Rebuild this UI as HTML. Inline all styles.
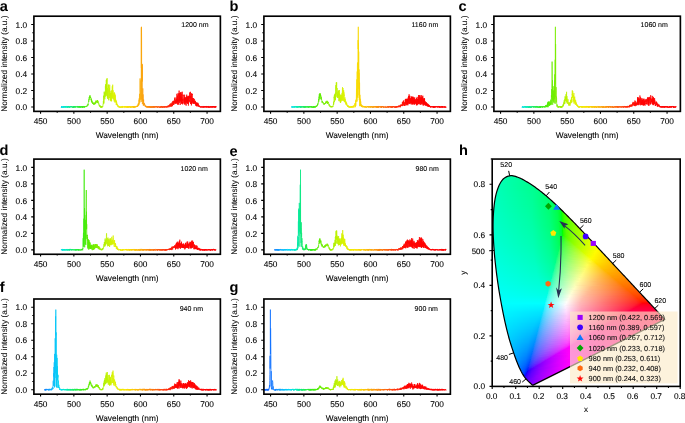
<!DOCTYPE html>
<html><head><meta charset="utf-8"><title>Figure</title>
<style>html,body{margin:0;padding:0;background:#fff;width:685px;height:423px;overflow:hidden}svg{display:block;filter:blur(0.45px)}text{font-family:"Liberation Sans",sans-serif;text-rendering:geometricPrecision}</style>
</head><body>
<svg width="685" height="423" viewBox="0 0 685 423" font-family='"Liberation Sans", sans-serif'><defs><linearGradient id="wl1" gradientUnits="userSpaceOnUse" x1="33.9" y1="0" x2="220.38" y2="0"><stop offset="0.0000" stop-color="#0a5aff"/><stop offset="0.0536" stop-color="#147dff"/><stop offset="0.1071" stop-color="#0abefa"/><stop offset="0.1429" stop-color="#00dcf0"/><stop offset="0.1714" stop-color="#00ebbe"/><stop offset="0.1929" stop-color="#0ae88c"/><stop offset="0.2143" stop-color="#19eb5a"/><stop offset="0.2500" stop-color="#2deb1e"/><stop offset="0.2857" stop-color="#50eb00"/><stop offset="0.3393" stop-color="#82ee00"/><stop offset="0.3857" stop-color="#b9f200"/><stop offset="0.4286" stop-color="#dcf200"/><stop offset="0.4821" stop-color="#f5e600"/><stop offset="0.5179" stop-color="#fad200"/><stop offset="0.5714" stop-color="#faaa0a"/><stop offset="0.6429" stop-color="#fa6e0a"/><stop offset="0.7143" stop-color="#ff280a"/><stop offset="0.7679" stop-color="#ff0000"/><stop offset="1.0000" stop-color="#ff0000"/></linearGradient><linearGradient id="wl2" gradientUnits="userSpaceOnUse" x1="263.9" y1="0" x2="450.38" y2="0"><stop offset="0.0000" stop-color="#0a5aff"/><stop offset="0.0536" stop-color="#147dff"/><stop offset="0.1071" stop-color="#0abefa"/><stop offset="0.1429" stop-color="#00dcf0"/><stop offset="0.1714" stop-color="#00ebbe"/><stop offset="0.1929" stop-color="#0ae88c"/><stop offset="0.2143" stop-color="#19eb5a"/><stop offset="0.2500" stop-color="#2deb1e"/><stop offset="0.2857" stop-color="#50eb00"/><stop offset="0.3393" stop-color="#82ee00"/><stop offset="0.3857" stop-color="#b9f200"/><stop offset="0.4286" stop-color="#dcf200"/><stop offset="0.4821" stop-color="#f5e600"/><stop offset="0.5179" stop-color="#fad200"/><stop offset="0.5714" stop-color="#faaa0a"/><stop offset="0.6429" stop-color="#fa6e0a"/><stop offset="0.7143" stop-color="#ff280a"/><stop offset="0.7679" stop-color="#ff0000"/><stop offset="1.0000" stop-color="#ff0000"/></linearGradient><linearGradient id="wl3" gradientUnits="userSpaceOnUse" x1="493.9" y1="0" x2="680.38" y2="0"><stop offset="0.0000" stop-color="#0a5aff"/><stop offset="0.0536" stop-color="#147dff"/><stop offset="0.1071" stop-color="#0abefa"/><stop offset="0.1429" stop-color="#00dcf0"/><stop offset="0.1714" stop-color="#00ebbe"/><stop offset="0.1929" stop-color="#0ae88c"/><stop offset="0.2143" stop-color="#19eb5a"/><stop offset="0.2500" stop-color="#2deb1e"/><stop offset="0.2857" stop-color="#50eb00"/><stop offset="0.3393" stop-color="#82ee00"/><stop offset="0.3857" stop-color="#b9f200"/><stop offset="0.4286" stop-color="#dcf200"/><stop offset="0.4821" stop-color="#f5e600"/><stop offset="0.5179" stop-color="#fad200"/><stop offset="0.5714" stop-color="#faaa0a"/><stop offset="0.6429" stop-color="#fa6e0a"/><stop offset="0.7143" stop-color="#ff280a"/><stop offset="0.7679" stop-color="#ff0000"/><stop offset="1.0000" stop-color="#ff0000"/></linearGradient><linearGradient id="wl4" gradientUnits="userSpaceOnUse" x1="33.9" y1="0" x2="220.38" y2="0"><stop offset="0.0000" stop-color="#0a5aff"/><stop offset="0.0536" stop-color="#147dff"/><stop offset="0.1071" stop-color="#0abefa"/><stop offset="0.1429" stop-color="#00dcf0"/><stop offset="0.1714" stop-color="#00ebbe"/><stop offset="0.1929" stop-color="#0ae88c"/><stop offset="0.2143" stop-color="#19eb5a"/><stop offset="0.2500" stop-color="#2deb1e"/><stop offset="0.2857" stop-color="#50eb00"/><stop offset="0.3393" stop-color="#82ee00"/><stop offset="0.3857" stop-color="#b9f200"/><stop offset="0.4286" stop-color="#dcf200"/><stop offset="0.4821" stop-color="#f5e600"/><stop offset="0.5179" stop-color="#fad200"/><stop offset="0.5714" stop-color="#faaa0a"/><stop offset="0.6429" stop-color="#fa6e0a"/><stop offset="0.7143" stop-color="#ff280a"/><stop offset="0.7679" stop-color="#ff0000"/><stop offset="1.0000" stop-color="#ff0000"/></linearGradient><linearGradient id="wl5" gradientUnits="userSpaceOnUse" x1="263.9" y1="0" x2="450.38" y2="0"><stop offset="0.0000" stop-color="#0a5aff"/><stop offset="0.0536" stop-color="#147dff"/><stop offset="0.1071" stop-color="#0abefa"/><stop offset="0.1429" stop-color="#00dcf0"/><stop offset="0.1714" stop-color="#00ebbe"/><stop offset="0.1929" stop-color="#0ae88c"/><stop offset="0.2143" stop-color="#19eb5a"/><stop offset="0.2500" stop-color="#2deb1e"/><stop offset="0.2857" stop-color="#50eb00"/><stop offset="0.3393" stop-color="#82ee00"/><stop offset="0.3857" stop-color="#b9f200"/><stop offset="0.4286" stop-color="#dcf200"/><stop offset="0.4821" stop-color="#f5e600"/><stop offset="0.5179" stop-color="#fad200"/><stop offset="0.5714" stop-color="#faaa0a"/><stop offset="0.6429" stop-color="#fa6e0a"/><stop offset="0.7143" stop-color="#ff280a"/><stop offset="0.7679" stop-color="#ff0000"/><stop offset="1.0000" stop-color="#ff0000"/></linearGradient><linearGradient id="wl6" gradientUnits="userSpaceOnUse" x1="33.9" y1="0" x2="220.38" y2="0"><stop offset="0.0000" stop-color="#0a5aff"/><stop offset="0.0536" stop-color="#147dff"/><stop offset="0.1071" stop-color="#0abefa"/><stop offset="0.1429" stop-color="#00dcf0"/><stop offset="0.1714" stop-color="#00ebbe"/><stop offset="0.1929" stop-color="#0ae88c"/><stop offset="0.2143" stop-color="#19eb5a"/><stop offset="0.2500" stop-color="#2deb1e"/><stop offset="0.2857" stop-color="#50eb00"/><stop offset="0.3393" stop-color="#82ee00"/><stop offset="0.3857" stop-color="#b9f200"/><stop offset="0.4286" stop-color="#dcf200"/><stop offset="0.4821" stop-color="#f5e600"/><stop offset="0.5179" stop-color="#fad200"/><stop offset="0.5714" stop-color="#faaa0a"/><stop offset="0.6429" stop-color="#fa6e0a"/><stop offset="0.7143" stop-color="#ff280a"/><stop offset="0.7679" stop-color="#ff0000"/><stop offset="1.0000" stop-color="#ff0000"/></linearGradient><linearGradient id="wl7" gradientUnits="userSpaceOnUse" x1="263.9" y1="0" x2="450.38" y2="0"><stop offset="0.0000" stop-color="#0a5aff"/><stop offset="0.0536" stop-color="#147dff"/><stop offset="0.1071" stop-color="#0abefa"/><stop offset="0.1429" stop-color="#00dcf0"/><stop offset="0.1714" stop-color="#00ebbe"/><stop offset="0.1929" stop-color="#0ae88c"/><stop offset="0.2143" stop-color="#19eb5a"/><stop offset="0.2500" stop-color="#2deb1e"/><stop offset="0.2857" stop-color="#50eb00"/><stop offset="0.3393" stop-color="#82ee00"/><stop offset="0.3857" stop-color="#b9f200"/><stop offset="0.4286" stop-color="#dcf200"/><stop offset="0.4821" stop-color="#f5e600"/><stop offset="0.5179" stop-color="#fad200"/><stop offset="0.5714" stop-color="#faaa0a"/><stop offset="0.6429" stop-color="#fa6e0a"/><stop offset="0.7143" stop-color="#ff280a"/><stop offset="0.7679" stop-color="#ff0000"/><stop offset="1.0000" stop-color="#ff0000"/></linearGradient><clipPath id="cieclip"><path d="M533.11 385.14 L533.06 385.14 L532.99 385.14 L532.91 385.14 L532.81 385.14 L532.72 385.13 L532.63 385.13 L532.54 385.12 L532.48 385.11 L532.43 385.10 L532.39 385.08 L532.36 385.06 L532.33 385.04 L532.31 385.02 L532.28 384.99 L532.25 384.96 L532.22 384.93 L532.18 384.91 L532.15 384.88 L532.11 384.84 L532.07 384.81 L532.03 384.78 L531.99 384.74 L531.94 384.70 L531.89 384.66 L531.84 384.61 L531.79 384.56 L531.73 384.51 L531.67 384.46 L531.61 384.41 L531.55 384.35 L531.49 384.29 L531.42 384.23 L531.35 384.16 L531.29 384.10 L531.22 384.03 L531.15 383.96 L531.07 383.88 L531.00 383.81 L530.92 383.73 L530.83 383.65 L530.75 383.56 L530.66 383.48 L530.57 383.39 L530.48 383.31 L530.38 383.21 L530.28 383.12 L530.17 383.02 L530.06 382.91 L529.94 382.80 L529.82 382.69 L529.69 382.58 L529.56 382.45 L529.43 382.33 L529.29 382.20 L529.15 382.07 L529.00 381.93 L528.85 381.79 L528.70 381.64 L528.54 381.50 L528.38 381.35 L528.21 381.19 L528.04 381.02 L527.87 380.85 L527.68 380.67 L527.50 380.47 L527.31 380.28 L527.11 380.08 L526.91 379.86 L526.70 379.64 L526.48 379.41 L526.26 379.16 L526.04 378.90 L525.81 378.63 L525.58 378.36 L525.35 378.08 L525.11 377.78 L524.86 377.47 L524.60 377.12 L524.33 376.74 L524.04 376.32 L523.75 375.87 L523.44 375.39 L523.12 374.89 L522.79 374.36 L522.45 373.79 L522.10 373.17 L521.74 372.51 L521.36 371.80 L520.98 371.05 L520.58 370.27 L520.18 369.45 L519.76 368.58 L519.33 367.66 L518.89 366.67 L518.43 365.61 L517.96 364.47 L517.47 363.27 L516.97 362.01 L516.45 360.68 L515.92 359.29 L515.38 357.82 L514.82 356.27 L514.25 354.63 L513.66 352.88 L513.04 351.05 L512.40 349.13 L511.75 347.14 L511.07 345.06 L510.39 342.88 L509.71 340.60 L509.02 338.21 L508.34 335.70 L507.67 333.08 L506.98 330.35 L506.29 327.52 L505.60 324.58 L504.91 321.54 L504.22 318.41 L503.54 315.19 L502.87 311.88 L502.20 308.46 L501.52 304.91 L500.85 301.26 L500.18 297.51 L499.52 293.71 L498.89 289.87 L498.29 286.01 L497.72 282.15 L497.18 278.26 L496.65 274.30 L496.15 270.29 L495.67 266.26 L495.22 262.22 L494.81 258.22 L494.44 254.27 L494.13 250.40 L493.85 246.58 L493.61 242.76 L493.41 238.97 L493.25 235.22 L493.14 231.53 L493.07 227.92 L493.06 224.40 L493.12 221.00 L493.23 217.67 L493.39 214.40 L493.60 211.20 L493.86 208.09 L494.18 205.08 L494.55 202.20 L494.98 199.47 L495.47 196.90 L496.02 194.47 L496.63 192.16 L497.30 189.98 L498.03 187.93 L498.80 186.03 L499.62 184.28 L500.47 182.70 L501.34 181.29 L502.26 180.07 L503.22 179.03 L504.24 178.16 L505.28 177.44 L506.36 176.86 L507.45 176.40 L508.55 176.05 L509.66 175.78 L510.78 175.64 L511.93 175.66 L513.09 175.82 L514.27 176.08 L515.46 176.42 L516.66 176.82 L517.85 177.26 L519.04 177.70 L520.22 178.18 L521.42 178.73 L522.62 179.35 L523.82 180.00 L525.02 180.69 L526.21 181.40 L527.39 182.12 L528.55 182.83 L529.70 183.54 L530.85 184.28 L531.98 185.02 L533.10 185.79 L534.21 186.57 L535.32 187.36 L536.43 188.16 L537.53 188.97 L538.63 189.79 L539.72 190.62 L540.80 191.47 L541.87 192.33 L542.95 193.19 L544.02 194.07 L545.09 194.96 L546.16 195.86 L547.23 196.77 L548.29 197.70 L549.36 198.63 L550.42 199.58 L551.48 200.53 L552.55 201.50 L553.60 202.47 L554.66 203.44 L555.72 204.43 L556.77 205.42 L557.83 206.42 L558.88 207.43 L559.93 208.45 L560.98 209.47 L562.03 210.49 L563.08 211.53 L564.13 212.56 L565.17 213.60 L566.22 214.65 L567.27 215.71 L568.32 216.76 L569.37 217.83 L570.42 218.89 L571.47 219.96 L572.52 221.04 L573.57 222.11 L574.62 223.20 L575.67 224.28 L576.73 225.37 L577.78 226.46 L578.83 227.56 L579.88 228.65 L580.93 229.75 L581.97 230.85 L583.02 231.95 L584.07 233.05 L585.11 234.16 L586.16 235.26 L587.20 236.36 L588.24 237.47 L589.29 238.57 L590.33 239.67 L591.37 240.78 L592.42 241.88 L593.46 242.98 L594.50 244.09 L595.53 245.19 L596.56 246.28 L597.59 247.38 L598.62 248.47 L599.64 249.57 L600.67 250.66 L601.68 251.75 L602.70 252.84 L603.71 253.92 L604.72 255.00 L605.72 256.07 L606.72 257.14 L607.72 258.21 L608.71 259.28 L609.70 260.34 L610.69 261.39 L611.66 262.44 L612.64 263.48 L613.61 264.52 L614.57 265.55 L615.53 266.58 L616.48 267.61 L617.43 268.62 L618.37 269.63 L619.30 270.63 L620.23 271.62 L621.15 272.60 L622.06 273.58 L622.97 274.54 L623.87 275.50 L624.76 276.45 L625.64 277.40 L626.51 278.33 L627.37 279.25 L628.22 280.16 L629.06 281.06 L629.90 281.96 L630.72 282.84 L631.53 283.72 L632.33 284.58 L633.11 285.42 L633.88 286.24 L634.63 287.05 L635.37 287.84 L636.10 288.62 L636.81 289.38 L637.51 290.13 L638.20 290.86 L638.88 291.59 L639.54 292.31 L640.21 293.01 L640.86 293.71 L641.50 294.40 L642.13 295.08 L642.75 295.74 L643.36 296.39 L643.95 297.02 L644.53 297.64 L645.09 298.24 L645.64 298.82 L646.17 299.39 L646.70 299.94 L647.21 300.48 L647.70 301.01 L648.19 301.53 L648.66 302.03 L649.12 302.53 L649.57 303.01 L650.01 303.48 L650.43 303.93 L650.85 304.38 L651.25 304.81 L651.64 305.23 L652.02 305.64 L652.39 306.04 L652.75 306.43 L653.10 306.80 L653.44 307.17 L653.77 307.52 L654.09 307.86 L654.40 308.20 L654.70 308.52 L655.00 308.84 L655.29 309.14 L655.56 309.44 L655.83 309.72 L656.09 310.00 L656.35 310.27 L656.60 310.54 L656.84 310.80 L657.08 311.05 L657.31 311.30 L657.53 311.53 L657.74 311.76 L657.95 311.99 L658.16 312.21 L658.36 312.43 L658.56 312.64 L658.75 312.85 L658.94 313.05 L659.13 313.25 L659.31 313.45 L659.48 313.64 L659.66 313.82 L659.83 314.00 L659.99 314.18 L660.15 314.35 L660.31 314.52 L660.46 314.69 L660.61 314.85 L660.75 315.00 L660.89 315.15 L661.03 315.30 L661.16 315.44 L661.30 315.58 L661.42 315.72 L661.55 315.84 L661.66 315.97 L661.78 316.09 L661.89 316.21 L662.00 316.32 L662.11 316.43 L662.21 316.54 L662.30 316.64 L662.39 316.74 L662.48 316.83 L662.57 316.93 L662.65 317.02 L662.73 317.10 L662.81 317.19 L662.89 317.27 L662.96 317.35 L663.03 317.43 L663.10 317.50 L663.17 317.57 L663.23 317.64 L663.29 317.70 L663.35 317.77 L663.41 317.83 L663.46 317.89 L663.52 317.95 L663.57 318.00 L663.62 318.05 L663.66 318.10 L663.71 318.15 L663.75 318.20 L663.79 318.24 L663.83 318.28 L663.86 318.32 L663.89 318.35 L663.92 318.38 L663.95 318.41 L663.98 318.44 L664.01 318.48 L664.04 318.51 L664.07 318.54 L664.09 318.57 L664.12 318.60 L664.15 318.62 L664.17 318.65 L664.20 318.68 L664.22 318.70 L664.24 318.73 L664.26 318.75 L664.29 318.77 L664.31 318.79 L664.32 318.82 L664.34 318.84 L664.36 318.86 L664.38 318.88 L664.41 318.90 L664.43 318.92 L664.45 318.95 L664.47 318.97 L664.49 318.99 L664.51 319.01 L664.53 319.04 L664.55 319.06 L664.57 319.08 L664.59 319.10 L664.61 319.12 L664.62 319.14 L664.64 319.16 L664.66 319.17 L664.67 319.19 L664.69 319.21 L664.70 319.22 L664.72 319.24 L664.73 319.25 L664.74 319.27 L664.75 319.28 L664.76 319.29 L664.77 319.30 L664.78 319.31 L664.79 319.32 L664.80 319.33 L664.81 319.33 L664.81 319.34 L664.82 319.35 L664.82 319.35 L664.83 319.36 L664.83 319.36 L664.84 319.36 L664.84 319.37 L664.84 319.37 L664.85 319.38 L664.85 319.38 L664.85 319.38 L664.85 319.38 L664.85 319.39 Z"/></clipPath><linearGradient id="r176" x1="0" x2="1" y1="0" y2="0"><stop offset="0.000" stop-color="#00ffac"/><stop offset="1.000" stop-color="#00ffa1"/></linearGradient><linearGradient id="r177" x1="0" x2="1" y1="0" y2="0"><stop offset="0.000" stop-color="#00ffae"/><stop offset="0.970" stop-color="#00ff9f"/></linearGradient><linearGradient id="r178" x1="0" x2="1" y1="0" y2="0"><stop offset="0.000" stop-color="#00ffb0"/><stop offset="0.976" stop-color="#00ff9d"/></linearGradient><linearGradient id="r179" x1="0" x2="1" y1="0" y2="0"><stop offset="0.000" stop-color="#00ffb1"/><stop offset="0.979" stop-color="#00ff9a"/></linearGradient><linearGradient id="r180" x1="0" x2="1" y1="0" y2="0"><stop offset="0.000" stop-color="#00ffb2"/><stop offset="0.981" stop-color="#00ff98"/></linearGradient><linearGradient id="r181" x1="0" x2="1" y1="0" y2="0"><stop offset="0.000" stop-color="#00ffb3"/><stop offset="0.982" stop-color="#00ff97"/></linearGradient><linearGradient id="r182" x1="0" x2="1" y1="0" y2="0"><stop offset="0.000" stop-color="#00ffb4"/><stop offset="1.000" stop-color="#00ff93"/></linearGradient><linearGradient id="r183" x1="0" x2="1" y1="0" y2="0"><stop offset="0.000" stop-color="#00ffb5"/><stop offset="1.000" stop-color="#00ff91"/></linearGradient><linearGradient id="r184" x1="0" x2="1" y1="0" y2="0"><stop offset="0.000" stop-color="#00ffb5"/><stop offset="1.000" stop-color="#00ff8f"/></linearGradient><linearGradient id="r185" x1="0" x2="1" y1="0" y2="0"><stop offset="0.000" stop-color="#00ffb6"/><stop offset="1.000" stop-color="#00ff8d"/></linearGradient><linearGradient id="r186" x1="0" x2="1" y1="0" y2="0"><stop offset="0.000" stop-color="#00ffb7"/><stop offset="0.949" stop-color="#00ff8e"/><stop offset="1.000" stop-color="#00ff8b"/></linearGradient><linearGradient id="r187" x1="0" x2="1" y1="0" y2="0"><stop offset="0.000" stop-color="#00ffb8"/><stop offset="0.902" stop-color="#00ff90"/><stop offset="1.000" stop-color="#00ff88"/></linearGradient><linearGradient id="r188" x1="0" x2="1" y1="0" y2="0"><stop offset="0.000" stop-color="#00ffb8"/><stop offset="0.894" stop-color="#00ff8f"/><stop offset="0.988" stop-color="#00ff88"/></linearGradient><linearGradient id="r189" x1="0" x2="1" y1="0" y2="0"><stop offset="0.000" stop-color="#00ffb9"/><stop offset="0.854" stop-color="#00ff91"/><stop offset="0.989" stop-color="#00ff85"/></linearGradient><linearGradient id="r190" x1="0" x2="1" y1="0" y2="0"><stop offset="0.000" stop-color="#00ffb9"/><stop offset="0.826" stop-color="#00ff91"/><stop offset="1.000" stop-color="#00ff81"/></linearGradient><linearGradient id="r191" x1="0" x2="1" y1="0" y2="0"><stop offset="0.000" stop-color="#00ffba"/><stop offset="0.800" stop-color="#00ff93"/><stop offset="0.989" stop-color="#00ff80"/></linearGradient><linearGradient id="r192" x1="0" x2="1" y1="0" y2="0"><stop offset="0.000" stop-color="#00ffbb"/><stop offset="0.776" stop-color="#00ff93"/><stop offset="1.000" stop-color="#00ff7c"/></linearGradient><linearGradient id="r193" x1="0" x2="1" y1="0" y2="0"><stop offset="0.000" stop-color="#00ffbb"/><stop offset="0.752" stop-color="#00ff95"/><stop offset="0.990" stop-color="#00ff7b"/></linearGradient><linearGradient id="r194" x1="0" x2="1" y1="0" y2="0"><stop offset="0.000" stop-color="#00ffbc"/><stop offset="0.731" stop-color="#00ff95"/><stop offset="1.000" stop-color="#00ff75"/></linearGradient><linearGradient id="r195" x1="0" x2="1" y1="0" y2="0"><stop offset="0.000" stop-color="#00ffbc"/><stop offset="0.729" stop-color="#00ff95"/><stop offset="0.991" stop-color="#00ff74"/></linearGradient><linearGradient id="r196" x1="0" x2="1" y1="0" y2="0"><stop offset="0.000" stop-color="#00ffbd"/><stop offset="0.716" stop-color="#00ff95"/><stop offset="0.991" stop-color="#00ff72"/></linearGradient><linearGradient id="r197" x1="0" x2="1" y1="0" y2="0"><stop offset="0.000" stop-color="#00ffbe"/><stop offset="0.690" stop-color="#00ff97"/><stop offset="0.991" stop-color="#00ff6d"/></linearGradient><linearGradient id="r198" x1="0" x2="1" y1="0" y2="0"><stop offset="0.000" stop-color="#00ffbe"/><stop offset="0.678" stop-color="#00ff97"/><stop offset="0.991" stop-color="#00ff6a"/></linearGradient><linearGradient id="r199" x1="0" x2="1" y1="0" y2="0"><stop offset="0.000" stop-color="#00ffbf"/><stop offset="0.661" stop-color="#00ff98"/><stop offset="0.966" stop-color="#00ff6c"/><stop offset="1.000" stop-color="#00ff64"/></linearGradient><linearGradient id="r200" x1="0" x2="1" y1="0" y2="0"><stop offset="0.000" stop-color="#00ffbf"/><stop offset="0.650" stop-color="#00ff99"/><stop offset="0.950" stop-color="#00ff6d"/><stop offset="1.000" stop-color="#00ff60"/></linearGradient><linearGradient id="r201" x1="0" x2="1" y1="0" y2="0"><stop offset="0.000" stop-color="#00ffc0"/><stop offset="0.634" stop-color="#00ff9a"/><stop offset="0.927" stop-color="#00ff6d"/><stop offset="0.992" stop-color="#00ff5b"/></linearGradient><linearGradient id="r202" x1="0" x2="1" y1="0" y2="0"><stop offset="0.000" stop-color="#00ffc0"/><stop offset="0.624" stop-color="#00ff9a"/><stop offset="0.912" stop-color="#00ff6e"/><stop offset="0.992" stop-color="#00ff56"/></linearGradient><linearGradient id="r203" x1="0" x2="1" y1="0" y2="0"><stop offset="0.000" stop-color="#00ffc1"/><stop offset="0.625" stop-color="#00ff9a"/><stop offset="0.906" stop-color="#00ff6d"/><stop offset="1.000" stop-color="#00ff4d"/></linearGradient><linearGradient id="r204" x1="0" x2="1" y1="0" y2="0"><stop offset="0.000" stop-color="#00ffc1"/><stop offset="0.615" stop-color="#00ff9a"/><stop offset="0.892" stop-color="#00ff6d"/><stop offset="1.000" stop-color="#00ff46"/></linearGradient><linearGradient id="r205" x1="0" x2="1" y1="0" y2="0"><stop offset="0.000" stop-color="#00ffc2"/><stop offset="0.606" stop-color="#00ff9b"/><stop offset="0.879" stop-color="#00ff6e"/><stop offset="0.985" stop-color="#00ff46"/><stop offset="1.000" stop-color="#00ff3d"/></linearGradient><linearGradient id="r206" x1="0" x2="1" y1="0" y2="0"><stop offset="0.000" stop-color="#00ffc2"/><stop offset="0.597" stop-color="#00ff9b"/><stop offset="0.866" stop-color="#00ff6e"/><stop offset="0.970" stop-color="#00ff47"/><stop offset="1.000" stop-color="#00ff32"/></linearGradient><linearGradient id="r207" x1="0" x2="1" y1="0" y2="0"><stop offset="0.000" stop-color="#00ffc3"/><stop offset="0.584" stop-color="#00ff9d"/><stop offset="0.847" stop-color="#00ff71"/><stop offset="0.964" stop-color="#00ff43"/><stop offset="0.993" stop-color="#00ff2c"/></linearGradient><linearGradient id="r208" x1="0" x2="1" y1="0" y2="0"><stop offset="0.000" stop-color="#00ffc3"/><stop offset="0.576" stop-color="#00ff9d"/><stop offset="0.835" stop-color="#00ff72"/><stop offset="0.950" stop-color="#00ff44"/><stop offset="0.978" stop-color="#00ff2d"/><stop offset="0.993" stop-color="#00ff19"/></linearGradient><linearGradient id="r209" x1="0" x2="1" y1="0" y2="0"><stop offset="0.000" stop-color="#00ffc4"/><stop offset="0.563" stop-color="#00ff9e"/><stop offset="0.817" stop-color="#00ff72"/><stop offset="0.930" stop-color="#00ff45"/><stop offset="0.958" stop-color="#00ff2e"/><stop offset="0.972" stop-color="#00ff1a"/><stop offset="0.986" stop-color="#14ff00"/><stop offset="1.000" stop-color="#2bff00"/></linearGradient><linearGradient id="r210" x1="0" x2="1" y1="0" y2="0"><stop offset="0.000" stop-color="#00ffc4"/><stop offset="0.556" stop-color="#00ff9f"/><stop offset="0.806" stop-color="#00ff73"/><stop offset="0.917" stop-color="#00ff46"/><stop offset="0.944" stop-color="#00ff2f"/><stop offset="0.958" stop-color="#00ff1b"/><stop offset="0.972" stop-color="#13ff00"/><stop offset="1.000" stop-color="#3aff00"/></linearGradient><linearGradient id="r211" x1="0" x2="1" y1="0" y2="0"><stop offset="0.000" stop-color="#00ffc4"/><stop offset="0.548" stop-color="#00ff9f"/><stop offset="0.795" stop-color="#00ff74"/><stop offset="0.904" stop-color="#00ff46"/><stop offset="0.932" stop-color="#00ff30"/><stop offset="0.945" stop-color="#00ff1d"/><stop offset="0.959" stop-color="#11ff00"/><stop offset="0.973" stop-color="#2aff00"/><stop offset="1.000" stop-color="#45ff00"/></linearGradient><linearGradient id="r212" x1="0" x2="1" y1="0" y2="0"><stop offset="0.000" stop-color="#00ffc5"/><stop offset="0.541" stop-color="#00ffa0"/><stop offset="0.784" stop-color="#00ff74"/><stop offset="0.892" stop-color="#00ff47"/><stop offset="0.932" stop-color="#00ff1e"/><stop offset="0.946" stop-color="#10ff00"/><stop offset="0.959" stop-color="#2aff00"/><stop offset="1.000" stop-color="#4fff00"/></linearGradient><linearGradient id="r213" x1="0" x2="1" y1="0" y2="0"><stop offset="0.000" stop-color="#00ffc6"/><stop offset="0.530" stop-color="#00ffa1"/><stop offset="0.768" stop-color="#00ff77"/><stop offset="0.874" stop-color="#00ff4c"/><stop offset="0.914" stop-color="#00ff2a"/><stop offset="0.927" stop-color="#00ff0f"/><stop offset="0.940" stop-color="#1fff00"/><stop offset="0.980" stop-color="#4aff00"/><stop offset="0.993" stop-color="#53ff00"/></linearGradient><linearGradient id="r214" x1="0" x2="1" y1="0" y2="0"><stop offset="0.000" stop-color="#00ffc6"/><stop offset="0.523" stop-color="#00ffa2"/><stop offset="0.758" stop-color="#00ff77"/><stop offset="0.863" stop-color="#00ff4d"/><stop offset="0.902" stop-color="#00ff2b"/><stop offset="0.915" stop-color="#00ff11"/><stop offset="0.928" stop-color="#1eff00"/><stop offset="0.954" stop-color="#3fff00"/><stop offset="0.993" stop-color="#5bff00"/></linearGradient><linearGradient id="r215" x1="0" x2="1" y1="0" y2="0"><stop offset="0.000" stop-color="#00ffc7"/><stop offset="0.516" stop-color="#00ffa2"/><stop offset="0.748" stop-color="#00ff78"/><stop offset="0.852" stop-color="#00ff4e"/><stop offset="0.890" stop-color="#00ff2c"/><stop offset="0.903" stop-color="#00ff13"/><stop offset="0.916" stop-color="#1dff00"/><stop offset="0.942" stop-color="#3fff00"/><stop offset="0.994" stop-color="#63ff00"/></linearGradient><linearGradient id="r216" x1="0" x2="1" y1="0" y2="0"><stop offset="0.000" stop-color="#00ffc7"/><stop offset="0.510" stop-color="#00ffa3"/><stop offset="0.739" stop-color="#00ff79"/><stop offset="0.841" stop-color="#00ff4e"/><stop offset="0.879" stop-color="#00ff2d"/><stop offset="0.892" stop-color="#00ff15"/><stop offset="0.904" stop-color="#1cff00"/><stop offset="0.930" stop-color="#3fff00"/><stop offset="0.994" stop-color="#6aff00"/></linearGradient><linearGradient id="r217" x1="0" x2="1" y1="0" y2="0"><stop offset="0.000" stop-color="#00ffc7"/><stop offset="0.503" stop-color="#00ffa3"/><stop offset="0.730" stop-color="#00ff79"/><stop offset="0.830" stop-color="#00ff4f"/><stop offset="0.868" stop-color="#00ff2e"/><stop offset="0.881" stop-color="#00ff17"/><stop offset="0.893" stop-color="#1bff00"/><stop offset="0.918" stop-color="#3fff00"/><stop offset="0.994" stop-color="#71ff00"/></linearGradient><linearGradient id="r218" x1="0" x2="1" y1="0" y2="0"><stop offset="0.000" stop-color="#00ffc8"/><stop offset="0.497" stop-color="#00ffa4"/><stop offset="0.720" stop-color="#00ff7a"/><stop offset="0.820" stop-color="#00ff50"/><stop offset="0.857" stop-color="#00ff2f"/><stop offset="0.870" stop-color="#00ff18"/><stop offset="0.882" stop-color="#19ff00"/><stop offset="0.907" stop-color="#3eff00"/><stop offset="0.981" stop-color="#71ff00"/><stop offset="0.994" stop-color="#77ff00"/></linearGradient><linearGradient id="r219" x1="0" x2="1" y1="0" y2="0"><stop offset="0.000" stop-color="#00ffc8"/><stop offset="0.491" stop-color="#00ffa5"/><stop offset="0.712" stop-color="#00ff7b"/><stop offset="0.810" stop-color="#00ff51"/><stop offset="0.847" stop-color="#00ff30"/><stop offset="0.859" stop-color="#00ff1a"/><stop offset="0.871" stop-color="#18ff00"/><stop offset="0.896" stop-color="#3eff00"/><stop offset="0.969" stop-color="#71ff00"/><stop offset="0.994" stop-color="#7dff00"/></linearGradient><linearGradient id="r220" x1="0" x2="1" y1="0" y2="0"><stop offset="0.000" stop-color="#00ffc9"/><stop offset="0.488" stop-color="#00ffa5"/><stop offset="0.707" stop-color="#00ff7c"/><stop offset="0.805" stop-color="#00ff52"/><stop offset="0.841" stop-color="#00ff31"/><stop offset="0.854" stop-color="#00ff1c"/><stop offset="0.866" stop-color="#17ff00"/><stop offset="0.890" stop-color="#3eff00"/><stop offset="0.963" stop-color="#72ff00"/><stop offset="1.000" stop-color="#83ff00"/></linearGradient><linearGradient id="r221" x1="0" x2="1" y1="0" y2="0"><stop offset="0.000" stop-color="#00ffc9"/><stop offset="0.482" stop-color="#00ffa6"/><stop offset="0.699" stop-color="#00ff7c"/><stop offset="0.795" stop-color="#00ff52"/><stop offset="0.831" stop-color="#00ff32"/><stop offset="0.843" stop-color="#00ff1d"/><stop offset="0.855" stop-color="#15ff00"/><stop offset="0.880" stop-color="#3eff00"/><stop offset="0.952" stop-color="#72ff00"/><stop offset="1.000" stop-color="#89ff00"/></linearGradient><linearGradient id="r222" x1="0" x2="1" y1="0" y2="0"><stop offset="0.000" stop-color="#00ffca"/><stop offset="0.476" stop-color="#00ffa7"/><stop offset="0.690" stop-color="#00ff7d"/><stop offset="0.786" stop-color="#00ff53"/><stop offset="0.821" stop-color="#00ff33"/><stop offset="0.833" stop-color="#00ff1e"/><stop offset="0.845" stop-color="#14ff00"/><stop offset="0.857" stop-color="#2eff00"/><stop offset="0.905" stop-color="#5dff00"/><stop offset="1.000" stop-color="#8eff00"/></linearGradient><linearGradient id="r223" x1="0" x2="1" y1="0" y2="0"><stop offset="0.000" stop-color="#00ffca"/><stop offset="0.471" stop-color="#00ffa7"/><stop offset="0.682" stop-color="#00ff7e"/><stop offset="0.776" stop-color="#00ff54"/><stop offset="0.812" stop-color="#00ff34"/><stop offset="0.824" stop-color="#00ff20"/><stop offset="0.835" stop-color="#12ff00"/><stop offset="0.847" stop-color="#2dff00"/><stop offset="0.894" stop-color="#5dff00"/><stop offset="1.000" stop-color="#94ff00"/></linearGradient><linearGradient id="r224" x1="0" x2="1" y1="0" y2="0"><stop offset="0.000" stop-color="#00ffcb"/><stop offset="0.477" stop-color="#00ffa6"/><stop offset="0.686" stop-color="#00ff7b"/><stop offset="0.779" stop-color="#00ff4c"/><stop offset="0.802" stop-color="#00ff35"/><stop offset="0.814" stop-color="#00ff21"/><stop offset="0.826" stop-color="#10ff00"/><stop offset="0.837" stop-color="#2dff00"/><stop offset="0.884" stop-color="#5dff00"/><stop offset="1.000" stop-color="#99ff00"/></linearGradient><linearGradient id="r225" x1="0" x2="1" y1="0" y2="0"><stop offset="0.000" stop-color="#00ffcb"/><stop offset="0.471" stop-color="#00ffa7"/><stop offset="0.678" stop-color="#00ff7b"/><stop offset="0.770" stop-color="#00ff4d"/><stop offset="0.805" stop-color="#00ff23"/><stop offset="0.816" stop-color="#0eff00"/><stop offset="0.828" stop-color="#2cff00"/><stop offset="0.874" stop-color="#5dff00"/><stop offset="0.989" stop-color="#9aff00"/><stop offset="1.000" stop-color="#9eff00"/></linearGradient><linearGradient id="r226" x1="0" x2="1" y1="0" y2="0"><stop offset="0.000" stop-color="#00ffcc"/><stop offset="0.466" stop-color="#00ffa8"/><stop offset="0.670" stop-color="#00ff7c"/><stop offset="0.761" stop-color="#00ff4e"/><stop offset="0.795" stop-color="#00ff24"/><stop offset="0.807" stop-color="#0bff00"/><stop offset="0.818" stop-color="#2cff00"/><stop offset="0.852" stop-color="#54ff00"/><stop offset="0.955" stop-color="#91ff00"/><stop offset="1.000" stop-color="#a3ff00"/></linearGradient><linearGradient id="r227" x1="0" x2="1" y1="0" y2="0"><stop offset="0.000" stop-color="#00ffcc"/><stop offset="0.461" stop-color="#00ffa8"/><stop offset="0.663" stop-color="#00ff7d"/><stop offset="0.753" stop-color="#00ff4f"/><stop offset="0.787" stop-color="#00ff25"/><stop offset="0.798" stop-color="#09ff00"/><stop offset="0.809" stop-color="#2bff00"/><stop offset="0.843" stop-color="#54ff00"/><stop offset="0.933" stop-color="#8cff00"/><stop offset="1.000" stop-color="#a8ff00"/></linearGradient><linearGradient id="r228" x1="0" x2="1" y1="0" y2="0"><stop offset="0.000" stop-color="#00ffcd"/><stop offset="0.456" stop-color="#00ffa9"/><stop offset="0.656" stop-color="#00ff7e"/><stop offset="0.744" stop-color="#00ff50"/><stop offset="0.778" stop-color="#00ff27"/><stop offset="0.789" stop-color="#06ff00"/><stop offset="0.800" stop-color="#2bff00"/><stop offset="0.833" stop-color="#54ff00"/><stop offset="0.922" stop-color="#8dff00"/><stop offset="1.000" stop-color="#adff00"/></linearGradient><linearGradient id="r229" x1="0" x2="1" y1="0" y2="0"><stop offset="0.000" stop-color="#00ffcd"/><stop offset="0.451" stop-color="#00ffaa"/><stop offset="0.648" stop-color="#00ff7f"/><stop offset="0.736" stop-color="#00ff51"/><stop offset="0.769" stop-color="#00ff28"/><stop offset="0.780" stop-color="#02ff00"/><stop offset="0.791" stop-color="#2aff00"/><stop offset="0.824" stop-color="#55ff00"/><stop offset="0.912" stop-color="#8eff00"/><stop offset="1.000" stop-color="#b2ff00"/></linearGradient><linearGradient id="r230" x1="0" x2="1" y1="0" y2="0"><stop offset="0.000" stop-color="#00ffce"/><stop offset="0.446" stop-color="#00ffaa"/><stop offset="0.641" stop-color="#00ff7f"/><stop offset="0.728" stop-color="#00ff51"/><stop offset="0.761" stop-color="#00ff29"/><stop offset="0.772" stop-color="#00ff01"/><stop offset="0.783" stop-color="#29ff00"/><stop offset="0.815" stop-color="#55ff00"/><stop offset="0.902" stop-color="#8eff00"/><stop offset="1.000" stop-color="#b7ff00"/></linearGradient><linearGradient id="r231" x1="0" x2="1" y1="0" y2="0"><stop offset="0.000" stop-color="#00ffce"/><stop offset="0.441" stop-color="#00ffab"/><stop offset="0.634" stop-color="#00ff80"/><stop offset="0.720" stop-color="#00ff52"/><stop offset="0.753" stop-color="#00ff2a"/><stop offset="0.763" stop-color="#00ff04"/><stop offset="0.774" stop-color="#28ff00"/><stop offset="0.806" stop-color="#55ff00"/><stop offset="0.892" stop-color="#8fff00"/><stop offset="1.000" stop-color="#bcff00"/></linearGradient><linearGradient id="r232" x1="0" x2="1" y1="0" y2="0"><stop offset="0.000" stop-color="#00ffcf"/><stop offset="0.436" stop-color="#00ffac"/><stop offset="0.628" stop-color="#00ff81"/><stop offset="0.713" stop-color="#00ff53"/><stop offset="0.745" stop-color="#00ff2c"/><stop offset="0.755" stop-color="#00ff08"/><stop offset="0.766" stop-color="#28ff00"/><stop offset="0.798" stop-color="#55ff00"/><stop offset="0.883" stop-color="#90ff00"/><stop offset="1.000" stop-color="#c1ff00"/></linearGradient><linearGradient id="r233" x1="0" x2="1" y1="0" y2="0"><stop offset="0.000" stop-color="#00ffcf"/><stop offset="0.434" stop-color="#00ffac"/><stop offset="0.624" stop-color="#00ff82"/><stop offset="0.709" stop-color="#00ff54"/><stop offset="0.741" stop-color="#00ff2d"/><stop offset="0.751" stop-color="#00ff0b"/><stop offset="0.762" stop-color="#27ff00"/><stop offset="0.794" stop-color="#55ff00"/><stop offset="0.878" stop-color="#90ff00"/><stop offset="0.995" stop-color="#c2ff00"/></linearGradient><linearGradient id="r234" x1="0" x2="1" y1="0" y2="0"><stop offset="0.000" stop-color="#00ffd0"/><stop offset="0.429" stop-color="#00ffad"/><stop offset="0.618" stop-color="#00ff83"/><stop offset="0.702" stop-color="#00ff55"/><stop offset="0.733" stop-color="#00ff2e"/><stop offset="0.743" stop-color="#00ff0e"/><stop offset="0.754" stop-color="#26ff00"/><stop offset="0.785" stop-color="#55ff00"/><stop offset="0.869" stop-color="#91ff00"/><stop offset="0.995" stop-color="#c7ff00"/></linearGradient><linearGradient id="r235" x1="0" x2="1" y1="0" y2="0"><stop offset="0.000" stop-color="#00ffd0"/><stop offset="0.425" stop-color="#00ffae"/><stop offset="0.611" stop-color="#00ff83"/><stop offset="0.694" stop-color="#00ff56"/><stop offset="0.725" stop-color="#00ff2f"/><stop offset="0.736" stop-color="#00ff11"/><stop offset="0.746" stop-color="#25ff00"/><stop offset="0.767" stop-color="#49ff00"/><stop offset="0.829" stop-color="#7fff00"/><stop offset="0.974" stop-color="#c4ff00"/><stop offset="0.995" stop-color="#ccff00"/></linearGradient><linearGradient id="r236" x1="0" x2="1" y1="0" y2="0"><stop offset="0.000" stop-color="#00ffd1"/><stop offset="0.421" stop-color="#00ffaf"/><stop offset="0.605" stop-color="#00ff84"/><stop offset="0.687" stop-color="#00ff57"/><stop offset="0.718" stop-color="#00ff31"/><stop offset="0.728" stop-color="#0eff1b"/><stop offset="0.738" stop-color="#2bff12"/><stop offset="0.749" stop-color="#3bff03"/><stop offset="0.800" stop-color="#71ff00"/><stop offset="0.923" stop-color="#b5ff00"/><stop offset="0.995" stop-color="#d1ff00"/></linearGradient><linearGradient id="r237" x1="0" x2="1" y1="0" y2="0"><stop offset="0.000" stop-color="#00ffd1"/><stop offset="0.416" stop-color="#00ffaf"/><stop offset="0.599" stop-color="#00ff85"/><stop offset="0.680" stop-color="#00ff58"/><stop offset="0.711" stop-color="#00ff32"/><stop offset="0.731" stop-color="#30ff1d"/><stop offset="0.761" stop-color="#56ff00"/><stop offset="0.843" stop-color="#93ff00"/><stop offset="0.995" stop-color="#d5ff00"/></linearGradient><linearGradient id="r238" x1="0" x2="1" y1="0" y2="0"><stop offset="0.000" stop-color="#00ffd2"/><stop offset="0.412" stop-color="#00ffb0"/><stop offset="0.593" stop-color="#00ff86"/><stop offset="0.673" stop-color="#00ff59"/><stop offset="0.704" stop-color="#00ff33"/><stop offset="0.714" stop-color="#20ff2a"/><stop offset="0.744" stop-color="#4dff16"/><stop offset="0.764" stop-color="#60ff00"/><stop offset="0.854" stop-color="#9fff00"/><stop offset="0.995" stop-color="#daff00"/></linearGradient><linearGradient id="r239" x1="0" x2="1" y1="0" y2="0"><stop offset="0.000" stop-color="#00ffd2"/><stop offset="0.408" stop-color="#00ffb1"/><stop offset="0.587" stop-color="#00ff87"/><stop offset="0.667" stop-color="#00ff5a"/><stop offset="0.697" stop-color="#00ff35"/><stop offset="0.706" stop-color="#26ff30"/><stop offset="0.736" stop-color="#50ff20"/><stop offset="0.766" stop-color="#6aff00"/><stop offset="0.866" stop-color="#aaff00"/><stop offset="0.995" stop-color="#dfff00"/></linearGradient><linearGradient id="r240" x1="0" x2="1" y1="0" y2="0"><stop offset="0.000" stop-color="#00ffd3"/><stop offset="0.404" stop-color="#00ffb2"/><stop offset="0.581" stop-color="#00ff88"/><stop offset="0.660" stop-color="#00ff5b"/><stop offset="0.680" stop-color="#00ff45"/><stop offset="0.690" stop-color="#10ff39"/><stop offset="0.700" stop-color="#2cff36"/><stop offset="0.739" stop-color="#5cff21"/><stop offset="0.768" stop-color="#73ff00"/><stop offset="0.877" stop-color="#b5ff00"/><stop offset="0.995" stop-color="#e4ff00"/></linearGradient><linearGradient id="r241" x1="0" x2="1" y1="0" y2="0"><stop offset="0.000" stop-color="#00ffd3"/><stop offset="0.402" stop-color="#00ffb2"/><stop offset="0.569" stop-color="#00ff8b"/><stop offset="0.647" stop-color="#00ff60"/><stop offset="0.676" stop-color="#01ff40"/><stop offset="0.686" stop-color="#27ff3c"/><stop offset="0.716" stop-color="#51ff30"/><stop offset="0.755" stop-color="#72ff17"/><stop offset="0.775" stop-color="#7fff00"/><stop offset="0.902" stop-color="#c5ff00"/><stop offset="1.000" stop-color="#ebff00"/></linearGradient><linearGradient id="r242" x1="0" x2="1" y1="0" y2="0"><stop offset="0.000" stop-color="#00ffd4"/><stop offset="0.398" stop-color="#00ffb3"/><stop offset="0.563" stop-color="#00ff8c"/><stop offset="0.641" stop-color="#00ff61"/><stop offset="0.660" stop-color="#00ff4e"/><stop offset="0.670" stop-color="#11ff44"/><stop offset="0.680" stop-color="#2dff41"/><stop offset="0.718" stop-color="#5dff32"/><stop offset="0.757" stop-color="#7bff19"/><stop offset="0.777" stop-color="#87ff00"/><stop offset="0.913" stop-color="#cfff00"/><stop offset="1.000" stop-color="#efff00"/></linearGradient><linearGradient id="r243" x1="0" x2="1" y1="0" y2="0"><stop offset="0.000" stop-color="#00ffd4"/><stop offset="0.396" stop-color="#00ffb3"/><stop offset="0.560" stop-color="#00ff8d"/><stop offset="0.638" stop-color="#00ff62"/><stop offset="0.657" stop-color="#00ff4f"/><stop offset="0.676" stop-color="#32ff45"/><stop offset="0.715" stop-color="#5fff37"/><stop offset="0.763" stop-color="#83ff1a"/><stop offset="0.783" stop-color="#8fff00"/><stop offset="0.928" stop-color="#d8ff00"/><stop offset="0.995" stop-color="#f1ff00"/></linearGradient><linearGradient id="r244" x1="0" x2="1" y1="0" y2="0"><stop offset="0.000" stop-color="#00ffd5"/><stop offset="0.392" stop-color="#00ffb4"/><stop offset="0.555" stop-color="#00ff8e"/><stop offset="0.632" stop-color="#00ff63"/><stop offset="0.651" stop-color="#00ff50"/><stop offset="0.660" stop-color="#22ff4c"/><stop offset="0.689" stop-color="#4fff43"/><stop offset="0.766" stop-color="#8bff1c"/><stop offset="0.785" stop-color="#96ff00"/><stop offset="0.938" stop-color="#e1ff00"/><stop offset="0.995" stop-color="#f6ff00"/></linearGradient><linearGradient id="r245" x1="0" x2="1" y1="0" y2="0"><stop offset="0.000" stop-color="#00ffd5"/><stop offset="0.389" stop-color="#00ffb5"/><stop offset="0.550" stop-color="#00ff8e"/><stop offset="0.626" stop-color="#00ff64"/><stop offset="0.645" stop-color="#04ff52"/><stop offset="0.654" stop-color="#29ff4f"/><stop offset="0.682" stop-color="#52ff47"/><stop offset="0.768" stop-color="#92ff1e"/><stop offset="0.787" stop-color="#9dff04"/><stop offset="0.948" stop-color="#eaff00"/><stop offset="0.995" stop-color="#fbff00"/></linearGradient><linearGradient id="r246" x1="0" x2="1" y1="0" y2="0"><stop offset="0.000" stop-color="#00ffd6"/><stop offset="0.385" stop-color="#00ffb6"/><stop offset="0.545" stop-color="#00ff8f"/><stop offset="0.620" stop-color="#00ff65"/><stop offset="0.629" stop-color="#00ff5d"/><stop offset="0.657" stop-color="#3eff50"/><stop offset="0.714" stop-color="#76ff3e"/><stop offset="0.770" stop-color="#9aff20"/><stop offset="0.798" stop-color="#aaff00"/><stop offset="0.977" stop-color="#faff00"/><stop offset="0.995" stop-color="#fffe00"/></linearGradient><linearGradient id="r247" x1="0" x2="1" y1="0" y2="0"><stop offset="0.000" stop-color="#00ffd7"/><stop offset="0.381" stop-color="#00ffb7"/><stop offset="0.540" stop-color="#00ff90"/><stop offset="0.614" stop-color="#00ff66"/><stop offset="0.623" stop-color="#00ff5e"/><stop offset="0.642" stop-color="#33ff56"/><stop offset="0.679" stop-color="#61ff4c"/><stop offset="0.763" stop-color="#9cff28"/><stop offset="0.800" stop-color="#b0ff00"/><stop offset="0.977" stop-color="#ffff00"/><stop offset="0.995" stop-color="#fff900"/></linearGradient><linearGradient id="r248" x1="0" x2="1" y1="0" y2="0"><stop offset="0.000" stop-color="#00ffd7"/><stop offset="0.378" stop-color="#00ffb7"/><stop offset="0.535" stop-color="#00ff91"/><stop offset="0.608" stop-color="#00ff68"/><stop offset="0.618" stop-color="#00ff5f"/><stop offset="0.627" stop-color="#24ff5c"/><stop offset="0.654" stop-color="#51ff55"/><stop offset="0.728" stop-color="#8dff3d"/><stop offset="0.783" stop-color="#adff1b"/><stop offset="0.802" stop-color="#b7ff00"/><stop offset="0.968" stop-color="#fffd00"/><stop offset="0.995" stop-color="#fff400"/></linearGradient><linearGradient id="r249" x1="0" x2="1" y1="0" y2="0"><stop offset="0.000" stop-color="#00ffd8"/><stop offset="0.376" stop-color="#00ffb8"/><stop offset="0.532" stop-color="#00ff91"/><stop offset="0.606" stop-color="#00ff65"/><stop offset="0.624" stop-color="#34ff5e"/><stop offset="0.661" stop-color="#62ff55"/><stop offset="0.761" stop-color="#a8ff2e"/><stop offset="0.789" stop-color="#b6ff17"/><stop offset="0.807" stop-color="#c0ff00"/><stop offset="0.954" stop-color="#fffd00"/><stop offset="1.000" stop-color="#ffee00"/></linearGradient><linearGradient id="r250" x1="0" x2="1" y1="0" y2="0"><stop offset="0.000" stop-color="#00ffd8"/><stop offset="0.373" stop-color="#00ffb8"/><stop offset="0.527" stop-color="#00ff92"/><stop offset="0.600" stop-color="#00ff66"/><stop offset="0.609" stop-color="#25ff63"/><stop offset="0.636" stop-color="#52ff5d"/><stop offset="0.709" stop-color="#8eff48"/><stop offset="0.782" stop-color="#b8ff23"/><stop offset="0.809" stop-color="#c6ff00"/><stop offset="0.945" stop-color="#fffb00"/><stop offset="1.000" stop-color="#ffe900"/></linearGradient><linearGradient id="r251" x1="0" x2="1" y1="0" y2="0"><stop offset="0.000" stop-color="#00ffd9"/><stop offset="0.371" stop-color="#00ffb9"/><stop offset="0.525" stop-color="#00ff93"/><stop offset="0.588" stop-color="#00ff6f"/><stop offset="0.597" stop-color="#07ff68"/><stop offset="0.606" stop-color="#2bff66"/><stop offset="0.633" stop-color="#55ff60"/><stop offset="0.715" stop-color="#96ff49"/><stop offset="0.787" stop-color="#bfff24"/><stop offset="0.814" stop-color="#ccff00"/><stop offset="0.932" stop-color="#fffd00"/><stop offset="0.995" stop-color="#ffe800"/></linearGradient><linearGradient id="r252" x1="0" x2="1" y1="0" y2="0"><stop offset="0.000" stop-color="#00ffd9"/><stop offset="0.368" stop-color="#00ffba"/><stop offset="0.520" stop-color="#00ff94"/><stop offset="0.583" stop-color="#00ff70"/><stop offset="0.601" stop-color="#30ff69"/><stop offset="0.637" stop-color="#61ff61"/><stop offset="0.735" stop-color="#a9ff44"/><stop offset="0.798" stop-color="#caff1e"/><stop offset="0.816" stop-color="#d3ff00"/><stop offset="0.924" stop-color="#fffb00"/><stop offset="0.996" stop-color="#ffe300"/></linearGradient><linearGradient id="r253" x1="0" x2="1" y1="0" y2="0"><stop offset="0.000" stop-color="#00ffda"/><stop offset="0.364" stop-color="#00ffbb"/><stop offset="0.516" stop-color="#00ff95"/><stop offset="0.578" stop-color="#00ff71"/><stop offset="0.596" stop-color="#35ff6c"/><stop offset="0.631" stop-color="#64ff64"/><stop offset="0.729" stop-color="#abff48"/><stop offset="0.800" stop-color="#d0ff20"/><stop offset="0.818" stop-color="#d9ff01"/><stop offset="0.907" stop-color="#fffc00"/><stop offset="0.996" stop-color="#ffdf00"/></linearGradient><linearGradient id="r254" x1="0" x2="1" y1="0" y2="0"><stop offset="0.000" stop-color="#00ffda"/><stop offset="0.361" stop-color="#00ffbc"/><stop offset="0.511" stop-color="#00ff96"/><stop offset="0.573" stop-color="#00ff72"/><stop offset="0.581" stop-color="#26ff70"/><stop offset="0.608" stop-color="#54ff6b"/><stop offset="0.678" stop-color="#91ff5b"/><stop offset="0.784" stop-color="#ceff30"/><stop offset="0.811" stop-color="#dbff17"/><stop offset="0.819" stop-color="#dfff06"/><stop offset="0.899" stop-color="#fffa00"/><stop offset="0.996" stop-color="#ffdb00"/></linearGradient><linearGradient id="r255" x1="0" x2="1" y1="0" y2="0"><stop offset="0.000" stop-color="#00ffdb"/><stop offset="0.360" stop-color="#00ffbc"/><stop offset="0.509" stop-color="#00ff95"/><stop offset="0.561" stop-color="#00ff77"/><stop offset="0.579" stop-color="#36ff72"/><stop offset="0.614" stop-color="#65ff6b"/><stop offset="0.711" stop-color="#acff53"/><stop offset="0.789" stop-color="#d7ff2e"/><stop offset="0.816" stop-color="#e4ff13"/><stop offset="0.825" stop-color="#e8ff00"/><stop offset="0.886" stop-color="#fffa00"/><stop offset="1.000" stop-color="#ffd500"/></linearGradient><linearGradient id="r256" x1="0" x2="1" y1="0" y2="0"><stop offset="0.000" stop-color="#00ffdc"/><stop offset="0.357" stop-color="#00ffbd"/><stop offset="0.504" stop-color="#00ff97"/><stop offset="0.557" stop-color="#00ff78"/><stop offset="0.565" stop-color="#27ff76"/><stop offset="0.591" stop-color="#55ff72"/><stop offset="0.661" stop-color="#92ff63"/><stop offset="0.783" stop-color="#d9ff36"/><stop offset="0.817" stop-color="#eaff16"/><stop offset="0.826" stop-color="#eeff02"/><stop offset="0.870" stop-color="#fffb00"/><stop offset="1.000" stop-color="#ffd100"/></linearGradient><linearGradient id="r257" x1="0" x2="1" y1="0" y2="0"><stop offset="0.000" stop-color="#00ffdc"/><stop offset="0.353" stop-color="#00ffbe"/><stop offset="0.500" stop-color="#00ff98"/><stop offset="0.543" stop-color="#00ff80"/><stop offset="0.552" stop-color="#0cff7b"/><stop offset="0.560" stop-color="#2dff79"/><stop offset="0.586" stop-color="#58ff75"/><stop offset="0.664" stop-color="#9bff64"/><stop offset="0.784" stop-color="#dfff37"/><stop offset="0.819" stop-color="#f1ff18"/><stop offset="0.828" stop-color="#f5ff06"/><stop offset="0.862" stop-color="#fff900"/><stop offset="1.000" stop-color="#ffcd00"/></linearGradient><linearGradient id="r258" x1="0" x2="1" y1="0" y2="0"><stop offset="0.000" stop-color="#00ffdd"/><stop offset="0.352" stop-color="#00ffbf"/><stop offset="0.498" stop-color="#00ff99"/><stop offset="0.541" stop-color="#00ff81"/><stop offset="0.558" stop-color="#33ff7c"/><stop offset="0.592" stop-color="#64ff76"/><stop offset="0.687" stop-color="#adff61"/><stop offset="0.790" stop-color="#e6ff39"/><stop offset="0.824" stop-color="#f7ff1b"/><stop offset="0.841" stop-color="#ffff00"/><stop offset="0.996" stop-color="#ffcb00"/></linearGradient><linearGradient id="r259" x1="0" x2="1" y1="0" y2="0"><stop offset="0.000" stop-color="#00ffdd"/><stop offset="0.349" stop-color="#00ffc0"/><stop offset="0.494" stop-color="#00ff9a"/><stop offset="0.536" stop-color="#00ff83"/><stop offset="0.545" stop-color="#22ff80"/><stop offset="0.562" stop-color="#47ff7d"/><stop offset="0.613" stop-color="#7fff74"/><stop offset="0.749" stop-color="#d6ff4f"/><stop offset="0.817" stop-color="#f9ff27"/><stop offset="0.843" stop-color="#fff800"/><stop offset="0.996" stop-color="#ffc700"/></linearGradient><linearGradient id="r260" x1="0" x2="1" y1="0" y2="0"><stop offset="0.000" stop-color="#00ffde"/><stop offset="0.347" stop-color="#00ffc0"/><stop offset="0.492" stop-color="#00ff9a"/><stop offset="0.525" stop-color="#00ff87"/><stop offset="0.542" stop-color="#34ff82"/><stop offset="0.576" stop-color="#65ff7c"/><stop offset="0.669" stop-color="#afff69"/><stop offset="0.788" stop-color="#f1ff3e"/><stop offset="0.831" stop-color="#fff819"/><stop offset="0.839" stop-color="#fff406"/><stop offset="0.873" stop-color="#ffe600"/><stop offset="1.000" stop-color="#ffc300"/></linearGradient><linearGradient id="r261" x1="0" x2="1" y1="0" y2="0"><stop offset="0.000" stop-color="#00ffde"/><stop offset="0.345" stop-color="#00ffc1"/><stop offset="0.487" stop-color="#00ff9b"/><stop offset="0.521" stop-color="#00ff88"/><stop offset="0.529" stop-color="#22ff86"/><stop offset="0.546" stop-color="#48ff83"/><stop offset="0.597" stop-color="#80ff7b"/><stop offset="0.731" stop-color="#d9ff59"/><stop offset="0.807" stop-color="#fffe35"/><stop offset="0.832" stop-color="#fff21a"/><stop offset="0.849" stop-color="#ffeb00"/><stop offset="1.000" stop-color="#ffbf00"/></linearGradient><linearGradient id="r262" x1="0" x2="1" y1="0" y2="0"><stop offset="0.000" stop-color="#00ffdf"/><stop offset="0.342" stop-color="#00ffc2"/><stop offset="0.483" stop-color="#00ff9c"/><stop offset="0.517" stop-color="#00ff8a"/><stop offset="0.525" stop-color="#2aff88"/><stop offset="0.550" stop-color="#57ff85"/><stop offset="0.617" stop-color="#97ff79"/><stop offset="0.767" stop-color="#f1ff4e"/><stop offset="0.808" stop-color="#fff735"/><stop offset="0.842" stop-color="#ffe80d"/><stop offset="0.850" stop-color="#ffe500"/><stop offset="1.000" stop-color="#ffbb00"/></linearGradient><linearGradient id="r263" x1="0" x2="1" y1="0" y2="0"><stop offset="0.000" stop-color="#00ffe0"/><stop offset="0.347" stop-color="#00ffc2"/><stop offset="0.479" stop-color="#00ff9e"/><stop offset="0.504" stop-color="#00ff90"/><stop offset="0.512" stop-color="#0fff8c"/><stop offset="0.521" stop-color="#30ff8b"/><stop offset="0.545" stop-color="#5bff87"/><stop offset="0.620" stop-color="#9fff7a"/><stop offset="0.769" stop-color="#f8ff4f"/><stop offset="0.826" stop-color="#ffea26"/><stop offset="0.851" stop-color="#ffdf00"/><stop offset="1.000" stop-color="#ffb700"/></linearGradient><linearGradient id="r264" x1="0" x2="1" y1="0" y2="0"><stop offset="0.000" stop-color="#00ffe0"/><stop offset="0.344" stop-color="#00ffc3"/><stop offset="0.475" stop-color="#00ff9f"/><stop offset="0.500" stop-color="#00ff92"/><stop offset="0.516" stop-color="#35ff8d"/><stop offset="0.549" stop-color="#68ff89"/><stop offset="0.639" stop-color="#b2ff78"/><stop offset="0.770" stop-color="#ffff51"/><stop offset="0.836" stop-color="#ffe11e"/><stop offset="0.852" stop-color="#ffda00"/><stop offset="1.000" stop-color="#ffb400"/></linearGradient><linearGradient id="r265" x1="0" x2="1" y1="0" y2="0"><stop offset="0.000" stop-color="#00ffe1"/><stop offset="0.335" stop-color="#00ffc5"/><stop offset="0.465" stop-color="#00ffa2"/><stop offset="0.490" stop-color="#00ff96"/><stop offset="0.498" stop-color="#11ff92"/><stop offset="0.506" stop-color="#31ff91"/><stop offset="0.531" stop-color="#5cff8d"/><stop offset="0.604" stop-color="#a1ff81"/><stop offset="0.759" stop-color="#ffff58"/><stop offset="0.833" stop-color="#ffdd23"/><stop offset="0.857" stop-color="#ffd300"/><stop offset="0.996" stop-color="#ffb100"/></linearGradient><linearGradient id="r266" x1="0" x2="1" y1="0" y2="0"><stop offset="0.000" stop-color="#00ffe2"/><stop offset="0.341" stop-color="#00ffc5"/><stop offset="0.472" stop-color="#00ffa0"/><stop offset="0.488" stop-color="#00ff97"/><stop offset="0.504" stop-color="#36ff93"/><stop offset="0.537" stop-color="#69ff8f"/><stop offset="0.626" stop-color="#b4ff7f"/><stop offset="0.756" stop-color="#fffc5b"/><stop offset="0.837" stop-color="#ffd724"/><stop offset="0.862" stop-color="#ffce00"/><stop offset="1.000" stop-color="#ffad00"/></linearGradient><linearGradient id="r267" x1="0" x2="1" y1="0" y2="0"><stop offset="0.000" stop-color="#00ffe2"/><stop offset="0.339" stop-color="#00ffc6"/><stop offset="0.468" stop-color="#00ffa1"/><stop offset="0.484" stop-color="#00ff99"/><stop offset="0.492" stop-color="#25ff97"/><stop offset="0.508" stop-color="#4bff95"/><stop offset="0.556" stop-color="#84ff8e"/><stop offset="0.685" stop-color="#dfff74"/><stop offset="0.750" stop-color="#fffa5f"/><stop offset="0.839" stop-color="#ffd225"/><stop offset="0.863" stop-color="#ffca00"/><stop offset="1.000" stop-color="#ffaa00"/></linearGradient><linearGradient id="r268" x1="0" x2="1" y1="0" y2="0"><stop offset="0.000" stop-color="#00ffe3"/><stop offset="0.336" stop-color="#00ffc7"/><stop offset="0.464" stop-color="#00ffa3"/><stop offset="0.480" stop-color="#00ff9a"/><stop offset="0.488" stop-color="#2cff99"/><stop offset="0.512" stop-color="#5bff96"/><stop offset="0.576" stop-color="#9bff8d"/><stop offset="0.728" stop-color="#feff6b"/><stop offset="0.840" stop-color="#ffcd25"/><stop offset="0.864" stop-color="#ffc503"/><stop offset="1.000" stop-color="#ffa600"/></linearGradient><linearGradient id="r269" x1="0" x2="1" y1="0" y2="0"><stop offset="0.000" stop-color="#00ffe3"/><stop offset="0.335" stop-color="#00ffc7"/><stop offset="0.462" stop-color="#00ffa2"/><stop offset="0.470" stop-color="#00ff9e"/><stop offset="0.478" stop-color="#26ff9c"/><stop offset="0.494" stop-color="#4cff9a"/><stop offset="0.542" stop-color="#86ff94"/><stop offset="0.669" stop-color="#e2ff7d"/><stop offset="0.725" stop-color="#fffb6c"/><stop offset="0.845" stop-color="#ffc722"/><stop offset="0.869" stop-color="#ffbf00"/><stop offset="0.996" stop-color="#ffa400"/></linearGradient><linearGradient id="r270" x1="0" x2="1" y1="0" y2="0"><stop offset="0.000" stop-color="#00ffe4"/><stop offset="0.332" stop-color="#00ffc9"/><stop offset="0.458" stop-color="#00ffa4"/><stop offset="0.466" stop-color="#01ffa0"/><stop offset="0.474" stop-color="#2dff9f"/><stop offset="0.498" stop-color="#5cff9c"/><stop offset="0.561" stop-color="#9dff93"/><stop offset="0.711" stop-color="#fffd73"/><stop offset="0.846" stop-color="#ffc223"/><stop offset="0.870" stop-color="#ffba00"/><stop offset="0.996" stop-color="#ffa000"/></linearGradient><linearGradient id="r271" x1="0" x2="1" y1="0" y2="0"><stop offset="0.000" stop-color="#00ffe5"/><stop offset="0.329" stop-color="#00ffca"/><stop offset="0.455" stop-color="#00ffa6"/><stop offset="0.463" stop-color="#14ffa2"/><stop offset="0.471" stop-color="#33ffa1"/><stop offset="0.502" stop-color="#69ff9e"/><stop offset="0.580" stop-color="#b2ff92"/><stop offset="0.706" stop-color="#fffb76"/><stop offset="0.847" stop-color="#ffbe23"/><stop offset="0.871" stop-color="#ffb603"/><stop offset="0.996" stop-color="#ff9d00"/></linearGradient><linearGradient id="r272" x1="0" x2="1" y1="0" y2="0"><stop offset="0.000" stop-color="#00ffe6"/><stop offset="0.327" stop-color="#00ffcb"/><stop offset="0.451" stop-color="#00ffa7"/><stop offset="0.467" stop-color="#39ffa4"/><stop offset="0.498" stop-color="#6cffa0"/><stop offset="0.584" stop-color="#baff94"/><stop offset="0.693" stop-color="#fffd7d"/><stop offset="0.840" stop-color="#ffbc2a"/><stop offset="0.879" stop-color="#ffb000"/><stop offset="0.996" stop-color="#ff9900"/></linearGradient><linearGradient id="r273" x1="0" x2="1" y1="0" y2="0"><stop offset="0.000" stop-color="#00ffe6"/><stop offset="0.327" stop-color="#00ffcc"/><stop offset="0.444" stop-color="#00ffab"/><stop offset="0.459" stop-color="#34ffa7"/><stop offset="0.490" stop-color="#6affa3"/><stop offset="0.568" stop-color="#b4ff99"/><stop offset="0.685" stop-color="#fffc81"/><stop offset="0.833" stop-color="#ffbb33"/><stop offset="0.872" stop-color="#ffae0f"/><stop offset="0.879" stop-color="#ffac00"/><stop offset="0.996" stop-color="#ff9600"/></linearGradient><linearGradient id="r274" x1="0" x2="1" y1="0" y2="0"><stop offset="0.000" stop-color="#00ffe7"/><stop offset="0.324" stop-color="#00ffcd"/><stop offset="0.440" stop-color="#00ffac"/><stop offset="0.456" stop-color="#3affaa"/><stop offset="0.486" stop-color="#6effa6"/><stop offset="0.571" stop-color="#bcff9b"/><stop offset="0.672" stop-color="#fffe88"/><stop offset="0.819" stop-color="#ffbc3c"/><stop offset="0.873" stop-color="#ffaa11"/><stop offset="0.880" stop-color="#ffa803"/><stop offset="0.996" stop-color="#ff9300"/></linearGradient><linearGradient id="r275" x1="0" x2="1" y1="0" y2="0"><stop offset="0.000" stop-color="#00ffe8"/><stop offset="0.322" stop-color="#00ffce"/><stop offset="0.437" stop-color="#00ffae"/><stop offset="0.444" stop-color="#29ffad"/><stop offset="0.460" stop-color="#4fffab"/><stop offset="0.506" stop-color="#8affa6"/><stop offset="0.628" stop-color="#e9ff94"/><stop offset="0.667" stop-color="#fffc8a"/><stop offset="0.812" stop-color="#ffb940"/><stop offset="0.874" stop-color="#ffa613"/><stop offset="0.889" stop-color="#ffa200"/><stop offset="0.996" stop-color="#ff9000"/></linearGradient><linearGradient id="r276" x1="0" x2="1" y1="0" y2="0"><stop offset="0.000" stop-color="#00ffe8"/><stop offset="0.327" stop-color="#00ffce"/><stop offset="0.426" stop-color="#00ffb3"/><stop offset="0.433" stop-color="#06ffb0"/><stop offset="0.441" stop-color="#30ffaf"/><stop offset="0.464" stop-color="#5fffad"/><stop offset="0.525" stop-color="#a2ffa6"/><stop offset="0.654" stop-color="#fffe91"/><stop offset="0.791" stop-color="#ffbd4b"/><stop offset="0.867" stop-color="#ffa41c"/><stop offset="0.890" stop-color="#ff9e00"/><stop offset="0.996" stop-color="#ff8c00"/></linearGradient><linearGradient id="r277" x1="0" x2="1" y1="0" y2="0"><stop offset="0.000" stop-color="#00ffe9"/><stop offset="0.318" stop-color="#00ffd0"/><stop offset="0.424" stop-color="#00ffb4"/><stop offset="0.432" stop-color="#2affb2"/><stop offset="0.447" stop-color="#50ffb1"/><stop offset="0.492" stop-color="#8cffac"/><stop offset="0.614" stop-color="#ecff9b"/><stop offset="0.652" stop-color="#fff990"/><stop offset="0.795" stop-color="#ffb749"/><stop offset="0.871" stop-color="#ff9f19"/><stop offset="0.886" stop-color="#ff9b03"/><stop offset="1.000" stop-color="#ff8800"/></linearGradient><linearGradient id="r278" x1="0" x2="1" y1="0" y2="0"><stop offset="0.000" stop-color="#00ffea"/><stop offset="0.323" stop-color="#00ffd0"/><stop offset="0.414" stop-color="#00ffb9"/><stop offset="0.421" stop-color="#08ffb6"/><stop offset="0.429" stop-color="#31ffb5"/><stop offset="0.451" stop-color="#60ffb3"/><stop offset="0.511" stop-color="#a4ffac"/><stop offset="0.632" stop-color="#feff9b"/><stop offset="0.774" stop-color="#ffba53"/><stop offset="0.872" stop-color="#ff9b1a"/><stop offset="0.895" stop-color="#ff9500"/><stop offset="1.000" stop-color="#ff8500"/></linearGradient><linearGradient id="r279" x1="0" x2="1" y1="0" y2="0"><stop offset="0.000" stop-color="#00ffea"/><stop offset="0.321" stop-color="#00ffd2"/><stop offset="0.410" stop-color="#00ffbb"/><stop offset="0.425" stop-color="#37ffb8"/><stop offset="0.455" stop-color="#6effb5"/><stop offset="0.530" stop-color="#baffac"/><stop offset="0.627" stop-color="#fffd9d"/><stop offset="0.761" stop-color="#ffbb5a"/><stop offset="0.866" stop-color="#ff9922"/><stop offset="0.896" stop-color="#ff9100"/><stop offset="1.000" stop-color="#ff8100"/></linearGradient><linearGradient id="r280" x1="0" x2="1" y1="0" y2="0"><stop offset="0.000" stop-color="#00ffeb"/><stop offset="0.319" stop-color="#00ffd3"/><stop offset="0.407" stop-color="#00ffbc"/><stop offset="0.415" stop-color="#23ffbb"/><stop offset="0.430" stop-color="#4effba"/><stop offset="0.474" stop-color="#8cffb5"/><stop offset="0.593" stop-color="#efffa6"/><stop offset="0.622" stop-color="#fffa9e"/><stop offset="0.756" stop-color="#ffb95c"/><stop offset="0.867" stop-color="#ff9522"/><stop offset="0.896" stop-color="#ff8d00"/><stop offset="1.000" stop-color="#ff7e00"/></linearGradient><linearGradient id="r281" x1="0" x2="1" y1="0" y2="0"><stop offset="0.000" stop-color="#00ffec"/><stop offset="0.319" stop-color="#00ffd4"/><stop offset="0.400" stop-color="#00ffc0"/><stop offset="0.415" stop-color="#38ffbd"/><stop offset="0.444" stop-color="#70ffbb"/><stop offset="0.519" stop-color="#bcffb3"/><stop offset="0.607" stop-color="#ffffa7"/><stop offset="0.733" stop-color="#ffbd67"/><stop offset="0.874" stop-color="#ff9020"/><stop offset="0.904" stop-color="#ff8800"/><stop offset="1.000" stop-color="#ff7b00"/></linearGradient><linearGradient id="r282" x1="0" x2="1" y1="0" y2="0"><stop offset="0.000" stop-color="#00ffed"/><stop offset="0.316" stop-color="#00ffd6"/><stop offset="0.397" stop-color="#00ffc2"/><stop offset="0.404" stop-color="#24ffc0"/><stop offset="0.419" stop-color="#4fffbf"/><stop offset="0.463" stop-color="#8effbb"/><stop offset="0.581" stop-color="#f2ffae"/><stop offset="0.610" stop-color="#fff7a4"/><stop offset="0.743" stop-color="#ffb663"/><stop offset="0.875" stop-color="#ff8c20"/><stop offset="0.904" stop-color="#ff8400"/><stop offset="1.000" stop-color="#ff7700"/></linearGradient><linearGradient id="r283" x1="0" x2="1" y1="0" y2="0"><stop offset="0.000" stop-color="#00ffed"/><stop offset="0.321" stop-color="#00ffd6"/><stop offset="0.394" stop-color="#00ffc4"/><stop offset="0.401" stop-color="#2dffc3"/><stop offset="0.416" stop-color="#53ffc2"/><stop offset="0.460" stop-color="#91ffbe"/><stop offset="0.577" stop-color="#f5ffb1"/><stop offset="0.606" stop-color="#fff4a5"/><stop offset="0.745" stop-color="#ffb162"/><stop offset="0.876" stop-color="#ff8821"/><stop offset="0.905" stop-color="#ff8000"/><stop offset="1.000" stop-color="#ff7400"/></linearGradient><linearGradient id="r284" x1="0" x2="1" y1="0" y2="0"><stop offset="0.000" stop-color="#00ffee"/><stop offset="0.320" stop-color="#00ffd7"/><stop offset="0.385" stop-color="#00ffc7"/><stop offset="0.393" stop-color="#26ffc6"/><stop offset="0.407" stop-color="#50ffc5"/><stop offset="0.451" stop-color="#8fffc1"/><stop offset="0.567" stop-color="#f5ffb5"/><stop offset="0.596" stop-color="#fff4a9"/><stop offset="0.735" stop-color="#ffb065"/><stop offset="0.873" stop-color="#ff8524"/><stop offset="0.909" stop-color="#ff7b00"/><stop offset="0.996" stop-color="#ff7100"/></linearGradient><linearGradient id="r285" x1="0" x2="1" y1="0" y2="0"><stop offset="0.000" stop-color="#00ffef"/><stop offset="0.318" stop-color="#00ffd9"/><stop offset="0.383" stop-color="#00ffc9"/><stop offset="0.390" stop-color="#2effc9"/><stop offset="0.404" stop-color="#54ffc8"/><stop offset="0.448" stop-color="#92ffc4"/><stop offset="0.563" stop-color="#f8ffb8"/><stop offset="0.621" stop-color="#ffdf9a"/><stop offset="0.787" stop-color="#ff9a50"/><stop offset="0.888" stop-color="#ff7d19"/><stop offset="0.910" stop-color="#ff7700"/><stop offset="0.996" stop-color="#ff6d00"/></linearGradient><linearGradient id="r286" x1="0" x2="1" y1="0" y2="0"><stop offset="0.000" stop-color="#00fff0"/><stop offset="0.315" stop-color="#00ffda"/><stop offset="0.373" stop-color="#00ffce"/><stop offset="0.380" stop-color="#0effcc"/><stop offset="0.387" stop-color="#35ffcb"/><stop offset="0.409" stop-color="#65ffca"/><stop offset="0.466" stop-color="#acffc5"/><stop offset="0.566" stop-color="#fffdba"/><stop offset="0.688" stop-color="#ffba79"/><stop offset="0.875" stop-color="#ff7d25"/><stop offset="0.910" stop-color="#ff7300"/><stop offset="0.996" stop-color="#ff6a00"/></linearGradient><linearGradient id="r287" x1="0" x2="1" y1="0" y2="0"><stop offset="0.000" stop-color="#00fff0"/><stop offset="0.314" stop-color="#00ffdc"/><stop offset="0.371" stop-color="#00ffcf"/><stop offset="0.379" stop-color="#2fffce"/><stop offset="0.400" stop-color="#63ffcd"/><stop offset="0.457" stop-color="#abffc9"/><stop offset="0.557" stop-color="#fffdbd"/><stop offset="0.671" stop-color="#ffbc7f"/><stop offset="0.879" stop-color="#ff7823"/><stop offset="0.914" stop-color="#ff6f00"/><stop offset="1.000" stop-color="#ff6500"/></linearGradient><linearGradient id="r288" x1="0" x2="1" y1="0" y2="0"><stop offset="0.000" stop-color="#00fff1"/><stop offset="0.320" stop-color="#00ffdc"/><stop offset="0.363" stop-color="#00ffd3"/><stop offset="0.370" stop-color="#10ffd2"/><stop offset="0.377" stop-color="#36ffd1"/><stop offset="0.399" stop-color="#67ffd0"/><stop offset="0.456" stop-color="#aeffcc"/><stop offset="0.548" stop-color="#ffffc3"/><stop offset="0.662" stop-color="#ffbd84"/><stop offset="0.883" stop-color="#ff7323"/><stop offset="0.918" stop-color="#ff6a00"/><stop offset="0.996" stop-color="#ff6200"/></linearGradient><linearGradient id="r289" x1="0" x2="1" y1="0" y2="0"><stop offset="0.000" stop-color="#00fff2"/><stop offset="0.318" stop-color="#00ffde"/><stop offset="0.360" stop-color="#00ffd6"/><stop offset="0.375" stop-color="#3cffd4"/><stop offset="0.403" stop-color="#76ffd2"/><stop offset="0.473" stop-color="#c6ffcd"/><stop offset="0.544" stop-color="#fffcc5"/><stop offset="0.657" stop-color="#ffba86"/><stop offset="0.883" stop-color="#ff6f24"/><stop offset="0.919" stop-color="#ff6600"/><stop offset="0.996" stop-color="#ff5e00"/></linearGradient><linearGradient id="r290" x1="0" x2="1" y1="0" y2="0"><stop offset="0.000" stop-color="#00fff3"/><stop offset="0.323" stop-color="#00ffdf"/><stop offset="0.358" stop-color="#00ffd8"/><stop offset="0.365" stop-color="#29ffd7"/><stop offset="0.379" stop-color="#54ffd6"/><stop offset="0.421" stop-color="#95ffd4"/><stop offset="0.526" stop-color="#faffcc"/><stop offset="0.667" stop-color="#ffb281"/><stop offset="0.884" stop-color="#ff6b24"/><stop offset="0.919" stop-color="#ff6200"/><stop offset="0.996" stop-color="#ff5a00"/></linearGradient><linearGradient id="r291" x1="0" x2="1" y1="0" y2="0"><stop offset="0.000" stop-color="#00fff4"/><stop offset="0.322" stop-color="#00ffe1"/><stop offset="0.350" stop-color="#00ffdb"/><stop offset="0.364" stop-color="#3dffda"/><stop offset="0.392" stop-color="#77ffd8"/><stop offset="0.462" stop-color="#c8ffd4"/><stop offset="0.524" stop-color="#fffece"/><stop offset="0.629" stop-color="#ffbd91"/><stop offset="0.846" stop-color="#ff7239"/><stop offset="0.909" stop-color="#ff6010"/><stop offset="0.923" stop-color="#ff5d00"/><stop offset="1.000" stop-color="#ff5600"/></linearGradient><linearGradient id="r292" x1="0" x2="1" y1="0" y2="0"><stop offset="0.000" stop-color="#00fff5"/><stop offset="0.326" stop-color="#00ffe2"/><stop offset="0.347" stop-color="#00ffde"/><stop offset="0.354" stop-color="#2affdd"/><stop offset="0.368" stop-color="#55ffdc"/><stop offset="0.410" stop-color="#97ffda"/><stop offset="0.514" stop-color="#fdffd3"/><stop offset="0.632" stop-color="#ffb88f"/><stop offset="0.868" stop-color="#ff682e"/><stop offset="0.910" stop-color="#ff5c12"/><stop offset="0.924" stop-color="#ff5800"/><stop offset="1.000" stop-color="#ff5200"/></linearGradient><linearGradient id="r293" x1="0" x2="1" y1="0" y2="0"><stop offset="0.000" stop-color="#00fff6"/><stop offset="0.324" stop-color="#00ffe4"/><stop offset="0.345" stop-color="#00ffe0"/><stop offset="0.352" stop-color="#32ffe0"/><stop offset="0.372" stop-color="#67ffdf"/><stop offset="0.428" stop-color="#b2ffdc"/><stop offset="0.510" stop-color="#fffdd6"/><stop offset="0.614" stop-color="#ffbc97"/><stop offset="0.828" stop-color="#ff6f41"/><stop offset="0.910" stop-color="#ff5813"/><stop offset="0.924" stop-color="#ff5400"/><stop offset="1.000" stop-color="#ff4d00"/></linearGradient><linearGradient id="r294" x1="0" x2="1" y1="0" y2="0"><stop offset="0.000" stop-color="#00fff6"/><stop offset="0.330" stop-color="#00ffe5"/><stop offset="0.337" stop-color="#00ffe4"/><stop offset="0.344" stop-color="#2bffe3"/><stop offset="0.357" stop-color="#56ffe3"/><stop offset="0.399" stop-color="#99ffe1"/><stop offset="0.495" stop-color="#fbffdc"/><stop offset="0.619" stop-color="#ffb493"/><stop offset="0.859" stop-color="#ff6234"/><stop offset="0.914" stop-color="#ff5210"/><stop offset="0.928" stop-color="#ff4e00"/><stop offset="0.997" stop-color="#ff4900"/></linearGradient><linearGradient id="r295" x1="0" x2="1" y1="0" y2="0"><stop offset="0.000" stop-color="#00fff7"/><stop offset="0.334" stop-color="#00ffe6"/><stop offset="0.341" stop-color="#33ffe6"/><stop offset="0.362" stop-color="#69ffe5"/><stop offset="0.416" stop-color="#b5ffe3"/><stop offset="0.491" stop-color="#ffffdf"/><stop offset="0.594" stop-color="#ffbc9e"/><stop offset="0.799" stop-color="#ff704d"/><stop offset="0.908" stop-color="#ff4f17"/><stop offset="0.928" stop-color="#ff4900"/><stop offset="0.997" stop-color="#ff4400"/></linearGradient><linearGradient id="r296" x1="0" x2="1" y1="0" y2="0"><stop offset="0.000" stop-color="#00fff8"/><stop offset="0.328" stop-color="#00ffea"/><stop offset="0.334" stop-color="#2cffe9"/><stop offset="0.348" stop-color="#58ffe9"/><stop offset="0.389" stop-color="#9bffe7"/><stop offset="0.485" stop-color="#ffffe3"/><stop offset="0.580" stop-color="#ffbea5"/><stop offset="0.778" stop-color="#ff7255"/><stop offset="0.908" stop-color="#ff4b1b"/><stop offset="0.935" stop-color="#ff4400"/><stop offset="0.997" stop-color="#ff3f00"/></linearGradient><linearGradient id="r297" x1="0" x2="1" y1="0" y2="0"><stop offset="0.000" stop-color="#00fff9"/><stop offset="0.325" stop-color="#00ffec"/><stop offset="0.332" stop-color="#35ffec"/><stop offset="0.353" stop-color="#6affec"/><stop offset="0.407" stop-color="#b7ffea"/><stop offset="0.481" stop-color="#fffce4"/><stop offset="0.583" stop-color="#ffb8a3"/><stop offset="0.793" stop-color="#ff6a50"/><stop offset="0.908" stop-color="#ff461b"/><stop offset="0.936" stop-color="#ff3e00"/><stop offset="0.997" stop-color="#ff3a00"/></linearGradient><linearGradient id="r298" x1="0" x2="1" y1="0" y2="0"><stop offset="0.000" stop-color="#00fffa"/><stop offset="0.316" stop-color="#00fff0"/><stop offset="0.323" stop-color="#18ffef"/><stop offset="0.330" stop-color="#3cffef"/><stop offset="0.350" stop-color="#6fffef"/><stop offset="0.404" stop-color="#baffed"/><stop offset="0.471" stop-color="#fffeeb"/><stop offset="0.566" stop-color="#ffbcab"/><stop offset="0.761" stop-color="#ff705c"/><stop offset="0.902" stop-color="#ff4321"/><stop offset="0.936" stop-color="#ff3700"/><stop offset="0.997" stop-color="#ff3400"/></linearGradient><linearGradient id="r299" x1="0" x2="1" y1="0" y2="0"><stop offset="0.000" stop-color="#00fffb"/><stop offset="0.315" stop-color="#01fff3"/><stop offset="0.322" stop-color="#36fff2"/><stop offset="0.342" stop-color="#6cfff2"/><stop offset="0.396" stop-color="#bafff1"/><stop offset="0.463" stop-color="#fffeee"/><stop offset="0.557" stop-color="#ffbcad"/><stop offset="0.752" stop-color="#ff6e5e"/><stop offset="0.906" stop-color="#ff3c1f"/><stop offset="0.940" stop-color="#ff3000"/><stop offset="1.000" stop-color="#ff2d00"/></linearGradient><linearGradient id="r300" x1="0" x2="1" y1="0" y2="0"><stop offset="0.000" stop-color="#00fffc"/><stop offset="0.307" stop-color="#00fff6"/><stop offset="0.313" stop-color="#19fff6"/><stop offset="0.320" stop-color="#3dfff6"/><stop offset="0.340" stop-color="#70fff5"/><stop offset="0.393" stop-color="#bdfff5"/><stop offset="0.460" stop-color="#fffaef"/><stop offset="0.553" stop-color="#ffb9ae"/><stop offset="0.753" stop-color="#ff695e"/><stop offset="0.907" stop-color="#ff351f"/><stop offset="0.940" stop-color="#ff2800"/><stop offset="1.000" stop-color="#ff2500"/></linearGradient><linearGradient id="r301" x1="0" x2="1" y1="0" y2="0"><stop offset="0.000" stop-color="#00fffd"/><stop offset="0.305" stop-color="#00fff9"/><stop offset="0.318" stop-color="#44fff9"/><stop offset="0.344" stop-color="#80fff9"/><stop offset="0.411" stop-color="#d7fff8"/><stop offset="0.450" stop-color="#fffdf6"/><stop offset="0.543" stop-color="#ffbab3"/><stop offset="0.735" stop-color="#ff6b64"/><stop offset="0.907" stop-color="#ff2e20"/><stop offset="0.940" stop-color="#ff1d00"/><stop offset="1.000" stop-color="#ff1b00"/></linearGradient><linearGradient id="r302" x1="0" x2="1" y1="0" y2="0"><stop offset="0.000" stop-color="#00fffe"/><stop offset="0.297" stop-color="#00fffc"/><stop offset="0.310" stop-color="#3ffffc"/><stop offset="0.330" stop-color="#72fffc"/><stop offset="0.383" stop-color="#c0fffc"/><stop offset="0.442" stop-color="#fffdf9"/><stop offset="0.528" stop-color="#ffbcb9"/><stop offset="0.706" stop-color="#ff706e"/><stop offset="0.904" stop-color="#ff2822"/><stop offset="0.944" stop-color="#ff0e00"/><stop offset="0.997" stop-color="#ff0c00"/></linearGradient><linearGradient id="r303" x1="0" x2="1" y1="0" y2="0"><stop offset="0.000" stop-color="#00ffff"/><stop offset="0.295" stop-color="#00ffff"/><stop offset="0.308" stop-color="#45ffff"/><stop offset="0.334" stop-color="#82feff"/><stop offset="0.400" stop-color="#dafeff"/><stop offset="0.439" stop-color="#fff9fa"/><stop offset="0.531" stop-color="#ffb6b7"/><stop offset="0.721" stop-color="#ff6768"/><stop offset="0.898" stop-color="#ff2226"/><stop offset="0.938" stop-color="#ff000c"/><stop offset="0.997" stop-color="#ff000b"/></linearGradient><linearGradient id="r304" x1="0" x2="1" y1="0" y2="0"><stop offset="0.000" stop-color="#00feff"/><stop offset="0.294" stop-color="#00fbff"/><stop offset="0.301" stop-color="#31fbff"/><stop offset="0.314" stop-color="#5cfbff"/><stop offset="0.353" stop-color="#a2fbff"/><stop offset="0.431" stop-color="#fdfaff"/><stop offset="0.523" stop-color="#ffb7bb"/><stop offset="0.706" stop-color="#ff696e"/><stop offset="0.882" stop-color="#ff2330"/><stop offset="0.922" stop-color="#ff001c"/><stop offset="1.000" stop-color="#ff001a"/></linearGradient><linearGradient id="r305" x1="0" x2="1" y1="0" y2="0"><stop offset="0.000" stop-color="#00fdff"/><stop offset="0.287" stop-color="#00f8ff"/><stop offset="0.293" stop-color="#28f8ff"/><stop offset="0.306" stop-color="#58f8ff"/><stop offset="0.339" stop-color="#95f7ff"/><stop offset="0.423" stop-color="#faf6ff"/><stop offset="0.534" stop-color="#ffabb3"/><stop offset="0.743" stop-color="#ff5762"/><stop offset="0.873" stop-color="#ff1f34"/><stop offset="0.906" stop-color="#ff0026"/><stop offset="0.997" stop-color="#ff0023"/></linearGradient><linearGradient id="r306" x1="0" x2="1" y1="0" y2="0"><stop offset="0.000" stop-color="#00fcff"/><stop offset="0.285" stop-color="#00f5ff"/><stop offset="0.291" stop-color="#30f5ff"/><stop offset="0.304" stop-color="#5bf5ff"/><stop offset="0.343" stop-color="#a0f4ff"/><stop offset="0.427" stop-color="#fff1fe"/><stop offset="0.518" stop-color="#ffafbb"/><stop offset="0.706" stop-color="#ff606e"/><stop offset="0.854" stop-color="#ff203c"/><stop offset="0.887" stop-color="#ff002f"/><stop offset="0.997" stop-color="#ff002a"/></linearGradient><linearGradient id="r307" x1="0" x2="1" y1="0" y2="0"><stop offset="0.000" stop-color="#00fbff"/><stop offset="0.277" stop-color="#00f2ff"/><stop offset="0.284" stop-color="#28f2ff"/><stop offset="0.297" stop-color="#57f1ff"/><stop offset="0.329" stop-color="#93f1ff"/><stop offset="0.419" stop-color="#fdeeff"/><stop offset="0.523" stop-color="#ffa7b7"/><stop offset="0.723" stop-color="#ff5468"/><stop offset="0.845" stop-color="#ff1b3f"/><stop offset="0.871" stop-color="#ff0036"/><stop offset="1.000" stop-color="#ff0030"/></linearGradient><linearGradient id="r308" x1="0" x2="1" y1="0" y2="0"><stop offset="0.000" stop-color="#00faff"/><stop offset="0.276" stop-color="#00efff"/><stop offset="0.282" stop-color="#30eeff"/><stop offset="0.295" stop-color="#5aeeff"/><stop offset="0.333" stop-color="#9eedff"/><stop offset="0.417" stop-color="#fceaff"/><stop offset="0.519" stop-color="#ffa4b8"/><stop offset="0.718" stop-color="#ff5169"/><stop offset="0.827" stop-color="#ff1d46"/><stop offset="0.853" stop-color="#ff003d"/><stop offset="1.000" stop-color="#ff0035"/></linearGradient><linearGradient id="r309" x1="0" x2="1" y1="0" y2="0"><stop offset="0.000" stop-color="#00f9ff"/><stop offset="0.268" stop-color="#00ecff"/><stop offset="0.274" stop-color="#0bebff"/><stop offset="0.280" stop-color="#37ebff"/><stop offset="0.299" stop-color="#6cebff"/><stop offset="0.350" stop-color="#b8e9ff"/><stop offset="0.420" stop-color="#ffe2fc"/><stop offset="0.516" stop-color="#ffa1b9"/><stop offset="0.713" stop-color="#ff4e6b"/><stop offset="0.815" stop-color="#ff1a4a"/><stop offset="0.841" stop-color="#ff0043"/><stop offset="1.000" stop-color="#ff0039"/></linearGradient><linearGradient id="r310" x1="0" x2="1" y1="0" y2="0"><stop offset="0.000" stop-color="#00f8ff"/><stop offset="0.267" stop-color="#00e9ff"/><stop offset="0.273" stop-color="#30e8ff"/><stop offset="0.286" stop-color="#59e8ff"/><stop offset="0.324" stop-color="#9ce6ff"/><stop offset="0.413" stop-color="#ffe2ff"/><stop offset="0.502" stop-color="#ffa3bf"/><stop offset="0.686" stop-color="#ff5373"/><stop offset="0.794" stop-color="#ff1e51"/><stop offset="0.819" stop-color="#ff0049"/><stop offset="0.997" stop-color="#ff003d"/></linearGradient><linearGradient id="r311" x1="0" x2="1" y1="0" y2="0"><stop offset="0.000" stop-color="#00f6ff"/><stop offset="0.259" stop-color="#00e6ff"/><stop offset="0.266" stop-color="#0ce5ff"/><stop offset="0.272" stop-color="#37e5ff"/><stop offset="0.291" stop-color="#6ae4ff"/><stop offset="0.342" stop-color="#b5e2ff"/><stop offset="0.411" stop-color="#ffdeff"/><stop offset="0.506" stop-color="#ff9dbc"/><stop offset="0.696" stop-color="#ff4a70"/><stop offset="0.785" stop-color="#ff1b55"/><stop offset="0.810" stop-color="#ff004d"/><stop offset="1.000" stop-color="#ff0041"/></linearGradient><linearGradient id="r312" x1="0" x2="1" y1="0" y2="0"><stop offset="0.000" stop-color="#00f5ff"/><stop offset="0.258" stop-color="#00e3ff"/><stop offset="0.270" stop-color="#3de2ff"/><stop offset="0.289" stop-color="#6de1ff"/><stop offset="0.340" stop-color="#b6deff"/><stop offset="0.409" stop-color="#fedaff"/><stop offset="0.503" stop-color="#ff9abd"/><stop offset="0.692" stop-color="#ff4672"/><stop offset="0.774" stop-color="#ff1758"/><stop offset="0.792" stop-color="#ff0053"/><stop offset="1.000" stop-color="#ff0044"/></linearGradient><linearGradient id="r313" x1="0" x2="1" y1="0" y2="0"><stop offset="0.000" stop-color="#00f4ff"/><stop offset="0.251" stop-color="#00e1ff"/><stop offset="0.257" stop-color="#0ddfff"/><stop offset="0.263" stop-color="#37dfff"/><stop offset="0.282" stop-color="#69deff"/><stop offset="0.332" stop-color="#b3dbff"/><stop offset="0.408" stop-color="#ffd4fd"/><stop offset="0.502" stop-color="#ff95bc"/><stop offset="0.696" stop-color="#ff3e70"/><stop offset="0.759" stop-color="#ff175c"/><stop offset="0.777" stop-color="#ff0057"/><stop offset="0.997" stop-color="#ff0047"/></linearGradient><linearGradient id="r314" x1="0" x2="1" y1="0" y2="0"><stop offset="0.000" stop-color="#00f3ff"/><stop offset="0.243" stop-color="#00dfff"/><stop offset="0.249" stop-color="#00ddff"/><stop offset="0.262" stop-color="#3ddcff"/><stop offset="0.280" stop-color="#6cdbff"/><stop offset="0.330" stop-color="#b4d8ff"/><stop offset="0.405" stop-color="#ffd0fd"/><stop offset="0.498" stop-color="#ff92bd"/><stop offset="0.692" stop-color="#ff3971"/><stop offset="0.748" stop-color="#ff1260"/><stop offset="0.760" stop-color="#ff005c"/><stop offset="0.997" stop-color="#ff004a"/></linearGradient><linearGradient id="r315" x1="0" x2="1" y1="0" y2="0"><stop offset="0.000" stop-color="#00f2ff"/><stop offset="0.230" stop-color="#00deff"/><stop offset="0.242" stop-color="#00dbff"/><stop offset="0.248" stop-color="#0fd9ff"/><stop offset="0.255" stop-color="#36d9ff"/><stop offset="0.273" stop-color="#68d8ff"/><stop offset="0.323" stop-color="#b1d4ff"/><stop offset="0.404" stop-color="#ffc9fb"/><stop offset="0.503" stop-color="#ff8ab9"/><stop offset="0.714" stop-color="#ff236a"/><stop offset="0.745" stop-color="#ff0061"/><stop offset="1.000" stop-color="#ff004c"/></linearGradient><linearGradient id="r316" x1="0" x2="1" y1="0" y2="0"><stop offset="0.000" stop-color="#00f1ff"/><stop offset="0.228" stop-color="#00dbff"/><stop offset="0.241" stop-color="#00d8ff"/><stop offset="0.253" stop-color="#3cd6ff"/><stop offset="0.278" stop-color="#76d4ff"/><stop offset="0.340" stop-color="#c6cfff"/><stop offset="0.401" stop-color="#ffc6fb"/><stop offset="0.500" stop-color="#ff87b9"/><stop offset="0.698" stop-color="#ff256f"/><stop offset="0.728" stop-color="#ff0065"/><stop offset="1.000" stop-color="#ff004f"/></linearGradient><linearGradient id="r317" x1="0" x2="1" y1="0" y2="0"><stop offset="0.000" stop-color="#00efff"/><stop offset="0.215" stop-color="#00daff"/><stop offset="0.234" stop-color="#00d5ff"/><stop offset="0.240" stop-color="#10d4ff"/><stop offset="0.246" stop-color="#36d3ff"/><stop offset="0.265" stop-color="#67d2ff"/><stop offset="0.314" stop-color="#afceff"/><stop offset="0.394" stop-color="#ffc5fe"/><stop offset="0.492" stop-color="#ff85bc"/><stop offset="0.683" stop-color="#ff2473"/><stop offset="0.714" stop-color="#ff006a"/><stop offset="0.997" stop-color="#ff0051"/></linearGradient><linearGradient id="r318" x1="0" x2="1" y1="0" y2="0"><stop offset="0.000" stop-color="#00eeff"/><stop offset="0.214" stop-color="#00d7ff"/><stop offset="0.232" stop-color="#00d2ff"/><stop offset="0.245" stop-color="#3cd0ff"/><stop offset="0.269" stop-color="#75ceff"/><stop offset="0.330" stop-color="#c4c9ff"/><stop offset="0.391" stop-color="#ffc1fe"/><stop offset="0.489" stop-color="#ff82bc"/><stop offset="0.667" stop-color="#ff2678"/><stop offset="0.691" stop-color="#ff0c70"/><stop offset="0.697" stop-color="#ff006e"/><stop offset="0.997" stop-color="#ff0053"/></linearGradient><linearGradient id="r319" x1="0" x2="1" y1="0" y2="0"><stop offset="0.000" stop-color="#00edff"/><stop offset="0.207" stop-color="#00d6ff"/><stop offset="0.232" stop-color="#00cfff"/><stop offset="0.238" stop-color="#28ceff"/><stop offset="0.250" stop-color="#52cdff"/><stop offset="0.287" stop-color="#92c9ff"/><stop offset="0.384" stop-color="#fabeff"/><stop offset="0.512" stop-color="#ff72b1"/><stop offset="0.659" stop-color="#ff237b"/><stop offset="0.689" stop-color="#ff0072"/><stop offset="1.000" stop-color="#ff0055"/></linearGradient><linearGradient id="r320" x1="0" x2="1" y1="0" y2="0"><stop offset="0.000" stop-color="#00ecff"/><stop offset="0.204" stop-color="#00d4ff"/><stop offset="0.229" stop-color="#00ccff"/><stop offset="0.241" stop-color="#3bcaff"/><stop offset="0.266" stop-color="#74c8ff"/><stop offset="0.328" stop-color="#c2c2ff"/><stop offset="0.396" stop-color="#ffb7fc"/><stop offset="0.502" stop-color="#ff76b9"/><stop offset="0.656" stop-color="#ff227f"/><stop offset="0.681" stop-color="#ff0277"/><stop offset="0.997" stop-color="#ff0058"/></linearGradient><linearGradient id="r321" x1="0" x2="1" y1="0" y2="0"><stop offset="0.000" stop-color="#00ebff"/><stop offset="0.201" stop-color="#00d3ff"/><stop offset="0.232" stop-color="#00c9ff"/><stop offset="0.238" stop-color="#28c8ff"/><stop offset="0.251" stop-color="#51c7ff"/><stop offset="0.288" stop-color="#91c3ff"/><stop offset="0.389" stop-color="#f7b7ff"/><stop offset="0.420" stop-color="#ffa5ed"/><stop offset="0.545" stop-color="#ff60aa"/><stop offset="0.658" stop-color="#ff1f82"/><stop offset="0.683" stop-color="#ff007b"/><stop offset="0.997" stop-color="#ff005b"/></linearGradient><linearGradient id="r322" x1="0" x2="1" y1="0" y2="0"><stop offset="0.000" stop-color="#00e9ff"/><stop offset="0.197" stop-color="#00d1ff"/><stop offset="0.229" stop-color="#00c7ff"/><stop offset="0.242" stop-color="#3bc5ff"/><stop offset="0.268" stop-color="#72c2ff"/><stop offset="0.331" stop-color="#c0bbff"/><stop offset="0.401" stop-color="#ffb1ff"/><stop offset="0.510" stop-color="#ff70bc"/><stop offset="0.650" stop-color="#ff2488"/><stop offset="0.682" stop-color="#ff007f"/><stop offset="1.000" stop-color="#ff005e"/></linearGradient><linearGradient id="r323" x1="0" x2="1" y1="0" y2="0"><stop offset="0.000" stop-color="#00e8ff"/><stop offset="0.200" stop-color="#00ceff"/><stop offset="0.232" stop-color="#00c3ff"/><stop offset="0.239" stop-color="#28c2ff"/><stop offset="0.252" stop-color="#51c1ff"/><stop offset="0.290" stop-color="#8fbdff"/><stop offset="0.394" stop-color="#f4afff"/><stop offset="0.413" stop-color="#ffa9fa"/><stop offset="0.529" stop-color="#ff66b7"/><stop offset="0.652" stop-color="#ff218b"/><stop offset="0.677" stop-color="#ff0083"/><stop offset="1.000" stop-color="#ff0061"/></linearGradient><linearGradient id="r324" x1="0" x2="1" y1="0" y2="0"><stop offset="0.000" stop-color="#00e7ff"/><stop offset="0.197" stop-color="#00ccff"/><stop offset="0.230" stop-color="#00c1ff"/><stop offset="0.243" stop-color="#3bbfff"/><stop offset="0.269" stop-color="#71bcff"/><stop offset="0.334" stop-color="#beb5ff"/><stop offset="0.413" stop-color="#ffa7fd"/><stop offset="0.525" stop-color="#ff67bc"/><stop offset="0.649" stop-color="#ff208f"/><stop offset="0.675" stop-color="#ff0087"/><stop offset="0.997" stop-color="#ff0064"/></linearGradient><linearGradient id="r325" x1="0" x2="1" y1="0" y2="0"><stop offset="0.000" stop-color="#00e5ff"/><stop offset="0.193" stop-color="#00ccff"/><stop offset="0.233" stop-color="#00beff"/><stop offset="0.239" stop-color="#28bdff"/><stop offset="0.252" stop-color="#50bbff"/><stop offset="0.292" stop-color="#8eb7ff"/><stop offset="0.399" stop-color="#f1a8ff"/><stop offset="0.425" stop-color="#ff9ff8"/><stop offset="0.545" stop-color="#ff5cb7"/><stop offset="0.645" stop-color="#ff2294"/><stop offset="0.671" stop-color="#ff008c"/><stop offset="0.997" stop-color="#ff0067"/></linearGradient><linearGradient id="r326" x1="0" x2="1" y1="0" y2="0"><stop offset="0.000" stop-color="#00e4ff"/><stop offset="0.196" stop-color="#00c8ff"/><stop offset="0.230" stop-color="#00bcff"/><stop offset="0.243" stop-color="#3ab9ff"/><stop offset="0.270" stop-color="#70b6ff"/><stop offset="0.338" stop-color="#bcaeff"/><stop offset="0.426" stop-color="#ff9dfb"/><stop offset="0.547" stop-color="#ff5ab9"/><stop offset="0.642" stop-color="#ff2298"/><stop offset="0.669" stop-color="#ff0090"/><stop offset="1.000" stop-color="#ff0069"/></linearGradient><linearGradient id="r327" x1="0" x2="1" y1="0" y2="0"><stop offset="0.000" stop-color="#00e3ff"/><stop offset="0.192" stop-color="#00c7ff"/><stop offset="0.233" stop-color="#00b8ff"/><stop offset="0.240" stop-color="#28b7ff"/><stop offset="0.253" stop-color="#4fb6ff"/><stop offset="0.295" stop-color="#8cb1ff"/><stop offset="0.404" stop-color="#eea1ff"/><stop offset="0.432" stop-color="#ff99fb"/><stop offset="0.555" stop-color="#ff55ba"/><stop offset="0.644" stop-color="#ff1e9b"/><stop offset="0.664" stop-color="#ff0094"/><stop offset="1.000" stop-color="#ff006c"/></linearGradient><linearGradient id="r328" x1="0" x2="1" y1="0" y2="0"><stop offset="0.000" stop-color="#00e1ff"/><stop offset="0.188" stop-color="#00c6ff"/><stop offset="0.230" stop-color="#00b6ff"/><stop offset="0.244" stop-color="#3ab4ff"/><stop offset="0.272" stop-color="#6fb1ff"/><stop offset="0.348" stop-color="#c0a6ff"/><stop offset="0.432" stop-color="#ff97fe"/><stop offset="0.557" stop-color="#ff52bc"/><stop offset="0.641" stop-color="#ff1d9f"/><stop offset="0.662" stop-color="#ff0099"/><stop offset="0.990" stop-color="#ff0070"/><stop offset="0.997" stop-color="#ff006f"/></linearGradient><linearGradient id="r329" x1="0" x2="1" y1="0" y2="0"><stop offset="0.000" stop-color="#00e0ff"/><stop offset="0.191" stop-color="#00c3ff"/><stop offset="0.233" stop-color="#00b3ff"/><stop offset="0.240" stop-color="#28b1ff"/><stop offset="0.254" stop-color="#4fb0ff"/><stop offset="0.297" stop-color="#8babff"/><stop offset="0.410" stop-color="#ec99ff"/><stop offset="0.445" stop-color="#ff8ef9"/><stop offset="0.580" stop-color="#ff46b7"/><stop offset="0.643" stop-color="#ff18a2"/><stop offset="0.657" stop-color="#ff009d"/><stop offset="0.975" stop-color="#ff0074"/><stop offset="0.996" stop-color="#ff0072"/></linearGradient><linearGradient id="r330" x1="0" x2="1" y1="0" y2="0"><stop offset="0.000" stop-color="#00deff"/><stop offset="0.187" stop-color="#00c1ff"/><stop offset="0.230" stop-color="#00b1ff"/><stop offset="0.245" stop-color="#3aaeff"/><stop offset="0.273" stop-color="#6eabff"/><stop offset="0.353" stop-color="#bea0ff"/><stop offset="0.446" stop-color="#ff8cfc"/><stop offset="0.583" stop-color="#ff42b9"/><stop offset="0.640" stop-color="#ff17a6"/><stop offset="0.655" stop-color="#ff00a2"/><stop offset="0.964" stop-color="#ff0078"/><stop offset="1.000" stop-color="#ff0075"/></linearGradient><linearGradient id="r331" x1="0" x2="1" y1="0" y2="0"><stop offset="0.000" stop-color="#00ddff"/><stop offset="0.190" stop-color="#00bfff"/><stop offset="0.234" stop-color="#00adff"/><stop offset="0.241" stop-color="#28acff"/><stop offset="0.255" stop-color="#4eaaff"/><stop offset="0.299" stop-color="#8aa5ff"/><stop offset="0.416" stop-color="#e991ff"/><stop offset="0.453" stop-color="#ff88fc"/><stop offset="0.591" stop-color="#ff3cba"/><stop offset="0.642" stop-color="#ff10a9"/><stop offset="0.650" stop-color="#ff01a7"/><stop offset="0.949" stop-color="#ff007c"/><stop offset="1.000" stop-color="#ff0077"/></linearGradient><linearGradient id="r332" x1="0" x2="1" y1="0" y2="0"><stop offset="0.000" stop-color="#00dbff"/><stop offset="0.186" stop-color="#00bdff"/><stop offset="0.230" stop-color="#00abff"/><stop offset="0.245" stop-color="#39a8ff"/><stop offset="0.275" stop-color="#6da5ff"/><stop offset="0.357" stop-color="#bc99ff"/><stop offset="0.461" stop-color="#ff81fa"/><stop offset="0.602" stop-color="#ff32b9"/><stop offset="0.639" stop-color="#ff0ead"/><stop offset="0.647" stop-color="#ff00ab"/><stop offset="0.944" stop-color="#ff007f"/><stop offset="0.996" stop-color="#ff007b"/></linearGradient><linearGradient id="r333" x1="0" x2="1" y1="0" y2="0"><stop offset="0.000" stop-color="#00daff"/><stop offset="0.189" stop-color="#00baff"/><stop offset="0.234" stop-color="#00a8ff"/><stop offset="0.242" stop-color="#28a6ff"/><stop offset="0.257" stop-color="#4ea4ff"/><stop offset="0.302" stop-color="#899fff"/><stop offset="0.423" stop-color="#e78aff"/><stop offset="0.468" stop-color="#ff7dfa"/><stop offset="0.619" stop-color="#ff23b7"/><stop offset="0.642" stop-color="#ff03b0"/><stop offset="0.921" stop-color="#ff0084"/><stop offset="0.996" stop-color="#ff007d"/></linearGradient><linearGradient id="r334" x1="0" x2="1" y1="0" y2="0"><stop offset="0.000" stop-color="#00d8ff"/><stop offset="0.185" stop-color="#00b9ff"/><stop offset="0.231" stop-color="#00a6ff"/><stop offset="0.246" stop-color="#39a3ff"/><stop offset="0.277" stop-color="#6c9fff"/><stop offset="0.362" stop-color="#ba92ff"/><stop offset="0.469" stop-color="#ff7afd"/><stop offset="0.615" stop-color="#ff23bc"/><stop offset="0.638" stop-color="#ff00b4"/><stop offset="0.915" stop-color="#ff0088"/><stop offset="1.000" stop-color="#ff0080"/></linearGradient><linearGradient id="r335" x1="0" x2="1" y1="0" y2="0"><stop offset="0.000" stop-color="#00d7ff"/><stop offset="0.180" stop-color="#00b8ff"/><stop offset="0.234" stop-color="#00a2ff"/><stop offset="0.242" stop-color="#28a1ff"/><stop offset="0.258" stop-color="#4d9fff"/><stop offset="0.305" stop-color="#8798ff"/><stop offset="0.430" stop-color="#e482ff"/><stop offset="0.484" stop-color="#ff71f9"/><stop offset="0.609" stop-color="#ff25c2"/><stop offset="0.641" stop-color="#ff00b8"/><stop offset="0.914" stop-color="#ff008b"/><stop offset="1.000" stop-color="#ff0083"/></linearGradient><linearGradient id="r336" x1="0" x2="1" y1="0" y2="0"><stop offset="0.000" stop-color="#00d5ff"/><stop offset="0.183" stop-color="#00b4ff"/><stop offset="0.231" stop-color="#00a1ff"/><stop offset="0.247" stop-color="#399dff"/><stop offset="0.279" stop-color="#6c99ff"/><stop offset="0.367" stop-color="#b88bff"/><stop offset="0.486" stop-color="#ff6efb"/><stop offset="0.606" stop-color="#ff25c7"/><stop offset="0.629" stop-color="#ff02be"/><stop offset="0.892" stop-color="#ff0091"/><stop offset="0.996" stop-color="#ff0086"/></linearGradient><linearGradient id="r337" x1="0" x2="1" y1="0" y2="0"><stop offset="0.000" stop-color="#00d4ff"/><stop offset="0.178" stop-color="#00b4ff"/><stop offset="0.235" stop-color="#009dff"/><stop offset="0.243" stop-color="#289bff"/><stop offset="0.267" stop-color="#5998ff"/><stop offset="0.332" stop-color="#9b8eff"/><stop offset="0.486" stop-color="#fe6dff"/><stop offset="0.599" stop-color="#ff27cd"/><stop offset="0.632" stop-color="#ff00c2"/><stop offset="0.891" stop-color="#ff0094"/><stop offset="0.996" stop-color="#ff0089"/></linearGradient><linearGradient id="r338" x1="0" x2="1" y1="0" y2="0"><stop offset="0.000" stop-color="#00d2ff"/><stop offset="0.182" stop-color="#00b0ff"/><stop offset="0.231" stop-color="#009bff"/><stop offset="0.248" stop-color="#3997ff"/><stop offset="0.281" stop-color="#6b93ff"/><stop offset="0.372" stop-color="#b684ff"/><stop offset="0.496" stop-color="#ff65fe"/><stop offset="0.603" stop-color="#ff1fcf"/><stop offset="0.620" stop-color="#ff05c9"/><stop offset="0.860" stop-color="#ff009b"/><stop offset="1.000" stop-color="#ff008b"/></linearGradient><linearGradient id="r339" x1="0" x2="1" y1="0" y2="0"><stop offset="0.000" stop-color="#00d0ff"/><stop offset="0.176" stop-color="#00b0ff"/><stop offset="0.235" stop-color="#0097ff"/><stop offset="0.244" stop-color="#2895ff"/><stop offset="0.269" stop-color="#5892ff"/><stop offset="0.336" stop-color="#9a88ff"/><stop offset="0.504" stop-color="#ff5ffe"/><stop offset="0.597" stop-color="#ff22d5"/><stop offset="0.622" stop-color="#ff00cd"/><stop offset="0.866" stop-color="#ff009d"/><stop offset="1.000" stop-color="#ff008e"/></linearGradient><linearGradient id="r340" x1="0" x2="1" y1="0" y2="0"><stop offset="0.000" stop-color="#00cfff"/><stop offset="0.180" stop-color="#00acff"/><stop offset="0.232" stop-color="#0095ff"/><stop offset="0.249" stop-color="#3892ff"/><stop offset="0.283" stop-color="#6a8dff"/><stop offset="0.378" stop-color="#b57dff"/><stop offset="0.515" stop-color="#ff57fc"/><stop offset="0.592" stop-color="#ff21db"/><stop offset="0.618" stop-color="#ff00d1"/><stop offset="0.858" stop-color="#ff00a1"/><stop offset="0.996" stop-color="#ff0092"/></linearGradient><linearGradient id="r341" x1="0" x2="1" y1="0" y2="0"><stop offset="0.000" stop-color="#00cdff"/><stop offset="0.175" stop-color="#00acff"/><stop offset="0.236" stop-color="#0091ff"/><stop offset="0.245" stop-color="#2890ff"/><stop offset="0.271" stop-color="#588cff"/><stop offset="0.341" stop-color="#9881ff"/><stop offset="0.515" stop-color="#fd54ff"/><stop offset="0.594" stop-color="#ff1bde"/><stop offset="0.611" stop-color="#ff00d8"/><stop offset="0.838" stop-color="#ff00a7"/><stop offset="0.996" stop-color="#ff0095"/></linearGradient><linearGradient id="r342" x1="0" x2="1" y1="0" y2="0"><stop offset="0.000" stop-color="#00cbff"/><stop offset="0.179" stop-color="#00a8ff"/><stop offset="0.232" stop-color="#0090ff"/><stop offset="0.250" stop-color="#388cff"/><stop offset="0.286" stop-color="#6987ff"/><stop offset="0.384" stop-color="#b376ff"/><stop offset="0.527" stop-color="#ff4bff"/><stop offset="0.589" stop-color="#ff1ae4"/><stop offset="0.607" stop-color="#ff00dd"/><stop offset="0.830" stop-color="#ff00ac"/><stop offset="1.000" stop-color="#ff0097"/></linearGradient><linearGradient id="r343" x1="0" x2="1" y1="0" y2="0"><stop offset="0.000" stop-color="#00c9ff"/><stop offset="0.174" stop-color="#00a6ff"/><stop offset="0.228" stop-color="#008eff"/><stop offset="0.247" stop-color="#3389ff"/><stop offset="0.283" stop-color="#6684ff"/><stop offset="0.384" stop-color="#b172ff"/><stop offset="0.530" stop-color="#fd45ff"/><stop offset="0.584" stop-color="#ff18e9"/><stop offset="0.594" stop-color="#ff07e6"/><stop offset="0.621" stop-color="#ff00dc"/><stop offset="0.858" stop-color="#ff00ab"/><stop offset="0.995" stop-color="#ff009b"/></linearGradient><linearGradient id="r344" x1="0" x2="1" y1="0" y2="0"><stop offset="0.000" stop-color="#00c7ff"/><stop offset="0.177" stop-color="#00a3ff"/><stop offset="0.233" stop-color="#008aff"/><stop offset="0.242" stop-color="#2187ff"/><stop offset="0.260" stop-color="#4785ff"/><stop offset="0.316" stop-color="#807cff"/><stop offset="0.465" stop-color="#d95bff"/><stop offset="0.549" stop-color="#ff36fd"/><stop offset="0.586" stop-color="#ff0eed"/><stop offset="0.595" stop-color="#ff00ea"/><stop offset="0.800" stop-color="#ff00b8"/><stop offset="0.995" stop-color="#ff009e"/></linearGradient><linearGradient id="r345" x1="0" x2="1" y1="0" y2="0"><stop offset="0.000" stop-color="#00c5ff"/><stop offset="0.171" stop-color="#00a2ff"/><stop offset="0.229" stop-color="#0089ff"/><stop offset="0.248" stop-color="#3383ff"/><stop offset="0.286" stop-color="#667eff"/><stop offset="0.390" stop-color="#b06aff"/><stop offset="0.524" stop-color="#f240ff"/><stop offset="0.562" stop-color="#ff26fb"/><stop offset="0.590" stop-color="#ff00ef"/><stop offset="0.790" stop-color="#ff00bd"/><stop offset="1.000" stop-color="#ff00a0"/></linearGradient><linearGradient id="r346" x1="0" x2="1" y1="0" y2="0"><stop offset="0.000" stop-color="#00c3ff"/><stop offset="0.176" stop-color="#009dff"/><stop offset="0.224" stop-color="#0087ff"/><stop offset="0.234" stop-color="#0c82ff"/><stop offset="0.244" stop-color="#2e81ff"/><stop offset="0.273" stop-color="#597cff"/><stop offset="0.361" stop-color="#9d6dff"/><stop offset="0.507" stop-color="#e743ff"/><stop offset="0.556" stop-color="#fd24ff"/><stop offset="0.576" stop-color="#ff06f9"/><stop offset="0.624" stop-color="#ff00e8"/><stop offset="0.859" stop-color="#ff00b5"/><stop offset="0.995" stop-color="#ff00a4"/></linearGradient><linearGradient id="r347" x1="0" x2="1" y1="0" y2="0"><stop offset="0.000" stop-color="#00c1ff"/><stop offset="0.169" stop-color="#009eff"/><stop offset="0.229" stop-color="#0083ff"/><stop offset="0.249" stop-color="#337dff"/><stop offset="0.289" stop-color="#6577ff"/><stop offset="0.398" stop-color="#ae62ff"/><stop offset="0.517" stop-color="#e73aff"/><stop offset="0.557" stop-color="#f81dff"/><stop offset="0.577" stop-color="#ff00fd"/><stop offset="0.766" stop-color="#ff00c9"/><stop offset="0.995" stop-color="#ff00a7"/></linearGradient><linearGradient id="r348" x1="0" x2="1" y1="0" y2="0"><stop offset="0.000" stop-color="#00bfff"/><stop offset="0.173" stop-color="#0099ff"/><stop offset="0.224" stop-color="#0081ff"/><stop offset="0.235" stop-color="#0d7cff"/><stop offset="0.245" stop-color="#2e7aff"/><stop offset="0.276" stop-color="#5876ff"/><stop offset="0.367" stop-color="#9b65ff"/><stop offset="0.510" stop-color="#e138ff"/><stop offset="0.551" stop-color="#f21aff"/><stop offset="0.571" stop-color="#fa00ff"/><stop offset="0.816" stop-color="#ff00c3"/><stop offset="1.000" stop-color="#ff00aa"/></linearGradient><linearGradient id="r349" x1="0" x2="1" y1="0" y2="0"><stop offset="0.000" stop-color="#00bdff"/><stop offset="0.168" stop-color="#0098ff"/><stop offset="0.230" stop-color="#007aff"/><stop offset="0.241" stop-color="#2878ff"/><stop offset="0.272" stop-color="#5573ff"/><stop offset="0.356" stop-color="#9364ff"/><stop offset="0.503" stop-color="#da37ff"/><stop offset="0.545" stop-color="#eb17ff"/><stop offset="0.555" stop-color="#f004ff"/><stop offset="0.607" stop-color="#ff00fa"/><stop offset="0.817" stop-color="#ff00c7"/><stop offset="0.995" stop-color="#ff00ae"/></linearGradient><linearGradient id="r350" x1="0" x2="1" y1="0" y2="0"><stop offset="0.000" stop-color="#00bbff"/><stop offset="0.171" stop-color="#0094ff"/><stop offset="0.225" stop-color="#007bff"/><stop offset="0.235" stop-color="#0e76ff"/><stop offset="0.246" stop-color="#2e74ff"/><stop offset="0.289" stop-color="#626dff"/><stop offset="0.406" stop-color="#ab55ff"/><stop offset="0.513" stop-color="#da2cff"/><stop offset="0.556" stop-color="#eb00ff"/><stop offset="0.620" stop-color="#ff00fa"/><stop offset="0.845" stop-color="#ff00c6"/><stop offset="0.995" stop-color="#ff00b1"/></linearGradient><linearGradient id="r351" x1="0" x2="1" y1="0" y2="0"><stop offset="0.000" stop-color="#00b8ff"/><stop offset="0.165" stop-color="#0093ff"/><stop offset="0.231" stop-color="#0073ff"/><stop offset="0.242" stop-color="#2871ff"/><stop offset="0.275" stop-color="#556cff"/><stop offset="0.374" stop-color="#9859ff"/><stop offset="0.495" stop-color="#cf31ff"/><stop offset="0.527" stop-color="#dc18ff"/><stop offset="0.538" stop-color="#e107ff"/><stop offset="0.571" stop-color="#ee00ff"/><stop offset="0.637" stop-color="#ff00f9"/><stop offset="0.879" stop-color="#ff00c4"/><stop offset="1.000" stop-color="#ff00b4"/></linearGradient><linearGradient id="r352" x1="0" x2="1" y1="0" y2="0"><stop offset="0.000" stop-color="#00b6ff"/><stop offset="0.169" stop-color="#008eff"/><stop offset="0.226" stop-color="#0072ff"/><stop offset="0.237" stop-color="#226eff"/><stop offset="0.260" stop-color="#466bff"/><stop offset="0.328" stop-color="#7d5fff"/><stop offset="0.475" stop-color="#c435ff"/><stop offset="0.520" stop-color="#d616ff"/><stop offset="0.531" stop-color="#da03ff"/><stop offset="0.644" stop-color="#ff00fb"/><stop offset="0.881" stop-color="#ff00c8"/><stop offset="0.994" stop-color="#ff00b8"/></linearGradient><linearGradient id="r353" x1="0" x2="1" y1="0" y2="0"><stop offset="0.000" stop-color="#00b4ff"/><stop offset="0.173" stop-color="#008aff"/><stop offset="0.231" stop-color="#006dff"/><stop offset="0.243" stop-color="#286bff"/><stop offset="0.277" stop-color="#5465ff"/><stop offset="0.382" stop-color="#9750ff"/><stop offset="0.486" stop-color="#c52aff"/><stop offset="0.532" stop-color="#d600ff"/><stop offset="0.659" stop-color="#ff00fb"/><stop offset="0.913" stop-color="#ff00c7"/><stop offset="0.994" stop-color="#ff00bc"/></linearGradient><linearGradient id="r354" x1="0" x2="1" y1="0" y2="0"><stop offset="0.000" stop-color="#00b1ff"/><stop offset="0.168" stop-color="#0089ff"/><stop offset="0.228" stop-color="#006bff"/><stop offset="0.240" stop-color="#2268ff"/><stop offset="0.263" stop-color="#4564ff"/><stop offset="0.335" stop-color="#7c57ff"/><stop offset="0.467" stop-color="#b92fff"/><stop offset="0.503" stop-color="#c717ff"/><stop offset="0.515" stop-color="#cc05ff"/><stop offset="0.671" stop-color="#ff00fd"/><stop offset="0.934" stop-color="#ff00c8"/><stop offset="0.994" stop-color="#ff00c1"/></linearGradient><linearGradient id="r355" x1="0" x2="1" y1="0" y2="0"><stop offset="0.000" stop-color="#00aeff"/><stop offset="0.160" stop-color="#0088ff"/><stop offset="0.222" stop-color="#006aff"/><stop offset="0.247" stop-color="#3263ff"/><stop offset="0.296" stop-color="#625aff"/><stop offset="0.432" stop-color="#a938ff"/><stop offset="0.494" stop-color="#c114ff"/><stop offset="0.506" stop-color="#c501ff"/><stop offset="0.691" stop-color="#ff00fb"/><stop offset="0.975" stop-color="#ff00c7"/><stop offset="1.000" stop-color="#ff00c4"/></linearGradient><linearGradient id="r356" x1="0" x2="1" y1="0" y2="0"><stop offset="0.000" stop-color="#00acff"/><stop offset="0.165" stop-color="#0084ff"/><stop offset="0.228" stop-color="#0064ff"/><stop offset="0.241" stop-color="#2261ff"/><stop offset="0.266" stop-color="#455cff"/><stop offset="0.354" stop-color="#824bff"/><stop offset="0.468" stop-color="#b321ff"/><stop offset="0.506" stop-color="#c100ff"/><stop offset="0.709" stop-color="#ff00fc"/><stop offset="1.000" stop-color="#ff00c8"/></linearGradient><linearGradient id="r357" x1="0" x2="1" y1="0" y2="0"><stop offset="0.000" stop-color="#00a9ff"/><stop offset="0.170" stop-color="#007eff"/><stop offset="0.222" stop-color="#0063ff"/><stop offset="0.248" stop-color="#325bff"/><stop offset="0.301" stop-color="#6152ff"/><stop offset="0.444" stop-color="#a727ff"/><stop offset="0.471" stop-color="#b115ff"/><stop offset="0.484" stop-color="#b603ff"/><stop offset="0.719" stop-color="#ff00fd"/><stop offset="0.993" stop-color="#ff00cc"/></linearGradient><linearGradient id="r358" x1="0" x2="1" y1="0" y2="0"><stop offset="0.000" stop-color="#00a6ff"/><stop offset="0.162" stop-color="#007dff"/><stop offset="0.216" stop-color="#0062ff"/><stop offset="0.230" stop-color="#105aff"/><stop offset="0.243" stop-color="#2d58ff"/><stop offset="0.297" stop-color="#5f4eff"/><stop offset="0.432" stop-color="#a025ff"/><stop offset="0.459" stop-color="#aa12ff"/><stop offset="0.473" stop-color="#af00ff"/><stop offset="0.730" stop-color="#ff00ff"/><stop offset="1.000" stop-color="#ff00d0"/></linearGradient><linearGradient id="r359" x1="0" x2="1" y1="0" y2="0"><stop offset="0.000" stop-color="#00a3ff"/><stop offset="0.154" stop-color="#007cff"/><stop offset="0.224" stop-color="#0157ff"/><stop offset="0.238" stop-color="#2855ff"/><stop offset="0.280" stop-color="#534dff"/><stop offset="0.406" stop-color="#942aff"/><stop offset="0.448" stop-color="#a30fff"/><stop offset="0.462" stop-color="#a900ff"/><stop offset="0.713" stop-color="#f600ff"/><stop offset="0.797" stop-color="#ff00f5"/><stop offset="0.993" stop-color="#ff00d5"/></linearGradient><linearGradient id="r360" x1="0" x2="1" y1="0" y2="0"><stop offset="0.000" stop-color="#00a1ff"/><stop offset="0.158" stop-color="#0078ff"/><stop offset="0.216" stop-color="#005bff"/><stop offset="0.230" stop-color="#1152ff"/><stop offset="0.245" stop-color="#2d50ff"/><stop offset="0.302" stop-color="#5e44ff"/><stop offset="0.417" stop-color="#941eff"/><stop offset="0.446" stop-color="#9f02ff"/><stop offset="0.691" stop-color="#ec00ff"/><stop offset="0.791" stop-color="#ff00fb"/><stop offset="0.993" stop-color="#ff00d9"/></linearGradient><linearGradient id="r361" x1="0" x2="1" y1="0" y2="0"><stop offset="0.000" stop-color="#009dff"/><stop offset="0.164" stop-color="#0071ff"/><stop offset="0.224" stop-color="#024fff"/><stop offset="0.239" stop-color="#284cff"/><stop offset="0.284" stop-color="#5243ff"/><stop offset="0.403" stop-color="#8d1cff"/><stop offset="0.433" stop-color="#9800ff"/><stop offset="0.672" stop-color="#e300ff"/><stop offset="0.821" stop-color="#ff00fa"/><stop offset="1.000" stop-color="#ff00dd"/></linearGradient><linearGradient id="r362" x1="0" x2="1" y1="0" y2="0"><stop offset="0.000" stop-color="#0099ff"/><stop offset="0.155" stop-color="#0070ff"/><stop offset="0.217" stop-color="#004dff"/><stop offset="0.233" stop-color="#2248ff"/><stop offset="0.279" stop-color="#4f3fff"/><stop offset="0.388" stop-color="#851aff"/><stop offset="0.419" stop-color="#9100ff"/><stop offset="0.651" stop-color="#da00ff"/><stop offset="0.837" stop-color="#ff00fb"/><stop offset="0.992" stop-color="#ff00e2"/></linearGradient><linearGradient id="r363" x1="0" x2="1" y1="0" y2="0"><stop offset="0.000" stop-color="#0096ff"/><stop offset="0.161" stop-color="#0068ff"/><stop offset="0.210" stop-color="#004cff"/><stop offset="0.242" stop-color="#3241ff"/><stop offset="0.306" stop-color="#6031ff"/><stop offset="0.371" stop-color="#7d17ff"/><stop offset="0.403" stop-color="#8900ff"/><stop offset="0.629" stop-color="#d100ff"/><stop offset="0.855" stop-color="#ff00fd"/><stop offset="1.000" stop-color="#ff00e6"/></linearGradient><linearGradient id="r364" x1="0" x2="1" y1="0" y2="0"><stop offset="0.000" stop-color="#0093ff"/><stop offset="0.150" stop-color="#006aff"/><stop offset="0.217" stop-color="#0044ff"/><stop offset="0.233" stop-color="#223eff"/><stop offset="0.283" stop-color="#4f32ff"/><stop offset="0.367" stop-color="#780fff"/><stop offset="0.383" stop-color="#7e00ff"/><stop offset="0.583" stop-color="#c100ff"/><stop offset="0.883" stop-color="#ff00fd"/><stop offset="1.000" stop-color="#ff00eb"/></linearGradient><linearGradient id="r365" x1="0" x2="1" y1="0" y2="0"><stop offset="0.000" stop-color="#008fff"/><stop offset="0.157" stop-color="#0062ff"/><stop offset="0.209" stop-color="#0042ff"/><stop offset="0.243" stop-color="#3235ff"/><stop offset="0.313" stop-color="#5f20ff"/><stop offset="0.365" stop-color="#7600ff"/><stop offset="0.557" stop-color="#b700ff"/><stop offset="0.904" stop-color="#ff00ff"/><stop offset="0.991" stop-color="#ff00f1"/></linearGradient><linearGradient id="r366" x1="0" x2="1" y1="0" y2="0"><stop offset="0.000" stop-color="#008aff"/><stop offset="0.145" stop-color="#0060ff"/><stop offset="0.200" stop-color="#0041ff"/><stop offset="0.236" stop-color="#2d30ff"/><stop offset="0.309" stop-color="#5d16ff"/><stop offset="0.345" stop-color="#6d00ff"/><stop offset="0.527" stop-color="#ac00ff"/><stop offset="0.909" stop-color="#fb00ff"/><stop offset="1.000" stop-color="#ff00f5"/></linearGradient><linearGradient id="r367" x1="0" x2="1" y1="0" y2="0"><stop offset="0.000" stop-color="#0086ff"/><stop offset="0.152" stop-color="#0057ff"/><stop offset="0.210" stop-color="#052fff"/><stop offset="0.229" stop-color="#282aff"/><stop offset="0.286" stop-color="#5114ff"/><stop offset="0.305" stop-color="#5a05ff"/><stop offset="0.457" stop-color="#9600ff"/><stop offset="0.781" stop-color="#e000ff"/><stop offset="0.990" stop-color="#ff00fc"/></linearGradient><linearGradient id="r368" x1="0" x2="1" y1="0" y2="0"><stop offset="0.000" stop-color="#0081ff"/><stop offset="0.140" stop-color="#0056ff"/><stop offset="0.200" stop-color="#002bff"/><stop offset="0.220" stop-color="#2322ff"/><stop offset="0.280" stop-color="#4e01ff"/><stop offset="0.420" stop-color="#8a00ff"/><stop offset="0.720" stop-color="#d000ff"/><stop offset="1.000" stop-color="#fd00ff"/></linearGradient><linearGradient id="r369" x1="0" x2="1" y1="0" y2="0"><stop offset="0.000" stop-color="#007bff"/><stop offset="0.126" stop-color="#0054ff"/><stop offset="0.189" stop-color="#002aff"/><stop offset="0.232" stop-color="#310fff"/><stop offset="0.253" stop-color="#4000ff"/><stop offset="0.358" stop-color="#7500ff"/><stop offset="0.611" stop-color="#b700ff"/><stop offset="0.989" stop-color="#f600ff"/></linearGradient><linearGradient id="r370" x1="0" x2="1" y1="0" y2="0"><stop offset="0.000" stop-color="#0075ff"/><stop offset="0.133" stop-color="#0049ff"/><stop offset="0.178" stop-color="#0028ff"/><stop offset="0.200" stop-color="#140cff"/><stop offset="0.222" stop-color="#2e00ff"/><stop offset="0.289" stop-color="#5a00ff"/><stop offset="0.467" stop-color="#9400ff"/><stop offset="0.867" stop-color="#df00ff"/><stop offset="1.000" stop-color="#f200ff"/></linearGradient><linearGradient id="r371" x1="0" x2="1" y1="0" y2="0"><stop offset="0.000" stop-color="#006fff"/><stop offset="0.118" stop-color="#0047ff"/><stop offset="0.165" stop-color="#0026ff"/><stop offset="0.188" stop-color="#0f00ff"/><stop offset="0.212" stop-color="#2f00ff"/><stop offset="0.282" stop-color="#5a00ff"/><stop offset="0.471" stop-color="#9400ff"/><stop offset="0.894" stop-color="#de00ff"/><stop offset="0.988" stop-color="#eb00ff"/></linearGradient><linearGradient id="r372" x1="0" x2="1" y1="0" y2="0"><stop offset="0.000" stop-color="#0068ff"/><stop offset="0.100" stop-color="#0046ff"/><stop offset="0.150" stop-color="#0024ff"/><stop offset="0.175" stop-color="#1200ff"/><stop offset="0.200" stop-color="#3000ff"/><stop offset="0.300" stop-color="#6300ff"/><stop offset="0.550" stop-color="#a300ff"/><stop offset="1.000" stop-color="#e600ff"/></linearGradient><linearGradient id="r373" x1="0" x2="1" y1="0" y2="0"><stop offset="0.000" stop-color="#0060ff"/><stop offset="0.107" stop-color="#0037ff"/><stop offset="0.133" stop-color="#0022ff"/><stop offset="0.160" stop-color="#1500ff"/><stop offset="0.187" stop-color="#3100ff"/><stop offset="0.293" stop-color="#6300ff"/><stop offset="0.560" stop-color="#a200ff"/><stop offset="0.987" stop-color="#df00ff"/></linearGradient><linearGradient id="r374" x1="0" x2="1" y1="0" y2="0"><stop offset="0.000" stop-color="#0058ff"/><stop offset="0.086" stop-color="#0035ff"/><stop offset="0.114" stop-color="#0020ff"/><stop offset="0.143" stop-color="#1700ff"/><stop offset="0.171" stop-color="#3200ff"/><stop offset="0.286" stop-color="#6300ff"/><stop offset="0.571" stop-color="#a100ff"/><stop offset="1.000" stop-color="#da00ff"/></linearGradient><linearGradient id="r375" x1="0" x2="1" y1="0" y2="0"><stop offset="0.000" stop-color="#0048ff"/><stop offset="0.062" stop-color="#002aff"/><stop offset="0.094" stop-color="#0004ff"/><stop offset="0.125" stop-color="#2800ff"/><stop offset="0.219" stop-color="#5500ff"/><stop offset="0.469" stop-color="#8f00ff"/><stop offset="1.000" stop-color="#d400ff"/></linearGradient><linearGradient id="r376" x1="0" x2="1" y1="0" y2="0"><stop offset="0.000" stop-color="#003bff"/><stop offset="0.034" stop-color="#0029ff"/><stop offset="0.068" stop-color="#0000ff"/><stop offset="0.102" stop-color="#2a00ff"/><stop offset="0.203" stop-color="#5500ff"/><stop offset="0.475" stop-color="#8e00ff"/><stop offset="0.983" stop-color="#cd00ff"/></linearGradient><linearGradient id="r377" x1="0" x2="1" y1="0" y2="0"><stop offset="0.000" stop-color="#0027ff"/><stop offset="0.037" stop-color="#0500ff"/><stop offset="0.074" stop-color="#2b00ff"/><stop offset="0.185" stop-color="#5500ff"/><stop offset="0.481" stop-color="#8e00ff"/><stop offset="1.000" stop-color="#c800ff"/></linearGradient><linearGradient id="r378" x1="0" x2="1" y1="0" y2="0"><stop offset="0.000" stop-color="#1f00ff"/><stop offset="0.083" stop-color="#4400ff"/><stop offset="0.333" stop-color="#7900ff"/><stop offset="0.917" stop-color="#bb00ff"/><stop offset="1.000" stop-color="#c200ff"/></linearGradient><linearGradient id="r379" x1="0" x2="1" y1="0" y2="0"><stop offset="0.000" stop-color="#3e00ff"/><stop offset="0.238" stop-color="#6e00ff"/><stop offset="0.857" stop-color="#b100ff"/><stop offset="1.000" stop-color="#bc00ff"/></linearGradient><linearGradient id="r380" x1="0" x2="1" y1="0" y2="0"><stop offset="0.000" stop-color="#5000ff"/><stop offset="0.444" stop-color="#8900ff"/><stop offset="1.000" stop-color="#b600ff"/></linearGradient><linearGradient id="r381" x1="0" x2="1" y1="0" y2="0"><stop offset="0.000" stop-color="#5e00ff"/><stop offset="0.667" stop-color="#9a00ff"/><stop offset="1.000" stop-color="#af00ff"/></linearGradient><linearGradient id="r382" x1="0" x2="1" y1="0" y2="0"><stop offset="0.000" stop-color="#6a00ff"/><stop offset="1.000" stop-color="#a800ff"/></linearGradient><linearGradient id="r383" x1="0" x2="1" y1="0" y2="0"><stop offset="0.000" stop-color="#7400ff"/><stop offset="1.000" stop-color="#a200ff"/></linearGradient><linearGradient id="r384" x1="0" x2="1" y1="0" y2="0"><stop offset="0.000" stop-color="#7d00ff"/><stop offset="1.000" stop-color="#9b00ff"/></linearGradient></defs><rect width="685" height="423" fill="#fff"/><polyline fill="none" stroke="url(#wl1)" stroke-width="0.75" stroke-linejoin="round" points="61.2,107.0 61.3,107.7 61.4,107.6 61.5,106.1 61.6,107.5 61.7,106.4 61.8,107.6 61.9,107.0 62.0,107.2 62.1,107.1 62.2,107.5 62.3,107.0 62.4,106.4 62.5,106.8 62.6,107.5 62.7,106.4 62.8,106.3 62.9,106.9 63.0,107.1 63.1,107.7 63.2,107.6 63.3,107.1 63.4,107.5 63.5,106.1 63.6,106.6 63.7,107.2 63.8,106.7 63.9,107.4 64.0,106.2 64.1,106.9 64.2,106.5 64.3,107.4 64.4,106.9 64.5,106.5 64.6,107.1 64.7,107.6 64.8,106.9 64.9,106.3 65.0,106.9 65.1,106.1 65.2,106.8 65.3,106.2 65.4,107.6 65.5,106.7 65.6,106.9 65.7,107.1 65.8,106.2 65.9,107.5 66.0,106.9 66.1,107.2 66.2,106.1 66.3,106.4 66.4,107.4 66.5,107.5 66.6,107.7 66.7,107.4 66.8,106.2 66.9,106.3 67.0,106.4 67.1,107.0 67.2,106.9 67.3,106.7 67.4,106.4 67.5,107.7 67.6,107.4 67.7,106.7 67.8,107.5 67.9,106.1 68.0,107.6 68.1,106.1 68.2,107.3 68.3,107.4 68.4,107.0 68.5,106.6 68.6,106.1 68.7,106.9 68.8,106.2 68.9,106.2 69.0,106.1 69.1,107.1 69.2,106.9 69.3,107.7 69.4,107.1 69.5,107.1 69.6,107.5 69.7,106.3 69.8,107.2 69.9,107.5 70.0,107.5 70.1,107.7 70.2,106.4 70.3,106.8 70.4,106.8 70.5,107.0 70.6,106.1 70.7,107.1 70.8,106.9 70.9,106.6 71.0,106.2 71.1,106.3 71.2,106.2 71.3,107.4 71.4,106.1 71.5,106.3 71.6,107.1 71.7,106.4 71.8,106.1 71.9,106.5 72.0,106.5 72.1,106.3 72.2,106.2 72.3,106.4 72.4,107.6 72.5,107.3 72.6,107.5 72.7,106.9 72.8,107.6 72.9,106.8 73.0,106.2 73.1,106.1 73.2,107.6 73.3,106.6 73.4,107.5 73.5,106.3 73.6,107.6 73.7,107.5 73.8,107.2 73.9,107.7 74.0,106.6 74.1,107.4 74.2,106.5 74.3,106.1 74.4,106.9 74.5,106.9 74.6,106.0 74.7,107.2 74.8,106.2 74.9,106.5 75.0,107.7 75.1,107.2 75.2,106.5 75.3,107.6 75.4,106.3 75.5,106.2 75.6,106.4 75.7,106.4 75.8,106.7 75.9,106.4 76.0,106.9 76.1,107.0 76.2,106.5 76.3,106.9 76.4,107.2 76.5,107.3 76.6,107.0 76.7,107.1 76.8,106.4 76.9,106.4 77.0,106.4 77.1,106.3 77.2,107.1 77.3,107.1 77.4,106.3 77.5,107.4 77.6,106.5 77.7,106.8 77.8,106.6 77.9,106.5 78.0,106.6 78.1,107.3 78.2,107.7 78.3,106.1 78.4,106.2 78.5,106.9 78.6,106.6 78.7,107.5 78.8,106.9 78.9,106.7 79.0,106.5 79.1,107.3 79.2,107.5 79.3,106.1 79.4,106.3 79.5,107.4 79.6,106.3 79.7,106.4 79.8,107.4 79.9,106.4 80.0,107.1 80.1,107.1 80.2,107.4 80.3,106.7 80.4,106.7 80.5,106.8 80.6,107.5 80.7,106.4 80.8,107.2 80.9,107.3 81.0,106.6 81.1,107.4 81.2,106.2 81.3,106.6 81.4,106.4 81.5,107.1 81.6,107.0 81.7,107.3 81.8,107.3 81.9,107.0 82.0,106.4 82.1,106.9 82.2,106.3 82.3,107.5 82.4,107.2 82.5,107.6 82.6,106.2 82.7,107.6 82.8,106.8 82.9,106.6 83.0,107.4 83.1,106.1 83.2,106.1 83.3,107.3 83.4,107.5 83.5,106.6 83.6,106.8 83.7,106.7 83.8,106.7 83.9,106.1 84.0,106.4 84.1,107.2 84.2,106.5 84.3,106.9 84.4,106.1 84.5,106.9 84.6,107.7 84.7,106.2 84.8,107.2 84.9,106.3 85.0,106.6 85.1,106.4 85.2,106.4 85.3,106.1 85.4,106.2 85.5,106.5 85.6,107.0 85.7,106.7 85.8,107.0 85.9,106.8 86.0,106.5 86.1,106.5 86.2,106.7 86.3,106.7 86.4,106.7 86.5,106.6 86.6,106.0 86.7,106.7 86.8,106.3 86.9,106.3 87.0,105.6 87.1,105.9 87.2,106.2 87.3,105.2 87.4,105.3 87.5,104.9 87.6,105.0 87.7,105.3 87.8,104.8 87.9,105.5 88.0,103.9 88.1,104.8 88.2,103.6 88.3,102.6 88.4,102.4 88.5,102.3 88.6,100.4 88.7,101.2 88.8,101.6 88.9,101.6 89.0,98.8 89.1,100.0 89.2,97.0 89.3,97.5 89.4,98.6 89.5,98.5 89.6,97.9 89.7,95.9 89.8,96.1 89.9,98.0 90.0,95.2 90.1,97.7 90.2,97.6 90.3,96.9 90.4,97.6 90.5,97.2 90.6,98.0 90.7,97.9 90.8,97.7 90.9,97.7 91.0,99.9 91.1,99.7 91.2,98.6 91.3,101.1 91.4,101.4 91.5,98.9 91.6,101.3 91.7,101.9 91.8,100.3 91.9,102.4 92.0,101.2 92.1,102.3 92.2,103.0 92.3,103.1 92.4,101.9 92.5,103.3 92.6,103.4 92.7,103.8 92.8,102.5 92.9,104.0 93.0,103.4 93.1,103.6 93.2,103.7 93.3,103.7 93.4,102.6 93.5,103.5 93.6,103.1 93.7,104.5 93.8,103.7 93.9,104.5 94.0,103.5 94.1,104.5 94.2,103.2 94.3,104.0 94.4,103.4 94.5,103.9 94.6,103.5 94.7,104.0 94.8,104.4 94.9,102.4 95.0,103.1 95.1,103.8 95.2,102.3 95.3,103.8 95.4,102.7 95.5,101.7 95.6,101.9 95.7,102.5 95.8,101.7 95.9,103.3 96.0,100.5 96.1,101.1 96.2,101.4 96.3,102.2 96.4,101.7 96.5,101.0 96.6,101.9 96.7,101.2 96.8,101.2 96.9,102.0 97.0,102.4 97.1,102.6 97.2,102.9 97.3,100.0 97.4,102.3 97.5,100.5 97.6,102.6 97.7,100.5 97.8,101.5 97.9,102.7 98.0,101.2 98.1,101.8 98.2,102.4 98.3,103.5 98.4,102.7 98.5,102.7 98.6,102.9 98.7,102.9 98.8,103.4 98.9,104.4 99.0,103.9 99.1,105.2 99.2,105.0 99.3,105.9 99.4,105.7 99.5,106.1 99.6,105.5 99.7,105.8 99.8,106.7 99.9,105.5 100.0,105.7 100.1,106.2 100.2,105.7 100.3,106.4 100.4,107.1 100.5,106.2 100.6,105.9 100.7,107.5 100.8,106.7 100.9,107.2 101.0,106.1 101.1,107.5 101.2,106.3 101.3,107.3 101.4,106.6 101.5,106.5 101.6,106.4 101.7,107.6 101.8,106.9 101.9,107.4 102.0,107.5 102.1,107.3 102.2,107.3 102.3,106.0 102.4,106.7 102.5,106.8 102.6,106.6 102.7,106.9 102.8,106.9 102.9,105.9 103.0,104.9 103.1,105.0 103.2,103.2 103.3,103.1 103.4,101.0 103.5,103.6 103.6,102.0 103.7,100.1 103.8,96.0 103.9,103.5 104.0,95.4 104.1,97.7 104.2,91.7 104.3,95.8 104.4,95.5 104.5,97.1 104.6,93.7 104.7,92.8 104.8,99.3 104.9,93.1 105.0,94.7 105.1,94.6 105.2,91.6 105.3,96.7 105.4,86.2 105.5,89.0 105.6,89.0 105.7,84.2 105.8,95.5 105.9,84.7 106.0,86.5 106.1,85.4 106.2,92.8 106.3,79.9 106.4,94.4 106.5,95.7 106.6,80.9 106.7,79.3 106.8,93.7 106.9,82.4 107.0,81.0 107.1,78.1 107.2,90.2 107.3,97.4 107.4,95.6 107.5,90.4 107.6,88.1 107.7,98.7 107.8,94.2 107.9,98.7 108.0,95.4 108.1,95.1 108.2,94.5 108.3,85.1 108.4,88.0 108.5,84.5 108.6,99.0 108.7,100.3 108.8,96.9 108.9,90.5 109.0,89.6 109.1,92.2 109.2,91.4 109.3,88.5 109.4,87.8 109.5,96.6 109.6,98.1 109.7,84.7 109.8,90.7 109.9,90.4 110.0,94.8 110.1,95.9 110.2,93.0 110.3,100.3 110.4,94.2 110.5,92.9 110.6,100.1 110.7,99.7 110.8,101.2 110.9,92.7 111.0,91.0 111.1,94.2 111.2,101.1 111.3,96.1 111.4,97.7 111.5,93.0 111.6,101.3 111.7,90.3 111.8,95.7 111.9,95.8 112.0,97.1 112.1,97.6 112.2,89.1 112.3,86.2 112.4,98.5 112.5,93.6 112.6,88.6 112.7,84.7 112.8,97.2 112.9,97.0 113.0,93.7 113.1,90.3 113.2,95.2 113.3,99.3 113.4,95.2 113.5,97.4 113.6,99.3 113.7,98.8 113.8,96.1 113.9,93.1 114.0,98.9 114.1,99.9 114.2,101.5 114.3,92.3 114.4,93.7 114.5,99.0 114.6,100.6 114.7,93.4 114.8,98.7 114.9,95.8 115.0,102.6 115.1,98.1 115.2,94.7 115.3,102.1 115.4,100.2 115.5,101.2 115.6,98.7 115.7,101.3 115.8,100.4 115.9,100.3 116.0,102.5 116.1,102.3 116.2,104.5 116.3,105.0 116.4,103.8 116.5,100.7 116.6,105.2 116.7,102.4 116.8,103.0 116.9,103.8 117.0,105.0 117.1,104.5 117.1,104.6 117.2,104.9 117.3,104.4 117.4,104.3 117.5,105.6 117.6,105.0 117.7,105.7 117.8,105.5 117.9,106.8 118.0,105.4 118.1,106.0 118.2,107.1 118.3,106.9 118.4,106.8 118.5,106.7 118.6,105.9 118.7,106.0 118.8,106.5 118.9,107.4 119.0,106.0 119.1,106.1 119.2,107.5 119.3,106.6 119.4,106.6 119.5,106.6 119.6,106.5 119.7,107.7 119.8,107.2 119.9,107.1 120.0,106.6 120.1,107.5 120.2,107.2 120.3,107.4 120.4,107.6 120.5,106.9 120.6,107.4 120.7,106.9 120.8,107.4 120.9,106.4 121.0,107.5 121.1,106.4 121.2,106.6 121.3,107.4 121.4,107.1 121.5,107.1 121.6,106.9 121.7,106.6 121.8,107.7 121.9,107.4 122.0,106.5 122.1,107.5 122.2,106.3 122.3,107.1 122.4,107.6 122.5,106.4 122.6,107.3 122.7,106.0 122.8,106.2 122.9,106.2 123.0,106.2 123.1,107.6 123.2,107.6 123.3,107.0 123.4,107.0 123.5,107.0 123.6,106.7 123.7,106.4 123.8,106.4 123.9,106.2 124.0,106.6 124.1,106.2 124.2,107.5 124.3,107.6 124.4,106.9 124.5,106.2 124.6,107.1 124.7,107.5 124.8,107.5 124.9,107.3 125.0,106.3 125.1,107.1 125.2,106.3 125.3,106.1 125.4,106.4 125.5,106.2 125.6,107.3 125.7,107.4 125.8,107.3 125.9,107.7 126.0,106.2 126.1,107.4 126.2,106.7 126.3,107.2 126.4,106.8 126.5,107.0 126.6,106.5 126.7,107.4 126.8,107.2 126.9,107.5 127.0,107.2 127.1,106.3 127.2,106.1 127.3,107.7 127.4,106.3 127.5,106.5 127.6,107.6 127.7,107.4 127.8,106.3 127.9,107.4 128.0,106.2 128.1,106.8 128.2,106.1 128.3,106.9 128.4,107.5 128.5,106.7 128.6,107.0 128.7,107.6 128.8,106.3 128.9,106.2 129.0,106.1 129.1,106.6 129.2,106.7 129.3,107.4 129.4,106.1 129.5,106.5 129.6,106.6 129.7,106.5 129.8,106.3 129.9,107.1 130.0,107.5 130.1,106.1 130.2,107.6 130.3,107.2 130.4,106.9 130.5,107.6 130.6,107.2 130.7,106.3 130.8,106.7 130.9,106.7 131.0,107.7 131.1,107.0 131.2,107.5 131.3,107.1 131.4,107.1 131.5,107.0 131.6,107.2 131.7,106.4 131.8,106.9 131.9,106.2 132.0,107.1 132.1,107.5 132.2,107.1 132.3,106.3 132.4,107.1 132.5,106.3 132.6,106.5 132.7,107.3 132.8,107.4 132.9,107.5 133.0,107.0 133.1,106.5 133.2,107.2 133.3,106.1 133.4,107.7 133.5,106.4 133.6,107.4 133.7,106.0 133.8,107.5 133.9,106.2 134.0,107.0 134.1,107.2 134.2,107.6 134.3,107.3 134.4,107.1 134.5,106.1 134.6,106.1 134.7,107.6 134.8,106.7 134.9,107.6 135.0,107.5 135.1,106.7 135.2,106.8 135.3,106.2 135.4,106.1 135.5,107.3 135.6,106.6 135.7,106.3 135.8,106.3 135.9,106.7 136.0,106.8 136.1,106.7 136.2,106.7 136.3,106.7 136.4,106.1 136.5,107.1 136.6,106.6 136.7,106.7 136.8,106.2 136.9,107.0 137.0,106.3 137.1,105.7 137.2,107.0 137.3,105.8 137.4,105.5 137.5,106.4 137.6,106.3 137.7,106.0 137.8,105.8 137.9,106.3 138.0,104.9 138.1,104.2 138.2,105.8 138.3,103.3 138.4,103.1 138.5,105.3 138.6,104.5 138.7,104.4 138.8,105.2 138.9,101.9 139.0,99.7 139.1,104.4 139.2,103.4 139.3,98.1 139.4,100.1 139.5,93.8 139.6,94.3 139.7,97.0 139.8,102.6 139.9,89.0 140.0,80.6 140.1,78.4 140.2,81.9 140.3,91.0 140.4,92.4 140.5,92.3 140.6,99.7 140.7,89.4 140.8,87.2 140.9,80.3 141.0,80.8 141.1,83.2 141.2,101.9 141.3,27.3 141.4,67.9 141.5,26.8 141.6,40.7 141.7,99.5 141.8,67.7 141.9,80.8 142.0,64.7 142.1,81.6 142.2,63.9 142.3,87.0 142.4,104.1 142.5,95.3 142.6,94.8 142.7,93.1 142.8,88.4 142.9,101.1 143.0,94.5 143.1,94.4 143.2,99.5 143.3,105.5 143.4,103.6 143.5,103.6 143.6,99.5 143.7,105.5 143.8,103.2 143.9,104.4 144.0,104.6 144.1,104.9 144.2,103.5 144.3,102.9 144.4,104.8 144.5,104.6 144.6,105.2 144.7,104.4 144.8,104.3 144.9,105.9 145.0,105.6 145.1,106.2 145.2,105.6 145.3,106.7 145.4,107.0 145.5,106.1 145.6,105.8 145.7,105.7 145.8,106.9 145.9,105.9 146.0,107.1 146.1,107.0 146.2,106.7 146.3,106.8 146.4,107.4 146.5,106.2 146.6,106.2 146.7,107.3 146.8,106.7 146.9,106.1 147.0,107.1 147.1,106.7 147.2,107.2 147.3,106.8 147.4,107.2 147.5,106.3 147.6,107.4 147.7,107.6 147.8,106.2 147.9,107.4 148.0,106.8 148.1,106.5 148.2,107.1 148.3,106.1 148.4,107.1 148.5,107.4 148.6,107.6 148.7,106.2 148.8,107.3 148.9,106.2 149.0,106.9 149.1,106.1 149.2,107.5 149.3,106.3 149.4,106.1 149.5,106.5 149.6,107.5 149.7,106.0 149.8,106.4 149.9,107.3 150.0,106.1 150.1,107.5 150.2,107.5 150.3,107.7 150.4,106.7 150.5,107.0 150.6,107.6 150.7,106.9 150.8,106.2 150.9,107.5 151.0,106.6 151.1,107.4 151.2,106.8 151.3,107.1 151.4,107.2 151.5,107.7 151.6,106.7 151.7,107.0 151.8,106.6 151.9,107.4 152.0,106.1 152.1,107.7 152.2,107.4 152.3,106.6 152.4,107.5 152.5,107.3 152.6,106.9 152.7,106.4 152.8,106.3 152.9,107.2 153.0,106.6 153.1,107.7 153.2,106.2 153.3,106.6 153.4,106.2 153.5,107.3 153.6,106.9 153.7,106.5 153.8,107.7 153.9,106.3 154.0,106.5 154.1,106.4 154.2,107.4 154.3,106.4 154.4,106.8 154.5,107.4 154.6,107.5 154.7,106.3 154.8,107.0 154.9,107.2 155.0,107.1 155.1,106.6 155.2,107.5 155.3,107.4 155.4,106.6 155.5,106.2 155.6,106.6 155.7,106.1 155.8,107.2 155.9,107.1 156.0,107.1 156.1,107.1 156.2,107.2 156.3,106.4 156.4,107.2 156.5,107.0 156.6,106.9 156.7,106.0 156.8,107.1 156.9,106.6 157.0,107.2 157.1,106.4 157.2,107.1 157.3,107.7 157.4,106.8 157.5,107.1 157.6,107.3 157.7,107.2 157.8,107.7 157.9,106.5 158.0,106.8 158.1,106.6 158.2,106.8 158.3,107.1 158.4,106.9 158.5,106.9 158.6,106.2 158.7,107.1 158.8,107.4 158.9,107.6 159.0,107.1 159.1,106.7 159.2,106.7 159.3,106.5 159.4,106.6 159.5,107.6 159.6,107.0 159.7,107.1 159.8,107.5 159.9,106.7 160.0,106.4 160.1,107.6 160.2,106.8 160.3,107.5 160.4,106.4 160.5,106.8 160.6,107.6 160.7,106.8 160.8,107.3 160.9,107.4 161.0,106.6 161.1,107.0 161.2,106.2 161.3,106.2 161.4,106.3 161.5,107.0 161.6,106.2 161.7,107.6 161.8,106.4 161.9,107.1 162.0,106.3 162.1,107.6 162.2,106.7 162.3,107.6 162.4,107.2 162.5,106.8 162.6,107.5 162.7,106.5 162.8,106.8 162.9,107.3 163.0,106.8 163.1,107.0 163.2,107.6 163.3,106.5 163.4,106.5 163.5,106.2 163.6,106.1 163.7,107.1 163.8,106.6 163.9,106.7 164.0,107.6 164.1,106.5 164.2,107.2 164.3,107.0 164.4,106.7 164.5,106.9 164.6,107.2 164.7,106.2 164.8,107.5 164.9,106.7 165.0,107.4 165.1,106.2 165.2,106.1 165.3,106.5 165.4,106.2 165.5,106.4 165.6,106.6 165.7,106.5 165.8,106.2 165.9,107.3 166.0,106.5 166.1,107.4 166.2,106.9 166.3,107.1 166.4,106.6 166.5,106.6 166.6,106.2 166.7,106.3 166.8,107.5 166.9,107.3 167.0,107.6 167.1,106.4 167.2,107.1 167.3,105.9 167.4,107.1 167.5,106.0 167.6,106.3 167.7,106.3 167.8,106.4 167.9,106.0 168.0,107.2 168.1,106.0 168.2,105.6 168.3,106.1 168.4,105.7 168.5,106.5 168.6,105.9 168.7,106.0 168.8,106.6 168.9,107.3 169.0,105.3 169.1,105.2 169.2,106.8 169.3,106.5 169.4,106.5 169.5,104.5 169.6,106.0 169.7,105.7 169.8,105.3 169.9,105.6 170.0,106.2 170.1,104.8 170.2,103.8 170.3,104.5 170.4,106.5 170.5,104.2 170.6,106.3 170.7,103.7 170.8,104.4 170.9,104.6 171.0,103.7 171.1,106.1 171.2,103.6 171.3,105.5 171.4,106.7 171.5,104.2 171.6,103.6 171.7,105.4 171.8,103.8 171.9,105.9 172.0,103.9 172.1,105.4 172.2,102.0 172.3,103.4 172.4,102.8 172.5,106.2 172.6,105.0 172.7,104.8 172.8,101.1 172.9,102.0 173.0,105.0 173.1,104.5 173.2,103.9 173.3,102.4 173.4,100.7 173.5,105.0 173.6,102.5 173.7,101.6 173.8,104.3 173.9,101.4 174.0,104.3 174.1,104.3 174.2,101.1 174.3,102.8 174.4,102.5 174.5,100.4 174.6,98.6 174.7,100.5 174.8,97.5 174.9,99.8 175.0,101.1 175.1,103.2 175.2,102.7 175.3,99.7 175.4,103.3 175.5,103.3 175.6,103.6 175.7,102.8 175.8,100.4 175.9,103.7 176.0,101.9 176.1,97.5 176.2,102.8 176.3,102.8 176.4,101.8 176.5,99.0 176.6,102.8 176.7,101.6 176.8,100.9 176.9,93.8 177.0,97.1 177.1,104.0 177.2,99.5 177.3,101.9 177.4,95.6 177.5,100.9 177.6,101.3 177.7,102.2 177.8,104.8 177.9,98.7 178.0,97.4 178.1,93.2 178.2,97.0 178.3,98.8 178.4,104.5 178.5,99.6 178.6,101.2 178.7,101.5 178.8,93.7 178.9,96.5 179.0,100.0 179.1,90.6 179.2,92.7 179.3,101.2 179.4,100.1 179.5,93.9 179.6,93.2 179.7,102.9 179.8,97.2 179.9,96.4 180.0,100.3 180.1,101.1 180.2,105.0 180.3,92.7 180.4,101.5 180.5,98.4 180.6,95.9 180.7,100.4 180.8,92.7 180.9,94.0 181.0,92.0 181.1,100.2 181.2,100.3 181.3,94.0 181.4,97.0 181.5,103.4 181.6,98.0 181.7,97.3 181.8,103.8 181.9,99.1 182.0,99.4 182.1,99.4 182.2,91.7 182.3,98.1 182.4,103.0 182.5,102.0 182.6,104.4 182.7,99.2 182.8,100.9 182.9,97.7 183.0,96.5 183.1,94.6 183.2,95.9 183.3,95.4 183.4,99.0 183.5,98.9 183.6,102.6 183.7,103.4 183.8,101.7 183.9,101.8 184.0,101.3 184.1,98.6 184.2,101.4 184.3,103.0 184.4,104.2 184.5,103.0 184.6,94.7 184.7,102.2 184.8,97.2 184.9,102.9 185.0,104.8 185.1,103.4 185.2,97.6 185.3,99.7 185.4,97.6 185.5,102.1 185.6,103.4 185.7,103.7 185.8,100.6 185.9,101.8 186.0,99.8 186.1,105.7 186.2,105.1 186.3,97.1 186.4,101.6 186.5,102.3 186.6,97.8 186.7,94.7 186.8,94.7 186.9,102.5 187.0,96.2 187.1,99.2 187.2,102.7 187.3,96.8 187.4,103.5 187.5,99.6 187.6,99.5 187.7,100.9 187.8,97.5 187.9,104.0 188.0,101.4 188.1,98.9 188.2,96.0 188.3,100.7 188.4,105.6 188.5,104.3 188.6,96.3 188.7,99.1 188.8,100.9 188.9,99.5 189.0,95.6 189.1,95.6 189.2,99.3 189.3,101.2 189.4,102.3 189.5,100.4 189.6,101.1 189.7,92.5 189.8,96.0 189.9,98.0 190.0,96.1 190.1,98.4 190.2,97.2 190.3,96.9 190.4,91.8 190.5,102.2 190.6,103.9 190.7,99.9 190.8,96.1 190.9,98.8 191.0,104.0 191.1,101.2 191.2,102.7 191.3,102.0 191.4,105.4 191.5,101.5 191.6,93.3 191.7,98.7 191.8,103.5 191.9,96.5 192.0,94.2 192.1,95.1 192.2,93.8 192.3,95.6 192.4,102.1 192.5,100.5 192.6,102.4 192.7,100.9 192.8,98.0 192.9,103.6 193.0,98.0 193.1,99.2 193.2,99.8 193.3,101.8 193.4,103.4 193.5,101.5 193.6,101.3 193.7,98.4 193.8,101.3 193.9,103.8 194.0,100.7 194.1,103.7 194.2,100.9 194.3,102.1 194.4,102.9 194.5,99.2 194.6,99.8 194.7,100.4 194.8,102.2 194.9,104.1 195.0,103.6 195.1,101.0 195.2,101.9 195.3,100.9 195.4,103.8 195.5,103.2 195.6,102.1 195.7,102.1 195.8,105.6 195.9,104.1 196.0,105.2 196.1,102.4 196.2,103.2 196.3,105.7 196.4,105.9 196.5,102.7 196.6,105.7 196.7,105.0 196.8,105.7 196.9,106.1 197.0,104.0 197.1,106.6 197.2,102.7 197.3,105.0 197.4,103.9 197.5,103.9 197.6,105.0 197.7,105.3 197.8,102.8 197.9,105.4 198.0,105.4 198.1,103.5 198.2,104.9 198.3,104.5 198.4,105.6 198.5,104.9 198.6,106.6 198.7,107.0 198.8,106.3 198.9,105.8 199.0,105.4 199.1,105.1 199.2,105.7 199.3,106.6 199.4,106.8 199.5,106.0 199.6,106.8 199.7,106.0 199.8,106.2 199.9,106.0 200.0,106.4 200.1,107.3 200.2,106.3 200.3,106.8 200.4,107.1 200.5,107.4 200.6,107.1 200.7,107.4 200.8,107.4 200.9,106.3 201.0,106.1 201.1,106.0 201.2,106.7 201.3,106.7 201.4,107.5 201.5,107.4 201.6,106.3 201.7,106.7 201.8,106.7 201.9,106.4 202.0,106.3 202.1,106.5 202.2,107.7 202.3,106.8 202.4,106.3 202.5,106.3 202.6,106.1 202.7,106.8 202.8,106.8 202.9,107.6 203.0,106.8 203.1,106.8 203.2,106.2 203.3,106.2 203.4,107.6 203.5,107.5 203.6,107.1 203.7,106.4 203.8,107.4 203.9,106.4 204.0,106.7 204.1,106.2 204.2,107.1 204.3,107.0 204.4,107.6 204.5,106.8 204.6,106.4 204.7,106.8 204.8,106.8 204.9,106.2 205.0,106.4 205.1,107.2 205.2,106.1 205.3,106.5 205.4,107.2 205.5,107.3 205.6,106.6 205.7,106.9 205.8,106.7 205.9,107.5 206.0,106.4 206.1,106.3 206.2,107.0 206.3,107.2 206.4,106.1 206.5,106.1 206.6,107.5 206.7,106.8 206.8,107.0 206.9,107.2 207.0,106.8 207.1,106.6 207.2,107.1 207.3,107.2 207.4,106.3 207.5,106.6 207.6,107.2 207.7,107.4 207.8,107.1 207.9,106.1 208.0,106.3 208.1,107.3 208.2,106.7 208.3,107.7 208.4,106.2 208.5,106.1 208.6,107.3 208.7,107.1 208.8,107.2 208.9,107.4 209.0,106.6 209.1,107.1 209.2,107.7 209.3,107.3 209.4,106.6 209.5,106.5 209.6,107.7 209.7,106.8 209.8,106.6 209.9,106.6 210.0,106.6 210.1,106.4 210.2,107.1 210.3,106.3 210.4,107.0 210.5,107.6 210.6,106.6 210.7,107.1 210.8,106.6 210.9,107.1 211.0,106.9 211.1,106.8 211.2,106.5 211.3,107.2 211.4,106.6 211.5,107.3 211.6,106.4 211.7,107.3 211.8,107.6 211.9,107.6 212.0,106.7 212.1,107.2 212.2,106.7 212.3,107.2 212.4,107.0 212.5,106.3 212.6,106.2 212.7,107.6 212.8,106.1 212.9,106.9 213.0,106.5 213.1,106.2 213.2,107.4 213.3,107.1 213.4,106.2 213.5,106.8 213.6,106.2 213.7,106.3 213.8,106.0 213.9,106.6 214.0,107.6 214.1,106.2 214.2,107.4 214.3,107.4 214.4,107.1 214.5,107.4 214.6,107.5 214.7,106.6 214.8,106.2 214.9,107.3 215.0,107.1 215.1,106.6 215.2,107.2 215.3,106.9 215.4,106.2 215.5,107.5 215.6,106.8 215.7,107.3 215.8,106.4 215.9,107.3 216.0,106.4 216.1,107.0"/>
<rect x="33.9" y="16.2" width="186.48" height="95.17" fill="none" stroke="#000" stroke-width="1.65"/>
<path d="M40.56 111.07v2.6M57.21 111.07v1.6M73.86 111.07v2.6M90.51 111.07v1.6M107.16 111.07v2.6M123.81 111.07v1.6M140.46 111.07v2.6M157.11 111.07v1.6M173.76 111.07v2.6M190.41 111.07v1.6M207.06 111.07v2.6M33.9 106.95h-2.7M33.9 98.7h-1.6M33.9 90.45h-2.7M33.9 82.2h-1.6M33.9 73.95h-2.7M33.9 65.7h-1.6M33.9 57.45h-2.7M33.9 49.2h-1.6M33.9 40.95h-2.7M33.9 32.7h-1.6M33.9 24.45h-2.7" stroke="#000" stroke-width="1.1" fill="none"/>
<text x="40.56" y="123.97" font-size="8.3" text-anchor="middle" font-weight="normal" fill="#000" stroke="#000" stroke-width="0.1" >450</text>
<text x="73.86" y="123.97" font-size="8.3" text-anchor="middle" font-weight="normal" fill="#000" stroke="#000" stroke-width="0.1" >500</text>
<text x="107.16" y="123.97" font-size="8.3" text-anchor="middle" font-weight="normal" fill="#000" stroke="#000" stroke-width="0.1" >550</text>
<text x="140.46" y="123.97" font-size="8.3" text-anchor="middle" font-weight="normal" fill="#000" stroke="#000" stroke-width="0.1" >600</text>
<text x="173.76" y="123.97" font-size="8.3" text-anchor="middle" font-weight="normal" fill="#000" stroke="#000" stroke-width="0.1" >650</text>
<text x="207.06" y="123.97" font-size="8.3" text-anchor="middle" font-weight="normal" fill="#000" stroke="#000" stroke-width="0.1" >700</text>
<text x="27.1" y="110.15" font-size="8.3" text-anchor="end" font-weight="normal" fill="#000" stroke="#000" stroke-width="0.1" >0.0</text>
<text x="27.1" y="93.65" font-size="8.3" text-anchor="end" font-weight="normal" fill="#000" stroke="#000" stroke-width="0.1" >0.2</text>
<text x="27.1" y="77.15" font-size="8.3" text-anchor="end" font-weight="normal" fill="#000" stroke="#000" stroke-width="0.1" >0.4</text>
<text x="27.1" y="60.65" font-size="8.3" text-anchor="end" font-weight="normal" fill="#000" stroke="#000" stroke-width="0.1" >0.6</text>
<text x="27.1" y="44.15" font-size="8.3" text-anchor="end" font-weight="normal" fill="#000" stroke="#000" stroke-width="0.1" >0.8</text>
<text x="27.1" y="27.65" font-size="8.3" text-anchor="end" font-weight="normal" fill="#000" stroke="#000" stroke-width="0.1" >1.0</text>
<text x="127.14" y="137.97" font-size="8.3" text-anchor="middle" font-weight="normal" fill="#000" stroke="#000" stroke-width="0.1" >Wavelength (nm)</text>
<text transform="translate(7.1,63.64) rotate(-90)" x="0" y="0" font-size="8.3" text-anchor="middle" fill="#000" stroke="#000" stroke-width="0.05">Normalized intensity (a.u.)</text>
<text x="181.3" y="27" font-size="7" text-anchor="start" font-weight="normal" fill="#000" stroke="#000" stroke-width="0.1" >1200 nm</text>
<polyline fill="none" stroke="url(#wl2)" stroke-width="0.75" stroke-linejoin="round" points="291.5,107.0 291.6,107.0 291.7,107.6 291.8,107.1 291.9,106.2 292.0,106.6 292.1,107.1 292.2,106.3 292.3,107.2 292.4,107.0 292.5,107.2 292.6,107.0 292.7,107.5 292.8,106.7 292.9,107.5 293.0,106.9 293.1,106.4 293.2,106.2 293.3,106.6 293.4,107.1 293.5,107.4 293.6,107.2 293.7,107.2 293.8,106.6 293.9,106.4 294.0,107.5 294.1,106.9 294.2,106.4 294.3,106.5 294.4,107.5 294.5,106.7 294.6,106.2 294.7,106.3 294.8,107.3 294.9,106.3 295.0,106.1 295.1,106.2 295.2,106.3 295.3,107.5 295.4,107.0 295.5,106.6 295.6,106.3 295.7,106.3 295.8,107.0 295.9,107.1 296.0,106.5 296.1,107.2 296.2,107.0 296.3,106.3 296.4,107.2 296.5,106.3 296.6,107.6 296.7,107.5 296.8,107.1 296.9,106.6 297.0,107.3 297.1,106.1 297.2,106.7 297.3,107.6 297.4,107.3 297.5,106.3 297.6,107.5 297.7,107.7 297.8,107.3 297.9,107.6 298.0,107.4 298.1,106.9 298.2,106.3 298.3,106.9 298.4,106.8 298.5,107.5 298.6,107.1 298.7,106.6 298.8,106.9 298.9,106.1 299.0,107.0 299.1,106.2 299.2,107.3 299.3,106.6 299.4,106.4 299.5,106.1 299.6,107.4 299.7,106.7 299.8,106.2 299.9,106.9 300.0,106.1 300.1,106.2 300.2,107.2 300.3,106.9 300.4,107.2 300.5,106.4 300.6,107.6 300.7,106.6 300.8,107.7 300.9,107.6 301.0,106.4 301.1,107.3 301.2,106.8 301.3,106.2 301.4,107.4 301.5,107.0 301.6,106.4 301.7,106.7 301.8,106.7 301.9,107.4 302.0,106.8 302.1,106.3 302.2,106.8 302.3,106.6 302.4,106.5 302.5,107.1 302.6,106.8 302.7,107.1 302.8,107.2 302.9,107.6 303.0,106.2 303.1,107.1 303.2,106.5 303.3,107.4 303.4,106.7 303.5,106.5 303.6,106.5 303.7,106.9 303.8,106.1 303.9,107.4 304.0,106.5 304.1,107.5 304.2,106.9 304.3,107.7 304.4,107.6 304.5,106.2 304.6,106.5 304.7,107.6 304.8,107.6 304.9,107.5 305.0,106.3 305.1,106.9 305.2,106.3 305.3,106.7 305.4,106.4 305.5,107.5 305.6,106.5 305.7,107.2 305.8,106.6 305.9,107.4 306.0,107.1 306.1,106.4 306.2,107.6 306.3,107.4 306.4,107.2 306.5,107.3 306.6,106.3 306.7,106.2 306.8,106.3 306.9,107.0 307.0,106.6 307.1,106.8 307.2,106.6 307.3,106.7 307.4,106.2 307.5,106.6 307.6,107.6 307.7,106.5 307.8,106.8 307.9,106.4 308.0,107.1 308.1,107.3 308.2,106.9 308.3,107.3 308.4,106.7 308.5,106.8 308.6,106.6 308.7,107.7 308.8,106.4 308.9,107.5 309.0,106.9 309.1,107.0 309.2,106.1 309.3,106.4 309.4,106.2 309.5,107.3 309.6,106.9 309.7,106.2 309.8,106.3 309.9,106.7 310.0,106.9 310.1,107.3 310.2,106.8 310.3,106.3 310.4,106.5 310.5,106.3 310.6,106.7 310.7,107.5 310.8,107.4 310.9,107.0 311.0,106.2 311.1,106.9 311.2,106.1 311.3,106.9 311.4,106.5 311.5,106.5 311.6,107.7 311.7,107.0 311.8,106.7 311.9,106.1 312.0,106.3 312.1,107.3 312.2,107.2 312.3,106.9 312.4,107.1 312.5,107.1 312.6,106.8 312.7,107.6 312.8,107.0 312.9,107.6 313.0,107.7 313.1,106.3 313.2,107.6 313.3,106.6 313.4,106.4 313.5,107.6 313.6,107.6 313.7,107.6 313.8,106.2 313.9,106.9 314.0,107.4 314.1,106.1 314.2,106.7 314.3,106.2 314.4,107.5 314.5,106.7 314.6,106.4 314.7,106.9 314.8,106.8 314.9,107.6 315.0,107.3 315.1,107.2 315.2,106.9 315.3,107.6 315.4,107.4 315.5,106.5 315.6,105.9 315.7,107.0 315.8,106.5 315.9,106.6 316.0,106.0 316.1,106.3 316.2,106.4 316.3,106.9 316.4,106.9 316.5,106.3 316.6,106.7 316.7,106.0 316.8,106.3 316.9,105.3 317.0,105.9 317.1,105.0 317.2,105.1 317.3,104.9 317.4,105.6 317.5,105.3 317.6,103.8 317.7,104.8 317.8,103.7 317.9,103.8 318.0,104.2 318.1,103.6 318.2,102.9 318.3,103.1 318.4,101.0 318.5,101.1 318.6,100.1 318.7,99.2 318.8,101.7 318.9,99.2 319.0,99.7 319.1,96.6 319.2,99.2 319.3,94.2 319.4,97.4 319.5,98.2 319.6,96.6 319.7,93.3 319.8,96.2 319.9,96.2 320.0,94.8 320.1,95.9 320.2,94.2 320.3,96.7 320.4,93.4 320.5,95.0 320.6,95.9 320.7,95.9 320.8,95.4 320.9,99.3 321.0,96.5 321.1,98.3 321.2,99.2 321.3,97.4 321.4,97.4 321.5,99.7 321.6,99.3 321.7,100.2 321.8,100.1 321.9,100.6 322.0,102.0 322.1,102.7 322.2,101.2 322.3,102.2 322.4,102.0 322.5,101.4 322.6,101.9 322.7,102.8 322.8,102.8 322.9,102.6 323.0,102.0 323.1,103.1 323.2,102.8 323.3,103.6 323.4,103.8 323.5,103.5 323.6,103.8 323.7,103.7 323.8,104.4 323.9,103.6 324.0,103.5 324.1,103.6 324.2,104.7 324.3,103.7 324.4,103.4 324.5,103.7 324.6,104.2 324.7,103.5 324.8,103.1 324.9,103.0 325.0,103.8 325.1,103.4 325.2,103.0 325.3,103.0 325.4,103.8 325.5,102.3 325.6,102.8 325.7,101.8 325.8,101.6 325.9,101.4 326.0,102.4 326.1,103.2 326.2,103.0 326.3,102.8 326.4,102.6 326.5,101.5 326.6,102.7 326.7,101.9 326.8,103.1 326.9,103.1 327.0,100.7 327.1,102.5 327.2,101.8 327.3,101.2 327.4,103.2 327.5,102.4 327.6,103.8 327.7,101.4 327.8,101.7 327.9,103.0 328.0,103.8 328.1,102.7 328.2,102.2 328.3,103.0 328.4,102.5 328.5,102.2 328.6,103.3 328.7,103.4 328.8,103.7 328.9,104.6 329.0,104.3 329.1,105.6 329.2,104.3 329.3,105.5 329.4,105.6 329.5,105.5 329.6,105.4 329.7,106.2 329.8,105.6 329.9,105.7 330.0,106.5 330.1,106.6 330.2,105.8 330.3,106.9 330.4,106.1 330.5,106.0 330.6,106.9 330.7,107.0 330.8,107.3 330.9,107.3 331.0,106.2 331.1,107.2 331.2,107.2 331.3,106.6 331.4,107.2 331.5,107.2 331.6,106.1 331.7,106.0 331.8,106.4 331.9,106.4 332.0,107.0 332.1,107.1 332.2,106.3 332.3,106.7 332.4,107.2 332.5,107.0 332.6,106.2 332.7,106.7 332.8,105.9 332.9,106.6 333.0,106.6 333.1,106.4 333.2,105.7 333.3,104.6 333.4,104.7 333.5,105.0 333.6,101.7 333.7,104.4 333.8,102.1 333.9,100.4 334.0,100.3 334.1,97.3 334.2,98.2 334.3,95.5 334.4,99.5 334.5,102.1 334.6,95.1 334.7,94.5 334.8,98.4 334.9,94.3 335.0,93.7 335.1,94.3 335.2,100.2 335.3,96.4 335.4,99.7 335.5,100.2 335.6,91.6 335.7,86.5 335.8,85.2 335.9,95.7 336.0,92.7 336.1,97.1 336.2,93.5 336.3,82.4 336.4,88.5 336.5,87.5 336.6,82.3 336.7,82.5 336.8,93.9 336.9,93.4 337.0,90.5 337.1,88.0 337.2,90.8 337.3,93.8 337.4,97.9 337.5,94.1 337.6,97.6 337.7,93.3 337.8,94.0 337.9,95.6 338.0,91.8 338.1,93.3 338.2,90.4 338.3,90.5 338.4,97.7 338.5,90.8 338.6,92.4 338.7,97.1 338.8,101.1 338.9,100.8 339.0,99.3 339.1,94.1 339.2,93.3 339.3,95.2 339.4,90.0 339.5,93.9 339.6,99.4 339.7,98.3 339.8,101.4 339.9,94.1 340.0,95.4 340.1,100.0 340.2,95.0 340.3,95.3 340.4,102.8 340.5,97.8 340.6,102.7 340.7,98.3 340.8,102.1 340.9,100.7 341.0,97.4 341.1,95.0 341.2,99.9 341.3,96.3 341.4,96.3 341.5,100.5 341.6,96.3 341.7,94.7 341.8,100.5 341.9,99.7 342.0,98.6 342.1,92.9 342.2,100.4 342.3,93.0 342.4,89.2 342.5,87.2 342.6,98.1 342.7,96.9 342.8,100.7 342.9,88.9 343.0,88.0 343.1,100.1 343.2,90.6 343.3,93.5 343.4,90.8 343.5,96.4 343.6,92.6 343.7,90.3 343.8,101.1 343.9,92.3 344.0,96.2 344.1,94.5 344.2,101.1 344.3,100.5 344.4,102.1 344.5,98.8 344.6,101.3 344.7,101.8 344.8,102.1 344.9,97.3 345.0,100.1 345.1,102.2 345.2,99.2 345.3,101.7 345.4,101.6 345.5,103.5 345.6,102.6 345.7,102.2 345.8,101.1 345.9,102.1 346.0,103.1 346.1,104.8 346.2,102.2 346.3,104.3 346.4,102.7 346.5,103.7 346.6,105.1 346.7,104.8 346.8,103.6 346.9,103.5 347.0,105.0 347.1,105.9 347.2,105.3 347.3,105.6 347.4,106.1 347.5,106.7 347.6,105.0 347.7,105.2 347.8,106.0 347.9,106.7 348.0,106.9 348.1,106.0 348.2,106.9 348.3,106.0 348.4,105.8 348.5,107.2 348.6,105.7 348.7,105.9 348.8,107.4 348.9,106.7 349.0,107.1 349.1,106.6 349.2,106.3 349.3,107.2 349.4,107.6 349.5,107.1 349.6,107.4 349.7,106.5 349.8,107.2 349.9,106.7 350.0,107.5 350.1,107.2 350.2,106.4 350.3,106.3 350.4,106.8 350.5,106.7 350.6,107.6 350.7,106.7 350.8,106.7 350.9,107.3 351.0,106.5 351.1,107.5 351.2,106.8 351.3,107.5 351.4,106.3 351.5,107.0 351.6,106.1 351.7,106.9 351.8,106.4 351.9,106.9 352.0,107.6 352.1,107.1 352.2,106.7 352.3,106.3 352.4,107.5 352.5,106.8 352.6,106.2 352.7,107.3 352.8,107.1 352.9,106.9 353.0,106.2 353.1,107.0 353.2,105.8 353.3,106.0 353.4,106.2 353.5,105.7 353.6,106.8 353.7,107.6 353.8,106.4 353.9,105.6 354.0,105.7 354.1,107.3 354.2,106.4 354.3,105.9 354.4,105.5 354.5,105.8 354.6,105.4 354.7,104.6 354.8,105.2 354.9,104.1 355.0,103.3 355.1,105.6 355.2,104.4 355.3,103.0 355.4,107.2 355.5,104.0 355.6,103.1 355.7,100.6 355.8,105.8 355.9,102.4 356.0,99.7 356.1,101.9 356.2,100.9 356.3,98.9 356.4,95.0 356.5,88.7 356.6,100.4 356.7,81.8 356.8,79.4 356.9,92.5 357.0,101.6 357.1,101.0 357.2,71.5 357.3,97.1 357.4,65.5 357.5,62.5 357.6,74.0 357.7,77.8 357.8,69.7 357.9,97.9 358.0,57.0 358.1,40.1 358.2,49.0 358.3,26.8 358.4,78.9 358.5,43.0 358.6,70.7 358.7,51.6 358.8,88.7 358.9,72.8 359.0,95.3 359.1,69.5 359.2,84.1 359.3,100.1 359.4,96.4 359.5,82.5 359.6,82.6 359.7,96.4 359.8,106.2 359.9,94.8 360.0,101.3 360.1,102.0 360.2,105.9 360.3,99.6 360.4,98.8 360.5,99.6 360.6,105.8 360.7,101.4 360.8,105.1 360.9,105.6 361.0,105.8 361.1,104.1 361.2,104.7 361.3,106.7 361.4,105.4 361.5,106.8 361.6,105.8 361.7,106.6 361.8,106.0 361.9,105.6 362.0,106.0 362.1,106.3 362.2,105.4 362.3,106.7 362.4,107.4 362.5,106.4 362.6,106.8 362.7,107.0 362.8,105.9 362.9,105.8 363.0,107.0 363.1,107.0 363.2,106.4 363.3,106.5 363.4,106.5 363.5,107.1 363.6,106.3 363.7,107.2 363.8,106.2 363.9,106.1 364.0,107.2 364.1,106.7 364.2,106.5 364.3,107.3 364.4,106.1 364.5,107.0 364.6,106.8 364.7,107.1 364.8,107.0 364.9,107.5 365.0,106.1 365.1,106.2 365.2,106.4 365.3,106.0 365.4,106.3 365.5,106.7 365.6,107.7 365.7,106.1 365.8,106.4 365.9,106.8 366.0,106.9 366.1,106.7 366.2,106.5 366.3,106.8 366.4,107.1 366.5,107.6 366.6,107.0 366.7,107.5 366.8,107.1 366.9,106.3 367.0,106.4 367.1,106.9 367.2,106.6 367.3,107.0 367.4,106.8 367.5,106.2 367.6,106.1 367.7,107.2 367.8,106.4 367.9,107.1 368.0,106.9 368.1,107.0 368.2,107.4 368.3,107.3 368.4,106.2 368.5,106.7 368.6,107.4 368.7,106.1 368.8,106.4 368.9,106.4 369.0,106.8 369.1,106.7 369.2,107.5 369.3,107.4 369.4,106.6 369.5,106.6 369.6,107.0 369.7,106.3 369.8,107.3 369.9,107.4 370.0,107.6 370.1,106.2 370.2,106.8 370.3,106.7 370.4,106.6 370.5,107.5 370.6,106.2 370.7,106.1 370.8,107.3 370.9,107.3 371.0,106.3 371.1,106.9 371.2,107.4 371.3,106.1 371.4,106.3 371.5,107.1 371.6,106.7 371.7,106.5 371.8,107.1 371.9,106.7 372.0,107.1 372.1,106.3 372.2,107.3 372.3,106.9 372.4,107.6 372.5,106.7 372.6,107.6 372.7,107.1 372.8,106.4 372.9,106.8 373.0,107.1 373.1,106.9 373.2,107.5 373.3,107.3 373.4,106.2 373.5,107.5 373.6,106.4 373.7,106.5 373.8,106.6 373.9,106.4 374.0,107.5 374.1,107.1 374.2,107.1 374.3,107.3 374.4,107.3 374.5,107.2 374.6,106.1 374.7,107.1 374.8,106.4 374.9,106.5 375.0,106.5 375.1,106.9 375.2,106.9 375.3,107.4 375.4,106.2 375.5,107.1 375.6,106.5 375.7,106.3 375.8,106.7 375.9,107.1 376.0,106.2 376.1,107.5 376.2,106.4 376.3,107.2 376.4,106.5 376.5,107.3 376.6,106.2 376.7,106.9 376.8,107.5 376.9,106.4 377.0,107.1 377.1,107.5 377.2,106.3 377.3,107.6 377.4,107.4 377.5,107.4 377.6,107.0 377.7,106.1 377.8,107.6 377.9,106.1 378.0,107.2 378.1,107.0 378.2,106.4 378.3,106.3 378.4,107.5 378.5,106.6 378.6,106.9 378.7,107.6 378.8,106.0 378.9,107.0 379.0,106.5 379.1,106.5 379.2,107.3 379.3,107.2 379.4,107.0 379.5,106.2 379.6,106.3 379.7,106.6 379.8,107.1 379.9,107.2 380.0,107.1 380.1,107.1 380.2,106.9 380.3,107.0 380.4,107.1 380.4,106.5 380.5,106.2 380.6,106.2 380.7,107.4 380.8,106.7 380.9,107.4 381.0,106.2 381.1,106.9 381.2,107.7 381.3,106.4 381.4,106.6 381.5,107.5 381.6,106.3 381.7,107.6 381.8,106.2 381.9,106.0 382.0,107.0 382.1,106.7 382.2,107.0 382.3,106.9 382.4,106.3 382.5,106.4 382.6,107.0 382.7,106.3 382.8,107.2 382.9,106.4 383.0,107.2 383.1,106.3 383.2,107.3 383.3,106.8 383.4,107.4 383.5,107.6 383.6,107.0 383.7,107.6 383.8,107.5 383.9,107.1 384.0,106.4 384.1,107.1 384.2,107.6 384.3,107.0 384.4,107.0 384.5,107.3 384.6,107.1 384.7,106.9 384.8,106.8 384.9,106.7 385.0,106.1 385.1,106.1 385.2,106.6 385.3,107.1 385.4,107.7 385.5,107.0 385.6,107.2 385.7,106.7 385.8,107.3 385.9,106.7 386.0,107.3 386.1,107.4 386.2,107.6 386.3,106.9 386.4,107.5 386.5,107.4 386.6,107.2 386.7,107.4 386.8,107.7 386.9,107.5 387.0,106.5 387.1,107.0 387.2,106.6 387.3,106.5 387.4,106.7 387.5,106.8 387.6,106.3 387.7,107.6 387.8,107.2 387.9,107.7 388.0,107.0 388.1,106.3 388.2,106.8 388.3,106.3 388.4,106.7 388.5,107.6 388.6,107.5 388.7,106.6 388.8,106.1 388.9,107.4 389.0,106.2 389.1,106.6 389.2,107.5 389.3,107.2 389.4,106.3 389.5,106.3 389.6,106.6 389.7,106.1 389.8,106.4 389.9,106.2 390.0,107.0 390.1,107.0 390.2,107.2 390.3,107.3 390.4,107.2 390.5,107.5 390.6,106.1 390.7,106.7 390.8,106.1 390.9,107.5 391.0,106.7 391.1,107.0 391.2,106.2 391.3,107.7 391.4,106.7 391.5,106.8 391.6,107.6 391.7,106.9 391.8,107.2 391.9,107.2 392.0,107.6 392.1,106.3 392.2,107.4 392.3,106.2 392.4,107.5 392.5,106.2 392.6,106.1 392.7,106.9 392.8,106.3 392.9,107.3 393.0,107.5 393.1,106.5 393.2,106.8 393.3,106.3 393.4,106.8 393.5,106.1 393.6,107.0 393.7,107.0 393.8,106.4 393.9,106.1 394.0,107.2 394.1,107.3 394.2,106.3 394.3,107.2 394.4,107.4 394.5,106.8 394.6,107.2 394.7,107.5 394.8,106.7 394.9,107.0 395.0,107.5 395.1,107.2 395.2,107.0 395.3,107.4 395.4,106.5 395.5,107.6 395.6,107.0 395.7,107.2 395.8,106.2 395.9,107.5 396.0,107.6 396.1,107.1 396.2,106.1 396.3,106.9 396.4,106.2 396.5,107.6 396.6,106.3 396.7,106.4 396.8,106.0 396.9,107.4 397.0,107.4 397.1,106.0 397.2,106.1 397.3,106.6 397.4,106.1 397.5,106.2 397.6,106.7 397.7,106.8 397.8,107.5 397.9,106.2 398.0,106.2 398.1,106.3 398.2,106.0 398.3,106.3 398.4,106.9 398.5,105.6 398.6,107.0 398.7,106.4 398.8,107.2 398.9,106.0 399.0,106.1 399.1,106.3 399.2,106.5 399.3,106.2 399.4,106.6 399.5,106.3 399.6,105.7 399.7,106.0 399.8,105.8 399.9,107.2 400.0,105.4 400.1,105.3 400.2,105.5 400.3,104.9 400.4,106.2 400.5,107.2 400.6,105.3 400.7,105.9 400.8,104.6 400.9,105.3 401.0,105.7 401.1,104.9 401.2,105.9 401.3,105.7 401.4,105.9 401.5,105.5 401.6,104.5 401.7,106.0 401.8,104.9 401.9,105.8 402.0,106.2 402.1,105.4 402.2,105.4 402.3,103.1 402.4,101.9 402.5,103.2 402.6,102.4 402.7,105.8 402.8,103.5 402.9,105.8 403.0,102.0 403.1,105.0 403.2,103.8 403.3,100.9 403.4,104.1 403.5,104.0 403.6,100.5 403.7,103.5 403.8,102.1 403.9,105.3 404.0,103.5 404.1,104.2 404.2,104.4 404.3,105.6 404.4,105.4 404.5,102.3 404.6,103.6 404.7,106.0 404.8,103.8 404.9,103.3 405.0,105.1 405.1,105.6 405.2,99.6 405.3,102.5 405.4,102.2 405.5,104.4 405.6,99.0 405.7,102.3 405.8,102.7 405.9,98.8 406.0,101.3 406.1,101.9 406.2,99.2 406.3,104.5 406.4,100.4 406.5,101.5 406.6,103.4 406.7,105.3 406.8,98.8 406.9,103.4 407.0,99.1 407.1,104.8 407.2,104.7 407.3,102.8 407.4,98.8 407.5,104.2 407.6,103.6 407.7,103.9 407.8,102.2 407.9,105.3 408.0,99.3 408.1,103.4 408.2,97.5 408.3,103.7 408.4,97.8 408.5,96.2 408.6,98.8 408.7,96.3 408.8,100.9 408.9,100.5 409.0,96.7 409.1,94.3 409.2,102.4 409.3,102.5 409.4,101.6 409.5,103.8 409.6,96.3 409.7,100.0 409.8,95.8 409.9,103.1 410.0,104.1 410.1,98.5 410.2,100.4 410.3,102.6 410.4,102.3 410.5,102.9 410.6,98.3 410.7,102.4 410.8,103.4 410.9,99.8 411.0,99.8 411.1,98.4 411.2,101.7 411.3,104.5 411.4,96.4 411.5,103.3 411.6,102.8 411.7,99.2 411.8,97.0 411.9,102.4 412.0,102.7 412.1,96.8 412.2,101.4 412.3,102.6 412.4,99.0 412.5,104.2 412.6,101.8 412.7,96.7 412.8,104.6 412.9,97.5 413.0,104.0 413.1,101.9 413.2,96.8 413.3,98.5 413.4,98.0 413.5,103.0 413.6,103.1 413.7,99.8 413.8,103.3 413.9,102.1 414.0,104.5 414.1,99.0 414.2,98.1 414.3,100.8 414.4,103.5 414.5,100.1 414.6,104.6 414.7,97.3 414.8,103.9 414.9,100.9 415.0,103.6 415.1,102.0 415.2,102.4 415.3,103.4 415.4,99.2 415.5,99.3 415.6,101.9 415.7,100.7 415.8,101.8 415.9,100.6 416.0,99.6 416.1,103.8 416.2,102.1 416.3,100.9 416.4,105.2 416.5,98.0 416.6,104.6 416.7,103.8 416.8,101.8 416.9,105.4 417.0,99.7 417.1,96.9 417.2,97.2 417.3,102.8 417.4,100.1 417.5,99.2 417.6,104.3 417.7,104.9 417.8,100.2 417.9,99.1 418.0,100.4 418.1,99.3 418.2,104.1 418.3,101.5 418.4,99.1 418.5,95.1 418.6,103.9 418.7,97.7 418.8,103.6 418.9,103.2 419.0,99.3 419.1,97.2 419.2,102.9 419.3,95.5 419.4,95.6 419.5,95.2 419.6,101.8 419.7,103.7 419.8,101.9 419.9,104.5 420.0,95.5 420.1,103.2 420.2,102.0 420.3,102.1 420.4,102.0 420.5,97.4 420.6,101.1 420.7,98.7 420.8,104.8 420.9,103.5 421.0,104.4 421.1,101.8 421.2,95.0 421.3,103.6 421.4,97.8 421.5,100.5 421.6,98.6 421.7,101.5 421.8,96.6 421.9,103.6 422.0,98.6 422.1,103.9 422.2,103.7 422.3,101.9 422.4,96.9 422.5,98.9 422.6,100.1 422.7,97.9 422.8,95.7 422.9,105.3 423.0,101.7 423.1,102.3 423.2,97.9 423.3,101.5 423.4,103.7 423.5,99.4 423.6,105.5 423.7,99.5 423.8,99.2 423.9,103.1 424.0,99.7 424.1,104.1 424.2,100.2 424.3,99.3 424.4,102.8 424.5,98.1 424.6,99.0 424.7,103.6 424.8,104.9 424.9,102.9 425.0,105.1 425.1,101.1 425.2,104.1 425.3,102.8 425.4,105.8 425.5,102.6 425.6,103.7 425.7,102.2 425.8,102.8 425.9,103.2 426.0,104.7 426.1,104.2 426.2,103.2 426.3,103.4 426.4,105.3 426.5,102.3 426.6,103.9 426.7,106.1 426.8,105.9 426.9,105.2 427.0,103.5 427.1,103.4 427.2,105.9 427.3,105.3 427.4,103.7 427.5,106.0 427.6,105.2 427.7,105.3 427.8,103.8 427.9,104.9 428.0,106.9 428.1,105.4 428.2,106.6 428.3,104.8 428.4,105.0 428.5,106.6 428.6,104.3 428.7,106.1 428.8,105.8 428.9,105.3 429.0,105.8 429.1,105.5 429.2,106.2 429.3,106.2 429.4,105.5 429.5,106.3 429.6,105.5 429.7,106.6 429.8,106.9 429.9,106.0 430.0,106.9 430.1,106.1 430.2,107.1 430.3,106.4 430.4,107.3 430.5,106.4 430.6,106.6 430.7,106.4 430.8,107.6 430.9,106.8 431.0,106.4 431.1,106.9 431.2,107.2 431.3,106.4 431.4,106.5 431.5,106.9 431.6,106.3 431.7,106.5 431.8,106.0 431.9,106.6 432.0,106.1 432.1,106.5 432.2,106.9 432.3,107.7 432.4,106.5 432.5,107.0 432.6,106.3 432.7,106.2 432.8,106.3 432.9,106.8 433.0,106.6 433.1,106.6 433.2,107.0 433.3,107.0 433.4,106.1 433.5,107.7 433.6,106.3 433.7,107.5 433.8,107.5 433.9,106.4 434.0,107.7 434.1,106.6 434.2,107.3 434.3,106.3 434.4,106.8 434.5,107.3 434.6,106.7 434.7,106.5 434.8,106.3 434.9,107.7 435.0,106.2 435.1,106.3 435.2,107.3 435.3,106.7 435.4,106.8 435.5,106.7 435.6,107.3 435.7,106.2 435.8,106.5 435.9,106.8 436.0,106.1 436.1,107.1 436.2,106.8 436.3,106.6 436.4,106.7 436.5,107.1 436.6,106.7 436.7,107.0 436.8,106.5 436.9,107.1 437.0,106.9 437.1,106.7 437.2,107.4 437.3,106.8 437.4,106.2 437.5,106.5 437.6,106.9 437.7,107.5 437.8,106.7 437.9,107.0 438.0,107.1 438.1,106.5 438.2,106.1 438.3,106.8 438.4,107.4 438.5,106.6 438.6,106.9 438.7,106.3 438.8,106.4 438.9,107.1 439.0,106.3 439.1,106.8 439.2,106.5 439.3,107.6 439.4,107.2 439.5,106.3 439.6,107.7 439.7,106.6 439.8,106.2 439.9,106.3 440.0,107.4 440.1,107.5 440.2,107.1 440.3,107.6 440.4,106.7 440.5,106.6 440.6,106.6 440.7,106.3 440.8,107.2 440.9,107.7 441.0,107.4 441.1,106.3 441.2,107.4 441.3,107.5 441.4,106.6 441.5,106.7 441.6,106.2 441.7,106.4 441.8,106.2 441.9,106.2 442.0,107.7 442.1,106.1 442.2,107.3 442.3,107.5 442.4,106.2 442.5,107.2 442.6,107.5 442.7,106.8 442.8,106.3 442.9,107.2 443.0,106.3 443.1,106.1 443.2,106.8 443.3,107.3 443.4,107.2 443.5,107.4 443.6,107.0 443.7,107.0 443.8,107.2 443.9,107.0 444.0,107.3 444.1,106.3 444.2,106.2 444.3,107.0 444.4,107.5 444.5,107.2 444.6,106.6 444.7,106.1 444.8,106.4 444.9,107.6 445.0,107.1 445.1,107.6 445.2,106.8 445.3,107.0 445.4,107.0 445.5,107.2 445.6,107.5 445.7,106.4 445.8,107.1 445.9,107.6 446.0,107.4 446.1,107.6"/>
<rect x="263.9" y="16.2" width="186.48" height="95.17" fill="none" stroke="#000" stroke-width="1.65"/>
<path d="M270.56 111.07v2.6M287.21 111.07v1.6M303.86 111.07v2.6M320.51 111.07v1.6M337.16 111.07v2.6M353.81 111.07v1.6M370.46 111.07v2.6M387.11 111.07v1.6M403.76 111.07v2.6M420.41 111.07v1.6M437.06 111.07v2.6M263.9 106.95h-2.7M263.9 98.7h-1.6M263.9 90.45h-2.7M263.9 82.2h-1.6M263.9 73.95h-2.7M263.9 65.7h-1.6M263.9 57.45h-2.7M263.9 49.2h-1.6M263.9 40.95h-2.7M263.9 32.7h-1.6M263.9 24.45h-2.7" stroke="#000" stroke-width="1.1" fill="none"/>
<text x="270.56" y="123.97" font-size="8.3" text-anchor="middle" font-weight="normal" fill="#000" stroke="#000" stroke-width="0.1" >450</text>
<text x="303.86" y="123.97" font-size="8.3" text-anchor="middle" font-weight="normal" fill="#000" stroke="#000" stroke-width="0.1" >500</text>
<text x="337.16" y="123.97" font-size="8.3" text-anchor="middle" font-weight="normal" fill="#000" stroke="#000" stroke-width="0.1" >550</text>
<text x="370.46" y="123.97" font-size="8.3" text-anchor="middle" font-weight="normal" fill="#000" stroke="#000" stroke-width="0.1" >600</text>
<text x="403.76" y="123.97" font-size="8.3" text-anchor="middle" font-weight="normal" fill="#000" stroke="#000" stroke-width="0.1" >650</text>
<text x="437.06" y="123.97" font-size="8.3" text-anchor="middle" font-weight="normal" fill="#000" stroke="#000" stroke-width="0.1" >700</text>
<text x="257.1" y="110.15" font-size="8.3" text-anchor="end" font-weight="normal" fill="#000" stroke="#000" stroke-width="0.1" >0.0</text>
<text x="257.1" y="93.65" font-size="8.3" text-anchor="end" font-weight="normal" fill="#000" stroke="#000" stroke-width="0.1" >0.2</text>
<text x="257.1" y="77.15" font-size="8.3" text-anchor="end" font-weight="normal" fill="#000" stroke="#000" stroke-width="0.1" >0.4</text>
<text x="257.1" y="60.65" font-size="8.3" text-anchor="end" font-weight="normal" fill="#000" stroke="#000" stroke-width="0.1" >0.6</text>
<text x="257.1" y="44.15" font-size="8.3" text-anchor="end" font-weight="normal" fill="#000" stroke="#000" stroke-width="0.1" >0.8</text>
<text x="257.1" y="27.65" font-size="8.3" text-anchor="end" font-weight="normal" fill="#000" stroke="#000" stroke-width="0.1" >1.0</text>
<text x="357.14" y="137.97" font-size="8.3" text-anchor="middle" font-weight="normal" fill="#000" stroke="#000" stroke-width="0.1" >Wavelength (nm)</text>
<text transform="translate(237.1,63.64) rotate(-90)" x="0" y="0" font-size="8.3" text-anchor="middle" fill="#000" stroke="#000" stroke-width="0.05">Normalized intensity (a.u.)</text>
<text x="411.5" y="27.1" font-size="7" text-anchor="start" font-weight="normal" fill="#000" stroke="#000" stroke-width="0.1" >1160 nm</text>
<polyline fill="none" stroke="url(#wl3)" stroke-width="0.75" stroke-linejoin="round" points="521.9,106.9 522.0,107.3 522.1,107.2 522.2,107.2 522.3,106.9 522.4,107.6 522.5,106.3 522.6,106.2 522.7,107.1 522.8,106.6 522.9,106.1 523.0,106.4 523.1,106.9 523.2,107.6 523.3,107.0 523.4,107.3 523.5,107.6 523.6,107.5 523.7,106.9 523.8,106.5 523.9,107.6 524.0,107.3 524.1,107.6 524.2,106.5 524.3,106.6 524.4,107.4 524.5,106.5 524.6,106.9 524.7,106.2 524.8,106.3 524.9,106.3 525.0,106.5 525.1,106.0 525.2,106.7 525.3,106.6 525.4,107.6 525.5,106.9 525.6,106.5 525.7,106.3 525.8,107.5 525.9,106.1 526.0,107.2 526.1,107.4 526.2,107.7 526.3,107.2 526.4,106.3 526.5,106.9 526.6,107.6 526.7,107.0 526.8,106.9 526.9,106.4 527.0,106.6 527.1,107.3 527.2,106.6 527.3,106.7 527.4,107.6 527.5,106.5 527.6,106.6 527.7,106.3 527.8,106.7 527.9,106.4 528.0,107.1 528.1,106.6 528.2,107.7 528.3,106.5 528.4,107.7 528.5,106.8 528.6,106.8 528.7,107.5 528.8,107.0 528.9,107.3 529.0,106.4 529.1,107.0 529.2,106.8 529.3,107.5 529.4,106.6 529.5,107.3 529.6,106.3 529.7,106.3 529.8,107.6 529.9,107.3 530.0,107.5 530.1,106.2 530.2,106.6 530.3,107.7 530.4,106.7 530.5,106.5 530.6,107.7 530.7,107.3 530.8,107.3 530.9,107.5 531.0,107.5 531.1,106.7 531.2,107.5 531.3,106.5 531.4,106.9 531.5,107.5 531.6,106.9 531.7,106.2 531.8,106.2 531.9,106.1 532.0,106.7 532.1,107.5 532.2,107.4 532.3,106.4 532.4,106.8 532.5,106.2 532.6,106.2 532.7,106.6 532.8,106.3 532.9,106.8 533.0,106.2 533.1,106.9 533.2,106.7 533.3,106.1 533.4,106.4 533.5,106.7 533.6,107.4 533.7,107.5 533.8,106.2 533.9,107.7 534.0,106.7 534.1,106.6 534.2,107.1 534.3,107.3 534.4,106.7 534.5,106.1 534.6,106.9 534.7,106.6 534.8,107.0 534.9,107.3 535.0,106.7 535.1,106.5 535.2,106.8 535.3,106.3 535.4,106.1 535.5,107.5 535.6,107.2 535.7,106.5 535.8,106.8 535.9,107.6 536.0,107.1 536.1,107.1 536.2,106.1 536.3,107.5 536.4,106.2 536.5,106.1 536.6,107.1 536.7,106.8 536.8,106.7 536.9,106.1 537.0,107.3 537.1,106.8 537.2,106.9 537.3,106.2 537.4,106.1 537.5,107.4 537.6,106.7 537.7,106.8 537.8,107.5 537.9,106.9 538.0,107.4 538.1,107.3 538.2,107.0 538.3,107.5 538.4,107.2 538.5,107.1 538.6,107.6 538.7,106.2 538.8,106.1 538.9,106.6 539.0,106.4 539.1,107.4 539.2,106.9 539.3,107.6 539.4,107.3 539.5,107.6 539.6,106.4 539.7,106.2 539.8,107.4 539.9,107.5 540.0,107.5 540.1,106.2 540.2,107.3 540.3,107.0 540.4,106.2 540.5,107.7 540.6,106.7 540.7,106.8 540.8,107.4 540.9,106.7 541.0,106.3 541.1,107.4 541.2,107.4 541.3,106.7 541.4,106.5 541.5,106.4 541.6,106.1 541.7,106.3 541.8,106.8 541.9,106.9 542.0,106.8 542.1,107.0 542.2,106.3 542.3,107.5 542.4,106.5 542.5,107.5 542.6,107.2 542.7,106.9 542.8,106.2 542.9,106.1 543.0,106.3 543.1,106.8 543.2,106.6 543.3,107.4 543.4,106.6 543.5,106.2 543.6,106.6 543.7,106.9 543.8,107.1 543.8,106.9 543.9,107.0 544.0,106.7 544.1,106.1 544.2,107.0 544.3,106.8 544.4,106.3 544.5,107.3 544.6,106.5 544.7,106.8 544.8,106.4 544.9,106.4 545.0,107.5 545.1,107.0 545.2,107.2 545.3,106.3 545.4,106.5 545.5,106.5 545.6,105.8 545.7,105.5 545.8,106.6 545.9,105.2 546.0,106.3 546.1,105.7 546.2,106.2 546.3,107.1 546.4,105.4 546.5,106.6 546.6,105.8 546.7,107.1 546.8,106.1 546.9,105.8 547.0,106.0 547.1,106.3 547.2,105.8 547.3,104.2 547.4,106.7 547.5,103.1 547.6,102.6 547.7,102.7 547.8,105.3 547.9,107.3 548.0,104.2 548.1,101.8 548.2,105.6 548.3,106.5 548.4,101.8 548.5,104.2 548.6,104.5 548.7,103.5 548.8,102.2 548.9,102.5 549.0,105.3 549.1,101.2 549.2,104.8 549.3,102.6 549.4,103.5 549.5,105.8 549.6,104.4 549.7,105.5 549.8,103.5 549.9,105.1 550.0,102.2 550.1,102.5 550.2,104.8 550.3,103.5 550.4,104.7 550.5,103.1 550.6,103.1 550.7,104.5 550.8,100.3 550.9,105.1 551.0,102.6 551.1,99.3 551.2,102.8 551.3,104.4 551.4,95.3 551.5,95.8 551.6,97.1 551.7,89.0 551.8,97.3 551.9,99.3 552.0,83.9 552.1,61.6 552.2,69.8 552.3,88.6 552.4,83.2 552.5,80.1 552.6,95.4 552.7,104.8 552.8,89.9 552.9,86.0 553.0,101.0 553.1,90.5 553.2,90.9 553.3,100.1 553.4,93.7 553.5,102.5 553.6,94.0 553.7,97.4 553.8,93.9 553.9,91.0 554.0,90.5 554.1,97.6 554.2,86.5 554.3,98.0 554.4,89.4 554.5,81.5 554.6,99.1 554.7,74.4 554.8,102.8 554.9,80.0 555.0,88.4 555.1,103.9 555.2,59.7 555.3,75.8 555.4,26.8 555.5,84.3 555.6,44.1 555.7,64.4 555.8,97.2 555.9,94.6 556.0,87.1 556.1,87.2 556.2,90.1 556.3,102.4 556.4,96.6 556.5,97.8 556.6,97.9 556.7,104.2 556.8,105.0 556.9,106.6 557.0,106.3 557.1,104.4 557.2,104.7 557.3,105.2 557.4,106.1 557.5,105.6 557.6,106.5 557.7,106.4 557.8,107.4 557.9,106.4 558.0,106.3 558.1,107.2 558.2,106.6 558.3,106.7 558.4,107.5 558.5,107.1 558.6,106.5 558.7,107.4 558.8,106.9 558.9,106.6 559.0,106.6 559.1,107.3 559.2,107.0 559.3,106.5 559.4,106.7 559.5,106.4 559.6,106.7 559.7,106.5 559.8,107.2 559.9,106.6 560.0,106.4 560.1,107.0 560.2,107.5 560.3,106.4 560.4,106.6 560.5,106.8 560.6,107.3 560.7,106.6 560.8,107.3 560.9,106.3 561.0,107.5 561.1,106.2 561.2,107.7 561.3,106.3 561.4,107.4 561.5,107.5 561.6,107.4 561.7,106.4 561.8,106.4 561.9,107.5 562.0,107.0 562.1,107.3 562.2,106.4 562.3,106.5 562.4,106.0 562.5,106.3 562.6,106.6 562.7,105.5 562.8,106.8 562.9,106.6 563.0,105.8 563.1,104.7 563.2,105.6 563.3,104.0 563.4,104.6 563.5,105.7 563.6,103.0 563.7,103.5 563.8,103.7 563.9,102.1 564.0,102.7 564.1,101.9 564.2,100.3 564.3,102.8 564.4,104.2 564.5,101.5 564.6,103.6 564.7,99.3 564.8,103.7 564.9,102.9 565.0,99.9 565.1,96.3 565.2,99.2 565.3,100.3 565.4,98.6 565.5,99.3 565.6,97.1 565.7,98.3 565.8,100.6 565.9,101.0 566.0,94.2 566.1,101.2 566.2,99.4 566.3,96.4 566.4,101.5 566.5,92.9 566.6,91.8 566.7,100.3 566.8,102.6 566.9,96.1 567.0,99.2 567.1,98.8 567.2,100.9 567.3,103.7 567.4,103.9 567.5,101.6 567.6,102.2 567.7,100.5 567.8,101.4 567.9,99.2 568.0,99.2 568.1,100.9 568.2,104.0 568.3,104.1 568.4,102.4 568.5,102.4 568.6,105.2 568.7,105.6 568.8,105.1 568.9,105.2 569.0,102.6 569.1,104.4 569.2,105.0 569.3,103.2 569.4,103.6 569.5,105.4 569.6,104.8 569.7,104.1 569.8,102.7 569.9,102.0 570.0,104.2 570.1,105.6 570.2,103.3 570.3,103.0 570.4,101.9 570.5,101.3 570.6,102.4 570.7,103.6 570.8,99.7 570.9,101.2 571.0,100.0 571.1,102.8 571.2,101.4 571.3,100.7 571.4,99.2 571.5,97.0 571.6,102.2 571.7,102.5 571.8,98.6 571.9,102.2 572.0,95.2 572.1,93.8 572.2,94.5 572.3,90.3 572.4,93.2 572.5,93.1 572.6,97.1 572.7,91.1 572.8,92.0 572.9,98.1 573.0,95.3 573.1,97.9 573.2,96.7 573.3,95.2 573.4,97.0 573.5,97.9 573.6,101.3 573.7,96.0 573.8,94.3 573.9,93.1 574.0,103.6 574.1,99.9 574.2,102.0 574.3,101.3 574.4,100.2 574.5,97.4 574.6,100.3 574.7,96.6 574.8,101.5 574.9,103.5 575.0,99.6 575.1,102.2 575.2,100.7 575.3,103.8 575.4,104.9 575.5,102.4 575.6,102.0 575.7,100.4 575.8,103.0 575.9,103.0 576.0,102.4 576.1,104.1 576.2,102.7 576.3,104.5 576.4,103.5 576.5,105.0 576.6,105.6 576.7,104.4 576.8,104.0 576.9,104.4 577.0,104.9 577.1,105.6 577.2,104.8 577.3,106.2 577.4,105.0 577.5,105.1 577.6,106.7 577.7,105.5 577.8,105.3 577.9,106.4 578.0,107.0 578.1,106.5 578.2,106.1 578.3,106.9 578.4,107.5 578.5,106.6 578.6,107.2 578.7,106.9 578.8,106.3 578.9,107.4 579.0,106.8 579.1,107.3 579.2,106.6 579.3,106.9 579.4,106.6 579.5,107.2 579.6,106.6 579.7,107.5 579.8,106.7 579.9,107.6 580.0,106.6 580.1,106.3 580.2,106.7 580.3,106.9 580.4,106.2 580.5,106.5 580.6,106.2 580.7,106.6 580.8,106.2 580.9,106.1 581.0,107.1 581.1,106.1 581.2,106.2 581.3,107.2 581.4,107.4 581.5,106.9 581.6,106.3 581.7,107.6 581.8,106.5 581.9,107.0 582.0,106.3 582.1,107.6 582.2,106.6 582.3,107.2 582.4,106.6 582.5,107.6 582.6,106.1 582.7,106.2 582.8,107.1 582.9,106.9 583.0,106.2 583.1,106.5 583.2,106.9 583.3,107.5 583.4,107.2 583.5,106.6 583.6,106.3 583.7,107.4 583.8,106.6 583.9,107.0 584.0,106.3 584.1,107.5 584.2,107.6 584.3,106.5 584.4,107.5 584.5,106.3 584.6,106.2 584.7,106.6 584.8,106.2 584.9,106.6 585.0,106.2 585.1,106.1 585.2,107.6 585.3,107.6 585.4,107.6 585.5,106.5 585.6,106.1 585.7,106.3 585.8,107.4 585.9,106.1 586.0,106.3 586.1,107.5 586.2,107.3 586.3,107.5 586.4,106.4 586.5,106.2 586.6,107.3 586.7,106.2 586.8,107.0 586.9,106.5 587.0,106.6 587.1,107.2 587.2,106.2 587.3,107.2 587.4,106.3 587.5,107.1 587.6,107.2 587.7,107.5 587.8,107.0 587.9,106.8 588.0,107.0 588.1,106.3 588.2,106.1 588.3,107.4 588.4,106.6 588.5,107.6 588.6,106.2 588.7,107.3 588.8,107.0 588.9,107.3 589.0,107.2 589.1,106.3 589.2,107.2 589.3,107.3 589.4,106.3 589.5,106.9 589.6,106.5 589.7,106.6 589.8,107.6 589.9,106.5 590.0,107.6 590.1,106.6 590.2,106.5 590.3,106.7 590.4,106.8 590.5,106.4 590.6,106.2 590.7,107.1 590.8,106.5 590.9,106.5 591.0,106.9 591.1,106.2 591.2,106.1 591.3,106.9 591.4,106.1 591.5,107.0 591.6,106.5 591.7,107.6 591.8,106.4 591.9,107.4 592.0,106.2 592.1,107.6 592.2,106.7 592.3,107.7 592.4,106.9 592.5,107.0 592.6,106.1 592.7,106.2 592.8,106.6 592.9,106.7 593.0,106.2 593.1,106.8 593.2,106.9 593.3,107.6 593.4,106.3 593.5,106.9 593.6,107.3 593.7,107.4 593.8,107.1 593.9,106.7 594.0,106.3 594.1,107.0 594.2,106.1 594.3,107.7 594.4,107.0 594.5,107.5 594.6,107.3 594.7,107.5 594.8,106.2 594.9,107.2 595.0,106.8 595.1,107.4 595.2,107.2 595.3,106.2 595.4,107.2 595.5,107.3 595.6,107.3 595.7,106.2 595.8,106.7 595.9,106.5 596.0,107.4 596.1,107.0 596.2,107.4 596.3,106.4 596.4,107.7 596.5,106.8 596.6,107.6 596.7,107.3 596.8,107.1 596.9,106.6 597.0,106.4 597.1,106.7 597.2,106.7 597.3,106.6 597.4,106.9 597.5,106.8 597.6,106.5 597.7,107.0 597.8,107.6 597.9,106.5 598.0,106.6 598.1,106.8 598.2,107.6 598.3,106.4 598.4,106.7 598.5,106.2 598.6,107.3 598.7,106.4 598.8,107.2 598.9,106.7 599.0,107.3 599.1,106.9 599.2,107.2 599.3,106.7 599.4,106.9 599.5,106.6 599.6,107.2 599.7,106.5 599.8,107.6 599.9,106.8 600.0,107.4 600.1,107.3 600.2,106.6 600.3,107.2 600.4,107.2 600.5,106.9 600.6,107.3 600.7,107.0 600.8,106.5 600.9,107.3 601.0,107.2 601.1,106.3 601.2,106.4 601.3,107.2 601.4,106.5 601.5,106.5 601.6,106.6 601.7,106.4 601.8,107.5 601.9,107.4 602.0,106.1 602.1,106.9 602.2,107.6 602.3,106.6 602.4,107.6 602.5,107.5 602.6,106.7 602.7,106.9 602.8,107.6 602.9,106.1 603.0,107.4 603.1,106.7 603.2,107.7 603.3,107.0 603.4,106.1 603.5,107.2 603.6,107.6 603.7,107.2 603.8,106.6 603.9,107.2 604.0,107.6 604.1,107.1 604.2,106.8 604.3,107.3 604.4,107.5 604.5,107.5 604.6,106.5 604.7,107.1 604.8,107.4 604.9,107.3 605.0,107.4 605.1,107.3 605.2,106.7 605.3,106.2 605.4,106.9 605.5,107.6 605.6,106.5 605.7,106.7 605.8,107.4 605.9,107.6 606.0,107.7 606.1,106.1 606.2,106.0 606.3,106.7 606.4,107.5 606.5,106.1 606.6,107.1 606.7,106.7 606.8,107.0 606.9,106.4 607.0,107.5 607.1,106.6 607.2,106.5 607.3,106.1 607.4,106.8 607.5,107.0 607.6,107.0 607.7,106.2 607.8,107.0 607.9,106.8 608.0,107.6 608.1,106.1 608.2,107.2 608.3,106.3 608.4,106.5 608.5,107.6 608.6,106.3 608.7,107.6 608.8,107.0 608.9,107.2 609.0,106.9 609.1,107.1 609.2,106.1 609.3,106.6 609.4,106.1 609.5,106.2 609.6,106.7 609.7,106.5 609.8,106.9 609.9,106.5 610.0,107.6 610.1,106.7 610.2,107.1 610.3,106.9 610.4,107.2 610.5,107.0 610.6,106.2 610.7,106.1 610.8,107.5 610.9,107.2 611.0,106.1 611.1,107.5 611.2,107.4 611.3,107.0 611.4,106.8 611.5,107.1 611.6,107.3 611.7,107.3 611.8,107.5 611.9,107.5 612.0,106.6 612.1,106.9 612.2,106.1 612.3,106.4 612.4,107.5 612.5,107.7 612.6,106.7 612.7,106.1 612.8,107.4 612.9,106.9 613.0,107.5 613.1,106.6 613.2,106.4 613.3,106.4 613.4,106.4 613.5,107.7 613.6,107.2 613.7,107.5 613.8,107.0 613.9,107.4 614.0,107.0 614.1,107.4 614.2,107.6 614.3,107.6 614.4,106.6 614.5,106.3 614.6,106.9 614.7,106.3 614.8,106.1 614.9,106.5 615.0,106.5 615.1,107.0 615.2,107.6 615.3,106.4 615.4,106.1 615.5,106.7 615.6,107.3 615.7,106.4 615.8,106.8 615.9,107.4 616.0,106.4 616.1,106.8 616.2,106.4 616.3,106.4 616.4,106.9 616.5,106.4 616.6,107.1 616.7,106.5 616.8,107.5 616.9,107.4 617.0,106.5 617.1,106.1 617.2,107.6 617.3,106.1 617.4,107.5 617.5,106.2 617.6,106.8 617.7,107.0 617.8,106.9 617.9,106.6 618.0,107.6 618.1,106.2 618.2,107.0 618.3,107.1 618.4,106.9 618.5,106.8 618.6,107.6 618.7,107.2 618.8,106.5 618.9,107.2 619.0,106.2 619.1,106.4 619.2,107.4 619.3,107.3 619.4,106.8 619.5,107.1 619.6,106.6 619.7,106.9 619.8,107.1 619.9,106.6 620.0,106.8 620.1,107.3 620.2,106.5 620.3,107.0 620.4,106.5 620.5,106.7 620.6,106.6 620.7,106.4 620.8,107.4 620.9,107.2 621.0,107.6 621.1,106.7 621.2,107.0 621.3,107.4 621.4,106.8 621.5,106.3 621.6,106.7 621.7,106.5 621.8,107.4 621.9,107.0 622.0,107.0 622.1,106.9 622.2,106.3 622.3,106.7 622.4,107.0 622.5,106.2 622.6,106.2 622.7,107.2 622.8,107.1 622.9,107.5 623.0,106.7 623.1,107.1 623.2,107.4 623.3,106.3 623.4,106.4 623.5,107.2 623.6,107.7 623.7,106.7 623.8,106.1 623.9,106.1 624.0,106.4 624.1,106.8 624.2,106.3 624.3,106.3 624.4,107.4 624.5,106.1 624.6,106.1 624.7,106.2 624.8,106.1 624.9,106.9 625.0,106.1 625.1,107.1 625.2,106.3 625.3,107.5 625.4,106.7 625.5,106.5 625.6,106.1 625.7,106.2 625.8,107.3 625.9,106.6 626.0,107.3 626.1,106.8 626.2,106.7 626.3,107.2 626.4,107.0 626.5,106.3 626.6,107.0 626.7,107.5 626.8,106.2 626.9,107.1 627.0,106.3 627.1,106.6 627.2,107.4 627.3,107.4 627.4,106.4 627.5,107.1 627.6,105.9 627.7,106.5 627.8,107.4 627.9,107.3 628.0,106.2 628.1,106.3 628.2,106.9 628.3,106.8 628.4,107.1 628.5,106.6 628.6,107.0 628.7,106.1 628.8,106.9 628.9,107.2 629.0,107.1 629.1,105.8 629.2,106.5 629.3,107.4 629.4,106.6 629.5,105.5 629.6,107.0 629.7,105.0 629.8,106.5 629.9,105.8 630.0,106.3 630.1,105.4 630.2,104.7 630.3,105.5 630.4,106.8 630.5,106.4 630.6,106.0 630.7,105.0 630.8,105.0 630.9,105.7 631.0,105.5 631.1,106.1 631.2,106.4 631.3,104.2 631.4,104.8 631.5,105.3 631.6,105.2 631.7,106.4 631.8,105.4 631.9,106.5 632.0,105.3 632.1,105.9 632.2,104.9 632.3,104.8 632.4,105.2 632.5,105.0 632.6,103.9 632.7,104.8 632.8,103.0 632.9,104.2 633.0,101.9 633.1,104.8 633.2,105.6 633.3,103.2 633.4,103.7 633.5,103.7 633.6,102.8 633.7,104.9 633.8,105.3 633.9,104.6 634.0,102.1 634.1,103.1 634.2,103.7 634.3,104.7 634.4,102.9 634.5,105.8 634.6,103.4 634.7,105.5 634.8,105.3 634.9,100.5 635.0,104.7 635.1,102.7 635.2,106.2 635.3,103.5 635.4,105.3 635.5,104.4 635.6,102.2 635.7,101.2 635.8,101.9 635.9,102.8 636.0,104.7 636.1,103.3 636.2,105.7 636.3,104.7 636.4,105.1 636.5,102.6 636.6,103.6 636.7,103.7 636.8,104.5 636.9,104.4 637.0,103.4 637.1,103.7 637.2,102.6 637.3,103.0 637.4,105.1 637.5,97.1 637.6,102.4 637.7,103.3 637.8,98.6 637.9,98.2 638.0,102.4 638.1,99.0 638.2,103.7 638.3,105.2 638.4,102.8 638.5,102.5 638.6,97.4 638.7,104.4 638.8,102.6 638.9,98.5 639.0,103.1 639.1,103.7 639.2,104.6 639.3,100.3 639.4,102.4 639.5,101.2 639.6,98.7 639.7,98.8 639.8,100.2 639.9,95.5 640.0,96.3 640.1,102.4 640.2,104.9 640.3,105.3 640.4,103.7 640.5,99.3 640.6,97.3 640.7,99.0 640.8,102.7 640.9,104.3 641.0,100.4 641.1,104.7 641.2,104.4 641.3,101.2 641.4,98.3 641.5,102.3 641.6,102.0 641.7,105.1 641.8,102.6 641.9,101.9 642.0,103.5 642.1,101.3 642.2,99.9 642.3,102.8 642.4,99.9 642.5,103.6 642.6,103.3 642.7,104.9 642.8,98.4 642.9,101.6 643.0,101.9 643.1,105.2 643.2,103.7 643.3,105.6 643.4,103.6 643.5,101.1 643.6,99.1 643.7,103.4 643.7,104.6 643.8,102.1 643.9,105.2 644.0,102.3 644.1,98.7 644.2,104.7 644.3,103.1 644.4,101.2 644.5,105.0 644.6,102.5 644.7,100.3 644.8,102.4 644.9,103.6 645.0,105.7 645.1,104.3 645.2,102.3 645.3,104.1 645.4,102.5 645.5,101.1 645.6,101.8 645.7,99.4 645.8,101.4 645.9,100.9 646.0,100.2 646.1,101.1 646.2,102.3 646.3,98.9 646.4,101.1 646.5,103.9 646.6,103.2 646.7,104.1 646.8,104.2 646.9,104.2 647.0,100.1 647.1,104.7 647.2,104.6 647.3,102.6 647.4,102.7 647.5,97.4 647.6,99.2 647.7,100.9 647.8,100.4 647.9,99.8 648.0,98.3 648.1,100.8 648.2,103.2 648.3,97.4 648.4,105.6 648.5,97.7 648.6,103.9 648.7,99.6 648.8,100.6 648.9,103.9 649.0,105.7 649.1,102.2 649.2,103.2 649.3,99.1 649.4,96.9 649.5,99.6 649.6,99.7 649.7,99.5 649.8,101.8 649.9,97.7 650.0,98.8 650.1,101.4 650.2,104.6 650.3,102.9 650.4,102.5 650.5,101.8 650.6,104.1 650.7,95.2 650.8,100.0 650.9,98.0 651.0,100.8 651.1,100.4 651.2,102.3 651.3,100.9 651.4,102.3 651.5,100.6 651.6,99.5 651.7,99.5 651.8,100.9 651.9,99.2 652.0,99.7 652.1,103.9 652.2,98.5 652.3,95.9 652.4,104.5 652.5,104.2 652.6,99.1 652.7,104.1 652.8,103.0 652.9,98.0 653.0,103.9 653.1,101.2 653.2,105.2 653.3,104.5 653.4,96.9 653.5,103.7 653.6,98.2 653.7,105.0 653.8,101.9 653.9,99.1 654.0,100.8 654.1,100.6 654.2,102.8 654.3,102.9 654.4,101.1 654.5,104.1 654.6,98.1 654.7,101.5 654.8,100.4 654.9,101.2 655.0,101.5 655.1,101.2 655.2,103.4 655.3,105.8 655.4,105.0 655.5,105.9 655.6,104.7 655.7,102.5 655.8,102.4 655.9,105.3 656.0,104.1 656.1,103.8 656.2,102.0 656.3,103.3 656.4,103.3 656.5,101.6 656.6,104.4 656.7,103.8 656.8,105.1 656.9,105.1 657.0,103.9 657.1,102.7 657.2,106.1 657.3,106.2 657.4,106.8 657.5,104.2 657.6,104.7 657.7,106.2 657.8,105.5 657.9,103.8 658.0,103.8 658.1,105.3 658.2,105.5 658.3,106.4 658.4,105.0 658.5,106.1 658.6,105.1 658.7,104.8 658.8,106.2 658.9,104.5 659.0,105.6 659.1,105.8 659.2,105.9 659.3,105.8 659.4,106.7 659.5,105.6 659.6,106.0 659.7,106.6 659.8,107.2 659.9,106.7 660.0,106.2 660.1,106.9 660.2,107.1 660.3,107.3 660.4,106.8 660.5,107.1 660.6,106.0 660.7,107.2 660.8,107.3 660.9,106.9 661.0,106.1 661.1,107.3 661.2,107.3 661.3,107.3 661.4,106.7 661.5,107.3 661.6,106.5 661.7,106.6 661.8,107.4 661.9,107.1 662.0,106.1 662.1,107.3 662.2,107.4 662.3,106.3 662.4,106.2 662.5,107.0 662.6,107.2 662.7,106.2 662.8,107.6 662.9,106.7 663.0,107.2 663.1,106.1 663.2,106.8 663.3,107.1 663.4,106.9 663.5,106.9 663.6,106.2 663.7,107.6 663.8,106.7 663.9,106.5 664.0,107.2 664.1,106.9 664.2,107.2 664.3,107.2 664.4,107.4 664.5,106.4 664.6,107.5 664.7,106.4 664.8,107.3 664.9,106.8 665.0,107.5 665.1,107.2 665.2,106.4 665.3,107.1 665.4,106.4 665.5,106.4 665.6,106.1 665.7,107.1 665.8,106.1 665.9,106.2 666.0,107.3 666.1,107.5 666.2,107.5 666.3,106.7 666.4,106.2 666.5,106.6 666.6,107.1 666.7,106.5 666.8,106.2 666.9,106.4 667.0,106.7 667.1,107.5 667.2,106.2 667.3,106.5 667.4,107.6 667.5,106.2 667.6,106.6 667.7,106.8 667.8,107.2 667.9,107.3 668.0,107.1 668.1,106.7 668.2,107.4 668.3,107.0 668.4,107.4 668.5,107.4 668.6,107.0 668.7,107.6 668.8,107.1 668.9,106.4 669.0,107.6 669.1,107.5 669.2,107.1 669.3,106.1 669.4,106.5 669.5,106.8 669.6,107.5 669.7,107.7 669.8,106.1 669.9,106.7 670.0,107.4 670.1,106.9 670.2,107.3 670.3,107.3 670.4,106.4 670.5,106.4 670.6,106.6 670.7,106.1 670.8,107.6 670.9,106.9 671.0,106.6 671.1,107.2 671.2,106.5 671.3,106.9 671.4,106.8 671.5,107.6 671.6,106.2 671.7,106.1 671.8,107.1 671.9,107.1 672.0,106.2 672.1,106.8 672.2,106.7 672.3,106.3 672.4,106.6 672.5,106.7 672.6,106.2 672.7,106.2 672.8,106.2 672.9,106.1 673.0,106.6 673.1,107.3 673.2,106.3 673.3,107.6 673.4,106.2 673.5,107.7 673.6,107.2 673.7,107.5 673.8,107.4 673.9,106.4 674.0,106.9 674.1,107.5 674.2,106.5 674.3,107.4 674.4,107.7 674.5,107.5 674.6,106.7 674.7,106.6 674.8,107.1 674.9,107.5 675.0,107.4 675.1,107.5 675.2,107.0 675.3,106.7 675.4,107.3 675.5,107.6 675.6,106.6 675.7,107.1 675.8,106.5 675.9,107.2 676.0,106.3 676.1,106.2"/>
<rect x="493.9" y="16.2" width="186.48" height="95.17" fill="none" stroke="#000" stroke-width="1.65"/>
<path d="M500.56 111.07v2.6M517.21 111.07v1.6M533.86 111.07v2.6M550.51 111.07v1.6M567.16 111.07v2.6M583.81 111.07v1.6M600.46 111.07v2.6M617.11 111.07v1.6M633.76 111.07v2.6M650.41 111.07v1.6M667.06 111.07v2.6M493.9 106.95h-2.7M493.9 98.7h-1.6M493.9 90.45h-2.7M493.9 82.2h-1.6M493.9 73.95h-2.7M493.9 65.7h-1.6M493.9 57.45h-2.7M493.9 49.2h-1.6M493.9 40.95h-2.7M493.9 32.7h-1.6M493.9 24.45h-2.7" stroke="#000" stroke-width="1.1" fill="none"/>
<text x="500.56" y="123.97" font-size="8.3" text-anchor="middle" font-weight="normal" fill="#000" stroke="#000" stroke-width="0.1" >450</text>
<text x="533.86" y="123.97" font-size="8.3" text-anchor="middle" font-weight="normal" fill="#000" stroke="#000" stroke-width="0.1" >500</text>
<text x="567.16" y="123.97" font-size="8.3" text-anchor="middle" font-weight="normal" fill="#000" stroke="#000" stroke-width="0.1" >550</text>
<text x="600.46" y="123.97" font-size="8.3" text-anchor="middle" font-weight="normal" fill="#000" stroke="#000" stroke-width="0.1" >600</text>
<text x="633.76" y="123.97" font-size="8.3" text-anchor="middle" font-weight="normal" fill="#000" stroke="#000" stroke-width="0.1" >650</text>
<text x="667.06" y="123.97" font-size="8.3" text-anchor="middle" font-weight="normal" fill="#000" stroke="#000" stroke-width="0.1" >700</text>
<text x="487.1" y="110.15" font-size="8.3" text-anchor="end" font-weight="normal" fill="#000" stroke="#000" stroke-width="0.1" >0.0</text>
<text x="487.1" y="93.65" font-size="8.3" text-anchor="end" font-weight="normal" fill="#000" stroke="#000" stroke-width="0.1" >0.2</text>
<text x="487.1" y="77.15" font-size="8.3" text-anchor="end" font-weight="normal" fill="#000" stroke="#000" stroke-width="0.1" >0.4</text>
<text x="487.1" y="60.65" font-size="8.3" text-anchor="end" font-weight="normal" fill="#000" stroke="#000" stroke-width="0.1" >0.6</text>
<text x="487.1" y="44.15" font-size="8.3" text-anchor="end" font-weight="normal" fill="#000" stroke="#000" stroke-width="0.1" >0.8</text>
<text x="487.1" y="27.65" font-size="8.3" text-anchor="end" font-weight="normal" fill="#000" stroke="#000" stroke-width="0.1" >1.0</text>
<text x="587.14" y="137.97" font-size="8.3" text-anchor="middle" font-weight="normal" fill="#000" stroke="#000" stroke-width="0.1" >Wavelength (nm)</text>
<text transform="translate(467.1,63.64) rotate(-90)" x="0" y="0" font-size="8.3" text-anchor="middle" fill="#000" stroke="#000" stroke-width="0.05">Normalized intensity (a.u.)</text>
<text x="640.6" y="27.1" font-size="7" text-anchor="start" font-weight="normal" fill="#000" stroke="#000" stroke-width="0.1" >1060 nm</text>
<polyline fill="none" stroke="url(#wl4)" stroke-width="0.75" stroke-linejoin="round" points="61.2,250.3 61.3,249.6 61.4,249.9 61.5,249.8 61.6,249.6 61.7,249.2 61.8,249.9 61.9,249.1 62.0,250.5 62.1,250.3 62.2,249.2 62.3,249.5 62.4,249.1 62.5,249.6 62.6,250.3 62.7,249.8 62.8,250.6 62.9,249.0 63.0,249.1 63.1,250.6 63.2,249.9 63.3,250.1 63.4,249.8 63.5,250.0 63.6,249.2 63.7,250.1 63.8,250.3 63.9,249.0 64.0,250.1 64.1,249.4 64.2,249.7 64.3,249.4 64.4,249.7 64.5,249.3 64.6,250.3 64.7,249.0 64.8,250.2 64.9,249.1 65.0,250.6 65.1,249.7 65.2,249.9 65.3,250.4 65.4,249.4 65.5,249.5 65.6,249.5 65.7,249.8 65.8,249.7 65.9,249.7 66.0,250.1 66.1,249.7 66.2,249.2 66.3,249.2 66.4,250.5 66.5,249.3 66.6,249.8 66.7,249.5 66.8,249.8 66.9,250.2 67.0,249.0 67.1,249.0 67.2,249.4 67.3,250.3 67.4,250.5 67.5,249.5 67.6,249.4 67.7,250.4 67.8,249.9 67.9,249.4 68.0,249.0 68.1,249.2 68.2,249.3 68.3,250.4 68.4,249.1 68.5,249.8 68.6,249.9 68.7,249.7 68.8,249.6 68.9,249.2 69.0,250.6 69.1,250.5 69.2,249.8 69.3,249.2 69.4,250.4 69.5,249.5 69.6,249.9 69.7,249.0 69.8,249.3 69.9,250.3 70.0,248.9 70.1,249.1 70.2,250.3 70.3,249.3 70.4,249.7 70.5,249.8 70.6,249.9 70.7,249.9 70.8,249.6 70.9,249.0 71.0,249.1 71.1,250.0 71.2,249.9 71.3,249.2 71.4,250.1 71.5,249.9 71.6,249.5 71.7,250.5 71.8,249.3 71.9,250.2 72.0,249.8 72.1,250.1 72.2,249.7 72.3,250.1 72.4,249.9 72.5,249.6 72.6,249.1 72.7,250.1 72.8,249.1 72.9,249.0 73.0,249.2 73.1,250.1 73.2,249.6 73.3,249.6 73.4,249.4 73.5,249.5 73.6,250.2 73.7,250.1 73.8,250.3 73.9,249.9 74.0,249.3 74.1,249.4 74.2,250.4 74.3,250.1 74.4,249.4 74.5,249.7 74.6,249.6 74.7,249.5 74.8,249.5 74.9,250.2 75.0,249.4 75.1,250.2 75.2,249.9 75.3,250.1 75.4,250.3 75.5,250.1 75.6,250.5 75.7,249.1 75.8,250.0 75.9,249.0 76.0,250.2 76.1,249.9 76.2,249.0 76.3,250.2 76.4,249.9 76.5,249.7 76.6,250.3 76.7,249.5 76.8,249.8 76.9,249.8 77.0,249.3 77.1,250.5 77.2,249.0 77.3,250.0 77.4,249.2 77.5,249.5 77.6,249.3 77.7,249.5 77.8,249.3 77.9,249.4 78.0,250.2 78.1,249.2 78.2,250.3 78.3,250.3 78.4,250.3 78.5,249.8 78.6,249.1 78.7,250.4 78.8,249.0 78.9,250.4 79.0,249.8 79.1,250.0 79.2,249.5 79.3,249.6 79.4,250.2 79.5,249.7 79.6,249.8 79.7,250.2 79.8,250.2 79.9,250.3 80.0,250.5 80.1,250.4 80.2,250.4 80.3,250.1 80.4,250.4 80.5,249.5 80.6,249.4 80.7,249.0 80.8,249.1 80.9,249.4 81.0,249.0 81.1,249.1 81.2,249.1 81.3,250.5 81.4,249.2 81.5,249.9 81.6,250.0 81.7,249.0 81.8,249.4 81.9,249.3 82.0,248.9 82.1,249.8 82.2,249.2 82.3,250.1 82.4,249.4 82.5,249.1 82.6,249.9 82.7,250.3 82.8,247.9 82.9,248.6 83.0,247.6 83.1,245.2 83.2,238.2 83.3,246.7 83.4,234.3 83.5,232.7 83.6,234.4 83.7,246.4 83.8,220.6 83.9,218.6 84.0,238.8 84.1,208.4 84.2,169.7 84.3,213.2 84.4,231.2 84.5,208.0 84.6,212.1 84.7,247.3 84.8,215.0 84.9,220.3 85.0,239.4 85.1,241.0 85.2,244.0 85.3,230.6 85.4,238.5 85.5,224.1 85.6,219.9 85.7,235.8 85.8,245.0 85.9,238.3 86.0,218.1 86.1,207.3 86.2,198.2 86.3,190.0 86.4,229.3 86.5,211.7 86.6,228.9 86.7,224.2 86.8,235.6 86.9,238.9 87.0,234.8 87.1,236.3 87.2,234.9 87.3,238.8 87.4,240.6 87.5,236.9 87.6,238.6 87.7,244.6 87.8,247.2 87.9,247.9 88.0,240.4 88.1,248.9 88.2,247.4 88.3,239.2 88.4,243.0 88.5,241.8 88.6,241.3 88.7,240.1 88.8,249.7 88.9,243.4 89.0,246.9 89.1,240.3 89.2,245.1 89.3,242.7 89.4,242.3 89.5,248.6 89.6,244.4 89.7,246.6 89.8,242.4 89.9,248.4 90.0,242.7 90.1,248.1 90.2,248.5 90.3,246.1 90.4,245.5 90.5,248.8 90.6,245.7 90.7,246.2 90.8,246.8 90.9,248.8 91.0,245.7 91.1,244.8 91.2,248.7 91.3,247.8 91.4,247.5 91.5,248.0 91.6,244.9 91.7,248.5 91.8,245.4 91.9,246.3 92.0,248.1 92.1,249.5 92.2,248.6 92.3,250.2 92.4,248.0 92.5,246.2 92.6,246.2 92.7,247.2 92.8,244.9 92.9,245.5 93.0,244.7 93.1,245.4 93.2,249.6 93.3,246.8 93.4,249.5 93.5,244.8 93.6,249.5 93.7,244.4 93.8,246.7 93.9,246.9 94.0,244.5 94.1,249.4 94.2,246.4 94.3,247.0 94.4,248.2 94.5,249.0 94.6,246.7 94.7,246.2 94.8,245.7 94.9,245.3 95.0,248.3 95.1,244.2 95.2,246.8 95.3,244.5 95.4,247.1 95.5,247.7 95.6,244.0 95.7,244.1 95.8,244.8 95.9,247.4 96.0,247.8 96.1,244.4 96.2,247.3 96.3,244.5 96.4,247.9 96.5,244.4 96.6,245.8 96.7,245.4 96.8,245.6 96.9,247.5 97.0,247.7 97.1,245.1 97.2,247.8 97.3,247.3 97.4,244.4 97.5,247.0 97.6,247.9 97.7,245.9 97.8,246.6 97.9,247.1 98.0,246.2 98.1,248.7 98.2,247.6 98.3,246.8 98.4,247.9 98.5,246.5 98.6,248.6 98.7,246.3 98.8,248.2 98.9,246.4 99.0,249.2 99.1,248.2 99.2,249.3 99.3,247.9 99.4,248.3 99.5,249.2 99.6,247.8 99.7,247.3 99.8,249.0 99.9,249.1 100.0,249.6 100.1,248.6 100.2,248.6 100.3,249.5 100.4,250.1 100.5,249.5 100.6,249.1 100.7,248.6 100.8,248.7 100.9,249.2 101.0,249.2 101.1,249.0 101.2,249.8 101.3,249.2 101.4,249.8 101.5,249.5 101.6,250.1 101.7,249.4 101.8,250.4 101.9,249.9 102.0,248.9 102.1,248.7 102.2,249.8 102.3,248.7 102.4,249.0 102.5,248.8 102.6,249.6 102.7,248.7 102.8,249.6 102.9,248.2 103.0,248.5 103.1,248.6 103.2,248.0 103.3,248.4 103.4,246.8 103.5,247.2 103.6,246.8 103.7,247.2 103.8,247.2 103.9,246.7 104.0,244.2 104.1,245.3 104.2,246.4 104.3,242.6 104.4,242.1 104.5,245.1 104.6,242.0 104.7,242.5 104.8,244.5 104.9,246.4 105.0,241.3 105.1,239.1 105.2,238.5 105.3,244.2 105.4,239.8 105.5,244.9 105.6,245.4 105.7,240.9 105.8,241.5 105.9,242.0 106.0,243.3 106.1,244.2 106.2,242.6 106.3,241.0 106.4,236.3 106.5,233.3 106.6,233.5 106.7,238.2 106.8,243.6 106.9,239.6 107.0,241.8 107.1,242.2 107.2,238.2 107.3,244.4 107.4,244.8 107.5,243.2 107.6,242.1 107.7,246.3 107.8,242.0 107.9,241.7 108.0,237.6 108.1,242.4 108.2,243.1 108.3,243.8 108.4,243.4 108.5,245.9 108.6,239.4 108.7,244.8 108.8,245.8 108.9,240.2 109.0,242.5 109.1,239.2 109.2,242.4 109.3,245.1 109.4,245.0 109.5,244.6 109.6,247.0 109.7,241.5 109.8,245.0 109.9,242.5 110.0,238.2 110.1,238.5 110.2,242.4 110.3,240.4 110.4,245.2 110.5,238.6 110.6,241.7 110.7,239.2 110.8,238.9 110.9,242.9 111.0,241.4 111.1,244.4 111.2,245.2 111.3,240.7 111.4,242.5 111.5,244.5 111.6,240.9 111.7,243.3 111.8,236.8 111.9,239.9 112.0,241.6 112.1,241.6 112.2,242.1 112.3,243.5 112.4,240.5 112.5,240.0 112.6,244.5 112.7,239.8 112.8,244.2 112.9,238.9 113.0,237.5 113.1,237.2 113.2,235.5 113.3,237.0 113.4,237.1 113.5,237.6 113.6,242.8 113.7,243.2 113.8,244.2 113.9,240.7 114.0,246.1 114.1,246.0 114.2,246.2 114.3,245.8 114.4,246.9 114.5,240.4 114.6,240.0 114.7,244.0 114.8,243.4 114.9,243.4 115.0,245.0 115.1,244.8 115.2,243.4 115.3,244.5 115.4,243.3 115.5,246.6 115.6,243.9 115.7,244.8 115.8,247.0 115.9,247.0 116.0,245.9 116.1,246.4 116.2,247.2 116.3,248.8 116.4,249.0 116.5,248.3 116.6,246.0 116.7,248.5 116.8,248.9 116.9,247.8 117.0,248.0 117.1,248.4 117.1,246.6 117.2,248.0 117.3,249.6 117.4,248.4 117.5,249.4 117.6,248.6 117.7,248.8 117.8,249.6 117.9,248.3 118.0,248.9 118.1,249.8 118.2,249.8 118.3,249.6 118.4,249.6 118.5,249.1 118.6,249.7 118.7,249.5 118.8,249.7 118.9,250.5 119.0,249.4 119.1,249.6 119.2,250.1 119.3,249.5 119.4,249.5 119.5,249.5 119.6,249.6 119.7,249.6 119.8,249.0 119.9,249.1 120.0,249.5 120.1,249.2 120.2,249.9 120.3,250.1 120.4,249.5 120.5,250.6 120.6,249.5 120.7,249.2 120.8,250.5 120.9,249.6 121.0,249.8 121.1,249.7 121.2,250.6 121.3,249.8 121.4,249.9 121.5,250.4 121.6,250.6 121.7,250.3 121.8,249.6 121.9,249.8 122.0,249.5 122.1,250.6 122.2,250.0 122.3,250.4 122.4,249.4 122.5,250.5 122.6,249.2 122.7,249.3 122.8,250.5 122.9,249.6 123.0,249.1 123.1,250.3 123.2,249.0 123.3,249.2 123.4,249.0 123.5,249.9 123.6,249.8 123.7,249.3 123.8,250.2 123.9,250.4 124.0,250.4 124.1,250.1 124.2,250.0 124.3,249.5 124.4,250.1 124.5,250.2 124.6,250.2 124.7,249.9 124.8,249.8 124.9,249.8 125.0,249.5 125.1,250.1 125.2,249.0 125.3,249.5 125.4,249.7 125.5,249.2 125.6,249.7 125.7,249.0 125.8,249.8 125.9,249.2 126.0,250.4 126.1,249.0 126.2,249.0 126.3,250.1 126.4,249.8 126.5,249.3 126.6,250.2 126.7,249.2 126.8,249.8 126.9,249.4 127.0,250.2 127.1,250.3 127.2,250.5 127.3,249.5 127.4,249.7 127.5,249.5 127.6,250.3 127.7,250.2 127.8,249.8 127.9,250.0 128.0,250.4 128.1,249.2 128.2,249.0 128.3,249.0 128.4,249.1 128.5,250.1 128.6,249.4 128.7,249.5 128.8,249.6 128.9,250.2 129.0,249.7 129.1,250.5 129.2,249.4 129.3,250.6 129.4,249.5 129.5,249.1 129.6,250.2 129.7,250.2 129.8,249.8 129.9,249.1 130.0,250.4 130.1,250.1 130.2,250.3 130.3,250.5 130.4,250.2 130.5,249.2 130.6,249.9 130.7,249.9 130.8,249.2 130.9,249.9 131.0,249.1 131.1,249.8 131.2,250.4 131.3,249.3 131.4,250.4 131.5,249.0 131.6,249.4 131.7,250.3 131.8,250.1 131.9,250.3 132.0,249.3 132.1,250.0 132.2,249.7 132.3,249.7 132.4,249.4 132.5,249.1 132.6,250.2 132.7,249.4 132.8,249.0 132.9,250.3 133.0,249.6 133.1,249.6 133.2,250.3 133.3,249.0 133.4,249.0 133.5,249.4 133.6,249.5 133.7,249.2 133.8,249.5 133.9,249.6 134.0,249.4 134.1,249.7 134.2,250.4 134.3,250.2 134.4,249.2 134.5,250.3 134.6,250.3 134.7,249.3 134.8,249.4 134.9,250.5 135.0,249.8 135.1,249.4 135.2,250.4 135.3,249.1 135.4,250.4 135.5,250.0 135.6,250.2 135.7,249.7 135.8,250.6 135.9,249.6 136.0,249.4 136.1,249.3 136.2,250.0 136.3,249.0 136.4,249.4 136.5,250.3 136.6,250.2 136.7,249.1 136.8,250.5 136.9,250.0 137.0,250.0 137.1,250.0 137.2,250.4 137.3,250.3 137.4,250.3 137.5,249.6 137.6,250.2 137.7,249.8 137.8,250.1 137.9,250.5 138.0,250.0 138.1,249.5 138.2,249.8 138.3,249.5 138.4,250.4 138.5,249.2 138.6,249.4 138.7,250.5 138.8,249.9 138.9,249.5 139.0,249.1 139.1,249.5 139.2,249.0 139.3,250.3 139.4,249.8 139.5,250.5 139.6,249.8 139.7,250.6 139.8,250.6 139.9,250.4 140.0,250.0 140.1,250.0 140.2,248.9 140.3,250.4 140.4,250.3 140.5,249.2 140.6,249.3 140.7,249.5 140.8,250.6 140.9,250.3 141.0,249.3 141.1,250.5 141.2,249.6 141.3,250.0 141.4,250.0 141.5,249.8 141.6,249.3 141.7,248.9 141.8,249.2 141.9,249.5 142.0,249.2 142.1,250.4 142.2,249.8 142.3,249.0 142.4,250.0 142.5,250.4 142.6,249.5 142.7,250.2 142.8,249.1 142.9,250.2 143.0,249.4 143.1,249.2 143.2,250.5 143.3,249.0 143.4,249.9 143.5,249.7 143.6,249.9 143.7,250.6 143.8,249.1 143.9,250.3 144.0,249.8 144.1,250.0 144.2,249.8 144.3,249.7 144.4,249.0 144.5,250.3 144.6,249.9 144.7,249.2 144.8,249.4 144.9,249.2 145.0,249.8 145.1,249.9 145.2,250.1 145.3,250.0 145.4,250.4 145.5,249.3 145.6,250.1 145.7,250.0 145.8,250.2 145.9,249.4 146.0,250.1 146.1,249.8 146.2,250.1 146.3,249.3 146.4,250.1 146.5,249.6 146.6,249.7 146.7,250.6 146.8,249.0 146.9,249.2 147.0,249.4 147.1,250.3 147.2,249.2 147.3,249.0 147.4,249.2 147.5,249.6 147.6,249.2 147.7,250.2 147.8,249.3 147.9,250.0 148.0,250.0 148.1,249.2 148.2,250.4 148.3,250.5 148.4,249.5 148.5,249.2 148.6,249.6 148.7,249.6 148.8,250.5 148.9,249.7 149.0,249.0 149.1,249.8 149.2,249.7 149.3,250.2 149.4,250.4 149.5,249.1 149.6,250.3 149.7,249.0 149.8,249.1 149.9,250.4 150.0,249.3 150.1,250.5 150.2,249.1 150.3,249.2 150.4,250.6 150.5,249.4 150.6,249.9 150.7,250.3 150.8,249.9 150.9,249.9 151.0,249.1 151.1,249.7 151.2,249.1 151.3,249.6 151.4,249.9 151.5,250.3 151.6,249.4 151.7,249.6 151.8,250.6 151.9,250.2 152.0,249.9 152.1,250.2 152.2,250.6 152.3,249.0 152.4,249.3 152.5,249.5 152.6,249.6 152.7,249.5 152.8,250.3 152.9,250.0 153.0,249.8 153.1,249.2 153.2,250.1 153.3,249.4 153.4,250.5 153.5,249.5 153.6,250.5 153.7,249.9 153.8,250.4 153.9,250.1 154.0,249.1 154.1,249.3 154.2,249.0 154.3,249.4 154.4,249.8 154.5,250.2 154.6,249.2 154.7,250.3 154.8,250.2 154.9,249.6 155.0,250.2 155.1,249.4 155.2,250.5 155.3,250.4 155.4,250.1 155.5,249.9 155.6,250.2 155.7,250.4 155.8,249.8 155.9,249.0 156.0,249.1 156.1,249.2 156.2,249.5 156.3,250.1 156.4,249.9 156.5,249.3 156.6,249.6 156.7,250.3 156.8,250.1 156.9,249.4 157.0,249.4 157.1,250.1 157.2,249.5 157.3,250.5 157.4,249.9 157.5,250.5 157.6,250.5 157.7,249.0 157.8,250.2 157.9,249.6 158.0,249.3 158.1,250.3 158.2,249.7 158.3,249.1 158.4,249.7 158.5,249.2 158.6,249.3 158.7,250.0 158.8,250.1 158.9,249.0 159.0,249.8 159.1,249.0 159.2,250.3 159.3,250.2 159.4,250.3 159.5,249.3 159.6,250.0 159.7,250.4 159.8,249.0 159.9,249.3 160.0,249.7 160.1,250.5 160.2,250.1 160.3,249.8 160.4,249.7 160.5,249.9 160.6,249.2 160.7,250.5 160.8,249.9 160.9,249.5 161.0,250.1 161.1,250.5 161.2,249.7 161.3,249.3 161.4,249.5 161.5,249.4 161.6,250.5 161.7,249.3 161.8,249.5 161.9,249.7 162.0,249.2 162.1,250.4 162.2,249.9 162.3,249.4 162.4,249.2 162.5,250.0 162.6,250.6 162.7,249.7 162.8,249.6 162.9,250.1 163.0,249.0 163.1,249.8 163.2,249.8 163.3,249.1 163.4,250.2 163.5,250.4 163.6,250.1 163.7,249.2 163.8,249.4 163.9,249.3 164.0,249.9 164.1,250.3 164.2,250.0 164.3,249.9 164.4,250.4 164.5,249.7 164.6,249.5 164.7,250.1 164.8,249.5 164.9,250.3 165.0,249.5 165.1,250.5 165.2,249.6 165.3,250.3 165.4,249.4 165.5,249.1 165.6,250.0 165.7,250.3 165.8,249.7 165.9,250.5 166.0,249.5 166.1,250.4 166.2,249.4 166.3,249.2 166.4,249.8 166.5,249.6 166.6,249.3 166.7,249.3 166.8,250.5 166.9,250.1 167.0,249.3 167.1,249.7 167.2,249.3 167.3,249.6 167.4,249.5 167.5,249.5 167.6,250.1 167.7,249.3 167.8,249.3 167.9,249.2 168.0,249.4 168.1,250.0 168.2,249.3 168.3,249.7 168.4,249.5 168.5,248.9 168.6,249.7 168.7,248.9 168.8,248.9 168.9,249.1 169.0,249.8 169.1,249.4 169.2,249.6 169.3,249.8 169.4,249.4 169.5,250.1 169.6,249.2 169.7,249.0 169.8,248.1 169.9,248.2 170.0,250.0 170.1,248.9 170.2,249.3 170.3,249.9 170.4,249.0 170.5,248.7 170.6,248.3 170.7,249.3 170.8,248.3 170.9,249.2 171.0,248.7 171.1,249.7 171.2,249.6 171.3,249.2 171.4,247.5 171.5,248.6 171.6,248.8 171.7,250.1 171.8,247.4 171.9,249.0 172.0,248.9 172.1,248.6 172.2,246.4 172.3,247.3 172.4,246.9 172.5,249.0 172.6,249.4 172.7,249.6 172.8,247.9 172.9,247.7 173.0,247.0 173.1,247.2 173.2,247.2 173.3,248.0 173.4,247.2 173.5,246.4 173.6,248.1 173.7,247.0 173.8,247.2 173.9,247.4 174.0,247.5 174.1,247.9 174.2,246.1 174.3,247.1 174.4,246.8 174.5,247.3 174.6,247.1 174.7,245.5 174.8,245.0 174.9,246.5 175.0,246.1 175.1,248.1 175.2,247.5 175.3,246.7 175.4,245.7 175.5,249.5 175.6,247.3 175.7,248.6 175.8,244.3 175.9,248.3 176.0,248.6 176.1,247.7 176.2,243.3 176.3,243.6 176.4,243.6 176.5,245.7 176.6,242.6 176.7,248.3 176.8,246.8 176.9,247.4 177.0,243.1 177.1,245.4 177.2,247.6 177.3,245.3 177.4,241.7 177.5,245.9 177.6,248.1 177.7,247.6 177.8,248.4 177.9,249.2 178.0,243.5 178.1,245.5 178.2,244.3 178.3,246.4 178.4,248.3 178.5,247.7 178.6,242.5 178.7,246.6 178.8,243.3 178.9,244.8 179.0,243.2 179.1,246.3 179.2,241.7 179.3,241.0 179.4,242.9 179.5,248.0 179.6,248.1 179.7,246.8 179.8,239.7 179.9,247.0 180.0,245.5 180.1,245.1 180.2,243.4 180.3,243.9 180.4,248.8 180.5,244.2 180.6,243.5 180.7,245.5 180.8,247.9 180.9,247.5 181.0,245.6 181.1,246.3 181.2,247.7 181.3,243.4 181.4,244.7 181.5,241.7 181.6,246.6 181.7,246.6 181.8,243.3 181.9,244.9 182.0,247.8 182.1,247.8 182.2,246.7 182.3,245.7 182.4,247.5 182.5,247.9 182.6,244.8 182.7,244.2 182.8,247.5 182.9,244.2 183.0,247.2 183.1,247.8 183.2,246.5 183.3,247.6 183.4,245.9 183.5,243.5 183.6,248.0 183.7,246.7 183.8,245.9 183.9,247.1 184.0,248.2 184.1,247.4 184.2,247.2 184.3,245.2 184.4,244.9 184.5,245.9 184.6,244.6 184.7,246.3 184.8,249.4 184.9,247.7 185.0,244.9 185.1,248.1 185.2,246.5 185.3,248.4 185.4,243.0 185.5,245.0 185.6,242.8 185.7,244.7 185.8,247.5 185.9,246.4 186.0,243.6 186.1,245.9 186.2,247.7 186.3,247.2 186.4,245.3 186.5,246.8 186.6,246.9 186.7,247.7 186.8,247.9 186.9,243.4 187.0,241.7 187.1,247.9 187.2,247.1 187.3,246.6 187.4,244.7 187.5,243.5 187.6,247.9 187.7,241.5 187.8,246.3 187.9,243.8 188.0,243.3 188.1,244.8 188.2,246.1 188.3,244.3 188.4,248.5 188.5,244.0 188.6,244.9 188.7,245.3 188.8,245.8 188.9,248.6 189.0,245.4 189.1,243.9 189.2,246.0 189.3,242.9 189.4,243.4 189.5,243.6 189.6,244.2 189.7,244.8 189.8,244.9 189.9,241.8 190.0,242.4 190.1,247.4 190.2,245.2 190.3,248.4 190.4,242.1 190.5,242.9 190.6,244.1 190.7,247.3 190.8,241.9 190.9,242.5 191.0,248.2 191.1,243.4 191.2,245.1 191.3,248.0 191.4,248.3 191.5,245.9 191.6,240.7 191.7,247.2 191.8,245.4 191.9,243.5 192.0,243.7 192.1,248.0 192.2,245.3 192.3,242.8 192.4,243.1 192.5,247.5 192.6,240.6 192.7,246.7 192.8,246.7 192.9,242.3 193.0,243.9 193.1,246.2 193.2,242.7 193.3,243.3 193.4,241.9 193.5,244.1 193.6,247.0 193.7,247.8 193.8,248.6 193.9,248.3 194.0,249.3 194.1,246.2 194.2,247.8 194.3,244.5 194.4,246.1 194.5,244.8 194.6,249.1 194.7,248.0 194.8,246.7 194.9,247.9 195.0,246.2 195.1,246.2 195.2,247.4 195.3,248.1 195.4,248.9 195.5,247.0 195.6,247.9 195.7,248.8 195.8,248.7 195.9,245.0 196.0,247.6 196.1,249.3 196.2,246.6 196.3,245.8 196.4,246.8 196.5,249.1 196.6,247.4 196.7,248.3 196.8,249.0 196.9,248.8 197.0,247.7 197.1,245.8 197.2,249.1 197.3,249.5 197.4,248.1 197.5,248.0 197.6,249.8 197.7,247.9 197.8,248.5 197.9,247.9 198.0,249.9 198.1,249.5 198.2,248.3 198.3,249.4 198.4,249.1 198.5,247.9 198.6,248.5 198.7,248.2 198.8,249.1 198.9,247.9 199.0,249.4 199.1,249.4 199.2,250.2 199.3,249.8 199.4,249.4 199.5,250.2 199.6,248.6 199.7,248.4 199.8,249.4 199.9,249.0 200.0,249.4 200.1,250.4 200.2,250.3 200.3,249.4 200.4,250.3 200.5,249.3 200.6,249.1 200.7,248.8 200.8,250.3 200.9,249.4 201.0,249.2 201.1,249.4 201.2,250.3 201.3,250.1 201.4,250.2 201.5,249.4 201.6,249.3 201.7,250.0 201.8,250.0 201.9,249.0 202.0,249.0 202.1,249.2 202.2,249.9 202.3,249.6 202.4,250.5 202.5,249.3 202.6,250.1 202.7,250.4 202.8,249.7 202.9,249.9 203.0,250.4 203.1,250.4 203.2,249.1 203.3,249.8 203.4,250.2 203.5,250.2 203.6,249.5 203.7,249.4 203.8,250.5 203.9,250.5 204.0,250.0 204.1,249.9 204.2,250.0 204.3,249.2 204.4,250.5 204.5,249.8 204.6,249.4 204.7,250.6 204.8,249.6 204.9,249.7 205.0,250.3 205.1,249.6 205.2,250.2 205.3,249.2 205.4,249.4 205.5,250.1 205.6,249.4 205.7,249.2 205.8,250.4 205.9,249.4 206.0,249.8 206.1,249.1 206.2,249.3 206.3,249.2 206.4,250.4 206.5,250.0 206.6,249.3 206.7,249.5 206.8,250.3 206.9,250.1 207.0,250.4 207.1,250.2 207.2,249.9 207.3,250.0 207.4,250.4 207.5,250.1 207.6,249.5 207.7,250.2 207.8,249.5 207.9,249.1 208.0,249.5 208.1,249.4 208.2,249.0 208.3,249.2 208.4,249.9 208.5,250.3 208.6,249.1 208.7,250.1 208.8,249.9 208.9,250.1 209.0,249.8 209.1,249.3 209.2,249.8 209.3,249.1 209.4,249.7 209.5,249.8 209.6,249.4 209.7,250.4 209.8,249.1 209.9,249.4 210.0,249.0 210.1,250.2 210.2,250.5 210.3,250.0 210.4,250.5 210.5,249.7 210.6,250.4 210.7,249.8 210.8,250.5 210.9,249.6 211.0,249.7 211.1,249.5 211.2,249.4 211.3,249.1 211.4,249.2 211.5,249.1 211.6,249.9 211.7,249.4 211.8,250.0 211.9,249.3 212.0,250.6 212.1,249.7 212.2,250.1 212.3,250.2 212.4,249.2 212.5,249.8 212.6,250.4 212.7,250.2 212.8,249.3 212.9,249.0 213.0,249.7 213.1,249.2 213.2,249.2 213.3,249.1 213.4,248.9 213.5,249.7 213.6,250.2 213.7,250.0 213.8,249.2 213.9,249.7 214.0,249.8 214.1,249.8 214.2,249.2 214.3,250.3 214.4,249.5 214.5,250.3 214.6,249.8 214.7,249.2 214.8,249.4 214.9,249.5 215.0,250.3 215.1,249.6 215.2,249.4 215.3,249.1 215.4,250.5 215.5,250.3 215.6,250.5 215.7,250.1 215.8,250.1 215.9,249.9 216.0,249.7 216.1,250.1"/>
<rect x="33.9" y="159.1" width="186.48" height="95.17" fill="none" stroke="#000" stroke-width="1.65"/>
<path d="M40.56 253.97v2.6M57.21 253.97v1.6M73.86 253.97v2.6M90.51 253.97v1.6M107.16 253.97v2.6M123.81 253.97v1.6M140.46 253.97v2.6M157.11 253.97v1.6M173.76 253.97v2.6M190.41 253.97v1.6M207.06 253.97v2.6M33.9 249.85h-2.7M33.9 241.6h-1.6M33.9 233.35h-2.7M33.9 225.1h-1.6M33.9 216.85h-2.7M33.9 208.6h-1.6M33.9 200.35h-2.7M33.9 192.1h-1.6M33.9 183.85h-2.7M33.9 175.6h-1.6M33.9 167.35h-2.7" stroke="#000" stroke-width="1.1" fill="none"/>
<text x="40.56" y="266.87" font-size="8.3" text-anchor="middle" font-weight="normal" fill="#000" stroke="#000" stroke-width="0.1" >450</text>
<text x="73.86" y="266.87" font-size="8.3" text-anchor="middle" font-weight="normal" fill="#000" stroke="#000" stroke-width="0.1" >500</text>
<text x="107.16" y="266.87" font-size="8.3" text-anchor="middle" font-weight="normal" fill="#000" stroke="#000" stroke-width="0.1" >550</text>
<text x="140.46" y="266.87" font-size="8.3" text-anchor="middle" font-weight="normal" fill="#000" stroke="#000" stroke-width="0.1" >600</text>
<text x="173.76" y="266.87" font-size="8.3" text-anchor="middle" font-weight="normal" fill="#000" stroke="#000" stroke-width="0.1" >650</text>
<text x="207.06" y="266.87" font-size="8.3" text-anchor="middle" font-weight="normal" fill="#000" stroke="#000" stroke-width="0.1" >700</text>
<text x="27.1" y="253.05" font-size="8.3" text-anchor="end" font-weight="normal" fill="#000" stroke="#000" stroke-width="0.1" >0.0</text>
<text x="27.1" y="236.55" font-size="8.3" text-anchor="end" font-weight="normal" fill="#000" stroke="#000" stroke-width="0.1" >0.2</text>
<text x="27.1" y="220.05" font-size="8.3" text-anchor="end" font-weight="normal" fill="#000" stroke="#000" stroke-width="0.1" >0.4</text>
<text x="27.1" y="203.55" font-size="8.3" text-anchor="end" font-weight="normal" fill="#000" stroke="#000" stroke-width="0.1" >0.6</text>
<text x="27.1" y="187.05" font-size="8.3" text-anchor="end" font-weight="normal" fill="#000" stroke="#000" stroke-width="0.1" >0.8</text>
<text x="27.1" y="170.55" font-size="8.3" text-anchor="end" font-weight="normal" fill="#000" stroke="#000" stroke-width="0.1" >1.0</text>
<text x="127.14" y="280.87" font-size="8.3" text-anchor="middle" font-weight="normal" fill="#000" stroke="#000" stroke-width="0.1" >Wavelength (nm)</text>
<text transform="translate(7.1,206.54) rotate(-90)" x="0" y="0" font-size="8.3" text-anchor="middle" fill="#000" stroke="#000" stroke-width="0.05">Normalized intensity (a.u.)</text>
<text x="180.6" y="170.7" font-size="7" text-anchor="start" font-weight="normal" fill="#000" stroke="#000" stroke-width="0.1" >1020 nm</text>
<polyline fill="none" stroke="url(#wl5)" stroke-width="0.75" stroke-linejoin="round" points="274.6,250.3 274.7,250.1 274.8,249.4 274.9,250.2 275.0,249.5 275.1,250.0 275.2,250.4 275.3,249.2 275.4,249.6 275.5,250.3 275.6,250.0 275.7,249.8 275.8,250.1 275.9,249.8 276.0,249.9 276.1,250.2 276.2,250.5 276.3,250.3 276.4,249.2 276.5,250.3 276.6,249.0 276.7,249.3 276.8,250.1 276.9,250.0 277.0,249.5 277.1,249.9 277.2,249.2 277.3,250.5 277.4,249.1 277.5,249.8 277.6,250.5 277.7,249.5 277.8,249.3 277.9,250.0 278.0,250.1 278.1,249.5 278.2,250.5 278.3,249.4 278.4,249.9 278.5,250.5 278.6,249.0 278.7,249.6 278.8,249.2 278.9,250.5 279.0,250.3 279.1,249.9 279.2,250.6 279.3,250.3 279.4,249.9 279.5,249.1 279.6,249.3 279.7,249.5 279.8,249.7 279.9,250.3 280.0,249.0 280.1,249.0 280.2,249.2 280.3,250.0 280.4,249.3 280.5,250.2 280.5,249.4 280.6,249.4 280.7,250.2 280.8,249.8 280.9,249.2 281.0,249.5 281.1,249.5 281.2,249.4 281.3,249.2 281.4,250.5 281.5,250.3 281.6,249.7 281.7,249.7 281.8,249.4 281.9,249.2 282.0,249.3 282.1,250.4 282.2,249.8 282.3,249.0 282.4,249.3 282.5,249.8 282.6,250.5 282.7,249.9 282.8,249.9 282.9,249.7 283.0,250.1 283.1,249.5 283.2,249.4 283.3,249.9 283.4,250.3 283.5,250.1 283.6,250.4 283.7,249.4 283.8,250.0 283.9,250.6 284.0,249.6 284.1,250.1 284.2,249.2 284.3,250.1 284.4,249.3 284.5,249.1 284.6,250.3 284.7,250.1 284.8,250.0 284.9,249.5 285.0,249.3 285.1,249.9 285.2,249.3 285.3,250.0 285.4,250.3 285.5,249.1 285.6,249.7 285.7,250.4 285.8,250.5 285.9,249.1 286.0,249.9 286.1,249.1 286.2,250.1 286.3,249.3 286.4,249.0 286.5,249.4 286.6,249.0 286.7,250.2 286.8,250.2 286.9,250.1 287.0,250.5 287.1,250.3 287.2,250.4 287.3,249.7 287.4,250.0 287.5,250.2 287.6,249.6 287.7,250.0 287.8,250.2 287.9,249.1 288.0,249.2 288.1,250.3 288.2,249.3 288.3,249.1 288.4,249.4 288.5,249.8 288.6,249.6 288.7,249.1 288.8,250.3 288.9,250.6 289.0,250.4 289.1,249.1 289.2,250.3 289.3,249.1 289.4,249.2 289.5,250.0 289.6,249.8 289.7,250.3 289.8,249.2 289.9,249.6 290.0,249.7 290.1,249.5 290.2,249.7 290.3,249.9 290.4,250.5 290.5,249.8 290.6,250.1 290.7,249.1 290.8,250.5 290.9,250.5 291.0,250.3 291.1,249.5 291.2,250.3 291.3,249.0 291.4,249.5 291.5,249.8 291.6,250.1 291.7,249.7 291.8,250.0 291.9,249.0 292.0,249.1 292.1,249.9 292.2,249.4 292.3,249.7 292.4,250.5 292.5,249.9 292.6,249.1 292.7,249.3 292.8,250.1 292.9,250.3 293.0,249.5 293.1,250.1 293.2,249.8 293.3,249.9 293.4,249.6 293.5,249.9 293.6,250.4 293.7,249.9 293.8,249.2 293.9,249.4 294.0,249.5 294.1,249.9 294.2,250.0 294.3,250.1 294.4,249.9 294.5,250.6 294.6,249.2 294.7,250.1 294.8,249.0 294.9,250.3 295.0,250.6 295.1,249.8 295.2,250.4 295.3,250.1 295.4,249.5 295.5,250.3 295.6,249.1 295.7,249.2 295.8,249.6 295.9,249.6 296.0,249.9 296.1,250.3 296.2,249.7 296.3,248.8 296.4,250.1 296.5,249.3 296.6,249.3 296.7,249.7 296.8,249.0 296.9,250.2 297.0,248.5 297.1,248.5 297.2,250.0 297.3,247.6 297.4,249.3 297.5,244.0 297.6,246.3 297.7,242.4 297.8,244.9 297.9,235.8 298.0,248.3 298.1,237.1 298.2,246.3 298.3,230.8 298.4,221.4 298.5,233.3 298.6,220.8 298.7,209.6 298.8,235.9 298.9,208.5 299.0,227.5 299.1,231.8 299.2,224.8 299.3,202.9 299.4,207.0 299.5,212.5 299.6,212.7 299.7,216.7 299.8,240.7 299.9,246.7 300.0,210.1 300.1,230.4 300.2,200.8 300.3,184.7 300.4,233.6 300.5,169.7 300.6,233.3 300.7,228.2 300.8,230.4 300.9,231.4 301.0,242.8 301.1,243.0 301.2,236.1 301.3,222.3 301.4,236.4 301.5,236.9 301.6,232.8 301.7,246.9 301.8,241.1 301.9,238.2 302.0,241.7 302.1,241.3 302.2,245.6 302.3,246.1 302.4,248.1 302.5,249.1 302.6,248.5 302.7,246.5 302.8,248.5 302.9,249.8 303.0,249.2 303.1,249.0 303.2,247.9 303.3,249.6 303.4,249.0 303.5,249.6 303.6,250.0 303.7,249.9 303.8,250.3 303.9,248.9 304.0,249.8 304.1,250.1 304.2,249.0 304.3,249.7 304.4,249.2 304.5,248.8 304.6,249.7 304.7,249.4 304.8,250.1 304.9,248.5 305.0,250.0 305.1,249.1 305.2,249.4 305.3,248.3 305.4,247.5 305.5,249.0 305.6,246.2 305.7,247.2 305.8,244.8 305.9,248.1 306.0,248.1 306.1,249.3 306.2,244.4 306.3,248.1 306.4,244.4 306.5,244.4 306.6,245.6 306.7,245.5 306.8,248.5 306.9,247.8 307.0,249.2 307.1,248.9 307.2,248.7 307.3,249.6 307.4,249.2 307.5,249.8 307.6,248.9 307.7,249.6 307.8,249.5 307.9,249.0 308.0,249.6 308.1,249.1 308.2,250.0 308.3,250.2 308.4,249.4 308.5,250.4 308.6,250.2 308.7,249.3 308.8,249.2 308.9,249.6 309.0,250.1 309.1,249.1 309.2,249.1 309.3,249.5 309.4,249.4 309.5,249.5 309.6,250.0 309.7,249.9 309.8,249.4 309.9,249.2 310.0,250.5 310.1,249.2 310.2,250.2 310.3,249.2 310.4,250.2 310.5,250.4 310.6,249.5 310.7,250.6 310.8,250.3 310.9,250.5 311.0,249.2 311.1,249.5 311.2,250.6 311.3,250.5 311.4,250.2 311.5,249.1 311.6,249.4 311.7,250.5 311.8,249.1 311.9,250.5 312.0,249.7 312.1,249.1 312.2,250.0 312.3,250.5 312.4,249.1 312.5,249.5 312.6,249.6 312.7,250.2 312.8,249.0 312.9,249.9 313.0,249.6 313.1,250.0 313.2,249.5 313.3,249.0 313.4,250.3 313.5,250.3 313.6,249.5 313.7,249.3 313.8,250.0 313.9,249.4 314.0,250.3 314.1,250.4 314.2,249.9 314.3,250.3 314.4,249.8 314.5,249.3 314.6,250.5 314.7,250.1 314.8,249.3 314.9,249.2 315.0,249.5 315.1,249.8 315.2,250.1 315.3,248.9 315.4,250.4 315.5,249.2 315.6,249.7 315.7,250.4 315.8,249.3 315.9,248.9 316.0,248.7 316.1,249.4 316.2,249.0 316.3,248.7 316.4,249.0 316.5,249.2 316.6,249.0 316.7,249.1 316.8,249.3 316.9,248.7 317.0,249.6 317.1,248.8 317.2,248.5 317.3,248.2 317.4,248.4 317.5,247.9 317.6,247.7 317.7,248.1 317.8,247.6 317.9,247.0 318.0,247.5 318.1,247.9 318.2,247.0 318.3,246.6 318.4,246.0 318.5,245.7 318.6,246.6 318.7,244.3 318.8,244.2 318.9,243.5 319.0,244.0 319.1,241.0 319.2,241.6 319.3,239.9 319.4,243.3 319.5,238.7 319.6,242.3 319.7,241.7 319.8,240.3 319.9,241.7 320.0,238.5 320.1,239.8 320.2,240.4 320.3,240.3 320.4,241.8 320.5,241.8 320.6,240.8 320.7,242.6 320.8,243.3 320.9,240.6 321.0,243.6 321.1,243.3 321.2,243.4 321.3,245.2 321.4,244.6 321.5,243.9 321.6,244.5 321.7,243.9 321.8,245.6 321.9,246.5 322.0,245.2 322.1,244.7 322.2,244.5 322.3,245.7 322.4,246.2 322.5,245.1 322.6,246.2 322.7,246.1 322.8,246.0 322.9,246.1 323.0,246.7 323.1,246.0 323.2,246.4 323.3,247.8 323.4,247.0 323.5,247.0 323.6,247.4 323.7,246.8 323.8,246.9 323.9,246.9 324.0,247.3 324.1,246.7 324.2,247.2 324.3,247.2 324.4,246.8 324.5,246.3 324.6,246.6 324.7,245.9 324.8,247.6 324.9,245.0 325.0,246.7 325.1,246.0 325.2,246.9 325.3,246.4 325.4,245.4 325.5,245.5 325.6,244.6 325.7,246.5 325.8,245.8 325.9,245.3 326.0,244.7 326.1,246.1 326.2,245.7 326.3,245.7 326.4,245.4 326.5,244.9 326.6,245.2 326.7,245.8 326.8,244.6 326.9,244.5 327.0,243.8 327.1,244.9 327.2,243.8 327.3,244.8 327.4,244.5 327.5,245.4 327.6,243.9 327.7,244.4 327.8,246.4 327.9,246.0 328.0,245.7 328.1,246.0 328.2,244.8 328.3,245.3 328.4,245.6 328.5,246.2 328.6,246.8 328.7,247.1 328.8,246.8 328.9,246.9 329.0,248.5 329.1,247.3 329.2,247.6 329.3,248.5 329.4,249.1 329.5,248.0 329.6,249.3 329.7,248.9 329.8,248.7 329.9,249.2 330.0,249.0 330.1,250.2 330.2,249.1 330.3,250.3 330.4,248.9 330.5,250.4 330.6,249.1 330.7,249.1 330.8,249.9 330.9,249.0 331.0,250.4 331.1,249.8 331.2,249.8 331.3,249.0 331.4,249.4 331.5,249.6 331.6,250.5 331.7,250.3 331.8,250.0 331.9,249.7 332.0,250.3 332.1,249.7 332.2,249.4 332.3,250.0 332.4,249.7 332.5,249.5 332.6,249.5 332.7,250.1 332.8,249.5 332.9,248.5 333.0,248.4 333.1,249.3 333.2,249.1 333.3,248.1 333.4,248.3 333.5,248.1 333.6,245.7 333.7,246.4 333.8,246.4 333.9,244.0 334.0,243.0 334.1,247.3 334.2,242.6 334.3,244.2 334.4,244.7 334.5,246.2 334.6,243.6 334.7,245.9 334.8,243.0 334.9,245.4 335.0,243.3 335.1,239.9 335.2,245.9 335.3,237.3 335.4,237.8 335.5,236.3 335.6,241.1 335.7,240.6 335.8,243.6 335.9,240.8 336.0,243.0 336.1,231.2 336.2,238.8 336.3,230.7 336.4,239.6 336.5,230.9 336.6,239.4 336.7,230.6 336.8,236.2 336.9,239.0 337.0,235.6 337.1,243.9 337.2,236.8 337.3,239.6 337.4,238.0 337.5,237.7 337.6,240.5 337.7,236.6 337.8,240.3 337.9,241.5 338.0,243.8 338.1,239.4 338.2,242.1 338.3,241.1 338.4,245.4 338.5,239.3 338.6,236.0 338.7,242.6 338.8,239.7 338.9,245.0 339.0,243.7 339.1,238.7 339.2,239.6 339.3,239.2 339.4,240.8 339.5,245.0 339.6,238.7 339.7,238.5 339.8,243.1 339.9,240.3 340.0,241.6 340.1,239.1 340.2,242.9 340.3,244.5 340.4,246.4 340.5,244.2 340.6,241.2 340.7,243.8 340.8,241.6 340.9,243.7 341.0,244.8 341.1,238.1 341.2,241.2 341.3,243.3 341.4,241.2 341.5,241.9 341.6,238.6 341.7,244.0 341.8,233.4 341.9,236.8 342.0,240.1 342.1,237.4 342.2,239.8 342.3,236.1 342.4,237.1 342.5,235.5 342.6,243.0 342.7,230.1 342.8,243.8 342.9,237.7 343.0,237.5 343.1,237.5 343.2,234.7 343.3,243.8 343.4,237.3 343.5,237.8 343.6,239.3 343.7,244.4 343.8,240.6 343.9,245.5 344.0,241.2 344.1,245.2 344.2,245.8 344.3,246.0 344.4,238.8 344.5,245.1 344.6,242.0 344.7,238.9 344.8,239.3 344.9,240.8 345.0,241.7 345.1,245.9 345.2,243.0 345.3,246.2 345.4,244.7 345.5,244.0 345.6,246.6 345.7,245.2 345.8,245.0 345.9,246.1 346.0,246.3 346.1,247.1 346.2,247.1 346.3,245.4 346.4,246.6 346.5,247.2 346.6,247.4 346.7,246.7 346.8,247.2 346.9,248.5 347.0,246.2 347.1,248.8 347.2,248.1 347.3,248.2 347.4,249.7 347.5,249.2 347.6,247.8 347.7,248.8 347.8,248.8 347.9,248.9 348.0,249.5 348.1,249.3 348.2,249.7 348.3,248.8 348.4,250.1 348.5,248.8 348.6,250.0 348.7,249.1 348.8,249.7 348.9,249.2 349.0,249.0 349.1,249.8 349.2,249.6 349.3,250.4 349.4,249.3 349.5,249.4 349.6,249.6 349.7,250.5 349.8,249.4 349.9,249.7 350.0,249.2 350.1,250.4 350.2,249.6 350.3,250.0 350.4,249.2 350.5,249.9 350.6,249.9 350.7,250.4 350.8,249.1 350.9,250.5 351.0,250.1 351.1,250.5 351.2,249.7 351.3,249.1 351.4,250.2 351.5,250.1 351.6,249.1 351.7,249.3 351.8,250.1 351.9,249.1 352.0,250.2 352.1,249.1 352.2,250.5 352.3,250.2 352.4,249.3 352.5,249.2 352.6,249.4 352.7,249.0 352.8,249.6 352.9,250.1 353.0,249.9 353.1,250.5 353.2,250.4 353.3,249.2 353.4,250.0 353.5,250.5 353.6,249.1 353.7,250.4 353.8,249.6 353.9,249.9 354.0,250.2 354.1,250.3 354.2,249.6 354.3,249.7 354.4,249.9 354.5,249.0 354.6,249.0 354.7,249.5 354.8,250.3 354.9,250.5 355.0,250.2 355.1,250.2 355.2,249.4 355.3,249.2 355.4,249.0 355.5,250.0 355.6,250.5 355.7,249.9 355.8,249.1 355.9,249.5 356.0,249.2 356.1,249.6 356.2,250.2 356.3,249.4 356.4,249.1 356.5,249.3 356.6,250.3 356.7,250.6 356.8,250.3 356.9,250.2 357.0,250.5 357.1,249.6 357.2,250.2 357.3,250.4 357.4,250.0 357.5,249.8 357.6,249.6 357.7,249.1 357.8,250.0 357.9,249.7 358.0,250.4 358.1,250.3 358.2,250.2 358.3,249.7 358.4,249.2 358.5,250.2 358.6,249.3 358.7,250.0 358.8,250.0 358.9,250.6 359.0,249.5 359.1,250.0 359.2,249.2 359.3,249.5 359.4,249.5 359.5,249.1 359.6,250.3 359.7,249.5 359.8,249.4 359.9,250.2 360.0,249.7 360.1,250.6 360.2,249.7 360.3,250.6 360.4,250.1 360.5,250.3 360.6,249.6 360.7,250.1 360.8,250.3 360.9,250.5 361.0,249.0 361.1,249.5 361.2,250.1 361.3,249.8 361.4,249.5 361.5,249.3 361.6,249.0 361.7,250.3 361.8,250.1 361.9,249.8 362.0,250.0 362.1,249.8 362.2,249.9 362.3,249.7 362.4,249.8 362.5,249.7 362.6,249.5 362.7,250.0 362.8,249.9 362.9,250.1 363.0,250.3 363.1,249.3 363.2,249.2 363.3,249.5 363.4,250.0 363.5,249.5 363.6,250.0 363.7,250.1 363.8,249.4 363.9,250.5 364.0,250.0 364.1,250.2 364.2,249.9 364.3,249.7 364.4,249.9 364.5,249.8 364.6,249.0 364.7,249.2 364.8,250.2 364.9,250.2 365.0,249.2 365.1,250.5 365.2,250.2 365.3,249.9 365.4,250.4 365.5,249.8 365.6,250.3 365.7,250.1 365.8,250.3 365.9,249.4 366.0,250.4 366.1,250.1 366.2,249.9 366.3,250.2 366.4,249.8 366.5,249.1 366.6,249.5 366.7,249.2 366.8,249.1 366.9,249.3 367.0,249.7 367.1,250.5 367.2,249.7 367.3,249.4 367.4,250.3 367.5,249.3 367.6,249.4 367.7,249.1 367.8,250.4 367.9,250.5 368.0,249.1 368.1,250.0 368.2,250.2 368.3,249.0 368.4,249.6 368.5,250.5 368.6,250.2 368.7,249.2 368.8,250.6 368.9,249.2 369.0,249.9 369.1,249.7 369.2,250.2 369.3,250.3 369.4,250.3 369.5,249.6 369.6,249.0 369.7,249.0 369.8,249.7 369.9,249.3 370.0,249.4 370.1,250.2 370.2,249.3 370.3,249.4 370.4,249.2 370.5,249.0 370.6,250.3 370.7,250.4 370.8,249.4 370.9,250.4 371.0,249.8 371.1,249.8 371.2,249.1 371.3,250.5 371.4,249.7 371.5,249.6 371.6,250.2 371.7,249.8 371.8,249.0 371.9,249.2 372.0,250.5 372.1,250.4 372.2,250.5 372.3,250.4 372.4,250.1 372.5,250.1 372.6,249.8 372.7,250.1 372.8,249.4 372.9,250.3 373.0,250.4 373.1,250.2 373.2,249.6 373.3,249.8 373.4,250.3 373.5,250.2 373.6,250.3 373.7,250.1 373.8,250.2 373.9,250.5 374.0,249.7 374.1,250.2 374.2,250.5 374.3,249.0 374.4,250.0 374.5,250.0 374.6,249.2 374.7,249.7 374.8,249.2 374.9,249.3 375.0,249.6 375.1,249.6 375.2,250.3 375.3,250.1 375.4,249.8 375.5,249.1 375.6,249.4 375.7,250.5 375.8,249.9 375.9,250.1 376.0,249.8 376.1,249.8 376.2,249.0 376.3,249.9 376.4,249.1 376.5,249.6 376.6,250.3 376.7,250.6 376.8,250.5 376.9,249.6 377.0,249.1 377.1,249.8 377.2,250.3 377.3,249.4 377.4,249.5 377.5,249.6 377.6,250.5 377.7,250.1 377.8,250.5 377.9,249.3 378.0,249.9 378.1,250.5 378.2,249.7 378.3,250.3 378.4,250.5 378.5,249.7 378.6,250.4 378.7,250.4 378.8,249.0 378.9,250.6 379.0,249.1 379.1,250.6 379.2,249.4 379.3,250.6 379.4,249.3 379.5,250.2 379.6,249.8 379.7,249.0 379.8,249.1 379.9,250.3 380.0,249.3 380.1,249.3 380.2,250.2 380.3,249.7 380.4,250.2 380.4,249.4 380.5,249.0 380.6,250.1 380.7,249.1 380.8,249.6 380.9,250.4 381.0,250.0 381.1,249.9 381.2,250.4 381.3,249.2 381.4,249.8 381.5,249.1 381.6,249.3 381.7,249.4 381.8,249.6 381.9,250.4 382.0,250.2 382.1,250.1 382.2,250.5 382.3,250.3 382.4,249.4 382.5,250.5 382.6,249.9 382.7,250.5 382.8,250.6 382.9,250.1 383.0,250.0 383.1,249.3 383.2,249.1 383.3,250.0 383.4,249.0 383.5,249.6 383.6,249.3 383.7,249.5 383.8,250.3 383.9,249.4 384.0,250.2 384.1,249.4 384.2,249.1 384.3,249.5 384.4,249.1 384.5,249.6 384.6,249.2 384.7,250.4 384.8,249.4 384.9,249.5 385.0,250.2 385.1,249.0 385.2,250.4 385.3,250.4 385.4,250.3 385.5,249.7 385.6,249.5 385.7,250.3 385.8,249.5 385.9,249.8 386.0,249.8 386.1,249.5 386.2,250.2 386.3,250.1 386.4,249.8 386.5,250.4 386.6,250.1 386.7,249.2 386.8,249.7 386.9,249.0 387.0,250.0 387.1,250.4 387.2,249.9 387.3,250.0 387.4,250.5 387.5,250.0 387.6,249.3 387.7,249.8 387.8,249.8 387.9,249.8 388.0,249.6 388.1,250.4 388.2,249.4 388.3,249.1 388.4,250.6 388.5,249.7 388.6,250.0 388.7,249.7 388.8,249.6 388.9,250.2 389.0,249.4 389.1,250.1 389.2,249.3 389.3,249.3 389.4,249.9 389.5,249.6 389.6,249.2 389.7,249.1 389.8,250.3 389.9,250.2 390.0,250.2 390.1,249.2 390.2,249.7 390.3,249.9 390.4,249.8 390.5,249.5 390.6,249.0 390.7,250.5 390.8,249.1 390.9,249.9 391.0,250.0 391.1,250.0 391.2,249.1 391.3,249.9 391.4,250.4 391.5,248.9 391.6,249.5 391.7,250.5 391.8,249.1 391.9,250.0 392.0,249.3 392.1,249.9 392.2,249.3 392.3,250.4 392.4,249.5 392.5,249.9 392.6,249.6 392.7,249.2 392.8,250.1 392.9,249.1 393.0,250.1 393.1,250.4 393.2,249.5 393.3,250.2 393.4,249.3 393.5,249.2 393.6,249.9 393.7,250.5 393.8,250.3 393.9,249.4 394.0,249.0 394.1,249.8 394.2,249.9 394.3,249.4 394.4,250.0 394.5,250.2 394.6,250.4 394.7,249.6 394.8,249.3 394.9,250.2 395.0,249.8 395.1,249.5 395.2,249.6 395.3,249.9 395.4,250.6 395.5,249.8 395.6,250.2 395.7,249.1 395.8,249.4 395.9,249.6 396.0,249.6 396.1,250.1 396.2,249.6 396.3,249.9 396.4,249.2 396.5,249.2 396.6,249.2 396.7,249.2 396.8,249.9 396.9,250.0 397.0,250.0 397.1,249.8 397.2,250.3 397.3,249.0 397.4,250.1 397.5,249.7 397.6,250.0 397.7,250.4 397.8,250.3 397.9,249.7 398.0,249.4 398.1,249.3 398.2,249.8 398.3,250.4 398.4,249.2 398.5,248.6 398.6,248.8 398.7,249.0 398.8,248.6 398.9,248.9 399.0,250.0 399.1,249.4 399.2,248.5 399.3,249.2 399.4,249.5 399.5,249.4 399.6,249.6 399.7,248.4 399.8,249.0 399.9,248.4 400.0,248.4 400.1,248.1 400.2,248.0 400.3,249.4 400.4,247.8 400.5,249.2 400.6,249.3 400.7,248.9 400.8,249.3 400.9,250.0 401.0,247.2 401.1,249.3 401.2,248.6 401.3,247.9 401.4,247.7 401.5,248.2 401.6,249.3 401.7,248.6 401.8,248.4 401.9,248.1 402.0,248.9 402.1,248.1 402.2,249.0 402.3,249.2 402.4,248.3 402.5,246.2 402.6,247.2 402.7,246.0 402.8,249.2 402.9,248.4 403.0,247.1 403.1,246.6 403.2,246.6 403.3,247.8 403.4,246.0 403.5,246.4 403.6,247.9 403.7,245.2 403.8,244.7 403.9,248.1 404.0,245.4 404.1,247.4 404.2,247.7 404.3,243.6 404.4,247.6 404.5,245.4 404.6,247.4 404.7,244.7 404.8,245.9 404.9,246.7 405.0,247.9 405.1,246.9 405.2,247.4 405.3,246.1 405.4,246.9 405.5,246.3 405.6,242.0 405.7,248.3 405.8,246.1 405.9,242.1 406.0,241.2 406.1,244.9 406.2,243.0 406.3,242.1 406.4,246.7 406.5,246.3 406.6,244.7 406.7,240.6 406.8,241.9 406.9,246.0 407.0,247.8 407.1,246.0 407.2,247.0 407.3,246.6 407.4,239.6 407.5,243.1 407.6,242.5 407.7,240.5 407.8,247.3 407.9,248.0 408.0,241.9 408.1,245.4 408.2,246.8 408.3,246.0 408.4,244.8 408.5,242.3 408.6,240.6 408.7,243.6 408.8,241.3 408.9,240.5 409.0,241.1 409.1,246.9 409.2,247.1 409.3,241.6 409.4,241.3 409.5,243.9 409.6,246.0 409.7,241.9 409.8,243.4 409.9,239.4 410.0,241.7 410.1,247.0 410.2,242.3 410.3,243.7 410.4,245.4 410.5,246.0 410.6,240.9 410.7,241.2 410.8,242.3 410.9,240.2 411.0,243.2 411.1,246.9 411.2,242.5 411.3,240.6 411.4,240.5 411.5,245.9 411.6,238.1 411.7,244.4 411.8,247.2 411.9,245.1 412.0,240.2 412.1,241.7 412.2,247.6 412.3,242.6 412.4,243.6 412.5,248.1 412.6,239.9 412.7,238.6 412.8,240.9 412.9,244.3 413.0,244.8 413.1,243.9 413.2,248.3 413.3,244.3 413.4,245.8 413.5,244.9 413.6,243.9 413.7,242.5 413.8,244.4 413.9,240.8 414.0,244.4 414.1,241.7 414.2,248.8 414.3,245.1 414.4,246.9 414.5,244.9 414.6,243.2 414.7,246.1 414.8,245.4 414.9,243.4 415.0,243.2 415.1,246.3 415.2,243.2 415.3,245.9 415.4,246.8 415.5,247.5 415.6,244.2 415.7,242.7 415.8,247.8 415.9,247.1 416.0,248.0 416.1,247.5 416.2,247.0 416.3,245.1 416.4,243.2 416.5,247.5 416.6,247.3 416.7,242.0 416.8,247.9 416.9,243.6 417.0,248.6 417.1,243.9 417.2,244.4 417.3,247.2 417.4,240.1 417.5,244.1 417.6,242.3 417.7,243.2 417.8,241.7 417.9,241.8 418.0,245.8 418.1,242.2 418.2,240.9 418.3,242.3 418.4,244.5 418.5,245.5 418.6,246.5 418.7,241.4 418.8,247.1 418.9,239.6 419.0,244.0 419.1,246.4 419.2,244.8 419.3,244.3 419.4,237.1 419.5,238.6 419.6,247.1 419.7,242.7 419.8,245.9 419.9,247.0 420.0,243.7 420.1,246.3 420.2,245.3 420.3,237.7 420.4,242.2 420.5,241.5 420.6,246.6 420.7,240.4 420.8,238.9 420.9,241.9 421.0,243.7 421.1,247.4 421.2,238.9 421.3,247.2 421.4,237.5 421.5,248.0 421.6,241.6 421.7,245.4 421.8,238.3 421.9,241.0 422.0,242.3 422.1,246.1 422.2,245.6 422.3,246.7 422.4,244.2 422.5,242.2 422.6,246.8 422.7,242.9 422.8,239.1 422.9,245.2 423.0,244.5 423.1,247.2 423.2,243.4 423.3,247.7 423.4,246.3 423.5,244.2 423.6,240.9 423.7,244.3 423.8,242.7 423.9,247.5 424.0,248.0 424.1,244.0 424.2,242.3 424.3,244.3 424.4,245.4 424.5,245.9 424.6,246.0 424.7,242.8 424.8,243.8 424.9,243.1 425.0,247.6 425.1,244.2 425.2,245.0 425.3,246.8 425.4,244.5 425.5,248.1 425.6,246.6 425.7,246.0 425.8,247.9 425.9,244.8 426.0,247.8 426.1,247.8 426.2,247.4 426.3,246.8 426.4,245.6 426.5,246.5 426.6,247.6 426.7,248.7 426.8,248.2 426.9,247.6 427.0,247.8 427.1,245.9 427.2,248.3 427.3,247.9 427.4,246.9 427.5,248.9 427.6,247.8 427.7,248.6 427.8,248.2 427.9,248.4 428.0,247.5 428.1,249.5 428.2,249.5 428.3,247.3 428.4,248.5 428.5,248.3 428.6,248.1 428.7,248.4 428.8,249.2 428.9,248.6 429.0,248.4 429.1,249.6 429.2,249.7 429.3,248.8 429.4,248.4 429.5,248.3 429.6,248.4 429.7,248.6 429.8,249.9 429.9,250.1 430.0,249.3 430.1,250.0 430.2,249.8 430.3,249.5 430.4,250.1 430.5,249.1 430.6,249.0 430.7,249.2 430.8,249.3 430.9,249.1 431.0,250.1 431.1,249.5 431.2,250.4 431.3,249.8 431.4,249.3 431.5,249.8 431.6,249.6 431.7,249.4 431.8,250.2 431.9,249.9 432.0,249.5 432.1,249.3 432.2,250.0 432.3,249.4 432.4,249.6 432.5,250.1 432.6,249.1 432.7,249.1 432.8,250.0 432.9,248.9 433.0,249.0 433.1,250.2 433.2,249.6 433.3,249.6 433.4,250.1 433.5,249.2 433.6,249.3 433.7,250.0 433.8,250.1 433.9,249.9 434.0,249.6 434.1,250.4 434.2,250.3 434.3,249.5 434.4,250.0 434.5,250.3 434.6,250.5 434.7,250.2 434.8,249.3 434.9,249.7 435.0,249.3 435.1,249.5 435.2,250.2 435.3,250.0 435.4,250.3 435.5,249.9 435.6,249.0 435.7,249.4 435.8,250.4 435.9,249.3 436.0,249.7 436.1,250.1 436.2,249.4 436.3,249.4 436.4,250.0 436.5,250.1 436.6,249.6 436.7,249.7 436.8,249.7 436.9,249.8 437.0,249.3 437.1,249.9 437.2,249.7 437.3,249.3 437.4,249.2 437.5,250.4 437.6,249.8 437.7,249.6 437.8,250.0 437.9,250.3 438.0,250.3 438.1,250.3 438.2,250.4 438.3,249.9 438.4,249.5 438.5,249.9 438.6,250.1 438.7,250.2 438.8,249.8 438.9,250.2 439.0,250.5 439.1,249.4 439.2,249.7 439.3,249.9 439.4,249.8 439.5,249.8 439.6,249.9 439.7,249.6 439.8,250.0 439.9,249.2 440.0,250.5 440.1,249.1 440.2,249.8 440.3,250.2 440.4,249.9 440.5,249.0 440.6,249.3 440.7,250.1 440.8,250.0 440.9,250.0 441.0,249.4 441.1,249.6 441.2,249.7 441.3,250.2 441.4,249.6 441.5,249.6 441.6,249.1 441.7,250.3 441.8,248.9 441.9,250.5 442.0,250.0 442.1,250.5 442.2,250.5 442.3,249.6 442.4,249.8 442.5,250.1 442.6,249.5 442.7,250.4 442.8,249.1 442.9,250.1 443.0,249.0 443.1,250.0 443.2,249.0 443.3,250.2 443.4,249.6 443.5,250.3 443.6,250.0 443.7,250.6 443.8,250.0 443.9,249.8 444.0,250.3 444.1,250.4 444.2,250.2 444.3,249.7 444.4,249.6 444.5,249.7 444.6,249.2 444.7,250.0 444.8,249.8 444.9,250.0 445.0,250.5 445.1,249.5 445.2,249.4 445.3,249.1 445.4,250.5 445.5,249.2 445.6,250.1 445.7,248.9 445.8,249.4 445.9,249.3 446.0,249.6 446.1,249.1"/>
<rect x="263.9" y="159.1" width="186.48" height="95.17" fill="none" stroke="#000" stroke-width="1.65"/>
<path d="M270.56 253.97v2.6M287.21 253.97v1.6M303.86 253.97v2.6M320.51 253.97v1.6M337.16 253.97v2.6M353.81 253.97v1.6M370.46 253.97v2.6M387.11 253.97v1.6M403.76 253.97v2.6M420.41 253.97v1.6M437.06 253.97v2.6M263.9 249.85h-2.7M263.9 241.6h-1.6M263.9 233.35h-2.7M263.9 225.1h-1.6M263.9 216.85h-2.7M263.9 208.6h-1.6M263.9 200.35h-2.7M263.9 192.1h-1.6M263.9 183.85h-2.7M263.9 175.6h-1.6M263.9 167.35h-2.7" stroke="#000" stroke-width="1.1" fill="none"/>
<text x="270.56" y="266.87" font-size="8.3" text-anchor="middle" font-weight="normal" fill="#000" stroke="#000" stroke-width="0.1" >450</text>
<text x="303.86" y="266.87" font-size="8.3" text-anchor="middle" font-weight="normal" fill="#000" stroke="#000" stroke-width="0.1" >500</text>
<text x="337.16" y="266.87" font-size="8.3" text-anchor="middle" font-weight="normal" fill="#000" stroke="#000" stroke-width="0.1" >550</text>
<text x="370.46" y="266.87" font-size="8.3" text-anchor="middle" font-weight="normal" fill="#000" stroke="#000" stroke-width="0.1" >600</text>
<text x="403.76" y="266.87" font-size="8.3" text-anchor="middle" font-weight="normal" fill="#000" stroke="#000" stroke-width="0.1" >650</text>
<text x="437.06" y="266.87" font-size="8.3" text-anchor="middle" font-weight="normal" fill="#000" stroke="#000" stroke-width="0.1" >700</text>
<text x="257.1" y="253.05" font-size="8.3" text-anchor="end" font-weight="normal" fill="#000" stroke="#000" stroke-width="0.1" >0.0</text>
<text x="257.1" y="236.55" font-size="8.3" text-anchor="end" font-weight="normal" fill="#000" stroke="#000" stroke-width="0.1" >0.2</text>
<text x="257.1" y="220.05" font-size="8.3" text-anchor="end" font-weight="normal" fill="#000" stroke="#000" stroke-width="0.1" >0.4</text>
<text x="257.1" y="203.55" font-size="8.3" text-anchor="end" font-weight="normal" fill="#000" stroke="#000" stroke-width="0.1" >0.6</text>
<text x="257.1" y="187.05" font-size="8.3" text-anchor="end" font-weight="normal" fill="#000" stroke="#000" stroke-width="0.1" >0.8</text>
<text x="257.1" y="170.55" font-size="8.3" text-anchor="end" font-weight="normal" fill="#000" stroke="#000" stroke-width="0.1" >1.0</text>
<text x="357.14" y="280.87" font-size="8.3" text-anchor="middle" font-weight="normal" fill="#000" stroke="#000" stroke-width="0.1" >Wavelength (nm)</text>
<text transform="translate(237.1,206.54) rotate(-90)" x="0" y="0" font-size="8.3" text-anchor="middle" fill="#000" stroke="#000" stroke-width="0.05">Normalized intensity (a.u.)</text>
<text x="415.5" y="171.1" font-size="7" text-anchor="start" font-weight="normal" fill="#000" stroke="#000" stroke-width="0.1" >980 nm</text>
<polyline fill="none" stroke="url(#wl6)" stroke-width="0.75" stroke-linejoin="round" points="44.6,389.3 44.7,389.8 44.8,390.4 44.9,389.3 45.0,389.7 45.1,390.2 45.2,389.5 45.3,389.2 45.4,390.3 45.5,390.4 45.6,389.1 45.7,389.3 45.8,390.3 45.9,389.4 46.0,388.9 46.1,390.4 46.2,388.9 46.3,390.0 46.4,389.8 46.5,389.1 46.6,389.5 46.7,389.8 46.8,390.0 46.9,389.5 47.0,389.2 47.1,389.2 47.2,389.4 47.3,389.9 47.4,389.4 47.5,389.9 47.6,389.8 47.7,389.1 47.8,389.1 47.9,389.0 48.0,389.8 48.1,390.3 48.2,389.1 48.3,388.9 48.4,389.7 48.5,390.3 48.6,389.1 48.7,389.6 48.8,389.6 48.9,389.8 49.0,390.2 49.1,389.7 49.2,390.3 49.3,390.4 49.4,389.9 49.5,388.9 49.6,390.0 49.7,389.9 49.8,388.9 49.9,389.3 50.0,389.0 50.1,388.9 50.2,389.9 50.3,389.1 50.4,389.3 50.5,390.1 50.5,389.5 50.6,389.9 50.7,389.3 50.8,389.2 50.9,390.2 51.0,390.0 51.1,390.2 51.2,390.3 51.3,390.1 51.4,388.8 51.5,390.0 51.6,388.8 51.7,390.1 51.8,389.3 51.9,388.7 52.0,389.7 52.1,388.5 52.2,388.3 52.3,388.7 52.4,386.8 52.5,386.9 52.6,387.5 52.7,388.5 52.8,388.0 52.9,388.3 53.0,389.1 53.1,382.0 53.2,381.1 53.3,380.6 53.4,385.9 53.5,384.4 53.6,383.4 53.7,381.6 53.8,373.3 53.9,376.6 54.0,367.0 54.1,385.6 54.2,362.4 54.3,363.5 54.4,378.9 54.5,387.4 54.6,353.9 54.7,386.0 54.8,386.4 54.9,381.7 55.0,377.4 55.1,375.6 55.2,338.3 55.3,343.4 55.4,373.4 55.5,322.6 55.6,316.3 55.7,335.3 55.8,309.6 55.9,356.7 56.0,378.0 56.1,340.0 56.2,332.4 56.3,386.5 56.4,368.6 56.5,387.2 56.6,386.8 56.7,354.7 56.8,376.4 56.9,369.1 57.0,387.7 57.1,357.9 57.2,377.2 57.3,370.3 57.4,366.2 57.5,372.3 57.6,380.4 57.7,374.4 57.8,377.3 57.9,377.4 58.0,375.2 58.1,388.0 58.2,385.7 58.3,380.5 58.4,381.0 58.5,383.5 58.6,383.7 58.7,387.3 58.8,384.9 58.9,387.7 59.0,387.1 59.1,388.1 59.2,388.0 59.3,387.4 59.4,388.0 59.5,389.5 59.6,389.3 59.7,388.6 59.8,389.7 59.9,389.2 60.0,388.8 60.1,389.3 60.2,389.1 60.3,389.8 60.4,389.1 60.5,388.9 60.6,388.9 60.7,389.8 60.8,389.8 60.9,389.6 61.0,389.7 61.1,390.4 61.2,390.0 61.3,389.7 61.4,389.1 61.5,390.1 61.6,389.9 61.7,390.1 61.8,389.0 61.9,390.5 62.0,389.6 62.1,389.0 62.2,389.8 62.3,390.2 62.4,389.6 62.5,389.1 62.6,389.5 62.7,389.1 62.8,389.8 62.9,389.2 63.0,389.0 63.1,389.5 63.2,388.9 63.3,388.9 63.4,389.7 63.5,389.0 63.6,390.2 63.7,389.5 63.8,389.2 63.9,389.7 64.0,389.4 64.1,389.4 64.2,389.6 64.3,389.9 64.4,390.2 64.5,390.3 64.6,389.7 64.7,389.0 64.8,390.1 64.9,389.8 65.0,390.0 65.1,389.6 65.2,389.0 65.3,390.0 65.4,389.8 65.5,390.1 65.6,390.2 65.7,389.0 65.8,389.6 65.9,390.1 66.0,389.0 66.1,390.4 66.2,389.7 66.3,389.1 66.4,389.2 66.5,389.9 66.6,390.2 66.7,389.7 66.8,389.7 66.9,389.4 67.0,388.9 67.1,388.9 67.2,390.3 67.3,390.5 67.4,388.9 67.5,389.5 67.6,389.2 67.7,390.1 67.8,389.4 67.9,389.1 68.0,390.4 68.1,389.0 68.2,389.0 68.3,390.3 68.4,389.2 68.5,390.2 68.6,389.0 68.7,389.2 68.8,389.4 68.9,389.6 69.0,390.0 69.1,389.6 69.2,389.5 69.3,390.3 69.4,389.4 69.5,389.6 69.6,390.4 69.7,390.2 69.8,389.6 69.9,389.7 70.0,388.9 70.1,389.9 70.2,389.9 70.3,390.4 70.4,390.5 70.5,389.0 70.6,389.9 70.7,389.7 70.8,389.4 70.9,390.2 71.0,389.4 71.1,389.5 71.2,390.3 71.3,389.8 71.4,390.4 71.5,389.9 71.6,389.4 71.7,389.8 71.8,389.7 71.9,390.1 72.0,389.4 72.1,389.0 72.2,389.1 72.3,389.8 72.4,388.9 72.5,389.7 72.6,390.4 72.7,389.2 72.8,389.8 72.9,390.1 73.0,389.6 73.1,390.5 73.2,390.0 73.3,389.6 73.4,390.4 73.5,389.2 73.6,389.9 73.7,389.9 73.8,390.1 73.9,389.9 74.0,389.5 74.1,390.2 74.2,388.9 74.3,389.6 74.4,390.3 74.5,389.7 74.6,390.1 74.7,389.9 74.8,389.2 74.9,388.9 75.0,388.9 75.1,389.9 75.2,389.5 75.3,389.3 75.4,390.2 75.5,389.1 75.6,390.3 75.7,389.5 75.8,390.4 75.9,389.5 76.0,388.9 76.1,390.0 76.2,389.9 76.3,389.7 76.4,390.3 76.5,389.0 76.6,389.0 76.7,388.9 76.8,390.1 76.9,390.2 77.0,389.6 77.1,389.1 77.2,390.3 77.3,390.3 77.4,388.9 77.5,390.0 77.6,389.4 77.7,389.3 77.8,389.7 77.9,389.5 78.0,390.3 78.1,390.1 78.2,389.7 78.3,389.8 78.4,389.1 78.5,389.9 78.6,390.0 78.7,389.8 78.8,389.0 78.9,390.0 79.0,390.3 79.1,390.0 79.2,390.0 79.3,390.5 79.4,389.6 79.5,389.3 79.6,390.0 79.7,390.0 79.8,390.0 79.9,390.1 80.0,389.9 80.1,389.2 80.2,388.9 80.3,390.4 80.4,390.3 80.5,389.7 80.6,389.8 80.7,389.5 80.8,390.4 80.9,390.4 81.0,389.5 81.1,390.2 81.2,389.3 81.3,389.4 81.4,390.2 81.5,389.3 81.6,389.6 81.7,389.2 81.8,389.1 81.9,390.4 82.0,390.1 82.1,389.9 82.2,389.6 82.3,389.4 82.4,389.7 82.5,389.9 82.6,389.8 82.7,388.9 82.8,389.8 82.9,389.5 83.0,390.2 83.1,389.3 83.2,390.2 83.3,389.0 83.4,389.2 83.5,388.9 83.6,389.4 83.7,390.3 83.8,388.9 83.9,389.7 84.0,390.0 84.1,389.7 84.2,389.5 84.3,389.3 84.4,389.4 84.5,390.2 84.6,389.5 84.7,389.5 84.8,389.5 84.9,389.6 85.0,389.8 85.1,389.8 85.2,389.0 85.3,389.5 85.4,390.3 85.5,389.1 85.6,389.5 85.7,389.8 85.8,389.6 85.9,389.5 86.0,389.5 86.1,388.5 86.2,388.9 86.3,388.5 86.4,388.6 86.5,388.8 86.6,389.6 86.7,389.4 86.8,389.4 86.9,389.4 87.0,388.5 87.1,388.6 87.2,389.6 87.3,388.4 87.4,389.2 87.5,388.1 87.6,388.7 87.7,388.1 87.8,389.0 87.9,388.8 88.0,387.9 88.1,387.2 88.2,387.2 88.3,386.4 88.4,386.7 88.5,386.2 88.6,387.5 88.7,386.1 88.8,385.1 88.9,385.7 89.0,384.1 89.1,384.3 89.2,383.7 89.3,385.0 89.4,382.3 89.5,383.4 89.6,382.3 89.7,382.7 89.8,383.9 89.9,381.8 90.0,380.6 90.1,380.9 90.2,381.4 90.3,382.7 90.4,382.2 90.5,383.4 90.6,382.0 90.7,383.4 90.8,384.3 90.9,383.5 91.0,383.3 91.1,384.5 91.2,385.7 91.3,385.6 91.4,384.7 91.5,385.8 91.6,386.3 91.7,385.6 91.8,384.7 91.9,386.3 92.0,385.8 92.1,385.4 92.2,386.8 92.3,387.2 92.4,386.6 92.5,386.7 92.6,386.9 92.7,386.3 92.8,387.7 92.9,386.8 93.0,386.8 93.1,387.2 93.2,388.4 93.3,387.3 93.4,387.7 93.5,387.0 93.6,388.0 93.7,388.1 93.8,388.2 93.9,387.6 94.0,387.3 94.1,387.3 94.2,387.2 94.3,386.5 94.4,387.2 94.5,387.2 94.6,386.4 94.7,387.8 94.8,387.2 94.9,387.0 95.0,386.5 95.1,387.4 95.2,386.5 95.3,386.4 95.4,386.3 95.5,385.6 95.6,386.4 95.7,386.7 95.8,386.3 95.9,384.5 96.0,385.9 96.1,385.7 96.2,385.8 96.3,386.6 96.4,384.4 96.5,384.7 96.6,385.7 96.7,385.9 96.8,385.2 96.9,385.2 97.0,386.8 97.1,385.7 97.2,384.3 97.3,386.4 97.4,385.2 97.5,386.0 97.6,385.2 97.7,386.3 97.8,385.6 97.9,386.8 98.0,385.4 98.1,385.7 98.2,387.5 98.3,386.4 98.4,386.5 98.5,385.5 98.6,387.8 98.7,387.2 98.8,387.2 98.9,388.0 99.0,387.2 99.1,387.9 99.2,387.2 99.3,389.1 99.4,388.4 99.5,389.1 99.6,389.4 99.7,388.7 99.8,388.4 99.9,388.5 100.0,389.0 100.1,389.5 100.2,388.9 100.3,388.9 100.4,388.9 100.5,390.2 100.6,390.0 100.7,389.3 100.8,389.0 100.9,389.3 101.0,389.0 101.1,389.4 101.2,389.8 101.3,389.1 101.4,389.5 101.5,389.2 101.6,389.3 101.7,389.6 101.8,390.4 101.9,389.1 102.0,389.6 102.1,389.0 102.2,388.8 102.3,390.0 102.4,389.5 102.5,389.0 102.6,389.3 102.7,389.4 102.8,388.0 102.9,389.5 103.0,388.1 103.1,387.4 103.2,387.5 103.3,387.6 103.4,387.1 103.5,386.6 103.6,386.7 103.7,383.2 103.8,384.4 103.9,386.4 104.0,386.3 104.1,384.2 104.2,381.4 104.3,385.5 104.4,380.0 104.5,380.8 104.6,380.2 104.7,383.8 104.8,384.8 104.9,378.2 105.0,382.7 105.1,382.5 105.2,383.2 105.3,381.8 105.4,379.7 105.5,384.0 105.6,380.6 105.7,378.5 105.8,376.4 105.9,379.2 106.0,377.0 106.1,374.8 106.2,377.1 106.3,372.6 106.4,383.3 106.5,382.6 106.6,374.6 106.7,375.2 106.8,380.5 106.9,375.7 107.0,382.4 107.1,382.6 107.2,379.2 107.3,372.0 107.4,380.3 107.5,379.9 107.6,382.4 107.7,381.4 107.8,378.6 107.9,379.9 108.0,381.5 108.1,382.3 108.2,383.5 108.3,384.7 108.4,380.3 108.5,381.4 108.6,379.6 108.7,379.6 108.8,375.0 108.9,378.7 109.0,384.4 109.1,381.3 109.2,383.3 109.3,374.8 109.4,380.5 109.5,385.7 109.6,382.4 109.7,381.9 109.8,384.9 109.9,380.2 110.0,376.7 110.1,384.1 110.2,377.0 110.3,378.5 110.4,383.7 110.5,380.4 110.6,384.6 110.7,384.2 110.8,378.0 110.9,385.4 111.0,380.4 111.1,381.0 111.2,383.5 111.3,383.1 111.4,381.7 111.5,376.4 111.6,375.4 111.7,377.4 111.8,374.7 111.9,376.3 112.0,375.4 112.1,375.9 112.2,374.7 112.3,372.1 112.4,381.7 112.5,383.0 112.6,382.0 112.7,373.3 112.8,375.2 112.9,376.5 113.0,370.6 113.1,382.7 113.2,378.1 113.3,382.5 113.4,384.7 113.5,385.3 113.6,384.3 113.7,377.6 113.8,375.5 113.9,383.2 114.0,381.2 114.1,381.5 114.2,379.7 114.3,381.7 114.4,380.9 114.5,380.1 114.6,379.6 114.7,380.9 114.8,385.3 114.9,386.1 115.0,382.7 115.1,384.2 115.2,382.2 115.3,385.5 115.4,381.7 115.5,383.2 115.6,384.4 115.7,385.3 115.8,384.1 115.9,386.6 116.0,386.1 116.1,386.8 116.2,387.4 116.3,386.6 116.4,386.7 116.5,386.9 116.6,386.2 116.7,386.5 116.8,387.6 116.9,387.6 117.0,387.2 117.1,388.9 117.2,387.4 117.3,387.7 117.4,387.7 117.5,389.3 117.6,389.4 117.7,388.2 117.8,388.6 117.9,388.2 118.0,388.5 118.1,389.7 118.2,389.7 118.3,389.4 118.4,389.2 118.5,389.3 118.6,389.4 118.7,389.2 118.8,389.4 118.9,388.8 119.0,389.8 119.1,390.0 119.2,389.3 119.3,390.2 119.4,389.5 119.5,389.1 119.6,389.7 119.7,390.5 119.8,390.0 119.9,389.2 120.0,388.8 120.1,389.0 120.2,389.5 120.3,390.2 120.4,389.1 120.5,389.5 120.6,390.2 120.7,389.2 120.8,389.6 120.9,390.4 121.0,389.1 121.1,389.7 121.2,390.4 121.3,390.2 121.4,389.7 121.5,389.1 121.6,390.1 121.7,389.4 121.8,389.8 121.9,388.9 122.0,390.4 122.1,389.5 122.2,389.7 122.3,390.2 122.4,388.9 122.5,390.0 122.6,389.1 122.7,389.1 122.8,389.3 122.9,389.8 123.0,389.9 123.1,389.7 123.2,389.1 123.3,389.2 123.4,390.0 123.5,390.4 123.6,388.9 123.7,389.7 123.8,389.3 123.9,389.0 124.0,389.9 124.1,390.2 124.2,390.0 124.3,390.1 124.4,390.5 124.5,389.1 124.6,389.5 124.7,389.5 124.8,389.8 124.9,390.0 125.0,389.4 125.1,389.4 125.2,389.9 125.3,389.5 125.4,389.6 125.5,390.0 125.6,390.1 125.7,390.3 125.8,389.6 125.9,390.4 126.0,389.9 126.1,389.5 126.2,390.0 126.3,389.3 126.4,389.3 126.5,390.3 126.6,389.4 126.7,389.9 126.8,389.0 126.9,389.9 127.0,389.6 127.1,389.5 127.2,390.2 127.3,390.2 127.4,390.4 127.5,390.1 127.6,388.9 127.7,389.4 127.8,390.1 127.9,389.5 128.0,389.5 128.1,390.3 128.2,389.4 128.3,389.3 128.4,390.0 128.5,389.5 128.6,389.0 128.7,390.2 128.8,389.5 128.9,390.4 129.0,390.3 129.1,390.3 129.2,389.1 129.3,390.4 129.4,390.1 129.5,389.8 129.6,389.4 129.7,389.1 129.8,389.9 129.9,390.4 130.0,389.5 130.1,390.2 130.2,389.3 130.3,389.8 130.4,389.5 130.5,390.4 130.6,389.0 130.7,390.0 130.8,389.0 130.9,389.5 131.0,389.8 131.1,389.1 131.2,389.6 131.3,390.2 131.4,389.4 131.5,389.5 131.6,389.8 131.7,390.3 131.8,389.3 131.9,389.3 132.0,389.9 132.1,389.5 132.2,388.9 132.3,389.9 132.4,389.2 132.5,389.1 132.6,389.0 132.7,390.1 132.8,390.4 132.9,389.2 133.0,389.2 133.1,389.9 133.2,390.0 133.3,389.6 133.4,389.5 133.5,389.7 133.6,389.3 133.7,389.8 133.8,389.3 133.9,389.4 134.0,389.1 134.1,389.5 134.2,390.3 134.3,390.1 134.4,390.0 134.5,389.4 134.6,389.7 134.7,390.0 134.8,389.3 134.9,390.1 135.0,389.8 135.1,389.2 135.2,388.9 135.3,390.5 135.4,389.7 135.5,390.3 135.6,389.5 135.7,389.2 135.8,389.3 135.9,389.2 136.0,389.4 136.1,389.4 136.2,389.0 136.3,390.0 136.4,389.2 136.5,389.1 136.6,390.1 136.7,389.6 136.8,389.3 136.9,390.2 137.0,390.0 137.1,390.1 137.2,389.9 137.3,390.4 137.4,389.5 137.5,389.5 137.6,389.4 137.7,390.0 137.8,390.4 137.9,389.1 138.0,390.0 138.1,389.9 138.2,389.3 138.3,389.4 138.4,389.5 138.5,389.0 138.6,389.8 138.7,390.4 138.8,390.0 138.9,390.3 139.0,389.1 139.1,389.4 139.2,389.0 139.3,389.0 139.4,389.0 139.5,389.4 139.6,388.9 139.7,389.5 139.8,389.4 139.9,389.2 140.0,389.5 140.1,390.1 140.2,389.3 140.3,390.0 140.4,390.0 140.5,388.9 140.6,389.1 140.7,390.1 140.8,390.3 140.9,389.3 141.0,389.8 141.1,388.9 141.2,389.6 141.3,389.3 141.4,389.6 141.5,390.1 141.6,389.9 141.7,390.3 141.8,389.6 141.9,389.2 142.0,389.6 142.1,389.1 142.2,389.5 142.3,389.9 142.4,388.9 142.5,389.6 142.6,389.1 142.7,390.5 142.8,389.5 142.9,390.5 143.0,390.3 143.1,388.9 143.2,389.5 143.3,388.9 143.4,389.2 143.5,389.6 143.6,389.5 143.7,389.4 143.8,389.6 143.9,388.9 144.0,389.2 144.1,389.5 144.2,390.1 144.3,389.7 144.4,390.1 144.5,388.9 144.6,390.2 144.7,389.4 144.8,388.9 144.9,389.5 145.0,390.4 145.1,390.4 145.2,389.4 145.3,389.9 145.4,389.0 145.5,389.6 145.6,390.5 145.7,389.7 145.8,389.3 145.9,390.5 146.0,389.3 146.1,389.1 146.2,389.6 146.3,389.6 146.4,389.9 146.5,389.1 146.6,390.4 146.7,389.7 146.8,389.5 146.9,388.9 147.0,390.0 147.1,389.4 147.2,390.1 147.3,389.5 147.4,390.4 147.5,390.2 147.6,390.3 147.7,389.6 147.8,390.0 147.9,389.1 148.0,390.2 148.1,389.3 148.2,389.4 148.3,389.4 148.4,390.3 148.5,389.9 148.6,389.1 148.7,389.4 148.8,390.0 148.9,389.5 149.0,389.7 149.1,389.6 149.2,388.9 149.3,390.0 149.4,389.8 149.5,388.9 149.6,390.0 149.7,389.0 149.8,389.9 149.9,388.9 150.0,390.5 150.1,390.3 150.2,389.3 150.3,389.2 150.4,388.9 150.4,389.9 150.5,389.6 150.6,389.0 150.7,390.3 150.8,390.3 150.9,389.3 151.0,388.9 151.1,389.6 151.2,389.6 151.3,390.2 151.4,390.2 151.5,390.2 151.6,389.7 151.7,389.8 151.8,389.0 151.9,389.0 152.0,389.9 152.1,389.0 152.2,390.3 152.3,390.2 152.4,389.2 152.5,390.1 152.6,390.3 152.7,389.6 152.8,389.2 152.9,390.5 153.0,388.9 153.1,389.2 153.2,390.2 153.3,390.2 153.4,389.0 153.5,389.6 153.6,389.1 153.7,389.6 153.8,390.1 153.9,389.7 154.0,389.2 154.1,389.3 154.2,390.3 154.3,390.4 154.4,389.6 154.5,390.1 154.6,389.7 154.7,389.0 154.8,389.8 154.9,389.6 155.0,390.0 155.1,390.2 155.2,389.3 155.3,389.6 155.4,389.2 155.5,389.8 155.6,389.1 155.7,390.2 155.8,388.9 155.9,389.3 156.0,390.1 156.1,390.2 156.2,389.4 156.3,389.1 156.4,389.7 156.5,389.0 156.6,389.3 156.7,389.2 156.8,389.4 156.9,389.7 157.0,390.2 157.1,390.0 157.2,390.2 157.3,389.2 157.4,389.1 157.5,389.1 157.6,389.5 157.7,390.0 157.8,390.0 157.9,388.9 158.0,390.2 158.1,389.3 158.2,389.6 158.3,390.1 158.4,389.9 158.5,389.9 158.6,389.8 158.7,389.7 158.8,390.4 158.9,389.8 159.0,390.2 159.1,388.9 159.2,390.0 159.3,389.1 159.4,389.0 159.5,389.6 159.6,389.9 159.7,389.7 159.8,390.5 159.9,389.9 160.0,390.4 160.1,389.0 160.2,389.8 160.3,390.0 160.4,389.8 160.5,389.0 160.6,389.9 160.7,389.5 160.8,390.0 160.9,390.3 161.0,390.2 161.1,390.1 161.2,389.3 161.3,390.0 161.4,389.8 161.5,389.5 161.6,390.0 161.7,389.2 161.8,389.6 161.9,389.6 162.0,390.4 162.1,390.2 162.2,389.9 162.3,390.1 162.4,389.8 162.5,389.1 162.6,389.5 162.7,389.6 162.8,390.3 162.9,389.4 163.0,389.5 163.1,389.5 163.2,390.3 163.3,389.6 163.4,389.4 163.5,390.4 163.6,389.5 163.7,389.7 163.8,389.9 163.9,388.9 164.0,389.7 164.1,389.8 164.2,389.1 164.3,390.1 164.4,390.4 164.5,389.1 164.6,389.2 164.7,389.6 164.8,388.9 164.9,389.5 165.0,389.6 165.1,390.2 165.2,390.4 165.3,390.2 165.4,390.1 165.5,389.5 165.6,390.0 165.7,390.2 165.8,389.3 165.9,388.9 166.0,389.6 166.1,390.3 166.2,390.0 166.3,390.4 166.4,388.8 166.5,389.9 166.6,389.3 166.7,389.2 166.8,389.1 166.9,390.0 167.0,389.9 167.1,389.6 167.2,390.3 167.3,389.5 167.4,390.1 167.5,389.3 167.6,389.4 167.7,389.1 167.8,390.0 167.9,389.9 168.0,389.6 168.1,388.8 168.2,390.0 168.3,389.6 168.4,389.3 168.5,389.9 168.6,388.5 168.7,390.1 168.8,389.2 168.9,388.8 169.0,389.1 169.1,389.6 169.2,388.8 169.3,389.3 169.4,389.5 169.5,388.7 169.6,387.8 169.7,388.7 169.8,388.3 169.9,389.6 170.0,388.7 170.1,388.7 170.2,390.2 170.3,388.9 170.4,388.3 170.5,389.2 170.6,387.2 170.7,388.8 170.8,388.8 170.9,388.4 171.0,388.0 171.1,388.0 171.2,388.4 171.3,387.7 171.4,389.2 171.5,388.6 171.6,388.4 171.7,387.6 171.8,387.2 171.9,387.9 172.0,386.5 172.1,387.8 172.2,389.3 172.3,388.6 172.4,386.2 172.5,387.3 172.6,386.7 172.7,386.8 172.8,388.8 172.9,387.1 173.0,387.3 173.1,385.9 173.2,388.1 173.3,386.8 173.4,387.7 173.5,388.7 173.6,386.6 173.7,387.8 173.8,387.4 173.9,387.6 174.0,387.9 174.1,387.7 174.2,385.7 174.3,386.2 174.4,388.7 174.5,388.1 174.6,385.9 174.7,383.6 174.8,387.9 174.9,388.1 175.0,385.2 175.1,387.7 175.2,384.5 175.3,384.7 175.4,387.1 175.5,384.3 175.6,385.3 175.7,385.9 175.8,385.3 175.9,387.8 176.0,384.7 176.1,388.0 176.2,384.3 176.3,386.0 176.4,387.0 176.5,386.0 176.6,386.6 176.7,386.5 176.8,387.8 176.9,385.6 177.0,382.4 177.1,382.5 177.2,388.3 177.3,388.3 177.4,386.0 177.5,385.3 177.6,388.5 177.7,382.1 177.8,382.7 177.9,383.7 178.0,385.5 178.1,387.8 178.2,388.1 178.3,383.2 178.4,386.5 178.5,381.8 178.6,383.3 178.7,386.1 178.8,386.0 178.9,385.8 179.0,388.6 179.1,379.2 179.2,384.3 179.3,380.3 179.4,385.7 179.5,381.5 179.6,383.9 179.7,385.2 179.8,381.4 179.9,384.2 180.0,387.6 180.1,386.0 180.2,383.3 180.3,383.3 180.4,385.8 180.5,383.5 180.6,387.4 180.7,387.8 180.8,380.6 180.9,380.6 181.0,385.1 181.1,387.4 181.2,384.4 181.3,385.7 181.4,385.5 181.5,385.4 181.6,384.0 181.7,383.1 181.8,384.6 181.9,387.8 182.0,386.5 182.1,387.1 182.2,387.6 182.3,386.2 182.4,385.1 182.5,388.3 182.6,386.2 182.7,383.8 182.8,384.8 182.9,385.7 183.0,387.5 183.1,388.0 183.2,387.9 183.3,385.1 183.4,383.0 183.5,386.1 183.6,387.3 183.7,387.5 183.8,386.6 183.9,383.2 184.0,388.5 184.1,383.8 184.2,384.0 184.3,387.7 184.4,387.0 184.5,386.6 184.6,384.0 184.7,385.3 184.8,388.5 184.9,388.1 185.0,385.1 185.1,385.6 185.2,384.8 185.3,386.9 185.4,383.2 185.5,383.7 185.6,386.8 185.7,383.7 185.8,387.7 185.9,386.1 186.0,384.9 186.1,383.8 186.2,383.5 186.3,388.0 186.4,386.9 186.5,384.7 186.6,389.0 186.7,384.4 186.8,386.2 186.9,385.6 187.0,384.5 187.1,384.9 187.2,384.3 187.3,386.9 187.4,382.4 187.5,388.0 187.6,387.8 187.7,382.5 187.8,383.8 187.9,383.9 188.0,384.7 188.1,385.1 188.2,385.7 188.3,386.2 188.4,385.2 188.5,381.2 188.6,380.2 188.7,387.0 188.8,386.8 188.9,386.7 189.0,381.7 189.1,386.3 189.2,382.9 189.3,384.9 189.4,381.0 189.5,386.4 189.6,381.3 189.7,387.0 189.8,383.0 189.9,386.8 190.0,387.5 190.1,386.9 190.2,381.7 190.3,383.4 190.4,382.3 190.5,383.4 190.6,380.3 190.7,380.9 190.8,387.7 190.9,386.3 191.0,382.6 191.1,385.9 191.2,381.9 191.3,385.8 191.4,387.5 191.5,383.0 191.6,385.3 191.7,382.8 191.8,381.9 191.9,386.2 192.0,384.9 192.1,387.6 192.2,388.5 192.3,385.6 192.4,385.2 192.5,382.1 192.6,386.2 192.7,384.2 192.8,382.2 192.9,387.5 193.0,386.1 193.1,385.7 193.2,385.1 193.3,387.9 193.4,388.1 193.5,384.5 193.6,382.7 193.7,386.7 193.8,385.5 193.9,388.0 194.0,384.7 194.1,387.7 194.2,387.5 194.3,384.8 194.4,386.9 194.5,383.2 194.6,387.4 194.7,384.9 194.8,388.5 194.9,388.0 195.0,384.2 195.1,387.3 195.2,385.2 195.3,385.9 195.4,386.1 195.5,389.3 195.6,388.1 195.7,389.0 195.8,388.2 195.9,386.1 196.0,386.5 196.1,386.9 196.2,385.7 196.3,389.3 196.4,386.8 196.5,386.2 196.6,385.7 196.7,389.2 196.8,386.9 196.9,388.5 197.0,389.8 197.1,388.1 197.2,388.3 197.3,389.7 197.4,387.8 197.5,388.7 197.6,386.4 197.7,387.3 197.8,388.6 197.9,388.1 198.0,389.3 198.1,388.5 198.2,389.6 198.3,388.6 198.4,389.0 198.5,387.8 198.6,389.4 198.7,389.1 198.8,387.6 198.9,389.0 199.0,388.7 199.1,389.3 199.2,389.1 199.3,389.6 199.4,389.3 199.5,389.0 199.6,389.5 199.7,389.3 199.8,388.8 199.9,388.9 200.0,389.2 200.1,389.6 200.2,389.5 200.3,390.2 200.4,390.1 200.5,389.0 200.6,389.9 200.7,389.1 200.8,389.8 200.9,388.9 201.0,388.9 201.1,388.9 201.2,389.2 201.3,388.9 201.4,390.3 201.5,390.3 201.6,389.1 201.7,389.1 201.8,390.2 201.9,390.4 202.0,389.8 202.1,389.8 202.2,388.9 202.3,389.8 202.4,390.4 202.5,390.2 202.6,390.2 202.7,390.2 202.8,389.9 202.9,389.2 203.0,390.4 203.1,389.8 203.2,388.8 203.3,389.3 203.4,390.2 203.5,389.7 203.6,389.6 203.7,389.6 203.8,390.4 203.9,389.8 204.0,389.7 204.1,390.1 204.2,389.1 204.3,389.7 204.4,389.6 204.5,389.6 204.6,389.4 204.7,390.0 204.8,389.1 204.9,390.0 205.0,390.0 205.1,390.2 205.2,389.2 205.3,389.7 205.4,390.1 205.5,390.2 205.6,389.1 205.7,390.3 205.8,390.4 205.9,389.1 206.0,390.2 206.1,390.1 206.2,390.1 206.3,390.3 206.4,390.2 206.5,389.1 206.6,388.9 206.7,389.2 206.8,389.4 206.9,389.8 207.0,390.2 207.1,389.0 207.2,389.0 207.3,389.1 207.4,389.0 207.5,390.1 207.6,389.1 207.7,389.6 207.8,390.5 207.9,389.8 208.0,389.0 208.1,390.2 208.2,389.9 208.3,390.3 208.4,389.4 208.5,389.8 208.6,389.1 208.7,390.4 208.8,389.1 208.9,389.4 209.0,389.2 209.1,390.2 209.2,388.9 209.3,390.5 209.4,389.7 209.5,389.5 209.6,389.5 209.7,390.1 209.8,389.5 209.9,389.1 210.0,389.0 210.1,390.3 210.2,389.6 210.3,389.1 210.4,390.0 210.5,388.9 210.6,389.8 210.7,389.5 210.8,390.2 210.9,390.5 211.0,389.4 211.1,389.9 211.2,389.8 211.3,390.3 211.4,389.8 211.5,390.2 211.6,390.1 211.7,389.0 211.8,389.6 211.9,390.3 212.0,389.8 212.1,389.9 212.2,390.1 212.3,390.0 212.4,389.0 212.5,389.7 212.6,389.4 212.7,390.0 212.8,389.3 212.9,389.7 213.0,390.0 213.1,389.7 213.2,389.3 213.3,390.3 213.4,389.0 213.5,389.2 213.6,390.2 213.7,390.4 213.8,390.2 213.9,390.3 214.0,389.2 214.1,389.0 214.2,389.9 214.3,389.4 214.4,389.0 214.5,389.5 214.6,389.4 214.7,390.4 214.8,388.9 214.9,389.1 215.0,389.0 215.1,389.3 215.2,389.6 215.3,390.2 215.4,389.6 215.5,389.0 215.6,389.6 215.7,390.0 215.8,390.2 215.9,389.3 216.0,390.4 216.1,389.2"/>
<rect x="33.9" y="299" width="186.48" height="95.17" fill="none" stroke="#000" stroke-width="1.65"/>
<path d="M40.56 393.88v2.6M57.21 393.88v1.6M73.86 393.88v2.6M90.51 393.88v1.6M107.16 393.88v2.6M123.81 393.88v1.6M140.46 393.88v2.6M157.11 393.88v1.6M173.76 393.88v2.6M190.41 393.88v1.6M207.06 393.88v2.6M33.9 389.75h-2.7M33.9 381.5h-1.6M33.9 373.25h-2.7M33.9 365h-1.6M33.9 356.75h-2.7M33.9 348.5h-1.6M33.9 340.25h-2.7M33.9 332h-1.6M33.9 323.75h-2.7M33.9 315.5h-1.6M33.9 307.25h-2.7" stroke="#000" stroke-width="1.1" fill="none"/>
<text x="40.56" y="406.77" font-size="8.3" text-anchor="middle" font-weight="normal" fill="#000" stroke="#000" stroke-width="0.1" >450</text>
<text x="73.86" y="406.77" font-size="8.3" text-anchor="middle" font-weight="normal" fill="#000" stroke="#000" stroke-width="0.1" >500</text>
<text x="107.16" y="406.77" font-size="8.3" text-anchor="middle" font-weight="normal" fill="#000" stroke="#000" stroke-width="0.1" >550</text>
<text x="140.46" y="406.77" font-size="8.3" text-anchor="middle" font-weight="normal" fill="#000" stroke="#000" stroke-width="0.1" >600</text>
<text x="173.76" y="406.77" font-size="8.3" text-anchor="middle" font-weight="normal" fill="#000" stroke="#000" stroke-width="0.1" >650</text>
<text x="207.06" y="406.77" font-size="8.3" text-anchor="middle" font-weight="normal" fill="#000" stroke="#000" stroke-width="0.1" >700</text>
<text x="27.1" y="392.95" font-size="8.3" text-anchor="end" font-weight="normal" fill="#000" stroke="#000" stroke-width="0.1" >0.0</text>
<text x="27.1" y="376.45" font-size="8.3" text-anchor="end" font-weight="normal" fill="#000" stroke="#000" stroke-width="0.1" >0.2</text>
<text x="27.1" y="359.95" font-size="8.3" text-anchor="end" font-weight="normal" fill="#000" stroke="#000" stroke-width="0.1" >0.4</text>
<text x="27.1" y="343.45" font-size="8.3" text-anchor="end" font-weight="normal" fill="#000" stroke="#000" stroke-width="0.1" >0.6</text>
<text x="27.1" y="326.95" font-size="8.3" text-anchor="end" font-weight="normal" fill="#000" stroke="#000" stroke-width="0.1" >0.8</text>
<text x="27.1" y="310.45" font-size="8.3" text-anchor="end" font-weight="normal" fill="#000" stroke="#000" stroke-width="0.1" >1.0</text>
<text x="127.14" y="420.77" font-size="8.3" text-anchor="middle" font-weight="normal" fill="#000" stroke="#000" stroke-width="0.1" >Wavelength (nm)</text>
<text transform="translate(7.1,346.44) rotate(-90)" x="0" y="0" font-size="8.3" text-anchor="middle" fill="#000" stroke="#000" stroke-width="0.05">Normalized intensity (a.u.)</text>
<text x="179.7" y="310.7" font-size="7" text-anchor="start" font-weight="normal" fill="#000" stroke="#000" stroke-width="0.1" >940 nm</text>
<polyline fill="none" stroke="url(#wl7)" stroke-width="0.75" stroke-linejoin="round" points="264.2,389.6 264.3,390.0 264.4,389.8 264.5,390.4 264.6,389.5 264.7,390.2 264.8,389.6 264.9,390.1 265.0,389.1 265.1,389.7 265.2,389.4 265.3,390.2 265.4,390.2 265.5,390.0 265.6,390.5 265.7,389.0 265.8,389.2 265.9,389.5 266.0,389.6 266.1,390.4 266.2,390.1 266.3,389.3 266.4,389.1 266.5,389.4 266.6,389.0 266.7,389.5 266.8,390.5 266.9,388.9 267.0,389.5 267.1,388.9 267.2,389.8 267.3,389.5 267.4,389.3 267.5,390.5 267.6,389.5 267.7,389.4 267.8,390.4 267.9,389.3 268.0,389.2 268.1,389.9 268.2,389.7 268.3,390.1 268.4,389.1 268.5,390.3 268.6,389.8 268.7,390.2 268.8,388.8 268.9,389.3 269.0,388.9 269.1,387.9 269.2,388.3 269.3,387.5 269.4,386.5 269.5,385.0 269.6,387.5 269.7,380.4 269.8,374.3 269.9,371.0 270.0,364.9 270.1,355.8 270.2,368.6 270.3,351.5 270.4,309.6 270.5,354.0 270.6,328.3 270.7,338.9 270.8,346.6 270.9,354.4 271.0,373.1 271.1,386.5 271.2,371.2 271.3,378.8 271.4,388.3 271.5,388.9 271.6,387.9 271.7,387.5 271.8,389.2 271.9,388.4 272.0,388.3 272.1,389.1 272.2,389.7 272.3,386.2 272.4,382.4 272.5,382.1 272.6,380.5 272.7,381.9 272.8,382.0 272.9,386.5 273.0,387.9 273.1,388.9 273.2,386.4 273.3,387.9 273.4,388.7 273.5,389.6 273.6,389.4 273.7,389.9 273.8,389.6 273.9,390.0 274.0,389.7 274.1,390.1 274.2,390.4 274.3,390.4 274.4,389.5 274.5,389.6 274.6,389.7 274.7,389.5 274.8,390.0 274.9,389.9 275.0,390.4 275.1,390.0 275.2,390.5 275.3,390.0 275.4,389.2 275.5,390.4 275.6,390.4 275.7,389.1 275.8,389.2 275.9,390.4 276.0,389.1 276.1,389.3 276.2,390.2 276.3,389.5 276.4,389.2 276.5,389.5 276.6,389.2 276.7,388.9 276.8,389.4 276.9,390.1 277.0,390.0 277.1,390.1 277.2,389.5 277.3,390.0 277.4,389.0 277.5,389.4 277.6,389.6 277.7,390.2 277.8,390.1 277.9,390.5 278.0,389.6 278.1,390.1 278.2,389.7 278.3,389.9 278.4,389.4 278.5,389.5 278.6,389.9 278.7,389.5 278.8,389.0 278.9,389.8 279.0,388.9 279.1,389.2 279.2,388.9 279.3,389.8 279.4,390.2 279.5,389.6 279.6,390.4 279.7,389.7 279.8,389.8 279.9,390.0 280.0,389.1 280.1,390.4 280.2,389.3 280.3,389.4 280.4,388.9 280.5,389.1 280.6,389.8 280.7,390.5 280.8,389.6 280.9,388.9 281.0,389.6 281.1,389.4 281.2,389.0 281.3,389.4 281.4,389.5 281.5,390.2 281.6,390.3 281.7,390.0 281.8,389.3 281.9,389.4 282.0,389.7 282.1,390.2 282.2,389.2 282.3,390.4 282.4,389.3 282.5,388.9 282.6,389.5 282.7,389.6 282.8,390.0 282.9,389.9 283.0,389.1 283.1,390.0 283.2,390.4 283.3,390.1 283.4,390.2 283.5,390.1 283.6,389.0 283.7,390.1 283.8,390.3 283.9,390.1 284.0,390.2 284.1,390.5 284.2,390.3 284.3,389.8 284.4,389.3 284.5,389.8 284.6,389.1 284.7,390.2 284.8,389.3 284.9,390.2 285.0,390.4 285.1,390.3 285.2,389.3 285.3,389.7 285.4,389.1 285.5,389.5 285.6,389.9 285.7,389.2 285.8,390.1 285.9,390.3 286.0,388.9 286.1,390.0 286.2,389.5 286.3,389.6 286.4,390.0 286.5,389.3 286.6,390.0 286.7,389.8 286.8,390.3 286.9,390.2 287.0,389.2 287.1,390.4 287.2,389.0 287.3,389.2 287.4,389.7 287.5,390.1 287.6,389.6 287.7,389.9 287.8,389.1 287.9,389.0 288.0,390.0 288.1,389.5 288.2,390.1 288.3,390.4 288.4,390.3 288.5,389.6 288.6,388.9 288.7,389.6 288.8,389.8 288.9,389.3 289.0,389.0 289.1,389.8 289.2,389.5 289.3,389.3 289.4,390.0 289.5,390.2 289.6,389.9 289.7,390.1 289.8,389.1 289.9,390.2 290.0,390.3 290.1,389.5 290.2,389.0 290.3,389.7 290.4,389.0 290.5,389.4 290.6,389.4 290.7,389.7 290.8,389.6 290.9,389.1 291.0,390.5 291.1,390.1 291.2,389.9 291.3,390.4 291.4,389.9 291.5,389.0 291.6,390.2 291.7,389.9 291.8,390.1 291.9,389.3 292.0,389.7 292.1,389.3 292.2,389.8 292.3,389.2 292.4,389.0 292.5,389.9 292.6,389.6 292.7,389.8 292.8,389.6 292.9,388.8 293.0,389.4 293.1,389.9 293.2,389.2 293.3,389.4 293.4,390.0 293.5,390.4 293.6,389.8 293.7,390.3 293.8,389.4 293.9,390.1 294.0,389.5 294.1,389.5 294.2,390.4 294.3,390.1 294.4,389.3 294.5,389.5 294.6,389.1 294.7,389.0 294.8,390.2 294.9,389.8 295.0,390.0 295.1,389.8 295.2,389.8 295.3,388.9 295.4,390.0 295.5,388.9 295.6,389.5 295.7,389.3 295.8,389.6 295.9,389.7 296.0,389.8 296.1,389.6 296.2,389.4 296.3,388.9 296.4,390.4 296.5,390.4 296.6,389.0 296.7,389.8 296.8,390.2 296.9,389.6 297.0,389.7 297.1,388.9 297.2,389.9 297.3,390.4 297.4,388.9 297.5,390.0 297.6,390.2 297.7,390.3 297.8,389.6 297.9,390.4 298.0,390.3 298.1,390.3 298.2,390.5 298.3,389.0 298.4,390.4 298.5,389.2 298.6,389.3 298.7,389.7 298.8,389.5 298.9,390.5 299.0,388.9 299.1,388.8 299.2,389.2 299.3,390.3 299.4,390.1 299.5,389.1 299.6,390.4 299.7,390.5 299.8,389.6 299.9,389.0 300.0,390.3 300.1,389.8 300.2,389.7 300.3,389.3 300.4,389.6 300.5,389.2 300.6,390.2 300.7,389.2 300.8,389.4 300.9,389.2 301.0,389.2 301.1,389.5 301.2,389.9 301.3,390.4 301.4,390.1 301.5,388.9 301.6,390.3 301.7,389.1 301.8,390.4 301.9,389.2 302.0,390.3 302.1,389.4 302.2,389.4 302.3,389.8 302.4,390.2 302.5,389.4 302.6,389.1 302.7,390.5 302.8,389.9 302.9,390.3 303.0,389.8 303.1,389.5 303.2,389.0 303.3,388.9 303.4,389.3 303.5,390.3 303.6,389.1 303.7,389.6 303.8,389.4 303.9,390.2 304.0,390.1 304.1,390.2 304.2,389.4 304.3,389.1 304.4,390.4 304.5,390.0 304.6,389.0 304.7,390.1 304.8,389.0 304.9,390.4 305.0,389.1 305.1,389.4 305.2,389.1 305.3,389.6 305.4,390.1 305.5,389.4 305.6,389.9 305.7,389.3 305.8,390.2 305.9,389.3 306.0,390.4 306.1,390.2 306.2,389.5 306.3,389.5 306.4,389.6 306.5,389.4 306.6,389.9 306.7,390.0 306.8,389.5 306.9,389.8 307.0,389.8 307.1,389.4 307.2,389.5 307.3,389.7 307.4,389.8 307.5,389.6 307.6,389.2 307.7,389.5 307.8,389.4 307.9,389.8 308.0,388.9 308.1,389.9 308.2,390.2 308.3,389.1 308.4,389.8 308.5,389.2 308.6,389.9 308.7,390.3 308.8,389.1 308.9,389.2 309.0,389.7 309.1,388.9 309.2,389.6 309.3,389.7 309.4,389.4 309.5,389.6 309.6,389.5 309.7,390.5 309.8,389.7 309.9,390.5 310.0,389.5 310.1,389.6 310.2,390.2 310.3,389.3 310.4,390.2 310.5,388.9 310.6,389.0 310.7,390.4 310.8,389.0 310.9,389.1 311.0,389.9 311.1,389.8 311.2,389.4 311.3,389.4 311.4,390.3 311.5,389.3 311.6,389.8 311.7,389.6 311.8,390.2 311.9,388.9 312.0,390.2 312.1,389.6 312.2,390.4 312.3,389.9 312.4,389.1 312.5,389.9 312.6,389.7 312.7,389.7 312.8,389.6 312.9,388.9 313.0,389.4 313.1,390.1 313.2,389.0 313.3,389.5 313.4,390.4 313.5,389.4 313.6,390.1 313.7,389.2 313.8,389.4 313.9,388.9 314.0,390.2 314.1,389.8 314.2,390.5 314.3,389.5 314.4,389.6 314.5,390.2 314.6,389.8 314.7,388.9 314.8,389.8 314.9,389.7 315.0,389.4 315.1,390.1 315.2,389.1 315.3,390.3 315.4,390.1 315.5,389.6 315.6,388.9 315.7,389.2 315.8,390.3 315.9,389.7 316.0,390.0 316.1,389.3 316.2,389.8 316.3,389.9 316.4,389.2 316.5,389.7 316.6,389.8 316.7,389.0 316.8,389.3 316.9,388.9 317.0,389.1 317.1,389.9 317.2,389.9 317.3,388.9 317.4,389.7 317.5,389.0 317.6,388.5 317.7,389.5 317.8,389.6 317.9,388.2 318.0,388.0 318.1,388.7 318.2,388.5 318.3,389.5 318.4,389.3 318.5,388.0 318.6,389.0 318.7,388.5 318.8,388.8 318.9,387.4 319.0,388.3 319.1,386.9 319.2,386.7 319.3,386.5 319.4,386.5 319.5,387.4 319.6,387.0 319.7,387.0 319.8,387.0 319.9,385.5 320.0,387.8 320.1,387.6 320.2,387.0 320.3,386.4 320.4,387.2 320.5,387.5 320.6,386.2 320.7,386.4 320.8,387.1 320.9,387.3 321.0,387.7 321.1,387.8 321.2,386.9 321.3,387.2 321.4,387.8 321.5,388.3 321.6,388.2 321.7,388.7 321.8,388.3 321.9,388.4 322.0,387.6 322.1,388.3 322.2,389.1 322.3,388.6 322.4,388.7 322.5,388.5 322.6,388.0 322.7,387.8 322.8,388.4 322.9,387.8 323.0,388.4 323.1,389.1 323.2,388.8 323.3,389.6 323.4,388.0 323.5,388.7 323.6,389.3 323.7,388.3 323.8,388.9 323.9,389.4 324.0,388.2 324.1,389.4 324.2,388.2 324.3,388.0 324.4,388.1 324.5,388.1 324.6,388.9 324.7,389.0 324.8,388.3 324.9,388.5 325.0,388.4 325.1,389.1 325.2,388.6 325.3,388.0 325.4,387.9 325.5,388.9 325.6,388.7 325.7,387.6 325.8,388.8 325.9,388.7 326.0,387.1 326.1,388.9 326.2,388.2 326.3,387.3 326.4,388.3 326.5,387.5 326.6,387.5 326.7,388.0 326.8,388.3 326.9,387.9 327.0,388.3 327.1,388.9 327.2,387.9 327.3,388.6 327.4,387.6 327.5,387.7 327.6,388.3 327.7,388.2 327.8,387.3 327.9,387.7 328.0,387.8 328.1,388.5 328.2,387.6 328.3,387.6 328.4,387.9 328.5,389.1 328.6,389.0 328.7,388.3 328.8,388.7 328.9,388.8 329.0,389.1 329.1,389.7 329.2,389.7 329.3,389.4 329.4,388.7 329.5,388.8 329.6,389.6 329.7,389.5 329.8,389.3 329.9,390.0 330.0,388.9 330.1,390.1 330.2,389.1 330.3,389.9 330.4,389.2 330.5,390.3 330.6,389.8 330.7,389.2 330.8,389.7 330.9,389.8 331.0,389.2 331.1,390.1 331.2,389.0 331.3,389.5 331.4,389.8 331.5,389.0 331.6,389.7 331.7,389.3 331.8,389.8 331.9,388.9 332.0,389.3 332.1,388.9 332.2,389.8 332.3,390.0 332.4,389.6 332.5,389.9 332.6,389.4 332.7,389.0 332.8,389.5 332.9,389.7 333.0,389.3 333.1,390.0 333.2,387.5 333.3,388.4 333.4,389.4 333.5,388.8 333.6,386.9 333.7,387.0 333.8,388.1 333.9,386.1 334.0,385.4 334.1,387.0 334.2,384.7 334.3,383.1 334.4,387.6 334.5,386.4 334.6,386.5 334.7,383.2 334.8,382.8 334.9,381.8 335.0,380.7 335.1,384.3 335.2,387.4 335.3,387.0 335.4,387.0 335.5,381.6 335.6,380.8 335.7,379.4 335.8,384.9 335.9,381.4 336.0,384.8 336.1,385.3 336.2,383.6 336.3,380.3 336.4,384.4 336.5,384.5 336.6,380.2 336.7,382.3 336.8,380.3 336.9,376.2 337.0,379.5 337.1,381.1 337.2,381.8 337.3,382.7 337.4,383.9 337.5,386.0 337.6,384.2 337.7,379.4 337.8,382.1 337.9,384.1 338.0,385.4 338.1,386.0 338.2,384.3 338.3,383.8 338.4,381.8 338.5,384.5 338.6,385.0 338.7,384.9 338.8,382.4 338.9,383.1 339.0,381.3 339.1,382.7 339.2,386.5 339.3,384.8 339.4,383.9 339.5,383.1 339.6,380.9 339.7,385.0 339.8,386.1 339.9,387.4 340.0,381.2 340.1,382.7 340.2,385.6 340.3,385.9 340.4,384.0 340.5,386.0 340.6,384.1 340.7,383.2 340.8,384.7 340.9,382.0 341.0,385.7 341.1,386.2 341.2,384.2 341.3,382.3 341.4,384.1 341.5,380.1 341.6,381.2 341.7,384.5 341.8,384.9 341.9,384.4 342.0,383.7 342.1,382.9 342.2,384.8 342.3,381.9 342.4,383.6 342.5,380.0 342.6,384.5 342.7,381.0 342.8,379.0 342.9,384.3 343.0,380.3 343.1,377.8 343.2,379.6 343.3,380.3 343.4,381.3 343.5,381.2 343.6,386.2 343.7,382.4 343.8,385.5 343.9,381.1 344.0,383.9 344.1,382.5 344.2,387.5 344.3,381.3 344.4,387.4 344.5,382.1 344.6,386.6 344.7,387.0 344.8,385.9 344.9,382.7 345.0,386.7 345.1,386.8 345.2,387.0 345.3,387.2 345.4,387.9 345.5,388.3 345.6,386.5 345.7,386.6 345.8,385.8 345.9,386.3 346.0,386.9 346.1,387.1 346.2,386.5 346.3,387.7 346.4,387.4 346.5,387.4 346.6,386.8 346.7,388.3 346.8,387.8 346.9,389.0 347.0,387.9 347.1,388.7 347.1,389.1 347.2,388.8 347.3,389.6 347.4,387.9 347.5,388.5 347.6,388.7 347.7,389.6 347.8,389.6 347.9,389.2 348.0,389.6 348.1,389.1 348.2,389.9 348.3,390.1 348.4,389.0 348.5,390.2 348.6,390.2 348.7,390.1 348.8,389.6 348.9,390.0 349.0,389.7 349.1,389.9 349.2,389.6 349.3,389.4 349.4,389.2 349.5,389.6 349.6,389.6 349.7,389.2 349.8,390.0 349.9,390.2 350.0,389.3 350.1,390.2 350.2,390.1 350.3,390.3 350.4,390.4 350.5,389.1 350.6,389.4 350.7,389.9 350.8,389.7 350.9,389.0 351.0,389.0 351.1,390.1 351.2,389.7 351.3,389.8 351.4,390.0 351.5,389.9 351.6,390.2 351.7,389.1 351.8,389.7 351.9,388.9 352.0,389.6 352.1,390.1 352.2,389.8 352.3,390.2 352.4,389.5 352.5,389.2 352.6,389.0 352.7,389.8 352.8,389.3 352.9,389.7 353.0,389.1 353.1,389.9 353.2,389.7 353.3,390.1 353.4,389.2 353.5,390.2 353.6,389.7 353.7,389.2 353.8,390.2 353.9,390.2 354.0,390.4 354.1,389.9 354.2,389.0 354.3,389.4 354.4,389.4 354.5,389.3 354.6,390.3 354.7,389.0 354.8,389.9 354.9,390.2 355.0,388.9 355.1,389.5 355.2,390.3 355.3,390.1 355.4,390.3 355.5,389.0 355.6,389.5 355.7,389.3 355.8,390.0 355.9,390.1 356.0,389.9 356.1,389.3 356.2,389.8 356.3,389.9 356.4,389.0 356.5,389.4 356.6,389.0 356.7,389.3 356.8,389.2 356.9,389.2 357.0,390.0 357.1,389.2 357.2,389.9 357.3,389.2 357.4,389.6 357.5,389.3 357.6,389.9 357.7,390.3 357.8,389.1 357.9,390.2 358.0,389.5 358.1,389.5 358.2,389.1 358.3,390.1 358.4,389.8 358.5,390.0 358.6,390.3 358.7,390.1 358.8,389.5 358.9,390.0 359.0,390.4 359.1,390.0 359.2,389.3 359.3,389.7 359.4,389.4 359.5,390.2 359.6,389.5 359.7,389.0 359.8,389.1 359.9,390.3 360.0,389.9 360.1,389.0 360.2,390.4 360.3,390.3 360.4,389.3 360.5,390.2 360.6,390.1 360.7,389.8 360.8,389.7 360.9,390.1 361.0,389.1 361.1,390.5 361.2,388.9 361.3,389.3 361.4,390.4 361.5,389.9 361.6,389.8 361.7,389.3 361.8,389.4 361.9,389.4 362.0,389.6 362.1,389.9 362.2,389.8 362.3,389.4 362.4,389.3 362.5,389.0 362.6,390.1 362.7,390.1 362.8,389.1 362.9,389.2 363.0,389.5 363.1,390.5 363.2,390.3 363.3,390.0 363.4,389.1 363.5,389.9 363.6,390.4 363.7,389.5 363.8,390.1 363.9,389.1 364.0,390.4 364.1,390.1 364.2,389.1 364.3,389.2 364.4,390.2 364.5,389.4 364.6,389.5 364.7,390.4 364.8,390.1 364.9,389.8 365.0,389.8 365.1,389.5 365.2,389.0 365.3,389.0 365.4,389.9 365.5,389.4 365.6,389.5 365.7,390.3 365.8,389.6 365.9,389.5 366.0,390.2 366.1,389.9 366.2,389.3 366.3,389.6 366.4,389.1 366.5,389.4 366.6,389.5 366.7,389.3 366.8,390.1 366.9,390.2 367.0,389.9 367.1,390.0 367.2,389.0 367.3,390.2 367.4,390.0 367.5,389.0 367.6,388.8 367.7,389.0 367.8,390.1 367.9,389.6 368.0,390.1 368.1,389.4 368.2,390.5 368.3,388.9 368.4,390.3 368.5,388.9 368.6,390.3 368.7,390.2 368.8,390.5 368.9,389.4 369.0,390.1 369.1,390.2 369.2,390.1 369.3,388.9 369.4,390.3 369.5,389.9 369.6,390.3 369.7,390.5 369.8,389.8 369.9,389.0 370.0,389.4 370.1,389.9 370.2,390.0 370.3,390.1 370.4,389.8 370.5,389.0 370.6,388.9 370.7,390.1 370.8,389.6 370.9,390.0 371.0,390.3 371.1,389.0 371.2,389.0 371.3,390.4 371.4,390.4 371.5,390.3 371.6,388.9 371.7,390.0 371.8,390.4 371.9,388.9 372.0,389.3 372.1,390.4 372.2,390.4 372.3,389.1 372.4,390.2 372.5,389.4 372.6,389.4 372.7,390.4 372.8,389.8 372.9,389.2 373.0,389.0 373.1,390.0 373.2,389.9 373.3,388.9 373.4,390.0 373.5,389.5 373.6,389.5 373.7,390.5 373.8,390.0 373.9,389.6 374.0,390.2 374.1,390.0 374.2,389.3 374.3,388.9 374.4,389.3 374.5,390.0 374.6,390.2 374.7,389.8 374.8,389.0 374.9,389.6 375.0,389.9 375.1,389.5 375.2,390.3 375.3,389.4 375.4,390.3 375.5,389.5 375.6,389.9 375.7,389.1 375.8,389.3 375.9,390.0 376.0,389.3 376.1,390.1 376.2,389.2 376.3,389.1 376.4,389.4 376.5,389.0 376.6,389.7 376.7,390.4 376.8,389.4 376.9,390.1 377.0,388.9 377.1,390.4 377.2,390.1 377.3,390.3 377.4,390.4 377.5,390.1 377.6,390.4 377.7,390.0 377.8,390.3 377.9,390.0 378.0,388.9 378.1,390.1 378.2,390.2 378.3,389.3 378.4,390.0 378.5,390.3 378.6,388.9 378.7,389.3 378.8,389.9 378.9,389.4 379.0,389.5 379.1,390.3 379.2,390.3 379.3,389.5 379.4,389.3 379.5,389.6 379.6,390.1 379.7,390.4 379.8,390.3 379.9,388.9 380.0,390.3 380.1,389.5 380.2,389.3 380.3,390.1 380.4,390.4 380.5,389.3 380.6,390.3 380.7,390.2 380.8,390.4 380.9,389.2 381.0,389.7 381.1,389.6 381.2,389.9 381.3,390.3 381.4,390.2 381.5,389.7 381.6,389.9 381.7,389.5 381.8,389.8 381.9,390.0 382.0,389.2 382.1,389.1 382.2,389.7 382.3,389.1 382.4,389.5 382.5,389.4 382.6,390.3 382.7,390.3 382.8,389.5 382.9,389.2 383.0,390.1 383.1,389.0 383.2,389.8 383.3,390.1 383.4,389.7 383.5,390.3 383.6,390.2 383.7,389.5 383.8,389.0 383.9,390.2 384.0,389.0 384.1,390.1 384.2,389.2 384.3,389.1 384.4,390.1 384.5,389.6 384.6,389.3 384.7,389.1 384.8,390.0 384.9,390.2 385.0,389.3 385.1,389.1 385.2,389.1 385.3,389.1 385.4,389.6 385.5,389.9 385.6,390.1 385.7,389.7 385.8,389.0 385.9,389.1 386.0,389.9 386.1,389.8 386.2,389.0 386.3,389.1 386.4,389.0 386.5,389.5 386.6,389.7 386.7,389.1 386.8,389.8 386.9,389.4 387.0,390.1 387.1,390.3 387.2,389.9 387.3,389.1 387.4,390.2 387.5,389.8 387.6,390.4 387.7,389.8 387.8,389.0 387.9,389.5 388.0,389.1 388.1,389.2 388.2,390.1 388.3,389.6 388.4,389.9 388.5,389.3 388.6,389.9 388.7,389.5 388.8,388.9 388.9,390.0 389.0,389.2 389.1,389.0 389.2,388.9 389.3,390.3 389.4,390.2 389.5,390.3 389.6,388.9 389.7,389.6 389.8,388.9 389.9,390.4 390.0,389.7 390.1,390.0 390.2,389.2 390.3,389.7 390.4,389.1 390.5,389.1 390.6,389.4 390.7,389.1 390.8,389.0 390.9,390.1 391.0,389.7 391.1,389.1 391.2,389.5 391.3,389.3 391.4,390.1 391.5,389.8 391.6,390.1 391.7,389.7 391.8,389.4 391.9,390.4 392.0,389.1 392.1,389.6 392.2,388.9 392.3,389.2 392.4,389.7 392.5,390.5 392.6,390.2 392.7,389.1 392.8,389.3 392.9,389.0 393.0,389.8 393.1,389.0 393.2,390.5 393.3,390.4 393.4,389.6 393.5,389.5 393.6,389.2 393.7,389.0 393.8,390.1 393.9,389.8 394.0,388.8 394.1,389.3 394.2,389.8 394.3,389.1 394.4,390.3 394.5,388.9 394.6,389.9 394.7,389.1 394.8,389.2 394.9,390.2 395.0,390.0 395.1,389.5 395.2,390.4 395.3,389.8 395.4,389.0 395.5,390.1 395.6,390.1 395.7,389.0 395.8,389.9 395.9,389.2 396.0,390.2 396.1,389.4 396.2,389.7 396.3,389.3 396.4,389.1 396.5,389.8 396.6,390.1 396.7,389.5 396.8,388.9 396.9,389.0 397.0,389.7 397.1,389.6 397.2,389.7 397.3,388.8 397.4,389.4 397.5,388.9 397.6,390.2 397.7,390.3 397.8,389.1 397.9,388.7 398.0,389.2 398.1,388.8 398.2,390.1 398.3,390.1 398.4,389.9 398.5,389.7 398.6,389.6 398.7,389.1 398.8,388.9 398.9,389.5 399.0,390.0 399.1,389.6 399.2,389.8 399.3,389.8 399.4,389.4 399.5,389.2 399.6,389.7 399.7,388.6 399.8,389.2 399.9,389.6 400.0,389.8 400.1,388.4 400.2,388.1 400.3,389.7 400.4,388.8 400.5,388.7 400.6,388.8 400.7,390.0 400.8,388.8 400.9,387.7 401.0,388.7 401.1,388.3 401.2,389.9 401.3,389.0 401.4,388.2 401.5,388.6 401.6,388.5 401.7,387.9 401.8,388.2 401.9,389.1 402.0,389.2 402.1,387.9 402.2,388.3 402.3,388.0 402.4,388.2 402.5,388.6 402.6,389.1 402.7,387.4 402.8,388.3 402.9,388.3 403.0,388.5 403.1,387.4 403.2,389.0 403.3,388.7 403.4,387.7 403.5,388.5 403.6,387.1 403.7,387.9 403.8,386.8 403.9,389.4 404.0,389.3 404.1,387.3 404.2,386.4 404.3,386.8 404.4,387.9 404.5,387.0 404.6,385.8 404.7,387.9 404.8,386.8 404.9,388.7 405.0,388.1 405.1,388.7 405.2,388.8 405.3,385.6 405.4,387.3 405.5,387.6 405.6,386.7 405.7,386.2 405.8,388.4 405.9,387.8 406.0,388.1 406.1,387.0 406.2,388.8 406.3,387.0 406.4,387.0 406.5,386.9 406.6,385.8 406.7,387.9 406.8,384.8 406.9,388.8 407.0,387.5 407.1,386.6 407.2,387.9 407.3,385.5 407.4,385.8 407.5,384.0 407.6,388.2 407.7,388.1 407.8,387.7 407.9,384.2 408.0,387.6 408.1,388.1 408.2,385.6 408.3,387.8 408.4,384.6 408.5,385.8 408.6,388.2 408.7,384.0 408.8,385.8 408.9,382.8 409.0,383.1 409.1,388.0 409.2,383.4 409.3,386.7 409.4,386.2 409.5,384.7 409.6,385.1 409.7,385.9 409.8,386.5 409.9,385.3 410.0,384.0 410.1,387.0 410.2,384.5 410.3,388.8 410.4,388.5 410.5,383.6 410.6,385.0 410.7,385.6 410.8,384.3 410.9,386.7 411.0,384.8 411.1,387.5 411.2,383.9 411.3,385.1 411.4,384.8 411.5,387.4 411.6,382.5 411.7,383.4 411.8,383.5 411.9,387.0 412.0,387.1 412.1,386.2 412.2,386.4 412.3,385.5 412.4,387.2 412.5,387.4 412.6,386.5 412.7,384.3 412.8,388.2 412.9,389.5 413.0,386.1 413.1,388.6 413.2,387.9 413.3,386.0 413.4,387.8 413.5,387.5 413.6,387.1 413.7,385.9 413.8,386.1 413.9,388.2 414.0,388.6 414.1,386.3 414.2,385.0 414.3,384.0 414.4,388.0 414.5,386.2 414.6,384.4 414.7,384.1 414.8,386.6 414.9,384.5 415.0,386.6 415.1,385.7 415.2,386.5 415.3,387.9 415.4,386.8 415.5,386.1 415.6,387.5 415.7,388.0 415.8,387.6 415.9,388.1 416.0,386.9 416.1,387.0 416.2,387.0 416.3,387.4 416.4,386.7 416.5,384.7 416.6,385.5 416.7,388.2 416.8,388.4 416.9,385.7 417.0,387.8 417.1,386.5 417.2,387.7 417.3,388.1 417.4,388.8 417.5,385.1 417.6,383.2 417.7,386.6 417.8,383.6 417.9,387.2 418.0,385.2 418.1,387.7 418.2,385.6 418.3,385.4 418.4,385.0 418.5,388.4 418.6,387.6 418.7,386.9 418.8,386.1 418.9,387.1 419.0,384.9 419.1,384.6 419.2,386.8 419.3,386.9 419.4,388.0 419.5,382.9 419.6,385.0 419.7,384.4 419.8,388.6 419.9,387.5 420.0,385.9 420.1,388.8 420.2,383.7 420.3,386.8 420.4,387.7 420.5,389.1 420.6,387.5 420.7,387.5 420.8,384.7 420.9,386.9 421.0,387.6 421.1,385.5 421.2,387.0 421.3,387.2 421.4,386.1 421.5,388.3 421.6,385.6 421.7,388.9 421.8,388.7 421.9,387.6 422.0,386.1 422.1,388.1 422.2,384.7 422.3,385.0 422.4,388.1 422.5,387.0 422.6,384.9 422.7,386.0 422.8,388.5 422.9,387.4 423.0,388.1 423.1,388.0 423.2,386.8 423.3,387.8 423.4,389.1 423.5,386.9 423.6,388.4 423.7,388.7 423.8,387.0 423.9,387.6 424.0,386.3 424.1,387.3 424.2,386.4 424.3,387.4 424.4,389.0 424.5,388.1 424.6,387.6 424.7,387.9 424.8,386.8 424.9,389.4 425.0,389.7 425.1,388.3 425.2,387.0 425.3,388.0 425.4,388.4 425.5,389.1 425.6,386.8 425.7,388.6 425.8,386.6 425.9,388.4 426.0,388.2 426.1,388.3 426.2,387.8 426.3,387.7 426.4,388.4 426.5,388.4 426.6,388.0 426.7,389.9 426.8,388.4 426.9,388.7 427.0,388.7 427.1,387.8 427.2,388.5 427.3,389.6 427.4,388.5 427.5,388.1 427.6,389.3 427.7,389.1 427.8,389.3 427.9,389.2 428.0,389.4 428.1,389.0 428.2,389.1 428.3,388.9 428.4,389.1 428.5,388.3 428.6,389.4 428.7,389.7 428.8,388.4 428.9,388.8 429.0,390.0 429.1,389.5 429.2,389.5 429.3,388.8 429.4,390.1 429.5,389.6 429.6,389.0 429.7,389.6 429.8,389.0 429.9,388.8 430.0,389.6 430.1,389.1 430.2,389.6 430.3,389.5 430.4,388.9 430.5,389.4 430.6,389.3 430.7,390.1 430.8,389.8 430.9,390.2 431.0,389.3 431.1,388.9 431.2,390.0 431.3,389.9 431.4,389.0 431.5,389.1 431.6,390.1 431.7,389.1 431.8,388.8 431.9,389.3 432.0,389.2 432.1,389.3 432.2,390.5 432.3,390.0 432.4,390.0 432.5,389.2 432.6,389.2 432.7,390.2 432.8,390.0 432.9,389.2 433.0,389.3 433.1,390.3 433.2,389.6 433.3,389.3 433.4,389.3 433.5,390.3 433.6,389.5 433.7,389.5 433.8,388.9 433.9,389.6 434.0,390.5 434.1,389.7 434.2,389.6 434.3,390.2 434.4,390.4 434.5,389.3 434.6,390.0 434.7,389.9 434.8,389.1 434.9,389.7 435.0,390.2 435.1,389.4 435.2,390.1 435.3,390.1 435.4,388.8 435.5,389.0 435.6,389.6 435.7,390.3 435.8,389.6 435.9,390.0 436.0,389.4 436.1,389.1 436.2,389.0 436.3,389.8 436.4,390.1 436.5,389.5 436.6,390.2 436.7,390.4 436.8,389.8 436.9,389.4 437.0,389.4 437.1,389.1 437.2,388.9 437.3,390.1 437.4,388.9 437.5,390.3 437.6,389.4 437.7,389.5 437.8,390.2 437.9,390.4 438.0,389.9 438.1,390.5 438.2,389.4 438.3,390.4 438.4,389.2 438.5,389.7 438.6,390.1 438.7,389.0 438.8,389.9 438.9,390.1 439.0,389.1 439.1,388.9 439.2,389.2 439.3,389.7 439.4,389.8 439.5,388.9 439.6,390.4 439.7,389.3 439.8,389.6 439.9,390.2 440.0,390.1 440.1,389.2 440.2,390.4 440.3,389.5 440.4,390.0 440.5,389.9 440.6,389.4 440.7,389.1 440.8,389.1 440.9,389.2 441.0,390.5 441.1,390.3 441.2,389.6 441.3,389.1 441.4,389.9 441.5,389.9 441.6,389.7 441.7,389.1 441.8,388.9 441.9,390.3 442.0,388.9 442.1,389.5 442.2,389.2 442.3,389.2 442.4,390.2 442.5,389.0 442.6,389.5 442.7,389.0 442.8,390.4 442.9,389.9 443.0,389.1 443.1,390.0 443.2,389.7 443.3,389.0 443.4,389.8 443.5,390.0 443.6,390.3 443.7,389.6 443.8,389.1 443.9,389.6 444.0,389.9 444.1,390.0 444.2,389.7 444.3,389.3 444.4,390.4 444.5,390.4 444.6,389.9 444.7,389.8 444.8,390.1 444.9,389.9 445.0,389.6 445.1,389.5 445.2,389.1 445.3,389.7 445.4,389.7 445.5,389.3 445.6,389.7 445.7,390.3 445.8,389.6 445.9,390.0 446.0,390.3 446.1,390.3"/>
<rect x="263.9" y="299" width="186.48" height="95.17" fill="none" stroke="#000" stroke-width="1.65"/>
<path d="M270.56 393.88v2.6M287.21 393.88v1.6M303.86 393.88v2.6M320.51 393.88v1.6M337.16 393.88v2.6M353.81 393.88v1.6M370.46 393.88v2.6M387.11 393.88v1.6M403.76 393.88v2.6M420.41 393.88v1.6M437.06 393.88v2.6M263.9 389.75h-2.7M263.9 381.5h-1.6M263.9 373.25h-2.7M263.9 365h-1.6M263.9 356.75h-2.7M263.9 348.5h-1.6M263.9 340.25h-2.7M263.9 332h-1.6M263.9 323.75h-2.7M263.9 315.5h-1.6M263.9 307.25h-2.7" stroke="#000" stroke-width="1.1" fill="none"/>
<text x="270.56" y="406.77" font-size="8.3" text-anchor="middle" font-weight="normal" fill="#000" stroke="#000" stroke-width="0.1" >450</text>
<text x="303.86" y="406.77" font-size="8.3" text-anchor="middle" font-weight="normal" fill="#000" stroke="#000" stroke-width="0.1" >500</text>
<text x="337.16" y="406.77" font-size="8.3" text-anchor="middle" font-weight="normal" fill="#000" stroke="#000" stroke-width="0.1" >550</text>
<text x="370.46" y="406.77" font-size="8.3" text-anchor="middle" font-weight="normal" fill="#000" stroke="#000" stroke-width="0.1" >600</text>
<text x="403.76" y="406.77" font-size="8.3" text-anchor="middle" font-weight="normal" fill="#000" stroke="#000" stroke-width="0.1" >650</text>
<text x="437.06" y="406.77" font-size="8.3" text-anchor="middle" font-weight="normal" fill="#000" stroke="#000" stroke-width="0.1" >700</text>
<text x="257.1" y="392.95" font-size="8.3" text-anchor="end" font-weight="normal" fill="#000" stroke="#000" stroke-width="0.1" >0.0</text>
<text x="257.1" y="376.45" font-size="8.3" text-anchor="end" font-weight="normal" fill="#000" stroke="#000" stroke-width="0.1" >0.2</text>
<text x="257.1" y="359.95" font-size="8.3" text-anchor="end" font-weight="normal" fill="#000" stroke="#000" stroke-width="0.1" >0.4</text>
<text x="257.1" y="343.45" font-size="8.3" text-anchor="end" font-weight="normal" fill="#000" stroke="#000" stroke-width="0.1" >0.6</text>
<text x="257.1" y="326.95" font-size="8.3" text-anchor="end" font-weight="normal" fill="#000" stroke="#000" stroke-width="0.1" >0.8</text>
<text x="257.1" y="310.45" font-size="8.3" text-anchor="end" font-weight="normal" fill="#000" stroke="#000" stroke-width="0.1" >1.0</text>
<text x="357.14" y="420.77" font-size="8.3" text-anchor="middle" font-weight="normal" fill="#000" stroke="#000" stroke-width="0.1" >Wavelength (nm)</text>
<text transform="translate(237.1,346.44) rotate(-90)" x="0" y="0" font-size="8.3" text-anchor="middle" fill="#000" stroke="#000" stroke-width="0.05">Normalized intensity (a.u.)</text>
<text x="414.6" y="310.7" font-size="7" text-anchor="start" font-weight="normal" fill="#000" stroke="#000" stroke-width="0.1" >900 nm</text>
<g clip-path="url(#cieclip)">
<rect x="505.5" y="176" width="12" height="1.02" fill="url(#r176)"/>
<rect x="503.5" y="177" width="16.5" height="1.02" fill="url(#r177)"/>
<rect x="502" y="178" width="20.5" height="1.02" fill="url(#r178)"/>
<rect x="501" y="179" width="23.5" height="1.02" fill="url(#r179)"/>
<rect x="500" y="180" width="26.5" height="1.02" fill="url(#r180)"/>
<rect x="499.5" y="181" width="28.5" height="1.02" fill="url(#r181)"/>
<rect x="499" y="182" width="31" height="1.02" fill="url(#r182)"/>
<rect x="498.5" y="183" width="33" height="1.02" fill="url(#r183)"/>
<rect x="498" y="184" width="35" height="1.02" fill="url(#r184)"/>
<rect x="497.5" y="185" width="37" height="1.02" fill="url(#r185)"/>
<rect x="497" y="186" width="39" height="1.02" fill="url(#r186)"/>
<rect x="496.5" y="187" width="41" height="1.02" fill="url(#r187)"/>
<rect x="496" y="188" width="42.5" height="1.02" fill="url(#r188)"/>
<rect x="495.5" y="189" width="44.5" height="1.02" fill="url(#r189)"/>
<rect x="495.5" y="190" width="46" height="1.02" fill="url(#r190)"/>
<rect x="495" y="191" width="47.5" height="1.02" fill="url(#r191)"/>
<rect x="495" y="192" width="49" height="1.02" fill="url(#r192)"/>
<rect x="494.5" y="193" width="50.5" height="1.02" fill="url(#r193)"/>
<rect x="494.5" y="194" width="52" height="1.02" fill="url(#r194)"/>
<rect x="494" y="195" width="53.5" height="1.02" fill="url(#r195)"/>
<rect x="494" y="196" width="54.5" height="1.02" fill="url(#r196)"/>
<rect x="493.5" y="197" width="56.5" height="1.02" fill="url(#r197)"/>
<rect x="493.5" y="198" width="57.5" height="1.02" fill="url(#r198)"/>
<rect x="493" y="199" width="59" height="1.02" fill="url(#r199)"/>
<rect x="493" y="200" width="60" height="1.02" fill="url(#r200)"/>
<rect x="493" y="201" width="61.5" height="1.02" fill="url(#r201)"/>
<rect x="493" y="202" width="62.5" height="1.02" fill="url(#r202)"/>
<rect x="492.5" y="203" width="64" height="1.02" fill="url(#r203)"/>
<rect x="492.5" y="204" width="65" height="1.02" fill="url(#r204)"/>
<rect x="492.5" y="205" width="66" height="1.02" fill="url(#r205)"/>
<rect x="492.5" y="206" width="67" height="1.02" fill="url(#r206)"/>
<rect x="492" y="207" width="68.5" height="1.02" fill="url(#r207)"/>
<rect x="492" y="208" width="69.5" height="1.02" fill="url(#r208)"/>
<rect x="492" y="209" width="71" height="1.02" fill="url(#r209)"/>
<rect x="492" y="210" width="72" height="1.02" fill="url(#r210)"/>
<rect x="492" y="211" width="73" height="1.02" fill="url(#r211)"/>
<rect x="492" y="212" width="74" height="1.02" fill="url(#r212)"/>
<rect x="491.5" y="213" width="75.5" height="1.02" fill="url(#r213)"/>
<rect x="491.5" y="214" width="76.5" height="1.02" fill="url(#r214)"/>
<rect x="491.5" y="215" width="77.5" height="1.02" fill="url(#r215)"/>
<rect x="491.5" y="216" width="78.5" height="1.02" fill="url(#r216)"/>
<rect x="491.5" y="217" width="79.5" height="1.02" fill="url(#r217)"/>
<rect x="491.5" y="218" width="80.5" height="1.02" fill="url(#r218)"/>
<rect x="491.5" y="219" width="81.5" height="1.02" fill="url(#r219)"/>
<rect x="491.5" y="220" width="82" height="1.02" fill="url(#r220)"/>
<rect x="491.5" y="221" width="83" height="1.02" fill="url(#r221)"/>
<rect x="491.5" y="222" width="84" height="1.02" fill="url(#r222)"/>
<rect x="491.5" y="223" width="85" height="1.02" fill="url(#r223)"/>
<rect x="491.5" y="224" width="86" height="1.02" fill="url(#r224)"/>
<rect x="491.5" y="225" width="87" height="1.02" fill="url(#r225)"/>
<rect x="491.5" y="226" width="88" height="1.02" fill="url(#r226)"/>
<rect x="491.5" y="227" width="89" height="1.02" fill="url(#r227)"/>
<rect x="491.5" y="228" width="90" height="1.02" fill="url(#r228)"/>
<rect x="491.5" y="229" width="91" height="1.02" fill="url(#r229)"/>
<rect x="491.5" y="230" width="92" height="1.02" fill="url(#r230)"/>
<rect x="491.5" y="231" width="93" height="1.02" fill="url(#r231)"/>
<rect x="491.5" y="232" width="94" height="1.02" fill="url(#r232)"/>
<rect x="491.5" y="233" width="94.5" height="1.02" fill="url(#r233)"/>
<rect x="491.5" y="234" width="95.5" height="1.02" fill="url(#r234)"/>
<rect x="491.5" y="235" width="96.5" height="1.02" fill="url(#r235)"/>
<rect x="491.5" y="236" width="97.5" height="1.02" fill="url(#r236)"/>
<rect x="491.5" y="237" width="98.5" height="1.02" fill="url(#r237)"/>
<rect x="491.5" y="238" width="99.5" height="1.02" fill="url(#r238)"/>
<rect x="491.5" y="239" width="100.5" height="1.02" fill="url(#r239)"/>
<rect x="491.5" y="240" width="101.5" height="1.02" fill="url(#r240)"/>
<rect x="492" y="241" width="102" height="1.02" fill="url(#r241)"/>
<rect x="492" y="242" width="103" height="1.02" fill="url(#r242)"/>
<rect x="492" y="243" width="103.5" height="1.02" fill="url(#r243)"/>
<rect x="492" y="244" width="104.5" height="1.02" fill="url(#r244)"/>
<rect x="492" y="245" width="105.5" height="1.02" fill="url(#r245)"/>
<rect x="492" y="246" width="106.5" height="1.02" fill="url(#r246)"/>
<rect x="492" y="247" width="107.5" height="1.02" fill="url(#r247)"/>
<rect x="492" y="248" width="108.5" height="1.02" fill="url(#r248)"/>
<rect x="492.5" y="249" width="109" height="1.02" fill="url(#r249)"/>
<rect x="492.5" y="250" width="110" height="1.02" fill="url(#r250)"/>
<rect x="492.5" y="251" width="110.5" height="1.02" fill="url(#r251)"/>
<rect x="492.5" y="252" width="111.5" height="1.02" fill="url(#r252)"/>
<rect x="492.5" y="253" width="112.5" height="1.02" fill="url(#r253)"/>
<rect x="492.5" y="254" width="113.5" height="1.02" fill="url(#r254)"/>
<rect x="493" y="255" width="114" height="1.02" fill="url(#r255)"/>
<rect x="493" y="256" width="115" height="1.02" fill="url(#r256)"/>
<rect x="493" y="257" width="116" height="1.02" fill="url(#r257)"/>
<rect x="493" y="258" width="116.5" height="1.02" fill="url(#r258)"/>
<rect x="493" y="259" width="117.5" height="1.02" fill="url(#r259)"/>
<rect x="493.5" y="260" width="118" height="1.02" fill="url(#r260)"/>
<rect x="493.5" y="261" width="119" height="1.02" fill="url(#r261)"/>
<rect x="493.5" y="262" width="120" height="1.02" fill="url(#r262)"/>
<rect x="493.5" y="263" width="121" height="1.02" fill="url(#r263)"/>
<rect x="493.5" y="264" width="122" height="1.02" fill="url(#r264)"/>
<rect x="494" y="265" width="122.5" height="1.02" fill="url(#r265)"/>
<rect x="494" y="266" width="123" height="1.02" fill="url(#r266)"/>
<rect x="494" y="267" width="124" height="1.02" fill="url(#r267)"/>
<rect x="494" y="268" width="125" height="1.02" fill="url(#r268)"/>
<rect x="494.5" y="269" width="125.5" height="1.02" fill="url(#r269)"/>
<rect x="494.5" y="270" width="126.5" height="1.02" fill="url(#r270)"/>
<rect x="494.5" y="271" width="127.5" height="1.02" fill="url(#r271)"/>
<rect x="494.5" y="272" width="128.5" height="1.02" fill="url(#r272)"/>
<rect x="495" y="273" width="128.5" height="1.02" fill="url(#r273)"/>
<rect x="495" y="274" width="129.5" height="1.02" fill="url(#r274)"/>
<rect x="495" y="275" width="130.5" height="1.02" fill="url(#r275)"/>
<rect x="495" y="276" width="131.5" height="1.02" fill="url(#r276)"/>
<rect x="495.5" y="277" width="132" height="1.02" fill="url(#r277)"/>
<rect x="495.5" y="278" width="133" height="1.02" fill="url(#r278)"/>
<rect x="495.5" y="279" width="134" height="1.02" fill="url(#r279)"/>
<rect x="495.5" y="280" width="135" height="1.02" fill="url(#r280)"/>
<rect x="496" y="281" width="135" height="1.02" fill="url(#r281)"/>
<rect x="496" y="282" width="136" height="1.02" fill="url(#r282)"/>
<rect x="496" y="283" width="137" height="1.02" fill="url(#r283)"/>
<rect x="496.5" y="284" width="137.5" height="1.02" fill="url(#r284)"/>
<rect x="496.5" y="285" width="138.5" height="1.02" fill="url(#r285)"/>
<rect x="496.5" y="286" width="139.5" height="1.02" fill="url(#r286)"/>
<rect x="497" y="287" width="140" height="1.02" fill="url(#r287)"/>
<rect x="497" y="288" width="140.5" height="1.02" fill="url(#r288)"/>
<rect x="497" y="289" width="141.5" height="1.02" fill="url(#r289)"/>
<rect x="497" y="290" width="142.5" height="1.02" fill="url(#r290)"/>
<rect x="497.5" y="291" width="143" height="1.02" fill="url(#r291)"/>
<rect x="497.5" y="292" width="144" height="1.02" fill="url(#r292)"/>
<rect x="497.5" y="293" width="145" height="1.02" fill="url(#r293)"/>
<rect x="498" y="294" width="145.5" height="1.02" fill="url(#r294)"/>
<rect x="498" y="295" width="146.5" height="1.02" fill="url(#r295)"/>
<rect x="498.5" y="296" width="146.5" height="1.02" fill="url(#r296)"/>
<rect x="498.5" y="297" width="147.5" height="1.02" fill="url(#r297)"/>
<rect x="498.5" y="298" width="148.5" height="1.02" fill="url(#r298)"/>
<rect x="499" y="299" width="149" height="1.02" fill="url(#r299)"/>
<rect x="499" y="300" width="150" height="1.02" fill="url(#r300)"/>
<rect x="499" y="301" width="151" height="1.02" fill="url(#r301)"/>
<rect x="499.5" y="302" width="151.5" height="1.02" fill="url(#r302)"/>
<rect x="499.5" y="303" width="152.5" height="1.02" fill="url(#r303)"/>
<rect x="499.5" y="304" width="153" height="1.02" fill="url(#r304)"/>
<rect x="500" y="305" width="153.5" height="1.02" fill="url(#r305)"/>
<rect x="500" y="306" width="154.5" height="1.02" fill="url(#r306)"/>
<rect x="500.5" y="307" width="155" height="1.02" fill="url(#r307)"/>
<rect x="500.5" y="308" width="156" height="1.02" fill="url(#r308)"/>
<rect x="500.5" y="309" width="157" height="1.02" fill="url(#r309)"/>
<rect x="501" y="310" width="157.5" height="1.02" fill="url(#r310)"/>
<rect x="501" y="311" width="158" height="1.02" fill="url(#r311)"/>
<rect x="501" y="312" width="159" height="1.02" fill="url(#r312)"/>
<rect x="501.5" y="313" width="159.5" height="1.02" fill="url(#r313)"/>
<rect x="501.5" y="314" width="160.5" height="1.02" fill="url(#r314)"/>
<rect x="502" y="315" width="161" height="1.02" fill="url(#r315)"/>
<rect x="502" y="316" width="162" height="1.02" fill="url(#r316)"/>
<rect x="502.5" y="317" width="162.5" height="1.02" fill="url(#r317)"/>
<rect x="502.5" y="318" width="163.5" height="1.02" fill="url(#r318)"/>
<rect x="502.5" y="319" width="164" height="1.02" fill="url(#r319)"/>
<rect x="503" y="320" width="161.5" height="1.02" fill="url(#r320)"/>
<rect x="503" y="321" width="159.5" height="1.02" fill="url(#r321)"/>
<rect x="503.5" y="322" width="157" height="1.02" fill="url(#r322)"/>
<rect x="503.5" y="323" width="155" height="1.02" fill="url(#r323)"/>
<rect x="504" y="324" width="152.5" height="1.02" fill="url(#r324)"/>
<rect x="504" y="325" width="150.5" height="1.02" fill="url(#r325)"/>
<rect x="504.5" y="326" width="148" height="1.02" fill="url(#r326)"/>
<rect x="504.5" y="327" width="146" height="1.02" fill="url(#r327)"/>
<rect x="505" y="328" width="143.5" height="1.02" fill="url(#r328)"/>
<rect x="505" y="329" width="141.5" height="1.02" fill="url(#r329)"/>
<rect x="505.5" y="330" width="139" height="1.02" fill="url(#r330)"/>
<rect x="505.5" y="331" width="137" height="1.02" fill="url(#r331)"/>
<rect x="506" y="332" width="134.5" height="1.02" fill="url(#r332)"/>
<rect x="506" y="333" width="132.5" height="1.02" fill="url(#r333)"/>
<rect x="506.5" y="334" width="130" height="1.02" fill="url(#r334)"/>
<rect x="506.5" y="335" width="128" height="1.02" fill="url(#r335)"/>
<rect x="507" y="336" width="125.5" height="1.02" fill="url(#r336)"/>
<rect x="507" y="337" width="123.5" height="1.02" fill="url(#r337)"/>
<rect x="507.5" y="338" width="121" height="1.02" fill="url(#r338)"/>
<rect x="507.5" y="339" width="119" height="1.02" fill="url(#r339)"/>
<rect x="508" y="340" width="116.5" height="1.02" fill="url(#r340)"/>
<rect x="508" y="341" width="114.5" height="1.02" fill="url(#r341)"/>
<rect x="508.5" y="342" width="112" height="1.02" fill="url(#r342)"/>
<rect x="509" y="343" width="109.5" height="1.02" fill="url(#r343)"/>
<rect x="509" y="344" width="107.5" height="1.02" fill="url(#r344)"/>
<rect x="509.5" y="345" width="105" height="1.02" fill="url(#r345)"/>
<rect x="510" y="346" width="102.5" height="1.02" fill="url(#r346)"/>
<rect x="510" y="347" width="100.5" height="1.02" fill="url(#r347)"/>
<rect x="510.5" y="348" width="98" height="1.02" fill="url(#r348)"/>
<rect x="511" y="349" width="95.5" height="1.02" fill="url(#r349)"/>
<rect x="511" y="350" width="93.5" height="1.02" fill="url(#r350)"/>
<rect x="511.5" y="351" width="91" height="1.02" fill="url(#r351)"/>
<rect x="512" y="352" width="88.5" height="1.02" fill="url(#r352)"/>
<rect x="512" y="353" width="86.5" height="1.02" fill="url(#r353)"/>
<rect x="512.5" y="354" width="83.5" height="1.02" fill="url(#r354)"/>
<rect x="513" y="355" width="81" height="1.02" fill="url(#r355)"/>
<rect x="513" y="356" width="79" height="1.02" fill="url(#r356)"/>
<rect x="513.5" y="357" width="76.5" height="1.02" fill="url(#r357)"/>
<rect x="514" y="358" width="74" height="1.02" fill="url(#r358)"/>
<rect x="514.5" y="359" width="71.5" height="1.02" fill="url(#r359)"/>
<rect x="514.5" y="360" width="69.5" height="1.02" fill="url(#r360)"/>
<rect x="515" y="361" width="67" height="1.02" fill="url(#r361)"/>
<rect x="515.5" y="362" width="64.5" height="1.02" fill="url(#r362)"/>
<rect x="516" y="363" width="62" height="1.02" fill="url(#r363)"/>
<rect x="516" y="364" width="60" height="1.02" fill="url(#r364)"/>
<rect x="516.5" y="365" width="57.5" height="1.02" fill="url(#r365)"/>
<rect x="517" y="366" width="55" height="1.02" fill="url(#r366)"/>
<rect x="517.5" y="367" width="52.5" height="1.02" fill="url(#r367)"/>
<rect x="518" y="368" width="50" height="1.02" fill="url(#r368)"/>
<rect x="518.5" y="369" width="47.5" height="1.02" fill="url(#r369)"/>
<rect x="519" y="370" width="45" height="1.02" fill="url(#r370)"/>
<rect x="519.5" y="371" width="42.5" height="1.02" fill="url(#r371)"/>
<rect x="520" y="372" width="40" height="1.02" fill="url(#r372)"/>
<rect x="520.5" y="373" width="37.5" height="1.02" fill="url(#r373)"/>
<rect x="521" y="374" width="35" height="1.02" fill="url(#r374)"/>
<rect x="522" y="375" width="32" height="1.02" fill="url(#r375)"/>
<rect x="522.5" y="376" width="29.5" height="1.02" fill="url(#r376)"/>
<rect x="523" y="377" width="27" height="1.02" fill="url(#r377)"/>
<rect x="524" y="378" width="24" height="1.02" fill="url(#r378)"/>
<rect x="525" y="379" width="21" height="1.02" fill="url(#r379)"/>
<rect x="526" y="380" width="18" height="1.02" fill="url(#r380)"/>
<rect x="527" y="381" width="15" height="1.02" fill="url(#r381)"/>
<rect x="528" y="382" width="12" height="1.02" fill="url(#r382)"/>
<rect x="529" y="383" width="9" height="1.02" fill="url(#r383)"/>
<rect x="530" y="384" width="6" height="1.02" fill="url(#r384)"/>
</g>
<path d="M533.11 385.14 L533.06 385.14 L532.99 385.14 L532.91 385.14 L532.81 385.14 L532.72 385.13 L532.63 385.13 L532.54 385.12 L532.48 385.11 L532.43 385.10 L532.39 385.08 L532.36 385.06 L532.33 385.04 L532.31 385.02 L532.28 384.99 L532.25 384.96 L532.22 384.93 L532.18 384.91 L532.15 384.88 L532.11 384.84 L532.07 384.81 L532.03 384.78 L531.99 384.74 L531.94 384.70 L531.89 384.66 L531.84 384.61 L531.79 384.56 L531.73 384.51 L531.67 384.46 L531.61 384.41 L531.55 384.35 L531.49 384.29 L531.42 384.23 L531.35 384.16 L531.29 384.10 L531.22 384.03 L531.15 383.96 L531.07 383.88 L531.00 383.81 L530.92 383.73 L530.83 383.65 L530.75 383.56 L530.66 383.48 L530.57 383.39 L530.48 383.31 L530.38 383.21 L530.28 383.12 L530.17 383.02 L530.06 382.91 L529.94 382.80 L529.82 382.69 L529.69 382.58 L529.56 382.45 L529.43 382.33 L529.29 382.20 L529.15 382.07 L529.00 381.93 L528.85 381.79 L528.70 381.64 L528.54 381.50 L528.38 381.35 L528.21 381.19 L528.04 381.02 L527.87 380.85 L527.68 380.67 L527.50 380.47 L527.31 380.28 L527.11 380.08 L526.91 379.86 L526.70 379.64 L526.48 379.41 L526.26 379.16 L526.04 378.90 L525.81 378.63 L525.58 378.36 L525.35 378.08 L525.11 377.78 L524.86 377.47 L524.60 377.12 L524.33 376.74 L524.04 376.32 L523.75 375.87 L523.44 375.39 L523.12 374.89 L522.79 374.36 L522.45 373.79 L522.10 373.17 L521.74 372.51 L521.36 371.80 L520.98 371.05 L520.58 370.27 L520.18 369.45 L519.76 368.58 L519.33 367.66 L518.89 366.67 L518.43 365.61 L517.96 364.47 L517.47 363.27 L516.97 362.01 L516.45 360.68 L515.92 359.29 L515.38 357.82 L514.82 356.27 L514.25 354.63 L513.66 352.88 L513.04 351.05 L512.40 349.13 L511.75 347.14 L511.07 345.06 L510.39 342.88 L509.71 340.60 L509.02 338.21 L508.34 335.70 L507.67 333.08 L506.98 330.35 L506.29 327.52 L505.60 324.58 L504.91 321.54 L504.22 318.41 L503.54 315.19 L502.87 311.88 L502.20 308.46 L501.52 304.91 L500.85 301.26 L500.18 297.51 L499.52 293.71 L498.89 289.87 L498.29 286.01 L497.72 282.15 L497.18 278.26 L496.65 274.30 L496.15 270.29 L495.67 266.26 L495.22 262.22 L494.81 258.22 L494.44 254.27 L494.13 250.40 L493.85 246.58 L493.61 242.76 L493.41 238.97 L493.25 235.22 L493.14 231.53 L493.07 227.92 L493.06 224.40 L493.12 221.00 L493.23 217.67 L493.39 214.40 L493.60 211.20 L493.86 208.09 L494.18 205.08 L494.55 202.20 L494.98 199.47 L495.47 196.90 L496.02 194.47 L496.63 192.16 L497.30 189.98 L498.03 187.93 L498.80 186.03 L499.62 184.28 L500.47 182.70 L501.34 181.29 L502.26 180.07 L503.22 179.03 L504.24 178.16 L505.28 177.44 L506.36 176.86 L507.45 176.40 L508.55 176.05 L509.66 175.78 L510.78 175.64 L511.93 175.66 L513.09 175.82 L514.27 176.08 L515.46 176.42 L516.66 176.82 L517.85 177.26 L519.04 177.70 L520.22 178.18 L521.42 178.73 L522.62 179.35 L523.82 180.00 L525.02 180.69 L526.21 181.40 L527.39 182.12 L528.55 182.83 L529.70 183.54 L530.85 184.28 L531.98 185.02 L533.10 185.79 L534.21 186.57 L535.32 187.36 L536.43 188.16 L537.53 188.97 L538.63 189.79 L539.72 190.62 L540.80 191.47 L541.87 192.33 L542.95 193.19 L544.02 194.07 L545.09 194.96 L546.16 195.86 L547.23 196.77 L548.29 197.70 L549.36 198.63 L550.42 199.58 L551.48 200.53 L552.55 201.50 L553.60 202.47 L554.66 203.44 L555.72 204.43 L556.77 205.42 L557.83 206.42 L558.88 207.43 L559.93 208.45 L560.98 209.47 L562.03 210.49 L563.08 211.53 L564.13 212.56 L565.17 213.60 L566.22 214.65 L567.27 215.71 L568.32 216.76 L569.37 217.83 L570.42 218.89 L571.47 219.96 L572.52 221.04 L573.57 222.11 L574.62 223.20 L575.67 224.28 L576.73 225.37 L577.78 226.46 L578.83 227.56 L579.88 228.65 L580.93 229.75 L581.97 230.85 L583.02 231.95 L584.07 233.05 L585.11 234.16 L586.16 235.26 L587.20 236.36 L588.24 237.47 L589.29 238.57 L590.33 239.67 L591.37 240.78 L592.42 241.88 L593.46 242.98 L594.50 244.09 L595.53 245.19 L596.56 246.28 L597.59 247.38 L598.62 248.47 L599.64 249.57 L600.67 250.66 L601.68 251.75 L602.70 252.84 L603.71 253.92 L604.72 255.00 L605.72 256.07 L606.72 257.14 L607.72 258.21 L608.71 259.28 L609.70 260.34 L610.69 261.39 L611.66 262.44 L612.64 263.48 L613.61 264.52 L614.57 265.55 L615.53 266.58 L616.48 267.61 L617.43 268.62 L618.37 269.63 L619.30 270.63 L620.23 271.62 L621.15 272.60 L622.06 273.58 L622.97 274.54 L623.87 275.50 L624.76 276.45 L625.64 277.40 L626.51 278.33 L627.37 279.25 L628.22 280.16 L629.06 281.06 L629.90 281.96 L630.72 282.84 L631.53 283.72 L632.33 284.58 L633.11 285.42 L633.88 286.24 L634.63 287.05 L635.37 287.84 L636.10 288.62 L636.81 289.38 L637.51 290.13 L638.20 290.86 L638.88 291.59 L639.54 292.31 L640.21 293.01 L640.86 293.71 L641.50 294.40 L642.13 295.08 L642.75 295.74 L643.36 296.39 L643.95 297.02 L644.53 297.64 L645.09 298.24 L645.64 298.82 L646.17 299.39 L646.70 299.94 L647.21 300.48 L647.70 301.01 L648.19 301.53 L648.66 302.03 L649.12 302.53 L649.57 303.01 L650.01 303.48 L650.43 303.93 L650.85 304.38 L651.25 304.81 L651.64 305.23 L652.02 305.64 L652.39 306.04 L652.75 306.43 L653.10 306.80 L653.44 307.17 L653.77 307.52 L654.09 307.86 L654.40 308.20 L654.70 308.52 L655.00 308.84 L655.29 309.14 L655.56 309.44 L655.83 309.72 L656.09 310.00 L656.35 310.27 L656.60 310.54 L656.84 310.80 L657.08 311.05 L657.31 311.30 L657.53 311.53 L657.74 311.76 L657.95 311.99 L658.16 312.21 L658.36 312.43 L658.56 312.64 L658.75 312.85 L658.94 313.05 L659.13 313.25 L659.31 313.45 L659.48 313.64 L659.66 313.82 L659.83 314.00 L659.99 314.18 L660.15 314.35 L660.31 314.52 L660.46 314.69 L660.61 314.85 L660.75 315.00 L660.89 315.15 L661.03 315.30 L661.16 315.44 L661.30 315.58 L661.42 315.72 L661.55 315.84 L661.66 315.97 L661.78 316.09 L661.89 316.21 L662.00 316.32 L662.11 316.43 L662.21 316.54 L662.30 316.64 L662.39 316.74 L662.48 316.83 L662.57 316.93 L662.65 317.02 L662.73 317.10 L662.81 317.19 L662.89 317.27 L662.96 317.35 L663.03 317.43 L663.10 317.50 L663.17 317.57 L663.23 317.64 L663.29 317.70 L663.35 317.77 L663.41 317.83 L663.46 317.89 L663.52 317.95 L663.57 318.00 L663.62 318.05 L663.66 318.10 L663.71 318.15 L663.75 318.20 L663.79 318.24 L663.83 318.28 L663.86 318.32 L663.89 318.35 L663.92 318.38 L663.95 318.41 L663.98 318.44 L664.01 318.48 L664.04 318.51 L664.07 318.54 L664.09 318.57 L664.12 318.60 L664.15 318.62 L664.17 318.65 L664.20 318.68 L664.22 318.70 L664.24 318.73 L664.26 318.75 L664.29 318.77 L664.31 318.79 L664.32 318.82 L664.34 318.84 L664.36 318.86 L664.38 318.88 L664.41 318.90 L664.43 318.92 L664.45 318.95 L664.47 318.97 L664.49 318.99 L664.51 319.01 L664.53 319.04 L664.55 319.06 L664.57 319.08 L664.59 319.10 L664.61 319.12 L664.62 319.14 L664.64 319.16 L664.66 319.17 L664.67 319.19 L664.69 319.21 L664.70 319.22 L664.72 319.24 L664.73 319.25 L664.74 319.27 L664.75 319.28 L664.76 319.29 L664.77 319.30 L664.78 319.31 L664.79 319.32 L664.80 319.33 L664.81 319.33 L664.81 319.34 L664.82 319.35 L664.82 319.35 L664.83 319.36 L664.83 319.36 L664.84 319.36 L664.84 319.37 L664.84 319.37 L664.85 319.38 L664.85 319.38 L664.85 319.38 L664.85 319.38 L664.85 319.39 Z" fill="none" stroke="#000" stroke-width="1.2" stroke-linejoin="round"/>
<rect x="492.2" y="159.06" width="188" height="227.34" fill="none" stroke="#000" stroke-width="1.6"/>
<path d="M492.2 386.4v2.6M503.95 386.4v1.5M515.7 386.4v2.6M527.45 386.4v1.5M539.2 386.4v2.6M550.95 386.4v1.5M562.7 386.4v2.6M574.45 386.4v1.5M586.2 386.4v2.6M597.95 386.4v1.5M609.7 386.4v2.6M621.45 386.4v1.5M633.2 386.4v2.6M644.95 386.4v1.5M656.7 386.4v2.6M668.45 386.4v1.5M680.2 386.4v2.6M492.2 386.4h-2.7M492.2 361.14h-1.5M492.2 335.88h-2.7M492.2 310.62h-1.5M492.2 285.36h-2.7M492.2 260.1h-1.5M492.2 234.84h-2.7M492.2 209.58h-1.5M492.2 184.32h-2.7M492.2 159.06h-1.5" stroke="#000" stroke-width="1.1" fill="none"/>
<text x="491.7" y="399.1" font-size="8.3" text-anchor="middle" font-weight="normal" fill="#000" stroke="#000" stroke-width="0.1" >0.0</text>
<text x="515.2" y="399.1" font-size="8.3" text-anchor="middle" font-weight="normal" fill="#000" stroke="#000" stroke-width="0.1" >0.1</text>
<text x="538.7" y="399.1" font-size="8.3" text-anchor="middle" font-weight="normal" fill="#000" stroke="#000" stroke-width="0.1" >0.2</text>
<text x="562.2" y="399.1" font-size="8.3" text-anchor="middle" font-weight="normal" fill="#000" stroke="#000" stroke-width="0.1" >0.3</text>
<text x="585.7" y="399.1" font-size="8.3" text-anchor="middle" font-weight="normal" fill="#000" stroke="#000" stroke-width="0.1" >0.4</text>
<text x="609.2" y="399.1" font-size="8.3" text-anchor="middle" font-weight="normal" fill="#000" stroke="#000" stroke-width="0.1" >0.5</text>
<text x="632.7" y="399.1" font-size="8.3" text-anchor="middle" font-weight="normal" fill="#000" stroke="#000" stroke-width="0.1" >0.6</text>
<text x="656.2" y="399.1" font-size="8.3" text-anchor="middle" font-weight="normal" fill="#000" stroke="#000" stroke-width="0.1" >0.7</text>
<text x="679.7" y="399.1" font-size="8.3" text-anchor="middle" font-weight="normal" fill="#000" stroke="#000" stroke-width="0.1" >0.8</text>
<text x="485.1" y="389.2" font-size="8.3" text-anchor="end" font-weight="normal" fill="#000" stroke="#000" stroke-width="0.1" >0.0</text>
<text x="485.1" y="338.68" font-size="8.3" text-anchor="end" font-weight="normal" fill="#000" stroke="#000" stroke-width="0.1" >0.2</text>
<text x="485.1" y="288.16" font-size="8.3" text-anchor="end" font-weight="normal" fill="#000" stroke="#000" stroke-width="0.1" >0.4</text>
<text x="485.1" y="237.64" font-size="8.3" text-anchor="end" font-weight="normal" fill="#000" stroke="#000" stroke-width="0.1" >0.6</text>
<text x="485.1" y="187.12" font-size="8.3" text-anchor="end" font-weight="normal" fill="#000" stroke="#000" stroke-width="0.1" >0.8</text>
<text x="506.2" y="166.9" font-size="7" text-anchor="middle" font-weight="normal" fill="#000" stroke="#000" stroke-width="0.1" >520</text>
<text x="551.2" y="189.4" font-size="7" text-anchor="middle" font-weight="normal" fill="#000" stroke="#000" stroke-width="0.1" >540</text>
<text x="585.8" y="223.1" font-size="7" text-anchor="middle" font-weight="normal" fill="#000" stroke="#000" stroke-width="0.1" >560</text>
<text x="618.6" y="257.8" font-size="7" text-anchor="middle" font-weight="normal" fill="#000" stroke="#000" stroke-width="0.1" >580</text>
<text x="645.4" y="286.9" font-size="7" text-anchor="middle" font-weight="normal" fill="#000" stroke="#000" stroke-width="0.1" >600</text>
<text x="660.3" y="303" font-size="7" text-anchor="middle" font-weight="normal" fill="#000" stroke="#000" stroke-width="0.1" >620</text>
<text x="478.3" y="253.8" font-size="7.8" text-anchor="middle" font-weight="normal" fill="#000" stroke="#000" stroke-width="0.1" >500</text>
<text x="502.1" y="360" font-size="7" text-anchor="middle" font-weight="normal" fill="#000" stroke="#000" stroke-width="0.1" >480</text>
<text x="515.1" y="384" font-size="7" text-anchor="middle" font-weight="normal" fill="#000" stroke="#000" stroke-width="0.1" >460</text>
<path d="M509.66 175.78L508.67 170.88M546.16 195.86L549.38 192.04M579.88 228.65L583.49 225.19M612.64 263.48L616.29 260.07M639.54 292.31L643.20 288.89M654.70 308.52L658.35 305.11M494.13 250.40L489.14 250.78M513.66 352.88L508.91 354.46M526.04 378.90L522.21 382.11" stroke="#000" stroke-width="1.0" fill="none"/>
<path d="M585.1 245.4 Q573.5 232.4 564.6 225.9" stroke="#243152" stroke-width="1.1" fill="none"/>
<polygon points="559.3,221.1 568.4,224.3 564.9,225.8 564.5,228.8" fill="#243152"/>
<path d="M561.0 236.0 Q561.4 266 558.6 291.5" stroke="#243152" stroke-width="1.1" fill="none"/>
<polygon points="558.3,298.2 556.0,287.2 558.6,290.8 561.9,288.2" fill="#243152"/>
<rect x="590.70" y="240.90" width="5.2" height="5.0" fill="#9a00ff"/>
<circle cx="585.60" cy="236.40" r="2.85" fill="#4000ff"/>
<polygon points="556.60,204.00 560.10,209.70 553.10,209.70" fill="#0a78ff"/>
<polygon points="548.40,202.70 551.80,206.20 548.40,209.70 545.00,206.20" fill="#00a600"/>
<polygon points="553.30,230.10 556.25,232.24 555.12,235.71 551.48,235.71 550.35,232.24" fill="#ffe800"/>
<polygon points="548.10,280.70 550.70,282.20 550.70,285.20 548.10,286.70 545.50,285.20 545.50,282.20" fill="#ff6a10"/>
<polygon points="551.10,301.50 551.98,303.89 554.52,303.99 552.53,305.56 553.22,308.01 551.10,306.60 548.98,308.01 549.67,305.56 547.68,303.99 550.22,303.89" fill="#ff0a0a"/>
<rect x="570" y="311.5" width="107.6" height="71.9" fill="#fceac8" fill-opacity="0.64"/>
<rect x="577.50" y="314.90" width="5.2" height="5.0" fill="#9a00ff"/>
<text x="588.6" y="320" font-size="7.35" text-anchor="start" font-weight="normal" fill="#111" stroke="#111" stroke-width="0.1" >1200 nm (0.422, 0.569)</text>
<circle cx="580.10" cy="327.30" r="2.85" fill="#4000ff"/>
<text x="588.6" y="329.9" font-size="7.35" text-anchor="start" font-weight="normal" fill="#111" stroke="#111" stroke-width="0.1" >1160 nm (0.389, 0.597)</text>
<polygon points="580.10,334.20 583.60,339.90 576.60,339.90" fill="#0a78ff"/>
<text x="588.6" y="340.2" font-size="7.35" text-anchor="start" font-weight="normal" fill="#111" stroke="#111" stroke-width="0.1" >1060 nm (0.267, 0.712)</text>
<polygon points="580.10,344.40 583.50,347.90 580.10,351.40 576.70,347.90" fill="#00a600"/>
<text x="588.6" y="350.5" font-size="7.35" text-anchor="start" font-weight="normal" fill="#111" stroke="#111" stroke-width="0.1" >1020 nm (0.233, 0.718)</text>
<polygon points="580.10,355.40 583.05,357.54 581.92,361.01 578.28,361.01 577.15,357.54" fill="#ffe800"/>
<text x="588.6" y="360.8" font-size="7.35" text-anchor="start" font-weight="normal" fill="#111" stroke="#111" stroke-width="0.1" >980 nm (0.253, 0.611)</text>
<polygon points="580.10,365.30 582.70,366.80 582.70,369.80 580.10,371.30 577.50,369.80 577.50,366.80" fill="#ff6a10"/>
<text x="588.6" y="370.9" font-size="7.35" text-anchor="start" font-weight="normal" fill="#111" stroke="#111" stroke-width="0.1" >940 nm (0.232, 0.408)</text>
<polygon points="580.10,375.10 580.98,377.49 583.52,377.59 581.53,379.16 582.22,381.61 580.10,380.20 577.98,381.61 578.67,379.16 576.68,377.59 579.22,377.49" fill="#ff0a0a"/>
<text x="588.6" y="381" font-size="7.35" text-anchor="start" font-weight="normal" fill="#111" stroke="#111" stroke-width="0.1" >900 nm (0.244, 0.323)</text>
<text x="586" y="411.6" font-size="8" text-anchor="middle" font-weight="normal" fill="#000" stroke="#000" stroke-width="0.1" >x</text>
<text transform="translate(466,272.73) rotate(-90)" font-size="8" text-anchor="middle" fill="#000" stroke="#000" stroke-width="0.1">y</text>
<text x="-0.3" y="11" font-size="14.6" text-anchor="start" font-weight="bold" fill="#000" stroke="#000" stroke-width="0" >a</text>
<text x="229.6" y="11" font-size="14.6" text-anchor="start" font-weight="bold" fill="#000" stroke="#000" stroke-width="0" >b</text>
<text x="458.6" y="11" font-size="14.6" text-anchor="start" font-weight="bold" fill="#000" stroke="#000" stroke-width="0" >c</text>
<text x="-0.4" y="155.2" font-size="14.6" text-anchor="start" font-weight="bold" fill="#000" stroke="#000" stroke-width="0" >d</text>
<text x="229.4" y="155.6" font-size="14.6" text-anchor="start" font-weight="bold" fill="#000" stroke="#000" stroke-width="0" >e</text>
<text x="-0.3" y="291.6" font-size="14.6" text-anchor="start" font-weight="bold" fill="#000" stroke="#000" stroke-width="0" >f</text>
<text x="229.6" y="291.6" font-size="14.6" text-anchor="start" font-weight="bold" fill="#000" stroke="#000" stroke-width="0" >g</text>
<text x="459" y="155.2" font-size="14.6" text-anchor="start" font-weight="bold" fill="#000" stroke="#000" stroke-width="0" >h</text></svg>
</body></html>
